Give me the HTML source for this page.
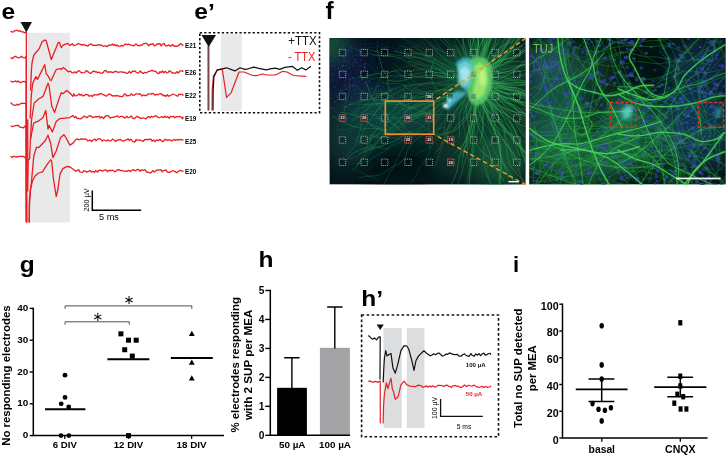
<!DOCTYPE html>
<html lang="en"><head><meta charset="utf-8"><title>Figure panels e-i</title>
<style>html,body{margin:0;padding:0;background:#fff}svg{display:block;will-change:transform}text{font-family:"Liberation Sans", sans-serif}</style></head><body>
<svg width="727" height="455" viewBox="0 0 727 455">
<rect width="727" height="455" fill="#fff"/>
<g>
<defs><clipPath id="cL"><rect x="329.4" y="38" width="196.3" height="146.6"/></clipPath><filter id="b1" x="-10%" y="-10%" width="120%" height="120%"><feGaussianBlur stdDeviation="1.1"/></filter><filter id="b04" x="-5%" y="-5%" width="110%" height="110%"><feGaussianBlur stdDeviation="0.55"/></filter><filter id="b12" x="-30%" y="-30%" width="160%" height="160%"><feGaussianBlur stdDeviation="11"/></filter></defs>
<g clip-path="url(#cL)">
<rect x="329.4" y="38" width="196.3" height="146.6" fill="#06141b"/>
<g filter="url(#b12)">
<ellipse cx="494" cy="105" rx="40" ry="85" fill="#0e402c" opacity="0.75"/>
<ellipse cx="472" cy="80" rx="28" ry="32" fill="#176a4a" opacity="0.7"/>
<ellipse cx="345" cy="72" rx="24" ry="40" fill="#121a48" opacity="0.65"/>
<ellipse cx="398" cy="114" rx="48" ry="26" fill="#114a46" opacity="0.85"/>
<ellipse cx="348" cy="135" rx="24" ry="32" fill="#0f403e" opacity="0.75"/>
<ellipse cx="400" cy="168" rx="40" ry="16" fill="#040c10" opacity="0.8"/>
<ellipse cx="425" cy="60" rx="22" ry="20" fill="#0c3a30" opacity="0.6"/>
<ellipse cx="455" cy="150" rx="22" ry="30" fill="#0e4536" opacity="0.6"/>
<ellipse cx="503" cy="162" rx="26" ry="26" fill="#1a6a44" opacity="0.6"/>
<ellipse cx="329" cy="42" rx="9" ry="14" fill="#2a8a4a" opacity="0.9"/>
</g>
<g fill="#3a46b4">
<circle cx="370.7" cy="113.55" r="0.65" opacity="0.54"/>
<circle cx="361.02" cy="124.81" r="0.72" opacity="0.56"/>
<circle cx="334.4" cy="77.37" r="0.4" opacity="0.49"/>
<circle cx="344.18" cy="72.77" r="0.72" opacity="0.42"/>
<circle cx="352.77" cy="85.89" r="0.8" opacity="0.67"/>
<circle cx="375.48" cy="51.6" r="0.41" opacity="0.46"/>
<circle cx="340.09" cy="78.21" r="0.78" opacity="0.48"/>
<circle cx="376.93" cy="119.16" r="0.45" opacity="0.76"/>
<circle cx="322.9" cy="87.93" r="0.54" opacity="0.54"/>
<circle cx="354.55" cy="84.85" r="0.75" opacity="0.42"/>
<circle cx="355.1" cy="59.87" r="0.79" opacity="0.75"/>
<circle cx="353.23" cy="32.22" r="0.63" opacity="0.66"/>
<circle cx="371.61" cy="99.37" r="0.73" opacity="0.4"/>
<circle cx="396.44" cy="51.8" r="0.56" opacity="0.48"/>
<circle cx="329.4" cy="86.03" r="0.8" opacity="0.49"/>
<circle cx="362.47" cy="80" r="0.69" opacity="0.8"/>
<circle cx="324.1" cy="78.79" r="0.62" opacity="0.67"/>
<circle cx="357.75" cy="114.43" r="0.62" opacity="0.61"/>
<circle cx="358.18" cy="92.95" r="0.54" opacity="0.76"/>
<circle cx="333.54" cy="107.91" r="0.52" opacity="0.35"/>
<circle cx="392.31" cy="97.84" r="0.71" opacity="0.49"/>
<circle cx="337.35" cy="40.97" r="0.76" opacity="0.78"/>
<circle cx="291.81" cy="122.78" r="0.78" opacity="0.6"/>
<circle cx="372.71" cy="56.98" r="0.55" opacity="0.42"/>
<circle cx="362.17" cy="66.72" r="0.43" opacity="0.7"/>
<circle cx="356.13" cy="47.33" r="0.73" opacity="0.33"/>
<circle cx="351.01" cy="100.31" r="0.57" opacity="0.39"/>
<circle cx="371.76" cy="88.37" r="0.76" opacity="0.79"/>
<circle cx="351.29" cy="47.18" r="0.5" opacity="0.78"/>
<circle cx="313.74" cy="71.01" r="0.41" opacity="0.41"/>
<circle cx="374.51" cy="37.12" r="0.75" opacity="0.6"/>
<circle cx="323.69" cy="93.95" r="0.74" opacity="0.45"/>
<circle cx="333.16" cy="73.36" r="0.71" opacity="0.31"/>
<circle cx="328.45" cy="16.46" r="0.41" opacity="0.6"/>
<circle cx="323" cy="36.55" r="0.63" opacity="0.43"/>
<circle cx="301.75" cy="116.1" r="0.76" opacity="0.37"/>
<circle cx="360.82" cy="84.73" r="0.41" opacity="0.52"/>
<circle cx="382.56" cy="119.99" r="0.66" opacity="0.36"/>
<circle cx="331.37" cy="72.25" r="0.6" opacity="0.41"/>
<circle cx="359.7" cy="92.88" r="0.55" opacity="0.65"/>
<circle cx="344.98" cy="75.43" r="0.68" opacity="0.74"/>
<circle cx="358.44" cy="30.8" r="0.4" opacity="0.53"/>
<circle cx="389.58" cy="95.82" r="0.47" opacity="0.66"/>
<circle cx="351.32" cy="119.7" r="0.53" opacity="0.32"/>
<circle cx="336.18" cy="92.94" r="0.76" opacity="0.45"/>
<circle cx="321.7" cy="77.33" r="0.78" opacity="0.35"/>
<circle cx="328.99" cy="58.9" r="0.69" opacity="0.78"/>
<circle cx="338.27" cy="116.91" r="0.61" opacity="0.58"/>
<circle cx="392.58" cy="97.32" r="0.79" opacity="0.48"/>
<circle cx="320.53" cy="155.63" r="0.44" opacity="0.34"/>
<circle cx="391.45" cy="100.03" r="0.7" opacity="0.52"/>
<circle cx="348.53" cy="74.27" r="0.66" opacity="0.52"/>
<circle cx="328.3" cy="75.07" r="0.56" opacity="0.41"/>
<circle cx="376.41" cy="86.7" r="0.5" opacity="0.65"/>
<circle cx="367.8" cy="38.5" r="0.58" opacity="0.42"/>
<circle cx="331.16" cy="98.56" r="0.65" opacity="0.78"/>
<circle cx="375.58" cy="93.78" r="0.6" opacity="0.66"/>
<circle cx="384.24" cy="48.18" r="0.65" opacity="0.68"/>
<circle cx="328.6" cy="31.5" r="0.68" opacity="0.64"/>
<circle cx="353.58" cy="138.17" r="0.55" opacity="0.61"/>
<circle cx="380" cy="16.01" r="0.8" opacity="0.3"/>
<circle cx="344.05" cy="99.56" r="0.56" opacity="0.37"/>
<circle cx="342.77" cy="74.39" r="0.52" opacity="0.77"/>
<circle cx="350.72" cy="47.96" r="0.44" opacity="0.78"/>
<circle cx="347.35" cy="60.43" r="0.53" opacity="0.62"/>
<circle cx="344.23" cy="58.91" r="0.78" opacity="0.46"/>
<circle cx="350.77" cy="130.15" r="0.46" opacity="0.64"/>
<circle cx="362.04" cy="112.66" r="0.51" opacity="0.49"/>
<circle cx="377.08" cy="66.98" r="0.57" opacity="0.61"/>
<circle cx="349.16" cy="94.4" r="0.55" opacity="0.44"/>
<circle cx="375.04" cy="141.64" r="0.41" opacity="0.71"/>
<circle cx="386.37" cy="61.19" r="0.41" opacity="0.55"/>
<circle cx="383.85" cy="87.02" r="0.68" opacity="0.42"/>
<circle cx="382.06" cy="79.62" r="0.44" opacity="0.45"/>
<circle cx="303.21" cy="94.28" r="0.55" opacity="0.37"/>
<circle cx="363.56" cy="29.52" r="0.61" opacity="0.32"/>
<circle cx="361.32" cy="103.34" r="0.62" opacity="0.41"/>
<circle cx="366.94" cy="28.79" r="0.77" opacity="0.74"/>
<circle cx="383.51" cy="81.94" r="0.43" opacity="0.75"/>
<circle cx="351.22" cy="32.44" r="0.48" opacity="0.33"/>
<circle cx="365.06" cy="44.17" r="0.65" opacity="0.54"/>
<circle cx="358.75" cy="54.68" r="0.51" opacity="0.48"/>
<circle cx="341.99" cy="114.21" r="0.76" opacity="0.34"/>
<circle cx="378.18" cy="91.33" r="0.67" opacity="0.39"/>
<circle cx="350.96" cy="87.32" r="0.41" opacity="0.55"/>
<circle cx="337.28" cy="42.37" r="0.46" opacity="0.35"/>
<circle cx="379.08" cy="63.87" r="0.56" opacity="0.65"/>
<circle cx="347.93" cy="45.39" r="0.43" opacity="0.71"/>
<circle cx="353.56" cy="85.56" r="0.54" opacity="0.57"/>
<circle cx="341.72" cy="65.95" r="0.68" opacity="0.55"/>
<circle cx="376.59" cy="122.83" r="0.72" opacity="0.75"/>
<circle cx="344.8" cy="60.92" r="0.71" opacity="0.75"/>
<circle cx="300.66" cy="65.75" r="0.79" opacity="0.5"/>
<circle cx="404.67" cy="55.32" r="0.72" opacity="0.31"/>
<circle cx="332.22" cy="107.86" r="0.64" opacity="0.68"/>
<circle cx="343.4" cy="65.22" r="0.77" opacity="0.57"/>
<circle cx="364.03" cy="65.56" r="0.8" opacity="0.58"/>
<circle cx="358.3" cy="34.26" r="0.75" opacity="0.48"/>
<circle cx="373.24" cy="91.69" r="0.47" opacity="0.57"/>
<circle cx="361.04" cy="54.5" r="0.45" opacity="0.31"/>
<circle cx="324" cy="94.56" r="0.41" opacity="0.63"/>
<circle cx="354.78" cy="90.46" r="0.77" opacity="0.56"/>
<circle cx="374.79" cy="58.13" r="0.45" opacity="0.42"/>
<circle cx="321.47" cy="95.7" r="0.71" opacity="0.68"/>
<circle cx="341.3" cy="61.26" r="0.57" opacity="0.49"/>
<circle cx="333.19" cy="79.39" r="0.62" opacity="0.53"/>
<circle cx="395.55" cy="89.13" r="0.63" opacity="0.7"/>
<circle cx="348.72" cy="34.41" r="0.8" opacity="0.49"/>
<circle cx="350.37" cy="79.45" r="0.67" opacity="0.59"/>
<circle cx="277.94" cy="34.6" r="0.48" opacity="0.41"/>
<circle cx="347.63" cy="28.85" r="0.59" opacity="0.33"/>
<circle cx="321.17" cy="114.74" r="0.6" opacity="0.53"/>
<circle cx="326.05" cy="102.32" r="0.64" opacity="0.65"/>
<circle cx="378.53" cy="44.26" r="0.55" opacity="0.43"/>
<circle cx="360.48" cy="31.04" r="0.77" opacity="0.4"/>
<circle cx="381.08" cy="31.57" r="0.43" opacity="0.45"/>
<circle cx="342.99" cy="66.7" r="0.73" opacity="0.43"/>
<circle cx="343.71" cy="57.4" r="0.49" opacity="0.4"/>
<circle cx="314.08" cy="78.65" r="0.49" opacity="0.64"/>
<circle cx="334.3" cy="111.63" r="0.55" opacity="0.4"/>
<circle cx="357.24" cy="85.21" r="0.68" opacity="0.51"/>
<circle cx="387.37" cy="116.92" r="0.66" opacity="0.31"/>
<circle cx="346.9" cy="42.17" r="0.58" opacity="0.55"/>
<circle cx="374.57" cy="71.86" r="0.65" opacity="0.62"/>
<circle cx="337.29" cy="96.6" r="0.7" opacity="0.62"/>
<circle cx="324.23" cy="86.67" r="0.49" opacity="0.69"/>
<circle cx="386.19" cy="82.83" r="0.58" opacity="0.41"/>
<circle cx="324.86" cy="59.47" r="0.43" opacity="0.55"/>
<circle cx="373.87" cy="119.65" r="0.53" opacity="0.46"/>
<circle cx="353.63" cy="86.28" r="0.47" opacity="0.38"/>
<circle cx="318.93" cy="41.18" r="0.49" opacity="0.36"/>
<circle cx="340.38" cy="75.12" r="0.56" opacity="0.68"/>
<circle cx="362.8" cy="118.08" r="0.62" opacity="0.34"/>
<circle cx="353.52" cy="114.48" r="0.44" opacity="0.4"/>
<circle cx="312.74" cy="54.89" r="0.61" opacity="0.63"/>
<circle cx="372.34" cy="79.31" r="0.53" opacity="0.76"/>
<circle cx="325.69" cy="114.93" r="0.41" opacity="0.55"/>
<circle cx="384" cy="48.76" r="0.63" opacity="0.39"/>
<circle cx="360.75" cy="73.08" r="0.79" opacity="0.69"/>
<circle cx="346.42" cy="45.39" r="0.47" opacity="0.47"/>
<circle cx="333.95" cy="44.18" r="0.56" opacity="0.7"/>
<circle cx="370.65" cy="85.32" r="0.44" opacity="0.46"/>
<circle cx="362.7" cy="34.45" r="0.46" opacity="0.45"/>
<circle cx="378.93" cy="103.75" r="0.58" opacity="0.42"/>
<circle cx="318.2" cy="116.42" r="0.57" opacity="0.65"/>
<circle cx="333.1" cy="56.01" r="0.62" opacity="0.48"/>
<circle cx="360.94" cy="107.89" r="0.52" opacity="0.47"/>
<circle cx="372.61" cy="133.03" r="0.57" opacity="0.4"/>
<circle cx="368.34" cy="81.71" r="0.75" opacity="0.47"/>
<circle cx="343.35" cy="61.05" r="0.66" opacity="0.53"/>
<circle cx="349.49" cy="45.01" r="0.55" opacity="0.44"/>
<circle cx="314.4" cy="49.54" r="0.68" opacity="0.54"/>
<circle cx="328.05" cy="128.11" r="0.74" opacity="0.37"/>
<circle cx="334.25" cy="36.08" r="0.67" opacity="0.78"/>
<circle cx="365.07" cy="64.02" r="0.8" opacity="0.46"/>
<circle cx="304.16" cy="128.65" r="0.47" opacity="0.5"/>
<circle cx="338.53" cy="62.67" r="0.51" opacity="0.7"/>
<circle cx="321.88" cy="49.06" r="0.72" opacity="0.74"/>
<circle cx="387.07" cy="46.83" r="0.79" opacity="0.55"/>
<circle cx="343.37" cy="47.06" r="0.79" opacity="0.63"/>
<circle cx="319.87" cy="94.85" r="0.52" opacity="0.36"/>
<circle cx="342.16" cy="87.6" r="0.4" opacity="0.35"/>
<circle cx="312.92" cy="90.97" r="0.42" opacity="0.62"/>
<circle cx="373.95" cy="98.77" r="0.52" opacity="0.52"/>
<circle cx="346.13" cy="50.91" r="0.56" opacity="0.66"/>
<circle cx="368.6" cy="94.64" r="0.68" opacity="0.72"/>
<circle cx="370.35" cy="75.31" r="0.65" opacity="0.46"/>
<circle cx="338.16" cy="28.13" r="0.45" opacity="0.47"/>
<circle cx="372.6" cy="68.18" r="0.65" opacity="0.71"/>
<circle cx="344.47" cy="124.46" r="0.4" opacity="0.47"/>
<circle cx="363.03" cy="99.56" r="0.49" opacity="0.31"/>
<circle cx="356.85" cy="62.25" r="0.63" opacity="0.58"/>
<circle cx="379.21" cy="35.58" r="0.65" opacity="0.38"/>
<circle cx="352.74" cy="65.8" r="0.77" opacity="0.45"/>
<circle cx="351.71" cy="96.86" r="0.56" opacity="0.7"/>
<circle cx="376.33" cy="42.66" r="0.69" opacity="0.42"/>
<circle cx="343.16" cy="98.73" r="0.57" opacity="0.74"/>
<circle cx="362.04" cy="77.71" r="0.79" opacity="0.76"/>
<circle cx="316.23" cy="88.08" r="0.71" opacity="0.39"/>
<circle cx="301.31" cy="27.19" r="0.75" opacity="0.76"/>
<circle cx="384.75" cy="99.71" r="0.59" opacity="0.75"/>
<circle cx="367.1" cy="107.52" r="0.45" opacity="0.7"/>
<circle cx="350.96" cy="71.31" r="0.52" opacity="0.37"/>
<circle cx="329.69" cy="49.37" r="0.43" opacity="0.78"/>
<circle cx="377.26" cy="71.7" r="0.63" opacity="0.48"/>
<circle cx="332.99" cy="61.16" r="0.58" opacity="0.67"/>
<circle cx="359.85" cy="98.94" r="0.71" opacity="0.41"/>
<circle cx="400" cy="102.91" r="0.46" opacity="0.51"/>
<circle cx="344.74" cy="97.38" r="0.54" opacity="0.57"/>
<circle cx="374.09" cy="100.21" r="0.42" opacity="0.34"/>
<circle cx="357.27" cy="97.12" r="0.54" opacity="0.45"/>
<circle cx="370.25" cy="44.19" r="0.59" opacity="0.69"/>
<circle cx="343.81" cy="56.38" r="0.65" opacity="0.67"/>
<circle cx="312.82" cy="68.34" r="0.65" opacity="0.76"/>
<circle cx="348.83" cy="118.13" r="0.79" opacity="0.56"/>
<circle cx="360.86" cy="71.25" r="0.69" opacity="0.43"/>
<circle cx="352.05" cy="49.66" r="0.61" opacity="0.42"/>
<circle cx="349.87" cy="132.03" r="0.66" opacity="0.61"/>
<circle cx="366.93" cy="92.95" r="0.79" opacity="0.4"/>
<circle cx="315.98" cy="68.18" r="0.6" opacity="0.58"/>
<circle cx="393.12" cy="69.23" r="0.49" opacity="0.52"/>
<circle cx="320.12" cy="97.81" r="0.67" opacity="0.43"/>
<circle cx="342.97" cy="51.17" r="0.41" opacity="0.45"/>
<circle cx="340.63" cy="90.49" r="0.67" opacity="0.8"/>
<circle cx="382.74" cy="62.13" r="0.74" opacity="0.55"/>
<circle cx="308.52" cy="48.4" r="0.42" opacity="0.48"/>
<circle cx="336.59" cy="95.54" r="0.57" opacity="0.33"/>
<circle cx="326.06" cy="16.93" r="0.49" opacity="0.39"/>
<circle cx="330.28" cy="119.52" r="0.49" opacity="0.69"/>
<circle cx="367.06" cy="110.11" r="0.69" opacity="0.64"/>
<circle cx="403.86" cy="112.23" r="0.74" opacity="0.54"/>
<circle cx="372.64" cy="49.71" r="0.47" opacity="0.5"/>
<circle cx="363.52" cy="50.79" r="0.42" opacity="0.38"/>
<circle cx="364.44" cy="111.02" r="0.66" opacity="0.52"/>
<circle cx="301.34" cy="117.39" r="0.54" opacity="0.64"/>
<circle cx="360.12" cy="109.13" r="0.47" opacity="0.36"/>
<circle cx="345.85" cy="89.41" r="0.55" opacity="0.63"/>
<circle cx="311.25" cy="63.39" r="0.59" opacity="0.34"/>
<circle cx="348.55" cy="50.9" r="0.7" opacity="0.79"/>
<circle cx="333.99" cy="74.89" r="0.54" opacity="0.55"/>
<circle cx="347.33" cy="89.33" r="0.56" opacity="0.63"/>
<circle cx="368.38" cy="36.15" r="0.75" opacity="0.7"/>
<circle cx="322.7" cy="98.51" r="0.42" opacity="0.7"/>
<circle cx="347.08" cy="57.53" r="0.59" opacity="0.44"/>
<circle cx="359.08" cy="50.66" r="0.71" opacity="0.76"/>
<circle cx="356.06" cy="51.99" r="0.54" opacity="0.77"/>
<circle cx="364.85" cy="68.11" r="0.54" opacity="0.69"/>
<circle cx="352.79" cy="55.99" r="0.58" opacity="0.78"/>
<circle cx="368.21" cy="89.6" r="0.67" opacity="0.75"/>
<circle cx="377.53" cy="68.04" r="0.72" opacity="0.79"/>
<circle cx="343.74" cy="95.03" r="0.5" opacity="0.69"/>
<circle cx="371.31" cy="104.11" r="0.77" opacity="0.4"/>
<circle cx="331.65" cy="54" r="0.79" opacity="0.56"/>
<circle cx="300.18" cy="81.35" r="0.7" opacity="0.37"/>
<circle cx="360.03" cy="52.29" r="0.79" opacity="0.78"/>
<circle cx="327.13" cy="79.19" r="0.49" opacity="0.44"/>
<circle cx="355.97" cy="93.77" r="0.69" opacity="0.33"/>
<circle cx="325.65" cy="56.81" r="0.69" opacity="0.58"/>
<circle cx="369.5" cy="68.32" r="0.44" opacity="0.59"/>
<circle cx="343.34" cy="157.8" r="0.77" opacity="0.64"/>
<circle cx="361.02" cy="60.51" r="0.59" opacity="0.49"/>
<circle cx="338.93" cy="99.59" r="0.59" opacity="0.63"/>
<circle cx="381.51" cy="83.3" r="0.45" opacity="0.78"/>
<circle cx="321.66" cy="66.49" r="0.53" opacity="0.65"/>
<circle cx="338.91" cy="20.59" r="0.63" opacity="0.43"/>
<circle cx="346.67" cy="71.73" r="0.7" opacity="0.45"/>
<circle cx="349.56" cy="63.9" r="0.64" opacity="0.38"/>
<circle cx="370.29" cy="82.81" r="0.74" opacity="0.49"/>
<circle cx="310.01" cy="71.18" r="0.79" opacity="0.43"/>
<circle cx="337.58" cy="33.77" r="0.72" opacity="0.47"/>
<circle cx="310.53" cy="85.58" r="0.5" opacity="0.54"/>
<circle cx="320.69" cy="38.79" r="0.5" opacity="0.63"/>
<circle cx="354.87" cy="93.44" r="0.59" opacity="0.62"/>
<circle cx="314.83" cy="27.36" r="0.47" opacity="0.57"/>
<circle cx="333.57" cy="80.62" r="0.77" opacity="0.37"/>
<circle cx="351.54" cy="85.74" r="0.66" opacity="0.63"/>
<circle cx="360.93" cy="138.13" r="0.65" opacity="0.4"/>
<circle cx="395.9" cy="59.05" r="0.53" opacity="0.73"/>
<circle cx="367.16" cy="96.23" r="0.57" opacity="0.78"/>
<circle cx="344.86" cy="103.42" r="0.48" opacity="0.71"/>
<circle cx="370.89" cy="125.88" r="0.54" opacity="0.57"/>
<circle cx="365.5" cy="63.11" r="0.61" opacity="0.62"/>
<circle cx="330.32" cy="65.05" r="0.66" opacity="0.46"/>
<circle cx="353.81" cy="80.99" r="0.64" opacity="0.59"/>
<circle cx="356.3" cy="62.99" r="0.67" opacity="0.53"/>
<circle cx="307.27" cy="70.02" r="0.61" opacity="0.52"/>
<circle cx="343.72" cy="65.9" r="0.75" opacity="0.56"/>
<circle cx="378.54" cy="86.14" r="0.78" opacity="0.79"/>
<circle cx="335.13" cy="87.47" r="0.77" opacity="0.44"/>
<circle cx="369.97" cy="80.29" r="0.59" opacity="0.64"/>
<circle cx="371.77" cy="87.94" r="0.69" opacity="0.47"/>
<circle cx="369.04" cy="115.99" r="0.57" opacity="0.65"/>
<circle cx="308.3" cy="82.88" r="0.6" opacity="0.79"/>
<circle cx="366.82" cy="38.17" r="0.6" opacity="0.6"/>
<circle cx="345.17" cy="85.53" r="0.75" opacity="0.7"/>
<circle cx="357.05" cy="24.84" r="0.62" opacity="0.8"/>
<circle cx="285.53" cy="90.7" r="0.43" opacity="0.49"/>
<circle cx="312.02" cy="56.45" r="0.61" opacity="0.7"/>
<circle cx="326.68" cy="106.93" r="0.72" opacity="0.6"/>
<circle cx="386.81" cy="83.15" r="0.4" opacity="0.45"/>
<circle cx="382.62" cy="108.25" r="0.47" opacity="0.66"/>
<circle cx="366.69" cy="86.07" r="0.68" opacity="0.76"/>
<circle cx="381.84" cy="94.2" r="0.56" opacity="0.61"/>
<circle cx="355.91" cy="80.32" r="0.43" opacity="0.75"/>
<circle cx="319.01" cy="80.21" r="0.45" opacity="0.64"/>
<circle cx="364.96" cy="67.56" r="0.71" opacity="0.72"/>
<circle cx="382.96" cy="76.29" r="0.66" opacity="0.47"/>
<circle cx="355.99" cy="55.16" r="0.65" opacity="0.61"/>
<circle cx="394.13" cy="74.81" r="0.44" opacity="0.39"/>
<circle cx="336.96" cy="99.2" r="0.69" opacity="0.43"/>
<circle cx="327.46" cy="67.28" r="0.52" opacity="0.62"/>
<circle cx="290.71" cy="108.33" r="0.45" opacity="0.75"/>
<circle cx="334.68" cy="55.28" r="0.43" opacity="0.62"/>
<circle cx="359.32" cy="54.34" r="0.69" opacity="0.57"/>
<circle cx="392.1" cy="106.73" r="0.52" opacity="0.54"/>
<circle cx="355.53" cy="22.97" r="0.74" opacity="0.48"/>
<circle cx="359.92" cy="65.26" r="0.62" opacity="0.52"/>
<circle cx="377.59" cy="45.77" r="0.66" opacity="0.71"/>
<circle cx="337.03" cy="101.92" r="0.44" opacity="0.48"/>
<circle cx="364.15" cy="119.59" r="0.45" opacity="0.76"/>
<circle cx="330.91" cy="60.72" r="0.45" opacity="0.52"/>
<circle cx="339.67" cy="72.12" r="0.79" opacity="0.48"/>
<circle cx="333.98" cy="86.84" r="0.55" opacity="0.44"/>
<circle cx="357.63" cy="69.74" r="0.55" opacity="0.6"/>
<circle cx="330.92" cy="81.07" r="0.59" opacity="0.33"/>
<circle cx="342.96" cy="105.01" r="0.71" opacity="0.52"/>
<circle cx="321.87" cy="97.97" r="0.51" opacity="0.58"/>
<circle cx="363.31" cy="113.18" r="0.62" opacity="0.63"/>
<circle cx="382.17" cy="43.95" r="0.8" opacity="0.42"/>
<circle cx="376.95" cy="69.64" r="0.55" opacity="0.53"/>
<circle cx="404.48" cy="46.14" r="0.72" opacity="0.45"/>
<circle cx="363.89" cy="90.37" r="0.67" opacity="0.65"/>
<circle cx="353.87" cy="78.92" r="0.8" opacity="0.47"/>
<circle cx="377.94" cy="85.83" r="0.44" opacity="0.71"/>
<circle cx="319.53" cy="71.17" r="0.77" opacity="0.36"/>
<circle cx="361.17" cy="124.34" r="0.64" opacity="0.52"/>
<circle cx="331.36" cy="107.49" r="0.78" opacity="0.77"/>
<circle cx="409.74" cy="40.9" r="0.45" opacity="0.31"/>
<circle cx="360.63" cy="60.12" r="0.61" opacity="0.53"/>
<circle cx="377.6" cy="73.2" r="0.45" opacity="0.4"/>
<circle cx="388.31" cy="49.75" r="0.46" opacity="0.78"/>
<circle cx="325.2" cy="109.39" r="0.63" opacity="0.73"/>
<circle cx="346.13" cy="78.44" r="0.62" opacity="0.73"/>
<circle cx="313.96" cy="104.87" r="0.58" opacity="0.48"/>
<circle cx="341.06" cy="93.06" r="0.6" opacity="0.78"/>
<circle cx="317.48" cy="53.1" r="0.47" opacity="0.48"/>
<circle cx="331.32" cy="65.17" r="0.4" opacity="0.73"/>
<circle cx="376.24" cy="106.71" r="0.79" opacity="0.44"/>
<circle cx="349.34" cy="102.04" r="0.62" opacity="0.79"/>
<circle cx="363.06" cy="93.97" r="0.76" opacity="0.44"/>
<circle cx="332.89" cy="40.55" r="0.4" opacity="0.31"/>
<circle cx="355.06" cy="17.64" r="0.68" opacity="0.53"/>
<circle cx="375.65" cy="97.59" r="0.44" opacity="0.46"/>
<circle cx="380.17" cy="85.12" r="0.59" opacity="0.44"/>
<circle cx="353.59" cy="87.83" r="0.41" opacity="0.36"/>
<circle cx="358.2" cy="77.23" r="0.69" opacity="0.53"/>
<circle cx="334.56" cy="65.96" r="0.79" opacity="0.7"/>
<circle cx="330.94" cy="94.18" r="0.77" opacity="0.38"/>
<circle cx="375.44" cy="51.31" r="0.63" opacity="0.57"/>
<circle cx="343.19" cy="71.63" r="0.5" opacity="0.48"/>
<circle cx="353.82" cy="89.24" r="0.69" opacity="0.51"/>
<circle cx="350.67" cy="51.11" r="0.78" opacity="0.42"/>
<circle cx="326.91" cy="75.8" r="0.72" opacity="0.37"/>
<circle cx="326.7" cy="69.56" r="0.65" opacity="0.42"/>
<circle cx="284.88" cy="57.21" r="0.44" opacity="0.79"/>
<circle cx="377.6" cy="71.89" r="0.43" opacity="0.55"/>
<circle cx="353.07" cy="77.72" r="0.7" opacity="0.69"/>
<circle cx="376.39" cy="102.37" r="0.46" opacity="0.35"/>
<circle cx="331.99" cy="74.97" r="0.66" opacity="0.56"/>
<circle cx="358.95" cy="138.17" r="0.4" opacity="0.7"/>
<circle cx="341.73" cy="134.67" r="0.64" opacity="0.53"/>
<circle cx="362.02" cy="130" r="0.74" opacity="0.78"/>
<circle cx="305.84" cy="45.22" r="0.76" opacity="0.63"/>
<circle cx="334.72" cy="109.17" r="0.54" opacity="0.71"/>
<circle cx="306.45" cy="60.3" r="0.76" opacity="0.68"/>
<circle cx="358.3" cy="101.34" r="0.43" opacity="0.47"/>
<circle cx="363.13" cy="97.05" r="0.72" opacity="0.36"/>
<circle cx="399.1" cy="47.88" r="0.71" opacity="0.42"/>
<circle cx="345.31" cy="106.9" r="0.65" opacity="0.76"/>
<circle cx="362.1" cy="79.46" r="0.73" opacity="0.31"/>
<circle cx="364.1" cy="67.26" r="0.79" opacity="0.54"/>
<circle cx="316.76" cy="46.86" r="0.73" opacity="0.51"/>
<circle cx="311" cy="89.76" r="0.5" opacity="0.45"/>
<circle cx="386.18" cy="37.54" r="0.73" opacity="0.47"/>
<circle cx="345.8" cy="88.58" r="0.73" opacity="0.32"/>
<circle cx="354.16" cy="83.45" r="0.58" opacity="0.8"/>
<circle cx="368.53" cy="86.82" r="0.51" opacity="0.65"/>
<circle cx="342.8" cy="91.09" r="0.68" opacity="0.75"/>
<circle cx="356.41" cy="86.39" r="0.56" opacity="0.77"/>
<circle cx="364.18" cy="83.37" r="0.66" opacity="0.68"/>
<circle cx="345.04" cy="80.44" r="0.62" opacity="0.35"/>
<circle cx="359.34" cy="82.13" r="0.77" opacity="0.35"/>
<circle cx="308.02" cy="85.79" r="0.48" opacity="0.49"/>
<circle cx="360.39" cy="44.49" r="0.48" opacity="0.57"/>
<circle cx="396.33" cy="76.36" r="0.79" opacity="0.31"/>
<circle cx="378.49" cy="89.43" r="0.41" opacity="0.78"/>
<circle cx="344.07" cy="110.92" r="0.75" opacity="0.51"/>
<circle cx="353.35" cy="62.43" r="0.58" opacity="0.66"/>
<circle cx="336.94" cy="81.44" r="0.74" opacity="0.48"/>
<circle cx="369.8" cy="65.76" r="0.73" opacity="0.36"/>
<circle cx="325.15" cy="18.81" r="0.65" opacity="0.51"/>
<circle cx="414.04" cy="69.5" r="0.73" opacity="0.41"/>
<circle cx="380.01" cy="97.78" r="0.45" opacity="0.33"/>
<circle cx="297.76" cy="55.9" r="0.51" opacity="0.71"/>
<circle cx="407.48" cy="62.29" r="0.43" opacity="0.37"/>
<circle cx="411.76" cy="58.59" r="0.47" opacity="0.39"/>
<circle cx="349.45" cy="66.15" r="0.44" opacity="0.38"/>
<circle cx="331.62" cy="65.72" r="0.74" opacity="0.38"/>
<circle cx="385.69" cy="49.36" r="0.55" opacity="0.6"/>
<circle cx="346.56" cy="65.66" r="0.77" opacity="0.52"/>
<circle cx="305.27" cy="73.07" r="0.41" opacity="0.43"/>
<circle cx="390.46" cy="86.5" r="0.49" opacity="0.66"/>
<circle cx="336.01" cy="-9.37" r="0.47" opacity="0.51"/>
<circle cx="358.18" cy="49.57" r="0.47" opacity="0.64"/>
<circle cx="359.2" cy="49.73" r="0.55" opacity="0.37"/>
<circle cx="313.83" cy="106.81" r="0.54" opacity="0.78"/>
<circle cx="334.91" cy="101.93" r="0.71" opacity="0.76"/>
<circle cx="366.09" cy="54.58" r="0.58" opacity="0.36"/>
<circle cx="308.91" cy="66.1" r="0.48" opacity="0.46"/>
<circle cx="376.18" cy="89.92" r="0.59" opacity="0.79"/>
<circle cx="326.18" cy="25.07" r="0.48" opacity="0.52"/>
<circle cx="349.21" cy="67.88" r="0.63" opacity="0.61"/>
<circle cx="367.95" cy="81.07" r="0.71" opacity="0.38"/>
<circle cx="335.72" cy="56.49" r="0.56" opacity="0.74"/>
<circle cx="312.7" cy="111.61" r="0.73" opacity="0.58"/>
<circle cx="369.37" cy="92.5" r="0.78" opacity="0.43"/>
<circle cx="338.45" cy="68.28" r="0.69" opacity="0.64"/>
<circle cx="376.81" cy="54.89" r="0.44" opacity="0.7"/>
<circle cx="300.97" cy="48.2" r="0.61" opacity="0.46"/>
<circle cx="323.13" cy="90.12" r="0.68" opacity="0.62"/>
<circle cx="371.22" cy="52.47" r="0.48" opacity="0.73"/>
<circle cx="348.61" cy="62.62" r="0.58" opacity="0.73"/>
<circle cx="341.16" cy="71.6" r="0.75" opacity="0.67"/>
<circle cx="364.03" cy="117.3" r="0.75" opacity="0.59"/>
<circle cx="380.26" cy="67.28" r="0.4" opacity="0.63"/>
<circle cx="377.81" cy="25.33" r="0.7" opacity="0.77"/>
<circle cx="360.92" cy="49.1" r="0.42" opacity="0.38"/>
<circle cx="404.1" cy="96.73" r="0.72" opacity="0.75"/>
<circle cx="356.44" cy="48.74" r="0.63" opacity="0.31"/>
<circle cx="364.98" cy="101.07" r="0.42" opacity="0.46"/>
</g>
<g fill="none" stroke="#35b055" stroke-linecap="round" filter="url(#b04)">
<path d="M479.64 93.71C480.0 94.7 481.2 97.5 481.8 99.5C482.4 101.4 483.0 103.4 483.3 105.4C483.6 107.4 483.8 109.5 483.8 111.5C483.8 113.6 483.4 115.6 483.3 117.7C483.1 119.7 482.7 121.8 482.8 123.8C482.9 125.8 483.3 127.9 483.8 129.8C484.3 131.8 485.0 133.8 485.8 135.6C486.6 137.5 487.6 139.3 488.6 141.1C489.6 142.9 490.8 144.6 491.8 146.4C492.8 148.1 493.8 150.0 494.7 151.8C495.7 153.6 496.6 155.4 497.7 157.2C498.7 158.9 499.9 160.6 501.2 162.2C502.5 163.7 504.2 165.0 505.6 166.5C506.9 168.0 508.3 169.6 509.4 171.3C510.4 173.1 511.0 175.1 511.7 177.0C512.4 178.9 513.2 181.9 513.5 182.9" stroke-width="0.47" opacity="0.65"/>
<path d="M479.32 62.8C479.8 61.8 481.3 58.8 482.0 56.8C482.7 54.7 482.8 52.4 483.5 50.4C484.2 48.3 485.3 46.4 486.2 44.4C487.1 42.4 488.3 40.5 489.1 38.5C489.9 36.4 490.3 34.2 491.0 32.1C491.7 30.1 492.4 28.0 493.3 26.0C494.3 24.0 495.6 22.2 496.7 20.3C497.7 18.4 498.9 16.5 499.8 14.5C500.8 12.6 501.4 10.4 502.4 8.5C503.4 6.5 504.4 4.5 505.7 2.8C507.0 1.0 508.6 -0.6 510.3 -1.9C512.0 -3.2 514.2 -4.1 516.0 -5.3C517.8 -6.5 519.5 -7.9 521.3 -9.2C523.0 -10.5 524.8 -11.8 526.5 -13.2C528.2 -14.6 530.0 -15.9 531.5 -17.5C533.0 -19.1 534.2 -21.0 535.5 -22.7C536.9 -24.4 539.0 -26.9 539.7 -27.8" stroke-width="0.54" opacity="0.54"/>
<path d="M482.35 64.01C482.6 62.8 483.2 59.1 483.7 56.7C484.1 54.2 484.3 51.7 484.8 49.3C485.4 46.9 486.3 44.5 487.1 42.2C488.0 39.8 488.7 37.4 489.9 35.2C491.0 33.0 492.8 31.2 493.9 28.9C495.0 26.7 495.5 24.2 496.5 21.9C497.5 19.6 498.9 17.5 500.0 15.3C501.1 13.1 502.2 10.9 503.4 8.6C504.5 6.4 505.8 4.3 506.8 2.0C507.8 -0.3 508.5 -2.7 509.1 -5.1C509.7 -7.5 510.3 -11.2 510.5 -12.4" stroke-width="0.87" opacity="0.55"/>
<path d="M487.89 91.92C488.6 92.4 490.8 94.2 492.3 95.0C493.9 95.9 495.6 96.6 497.3 97.2C499.1 97.8 500.9 98.0 502.7 98.5C504.4 98.9 506.1 99.5 507.9 100.0C509.6 100.5 511.4 101.0 513.1 101.5C514.9 102.1 516.6 102.5 518.3 103.2C520.0 103.9 521.6 104.7 523.2 105.5C524.9 106.3 526.6 107.0 528.1 108.0C529.6 109.0 531.1 110.1 532.3 111.4C533.6 112.7 534.6 114.3 535.7 115.7C536.8 117.1 537.9 118.6 539.0 120.0C540.2 121.4 542.1 123.4 542.7 124.1" stroke-width="0.65" opacity="0.42"/>
<path d="M482.68 99.84C483.1 100.8 484.7 103.4 485.3 105.4C485.9 107.3 486.2 109.3 486.4 111.4C486.7 113.4 486.6 115.4 486.9 117.4C487.2 119.5 487.4 121.5 488.0 123.4C488.5 125.4 489.6 127.2 490.2 129.1C490.7 131.1 490.8 133.2 491.1 135.2C491.5 137.2 491.8 139.2 492.2 141.2C492.6 143.2 493.4 146.1 493.6 147.1" stroke-width="0.46" opacity="0.53"/>
<path d="M483.85 95.86C484.4 96.7 486.2 99.1 487.2 100.8C488.2 102.5 489.1 104.3 489.9 106.2C490.6 108.0 490.9 110.0 491.4 111.9C492.0 113.8 492.8 115.7 493.3 117.6C493.8 119.5 494.2 121.5 494.4 123.5C494.6 125.5 494.7 127.5 494.6 129.5C494.4 131.4 494.0 133.4 493.6 135.4C493.2 137.3 492.9 139.3 492.2 141.2C491.5 143.0 489.8 145.5 489.3 146.4" stroke-width="0.77" opacity="0.44"/>
<path d="M467.58 103.54C467.4 104.5 466.4 107.3 466.2 109.3C466.0 111.2 466.1 113.2 466.4 115.1C466.7 117.1 467.7 118.9 468.0 120.8C468.4 122.7 468.2 124.7 468.4 126.7C468.7 128.6 469.0 130.6 469.6 132.4C470.1 134.3 471.1 136.1 472.0 137.8C472.9 139.6 473.8 141.3 475.0 142.9C476.1 144.5 477.5 145.9 478.7 147.4C479.9 148.9 481.0 150.7 482.3 152.0C483.7 153.4 485.5 154.4 487.0 155.7C488.5 156.9 490.1 158.1 491.6 159.4C493.0 160.7 494.4 162.1 495.8 163.4C497.2 164.8 498.6 166.1 500.0 167.6C501.3 169.0 502.5 170.6 503.9 171.9C505.4 173.3 506.9 174.5 508.5 175.7C510.0 176.9 511.7 177.9 513.2 179.2C514.7 180.4 516.0 182.0 517.4 183.3C518.9 184.5 520.7 185.5 522.1 186.8C523.5 188.1 524.6 189.8 526.1 191.2C527.5 192.5 530.0 194.2 530.7 194.8" stroke-width="0.64" opacity="0.75"/>
<path d="M474.13 63.79C474.0 62.6 473.9 59.0 473.4 56.7C473.0 54.4 471.8 52.3 471.3 50.0C470.8 47.7 470.5 45.3 470.5 42.9C470.5 40.6 471.0 38.2 471.2 35.9C471.5 33.5 471.3 31.1 471.7 28.8C472.1 26.5 473.0 24.2 473.9 22.0C474.7 19.9 475.7 17.6 476.9 15.6C478.1 13.6 479.8 11.9 481.2 10.0C482.5 8.0 483.6 5.9 485.0 4.0C486.4 2.1 488.1 0.4 489.6 -1.4C491.2 -3.1 492.6 -5.1 494.2 -6.8C495.9 -8.5 497.6 -10.1 499.6 -11.4C501.5 -12.8 503.9 -13.4 505.8 -14.8C507.8 -16.1 509.5 -17.8 511.2 -19.4C513.0 -21.0 514.7 -22.5 516.4 -24.2C518.0 -25.9 519.4 -27.9 521.1 -29.6C522.7 -31.3 524.4 -33.0 526.3 -34.4C528.2 -35.7 530.3 -36.9 532.5 -37.7C534.7 -38.6 538.3 -39.1 539.4 -39.4" stroke-width="0.8" opacity="0.51"/>
<path d="M487.94 99.24C488.4 99.9 489.8 102.1 490.8 103.5C491.9 104.8 493.0 106.1 494.3 107.2C495.5 108.3 497.0 109.2 498.4 110.1C499.8 111.0 501.3 111.9 502.7 112.8C504.1 113.8 505.4 115.0 506.8 115.9C508.3 116.8 509.9 117.3 511.4 118.0C512.9 118.8 514.5 119.5 515.8 120.5C517.2 121.5 518.4 122.8 519.5 124.1C520.6 125.3 521.7 126.7 522.6 128.1C523.5 129.5 524.0 131.2 524.9 132.6C525.9 134.1 527.0 135.4 528.1 136.7C529.2 137.9 530.3 139.2 531.5 140.4C532.8 141.5 534.1 142.6 535.5 143.6C536.8 144.6 538.4 145.4 539.6 146.5C540.9 147.6 542.1 148.9 543.1 150.3C544.1 151.6 545.1 154.0 545.5 154.8" stroke-width="0.53" opacity="0.58"/>
<path d="M461.17 69.6C460.4 69.1 458.1 67.9 456.7 66.8C455.3 65.7 454.3 64.2 452.8 63.1C451.4 62.1 449.8 61.4 448.2 60.6C446.6 59.8 444.9 59.2 443.5 58.2C442.0 57.2 440.9 55.8 439.5 54.7C438.2 53.5 436.1 51.9 435.4 51.3" stroke-width="0.41" opacity="0.41"/>
<path d="M459.33 63.63C458.5 62.9 456.2 60.4 454.5 59.1C452.7 57.8 450.6 57.0 448.7 55.8C446.9 54.7 444.9 53.6 443.3 52.1C441.6 50.7 440.2 49.0 438.8 47.3C437.4 45.6 436.0 43.8 434.9 41.9C433.9 40.0 433.0 37.9 432.4 35.8C431.9 33.6 431.8 30.3 431.7 29.2" stroke-width="0.46" opacity="0.27"/>
<path d="M459.47 82.61C458.4 83.1 455.2 84.7 452.9 85.3C450.7 85.8 448.3 86.1 445.9 86.1C443.6 86.1 441.3 85.6 438.9 85.4C436.6 85.1 434.3 84.9 431.9 84.7C429.6 84.4 427.3 83.8 424.9 83.8C422.6 83.8 420.3 84.5 418.0 84.8C415.6 85.0 413.3 85.0 410.9 85.3C408.6 85.6 405.2 86.4 404.0 86.6" stroke-width="0.75" opacity="0.29"/>
<path d="M465.29 91.35C464.5 92.2 462.0 94.7 460.6 96.5C459.2 98.4 458.2 100.5 457.0 102.5C455.7 104.4 454.5 106.4 453.3 108.4C452.0 110.3 450.7 112.3 449.5 114.2C448.3 116.2 447.4 118.4 445.9 120.2C444.5 122.1 442.5 123.4 440.9 125.1C439.4 126.9 438.4 129.1 436.9 130.8C435.4 132.5 433.5 134.0 431.7 135.5C430.0 137.0 428.0 138.3 426.4 140.0C424.8 141.6 422.8 144.6 422.1 145.5" stroke-width="0.68" opacity="0.28"/>
<path d="M476.96 58.02C477.0 57.2 477.4 54.6 477.4 52.9C477.3 51.1 476.9 49.4 476.7 47.7C476.4 46.0 476.3 44.3 475.8 42.6C475.3 41.0 474.6 39.4 473.7 37.9C472.9 36.4 471.7 35.1 470.7 33.7C469.7 32.2 468.9 30.7 467.8 29.4C466.7 28.1 465.3 27.0 464.2 25.7C463.0 24.4 462.0 23.0 460.8 21.8C459.5 20.6 458.1 19.6 456.8 18.5C455.5 17.3 454.3 16.0 453.2 14.8C452.0 13.5 451.0 12.0 449.8 10.9C448.5 9.7 446.9 8.9 445.6 7.8C444.2 6.8 442.8 5.7 441.7 4.4C440.5 3.1 439.5 1.7 438.7 0.2C437.9 -1.4 437.7 -3.2 436.9 -4.7C436.1 -6.2 434.9 -7.5 434.0 -9.0C433.1 -10.5 432.0 -12.8 431.6 -13.5" stroke-width="0.56" opacity="0.51"/>
<path d="M482.02 69.72C482.8 69.0 485.0 66.5 486.7 65.1C488.4 63.7 490.4 62.8 492.2 61.5C493.9 60.2 495.5 58.7 497.1 57.2C498.6 55.7 500.2 54.1 501.6 52.4C503.0 50.8 504.3 49.0 505.5 47.1C506.6 45.3 507.5 43.3 508.7 41.4C509.8 39.6 511.1 37.8 512.3 36.0C513.5 34.1 514.7 32.3 515.9 30.5C517.0 28.6 518.0 26.6 519.3 24.8C520.5 23.1 521.9 21.4 523.4 19.8C525.0 18.2 526.7 16.9 528.3 15.4C529.9 13.9 531.5 12.4 532.9 10.7C534.2 8.9 535.2 7.0 536.2 5.0C537.2 3.1 537.9 1.0 538.8 -1.0C539.8 -2.9 541.1 -4.7 542.1 -6.6C543.2 -8.5 544.8 -11.4 545.3 -12.4" stroke-width="0.49" opacity="0.66"/>
<path d="M475.83 103.19C476.2 104.3 477.3 107.6 478.0 109.8C478.8 112.0 479.3 114.2 480.3 116.3C481.2 118.4 482.4 120.4 483.6 122.4C484.9 124.3 486.2 126.2 487.7 128.0C489.2 129.7 490.8 131.4 492.6 132.9C494.4 134.3 496.6 135.2 498.5 136.6C500.3 137.9 502.1 139.5 503.6 141.2C505.2 142.9 506.6 144.8 507.9 146.7C509.1 148.6 510.2 150.7 511.4 152.7C512.5 154.7 514.0 156.5 515.0 158.5C516.0 160.6 516.6 162.9 517.3 165.1C518.0 167.3 518.7 169.5 519.4 171.7C520.1 173.9 520.4 176.3 521.3 178.4C522.2 180.5 523.6 182.4 524.9 184.3C526.2 186.2 528.2 189.0 528.9 190.0" stroke-width="0.51" opacity="0.63"/>
<path d="M491.79 76.38C492.8 76.4 495.6 76.6 497.6 76.7C499.5 76.8 501.5 76.7 503.4 77.0C505.3 77.3 507.1 78.1 508.9 78.6C510.8 79.2 512.6 79.9 514.5 80.3C516.4 80.8 518.3 81.0 520.2 81.2C522.1 81.4 524.1 81.7 526.0 81.6C527.9 81.6 529.8 81.1 531.7 80.9C533.7 80.6 535.6 80.4 537.5 80.3C539.4 80.2 542.3 80.2 543.3 80.2" stroke-width="0.82" opacity="0.31"/>
<path d="M489.01 88.92C489.9 89.4 492.4 90.9 494.2 91.8C496.0 92.7 497.8 93.5 499.6 94.3C501.4 95.2 503.1 96.2 505.0 97.0C506.8 97.8 508.7 98.4 510.6 99.0C512.4 99.7 514.3 100.4 516.2 100.9C518.1 101.4 520.1 101.7 522.0 102.1C524.0 102.5 526.0 102.6 527.9 103.1C529.8 103.6 532.6 104.8 533.5 105.1" stroke-width="0.78" opacity="0.76"/>
<path d="M487.41 74.44C488.5 74.2 492.0 73.4 494.3 73.3C496.6 73.1 498.9 73.6 501.2 73.6C503.5 73.6 505.8 73.5 508.1 73.3C510.4 73.1 512.7 72.8 515.0 72.4C517.3 72.0 519.5 71.3 521.8 70.8C524.0 70.3 526.4 70.1 528.6 69.3C530.7 68.6 532.9 67.6 534.9 66.4C536.9 65.3 538.6 63.6 540.5 62.4C542.5 61.2 544.5 60.0 546.7 59.2C548.9 58.4 551.2 58.1 553.4 57.5C555.7 57.0 557.9 56.3 560.2 56.0C562.5 55.7 564.9 55.6 567.2 55.7C569.5 55.9 571.8 56.3 574.0 57.0C576.2 57.7 578.1 59.1 580.3 59.9C582.5 60.6 584.8 61.0 587.1 61.5C589.3 62.0 591.6 62.7 593.9 63.0C596.1 63.3 598.5 63.1 600.8 63.3C603.1 63.5 605.4 63.8 607.7 64.2C610.0 64.5 613.4 65.2 614.5 65.4" stroke-width="0.77" opacity="0.41"/>
<path d="M488.91 77.28C490.0 77.2 493.2 76.8 495.3 76.6C497.5 76.4 499.6 76.0 501.8 75.9C503.9 75.9 506.1 76.0 508.3 76.2C510.4 76.4 512.5 77.0 514.7 77.1C516.8 77.1 519.0 76.5 521.1 76.5C523.3 76.5 525.4 77.1 527.6 77.0C529.7 77.0 531.9 76.2 534.0 76.2C536.1 76.2 538.3 76.7 540.4 77.0C542.5 77.4 544.7 77.9 546.8 78.4C548.9 78.9 550.9 79.7 553.0 80.0C555.1 80.4 557.3 80.1 559.5 80.3C561.6 80.6 563.7 81.4 565.8 81.7C567.9 82.0 570.1 82.0 572.3 82.1C574.4 82.1 576.6 82.0 578.7 81.9C580.9 81.8 583.1 81.4 585.2 81.6C587.3 81.7 590.5 82.7 591.6 82.9" stroke-width="0.68" opacity="0.33"/>
<path d="M490.17 70.71C491.2 70.5 494.3 69.9 496.2 69.2C498.1 68.4 499.8 67.1 501.7 66.2C503.6 65.4 505.7 65.1 507.6 64.2C509.4 63.3 511.1 62.0 512.8 60.8C514.5 59.5 516.1 58.2 517.6 56.8C519.2 55.5 520.5 53.8 522.1 52.5C523.7 51.2 525.5 50.0 527.3 49.0C529.1 48.0 531.1 47.4 533.0 46.6C535.0 45.9 536.9 45.1 538.9 44.4C540.8 43.7 543.8 42.8 544.8 42.4" stroke-width="0.73" opacity="0.31"/>
<path d="M488.39 85.99C489.3 86.4 491.8 87.6 493.7 88.2C495.5 88.7 497.5 88.7 499.3 89.2C501.1 89.8 502.7 90.7 504.4 91.6C506.1 92.5 507.8 93.4 509.3 94.5C510.9 95.6 512.4 96.8 513.8 98.1C515.1 99.4 516.2 101.0 517.5 102.4C518.8 103.8 520.4 104.8 521.7 106.3C523.0 107.7 523.7 109.5 525.0 110.9C526.3 112.3 527.8 113.5 529.4 114.5C531.0 115.6 533.6 116.8 534.4 117.2" stroke-width="0.51" opacity="0.42"/>
<path d="M476.01 96.12C476.2 97.3 476.9 100.9 477.0 103.2C477.0 105.6 476.7 108.0 476.4 110.4C476.1 112.7 475.9 115.2 475.2 117.4C474.5 119.7 473.0 121.7 472.3 124.0C471.6 126.3 471.3 128.7 470.9 131.0C470.5 133.4 470.4 135.8 469.7 138.1C469.0 140.4 467.6 142.4 466.7 144.6C465.8 146.8 465.1 149.1 464.5 151.4C463.8 153.7 463.2 156.0 462.8 158.4C462.4 160.7 462.0 164.3 461.9 165.5" stroke-width="0.59" opacity="0.52"/>
<path d="M458.51 80.98C457.6 80.8 454.8 80.4 453.0 79.7C451.3 79.1 449.5 78.3 448.0 77.3C446.4 76.3 445.2 74.8 443.7 73.7C442.2 72.5 440.7 71.3 439.0 70.5C437.4 69.6 435.5 69.4 433.7 68.6C432.0 67.9 429.5 66.6 428.7 66.1" stroke-width="0.73" opacity="0.35"/>
<path d="M490.55 68.58C491.4 67.9 493.9 65.8 495.6 64.7C497.4 63.5 499.5 62.8 501.3 61.6C503.1 60.5 504.8 59.1 506.3 57.6C507.8 56.1 509.2 54.4 510.3 52.6C511.4 50.8 512.1 48.7 513.1 46.8C514.0 44.8 514.7 42.8 515.8 40.9C516.9 39.1 518.2 37.4 519.7 35.8C521.1 34.2 522.9 33.0 524.5 31.6C526.1 30.1 527.5 28.5 529.0 27.0C530.5 25.5 531.8 23.7 533.4 22.3C535.0 20.9 536.8 19.7 538.7 18.7C540.6 17.7 542.7 17.0 544.7 16.4C546.8 15.7 548.9 15.2 551.0 14.8C553.1 14.4 555.3 14.6 557.3 14.0C559.4 13.5 561.3 12.5 563.3 11.6C565.3 10.8 567.1 9.6 569.2 9.0C571.2 8.4 574.4 8.0 575.5 7.8" stroke-width="0.49" opacity="0.38"/>
<path d="M484.46 64.16C484.9 63.2 486.3 60.3 487.3 58.5C488.2 56.6 489.1 54.7 490.3 52.9C491.4 51.1 492.6 49.3 494.1 47.8C495.5 46.3 497.2 45.0 498.9 43.7C500.5 42.3 502.1 41.0 503.8 39.6C505.4 38.3 507.0 36.9 508.7 35.7C510.4 34.4 512.0 33.1 513.8 32.0C515.6 30.9 517.6 30.1 519.4 29.0C521.3 28.0 523.0 26.7 524.8 25.7C526.7 24.6 528.7 23.8 530.5 22.8C532.3 21.7 534.1 20.5 535.6 19.1C537.2 17.7 538.7 16.1 539.9 14.4C541.1 12.7 542.4 9.8 542.9 8.8" stroke-width="0.49" opacity="0.5"/>
<path d="M487.38 97.07C488.0 98.0 489.8 100.9 491.0 102.7C492.3 104.6 493.9 106.2 495.0 108.1C496.1 110.1 496.7 112.3 497.5 114.4C498.3 116.4 499.0 118.6 499.9 120.6C500.8 122.6 501.8 124.7 503.0 126.6C504.3 128.4 505.9 130.0 507.5 131.6C509.0 133.2 511.0 134.4 512.5 136.1C513.9 137.7 515.0 139.7 516.3 141.6C517.5 143.5 518.7 145.4 519.7 147.4C520.7 149.4 521.2 151.6 522.2 153.6C523.3 155.6 524.8 157.3 525.9 159.2C527.0 161.2 528.0 163.2 528.7 165.3C529.4 167.4 529.8 169.7 530.1 171.9C530.5 174.1 530.7 177.5 530.8 178.6" stroke-width="0.83" opacity="0.58"/>
<path d="M491.23 75.11C492.0 74.7 494.2 73.4 495.8 72.6C497.3 71.9 498.8 71.0 500.4 70.4C502.0 69.8 503.7 69.5 505.4 69.0C507.1 68.6 508.7 68.1 510.4 67.7C512.1 67.3 513.8 67.0 515.5 66.7C517.2 66.4 518.8 66.0 520.6 65.8C522.3 65.7 524.0 65.6 525.7 65.6C527.4 65.6 529.2 66.0 530.9 65.9C532.6 65.7 534.2 64.9 535.9 64.8C537.6 64.6 539.4 64.9 541.1 65.0C542.8 65.0 544.5 65.3 546.2 65.2C547.9 65.0 549.6 64.4 551.3 64.1C553.0 63.9 554.7 63.7 556.4 63.7C558.2 63.6 559.9 63.9 561.6 63.9C563.3 64.0 565.0 63.8 566.8 63.9C568.5 63.9 570.2 64.2 571.9 64.0C573.6 63.9 575.3 63.2 577.0 63.0C578.7 62.7 580.4 62.6 582.1 62.5C583.8 62.5 586.4 62.6 587.3 62.6" stroke-width="0.8" opacity="0.54"/>
<path d="M488.14 72.43C488.8 72.0 491.0 70.6 492.3 69.6C493.6 68.6 494.9 67.5 496.0 66.2C497.1 65.0 497.8 63.4 498.8 62.1C499.9 60.8 501.0 59.5 502.1 58.3C503.2 57.0 504.2 55.7 505.5 54.6C506.8 53.5 508.2 52.6 509.7 51.9C511.2 51.2 512.9 51.0 514.5 50.3C516.0 49.7 517.4 48.7 518.9 47.9C520.3 47.2 522.7 46.2 523.4 45.8" stroke-width="0.72" opacity="0.45"/>
<path d="M453.98 77.37C453.0 76.9 450.2 75.5 448.3 74.5C446.4 73.5 444.5 72.5 442.7 71.4C440.9 70.2 439.2 68.9 437.5 67.7C435.8 66.4 433.9 65.3 432.4 63.8C430.9 62.3 429.9 60.3 428.5 58.8C427.0 57.2 425.3 56.0 423.7 54.5C422.1 53.1 420.7 51.5 419.1 50.1C417.5 48.7 414.9 46.8 414.1 46.1" stroke-width="0.63" opacity="0.29"/>
<path d="M477.03 64.47C476.9 63.5 476.4 60.7 476.4 58.8C476.4 57.0 476.7 55.1 477.0 53.2C477.3 51.3 478.0 49.5 478.2 47.7C478.4 45.8 478.5 43.9 478.4 42.0C478.3 40.1 477.8 38.3 477.6 36.4C477.4 34.5 477.2 32.6 477.2 30.7C477.3 28.8 477.4 26.9 477.9 25.1C478.4 23.3 479.1 21.5 480.0 19.8C481.0 18.2 482.2 16.7 483.4 15.3C484.6 13.8 486.6 11.8 487.3 11.1" stroke-width="0.44" opacity="0.69"/>
<path d="M486 82.98C486.9 83.5 489.5 85.3 491.3 86.3C493.2 87.4 495.0 88.3 496.9 89.3C498.7 90.3 500.6 91.2 502.5 92.1C504.3 93.1 506.3 94.0 508.0 95.2C509.7 96.3 511.2 98.0 513.0 99.1C514.7 100.2 516.8 100.7 518.7 101.7C520.5 102.7 522.3 103.8 523.9 105.2C525.5 106.6 526.8 108.3 528.1 109.9C529.5 111.5 530.7 113.2 532.1 114.8C533.4 116.4 535.1 117.7 536.3 119.4C537.5 121.1 538.2 123.2 539.3 125.0C540.3 126.8 541.7 128.5 542.5 130.4C543.3 132.3 543.9 134.4 544.3 136.4C544.7 138.5 544.7 140.6 545.0 142.7C545.3 144.8 545.8 146.8 546.1 148.9C546.5 150.9 547.1 153.0 547.2 155.1C547.4 157.2 547.3 159.3 547.1 161.4C546.8 163.4 545.9 166.5 545.6 167.5" stroke-width="0.9" opacity="0.64"/>
<path d="M480.22 67.77C480.9 67.0 482.9 64.7 484.1 63.1C485.3 61.5 486.2 59.7 487.3 58.0C488.4 56.3 489.8 54.8 490.8 53.1C491.9 51.4 492.7 49.5 493.8 47.8C494.9 46.2 496.4 44.7 497.5 43.1C498.6 41.4 499.4 39.5 500.7 37.9C501.9 36.3 503.5 35.0 505.0 33.7C506.5 32.4 509.0 30.6 509.8 30.0" stroke-width="0.66" opacity="0.58"/>
<path d="M490.33 83.76C491.3 83.6 494.1 83.1 496.0 83.0C497.9 82.8 499.8 83.0 501.7 83.1C503.7 83.1 505.6 83.4 507.5 83.4C509.4 83.3 511.3 82.9 513.2 82.7C515.1 82.6 517.0 82.4 518.9 82.4C520.8 82.3 522.7 82.6 524.6 82.5C526.5 82.4 528.4 81.7 530.3 81.7C532.2 81.6 534.1 82.1 536.0 82.3C537.9 82.6 539.8 82.8 541.7 83.2C543.6 83.5 545.4 84.2 547.3 84.5C549.1 84.8 551.1 84.7 553.0 84.9C554.9 85.1 556.8 85.3 558.7 85.6C560.6 85.9 562.5 86.2 564.3 86.6C566.2 87.1 568.1 87.5 569.8 88.2C571.6 88.9 574.1 90.4 574.9 90.9" stroke-width="0.75" opacity="0.71"/>
<path d="M487.61 89.34C488.7 89.7 492.1 90.8 494.4 91.4C496.6 92.0 498.9 92.5 501.2 92.8C503.6 93.1 506.0 92.8 508.3 93.2C510.6 93.5 512.9 94.2 515.1 94.9C517.3 95.7 519.3 97.1 521.5 97.9C523.7 98.7 526.1 98.9 528.3 99.5C530.6 100.1 532.9 100.7 535.0 101.7C537.2 102.6 538.9 104.3 541.1 105.3C543.2 106.2 545.6 106.6 547.9 107.1C550.1 107.7 552.4 108.5 554.7 108.7C557.1 108.9 559.4 108.6 561.8 108.4C564.1 108.2 566.5 108.0 568.8 107.4C571.0 106.9 573.2 105.9 575.4 105.1C577.6 104.3 580.9 103.0 582.0 102.6" stroke-width="0.5" opacity="0.67"/>
<path d="M472.77 59.65C472.6 58.7 472.0 56.0 471.9 54.1C471.8 52.2 472.2 50.4 472.3 48.5C472.4 46.6 472.2 44.7 472.5 42.9C472.9 41.1 473.8 39.4 474.3 37.5C474.7 35.7 475.0 33.9 475.2 32.0C475.3 30.1 475.0 28.2 475.1 26.4C475.3 24.5 475.7 22.7 476.2 20.9C476.7 19.1 477.2 17.2 478.0 15.6C478.9 13.9 480.3 12.5 481.2 10.9C482.2 9.3 482.9 7.6 483.7 5.9C484.6 4.2 485.6 2.6 486.3 0.9C486.9 -0.9 487.4 -2.7 487.8 -4.5C488.1 -6.4 488.2 -8.3 488.5 -10.1C488.8 -12.0 489.2 -14.7 489.4 -15.7" stroke-width="0.53" opacity="0.61"/>
<path d="M480.52 94.16C481.0 95.1 482.3 98.0 483.4 99.7C484.5 101.5 485.7 103.3 487.1 104.8C488.6 106.3 490.6 107.2 492.1 108.7C493.6 110.1 494.8 111.8 496.1 113.4C497.5 115.0 498.9 116.6 500.0 118.3C501.2 120.1 502.3 121.9 503.1 123.8C503.9 125.7 504.4 127.8 504.7 129.9C505.0 131.9 505.0 134.1 505.0 136.1C505.1 138.2 504.8 140.3 505.1 142.4C505.3 144.5 506.0 146.5 506.4 148.5C506.8 150.6 507.1 152.7 507.5 154.7C507.9 156.8 508.0 158.9 508.6 160.9C509.2 162.9 510.0 164.9 511.1 166.7C512.1 168.5 513.5 170.0 514.9 171.6C516.2 173.2 517.7 174.8 519.1 176.3C520.6 177.8 522.3 179.0 523.7 180.6C525.0 182.2 526.3 183.9 527.2 185.8C528.2 187.6 529.0 190.7 529.3 191.7" stroke-width="0.86" opacity="0.46"/>
<path d="M483.54 67.13C484.1 66.3 485.9 64.0 486.8 62.2C487.7 60.5 488.1 58.5 488.8 56.6C489.4 54.8 490.0 52.9 490.8 51.1C491.6 49.3 492.9 47.7 493.7 45.9C494.5 44.2 495.3 42.3 495.8 40.4C496.3 38.5 496.3 36.5 496.4 34.5C496.6 32.6 496.5 30.6 496.4 28.6C496.4 26.7 496.1 24.7 495.9 22.7C495.8 20.8 495.4 18.8 495.5 16.8C495.5 14.9 495.9 12.9 496.1 11.0C496.3 9.0 496.7 7.1 496.7 5.1C496.8 3.1 496.5 1.2 496.5 -0.8C496.6 -2.8 496.9 -4.7 496.9 -6.7C496.9 -8.7 496.9 -10.7 496.5 -12.6C496.1 -14.5 495.5 -16.4 494.6 -18.2C493.8 -20.0 492.6 -21.6 491.4 -23.2C490.2 -24.7 488.3 -26.9 487.6 -27.7" stroke-width="0.76" opacity="0.77"/>
<path d="M489.95 89.77C490.7 90.5 492.8 92.8 494.2 94.3C495.6 95.8 497.0 97.4 498.4 98.9C499.8 100.4 501.3 101.9 502.6 103.5C503.8 105.1 504.9 106.9 506.1 108.6C507.2 110.4 508.3 112.1 509.6 113.7C511.0 115.3 512.6 116.7 513.9 118.3C515.2 119.9 516.5 121.5 517.6 123.3C518.7 125.0 519.3 127.0 520.4 128.8C521.4 130.6 522.9 132.1 524.0 133.9C525.0 135.7 525.4 137.8 526.5 139.6C527.5 141.4 528.9 143.0 530.3 144.5C531.7 146.0 533.3 147.4 534.8 148.7C536.4 150.1 538.2 151.2 539.7 152.6C541.1 154.1 542.2 155.9 543.5 157.5C544.8 159.1 546.8 161.5 547.4 162.3" stroke-width="0.57" opacity="0.42"/>
<path d="M456.39 85.02C455.3 85.6 452.0 87.0 450.0 88.4C448.0 89.8 446.5 91.8 444.6 93.3C442.8 94.8 440.7 96.0 438.7 97.4C436.7 98.8 434.7 100.1 432.7 101.5C430.8 102.8 428.7 104.2 426.9 105.7C425.0 107.3 422.5 109.8 421.6 110.6" stroke-width="0.72" opacity="0.31"/>
<path d="M483.81 97.36C484.4 98.1 486.2 100.5 487.4 102.0C488.6 103.6 489.9 105.1 491.1 106.6C492.4 108.1 493.8 109.5 494.9 111.1C496.1 112.7 496.8 114.5 498.0 116.1C499.2 117.6 500.7 118.9 502.1 120.3C503.5 121.7 504.9 123.1 506.3 124.5C507.7 125.8 509.3 127.0 510.6 128.4C511.9 129.9 512.9 131.6 513.8 133.4C514.7 135.1 515.2 137.1 516.1 138.8C516.9 140.6 517.9 142.3 518.9 144.0C519.9 145.7 521.3 147.1 522.2 148.9C523.1 150.6 523.2 152.7 524.1 154.4C525.0 156.2 526.4 157.6 527.4 159.3C528.4 161.0 529.0 162.9 530.2 164.5C531.3 166.1 532.8 167.4 534.2 168.8C535.6 170.2 537.2 171.3 538.6 172.6C540.1 174.0 541.5 175.3 542.8 176.8C544.1 178.3 545.9 180.6 546.5 181.3" stroke-width="0.72" opacity="0.41"/>
<path d="M461.96 90.41C461.0 90.9 458.2 92.4 456.2 93.1C454.2 93.7 452.0 93.9 450.0 94.4C448.0 95.0 445.9 95.6 444.0 96.3C442.0 97.1 440.2 98.2 438.2 99.1C436.3 100.0 434.4 100.8 432.4 101.6C430.4 102.3 428.4 103.1 426.4 103.7C424.4 104.4 422.4 105.2 420.4 105.6C418.3 106.0 416.1 105.8 414.1 106.3C412.0 106.7 410.1 107.7 408.1 108.2C406.0 108.8 402.8 109.2 401.8 109.3" stroke-width="0.72" opacity="0.39"/>
<path d="M485.74 71.31C486.7 70.7 489.4 68.8 491.4 67.9C493.4 67.0 495.5 66.5 497.7 65.9C499.8 65.3 502.0 65.0 504.0 64.2C506.0 63.4 507.9 62.1 509.8 61.0C511.7 59.9 513.5 58.6 515.4 57.6C517.3 56.5 519.5 55.9 521.3 54.7C523.1 53.5 524.8 52.0 526.3 50.4C527.8 48.8 528.8 46.8 530.3 45.2C531.7 43.6 533.4 42.1 535.1 40.7C536.8 39.4 538.9 38.3 540.4 36.8C542.0 35.3 543.1 33.3 544.5 31.7C546.0 30.1 547.7 28.7 549.4 27.2C551.0 25.8 552.8 24.5 554.5 23.1C556.1 21.6 557.6 20.0 559.3 18.6C560.9 17.1 562.9 16.0 564.4 14.5C566.0 12.9 567.4 11.2 568.6 9.4C569.8 7.5 570.5 5.4 571.6 3.5C572.8 1.7 574.0 -0.2 575.3 -1.9C576.6 -3.7 578.8 -6.2 579.4 -7.0" stroke-width="0.71" opacity="0.52"/>
<path d="M478.37 94.8C479.0 95.8 481.1 98.9 482.2 101.0C483.4 103.2 484.3 105.5 485.4 107.7C486.4 109.9 487.7 112.0 488.6 114.3C489.5 116.5 489.8 119.0 490.7 121.3C491.5 123.6 492.6 125.8 493.5 128.1C494.5 130.3 495.7 132.5 496.4 134.8C497.1 137.2 497.2 139.7 497.6 142.1C498.1 144.5 498.6 146.9 499.1 149.3C499.7 151.6 500.1 154.1 500.8 156.4C501.6 158.7 502.7 160.9 503.6 163.2C504.5 165.5 505.4 167.7 506.2 170.0C507.0 172.4 508.0 175.9 508.3 177.1" stroke-width="0.86" opacity="0.62"/>
<path d="M460.57 89.08C459.6 89.7 456.8 91.7 454.8 92.9C452.8 94.0 450.8 95.2 448.6 95.9C446.4 96.7 444.0 96.7 441.8 97.3C439.6 97.9 437.4 98.7 435.3 99.6C433.2 100.5 431.2 101.9 429.1 102.6C426.9 103.3 424.5 103.3 422.3 103.9C420.1 104.5 417.8 105.2 415.7 106.1C413.7 107.1 411.8 108.5 409.7 109.5C407.7 110.6 404.5 111.9 403.4 112.4" stroke-width="0.56" opacity="0.43"/>
<path d="M473.67 96.72C473.9 97.8 474.5 101.0 474.8 103.1C475.1 105.2 475.1 107.4 475.3 109.5C475.4 111.7 475.2 113.9 475.6 116.0C475.9 118.1 476.7 120.2 477.3 122.3C477.8 124.3 478.2 126.5 479.0 128.5C479.7 130.5 480.8 132.4 481.8 134.3C482.8 136.2 483.9 138.1 484.8 140.1C485.6 142.0 486.2 144.1 486.9 146.2C487.7 148.2 488.7 150.1 489.4 152.2C490.0 154.2 490.1 156.4 490.8 158.5C491.4 160.5 492.3 162.5 493.3 164.4C494.3 166.3 495.5 168.1 496.6 170.0C497.7 171.8 498.8 173.7 500.0 175.5C501.2 177.3 503.0 180.0 503.7 180.8" stroke-width="0.79" opacity="0.67"/>
<path d="M493.54 83.06C494.7 83.1 498.3 83.1 500.7 83.1C503.1 83.0 505.5 82.6 507.9 82.6C510.3 82.7 512.7 83.1 515.0 83.5C517.4 83.8 519.8 84.2 522.1 84.6C524.5 85.1 526.9 85.5 529.1 86.3C531.4 87.1 533.6 88.1 535.6 89.4C537.6 90.7 539.4 92.3 541.2 93.9C543.0 95.5 544.5 97.5 546.4 98.9C548.3 100.3 550.5 101.3 552.6 102.5C554.7 103.6 557.1 104.3 559.1 105.6C561.1 106.8 563.7 109.4 564.6 110.2" stroke-width="0.64" opacity="0.32"/>
<path d="M464.8 62.37C464.2 61.5 462.3 58.9 461.3 57.0C460.3 55.2 459.9 53.0 458.8 51.1C457.8 49.3 456.4 47.6 454.9 46.1C453.4 44.6 451.5 43.6 449.9 42.2C448.3 40.8 446.9 39.1 445.4 37.6C443.8 36.2 441.9 35.0 440.6 33.4C439.2 31.8 438.4 29.7 437.0 28.1C435.6 26.5 433.0 24.6 432.2 23.9" stroke-width="0.48" opacity="0.52"/>
<path d="M453.7 79.22C452.6 78.9 449.4 78.0 447.2 77.6C445.0 77.1 442.8 77.0 440.6 76.6C438.4 76.3 436.2 75.5 434.0 75.4C431.8 75.2 429.6 75.4 427.3 75.6C425.1 75.9 423.0 76.5 420.7 76.8C418.5 77.0 416.2 76.7 414.1 77.1C411.9 77.5 409.8 78.5 407.7 79.1C405.5 79.7 403.4 80.5 401.2 80.9C399.1 81.2 396.8 81.4 394.6 81.2C392.4 81.1 389.1 80.1 388.0 79.9" stroke-width="0.79" opacity="0.5"/>
<path d="M473.13 94.87C473.0 95.7 472.7 98.3 472.4 100.0C472.0 101.7 471.6 103.4 471.1 105.1C470.7 106.8 470.3 108.5 469.7 110.1C469.0 111.7 468.3 113.3 467.3 114.7C466.3 116.2 465.0 117.4 463.9 118.6C462.7 119.9 461.4 121.1 460.2 122.3C459.0 123.6 457.8 124.8 456.6 126.1C455.5 127.4 453.9 129.5 453.4 130.2" stroke-width="0.74" opacity="0.73"/>
<path d="M484.91 96.15C485.6 97.0 487.6 99.8 489.2 101.4C490.8 103.0 492.8 104.2 494.5 105.8C496.1 107.4 497.7 109.0 499.1 110.8C500.6 112.5 501.8 114.5 503.3 116.1C504.9 117.8 506.9 119.0 508.3 120.8C509.8 122.5 510.8 124.6 512.0 126.5C513.2 128.4 514.8 130.2 515.7 132.2C516.7 134.3 517.2 136.5 517.9 138.7C518.6 140.8 519.5 143.0 520.1 145.2C520.7 147.3 520.8 149.7 521.5 151.8C522.1 154.0 523.4 156.0 524.1 158.1C524.8 160.3 525.1 162.5 525.7 164.8C526.3 167.0 526.7 169.2 527.5 171.3C528.2 173.5 529.3 175.5 530.2 177.6C531.2 179.6 532.7 182.7 533.3 183.7" stroke-width="0.73" opacity="0.74"/>
<path d="M475.56 57.78C475.8 56.7 476.3 53.2 477.0 51.0C477.7 48.8 478.4 46.6 479.5 44.6C480.6 42.6 482.3 40.9 483.6 39.0C484.9 37.1 485.9 35.1 487.3 33.2C488.7 31.4 490.2 29.6 491.8 28.0C493.3 26.3 495.0 24.7 496.7 23.1C498.3 21.5 500.0 19.9 501.7 18.3C503.4 16.8 505.0 15.2 506.8 13.7C508.6 12.3 510.5 10.9 512.4 9.7C514.4 8.5 516.4 7.4 518.5 6.4C520.5 5.3 522.7 4.5 524.7 3.3C526.6 2.1 528.5 0.7 530.2 -0.8C532.0 -2.3 534.3 -4.8 535.1 -5.6" stroke-width="0.47" opacity="0.36"/>
<path d="M486.13 69.64C487.0 68.9 489.7 66.8 491.6 65.4C493.4 64.0 495.2 62.6 497.1 61.4C499.0 60.2 501.3 59.5 503.2 58.3C505.2 57.1 507.0 55.7 508.8 54.2C510.6 52.8 512.4 51.4 514.0 49.8C515.6 48.2 516.9 46.2 518.3 44.4C519.7 42.6 521.1 40.8 522.4 38.9C523.7 37.0 524.7 34.9 526.0 33.0C527.2 31.1 528.8 29.4 530.1 27.5C531.3 25.6 532.4 23.6 533.7 21.7C535.0 19.8 536.4 18.0 537.8 16.2C539.3 14.4 540.7 12.6 542.2 10.9C543.7 9.2 545.3 7.5 546.8 5.8C548.3 4.1 549.8 2.3 551.2 0.5C552.6 -1.3 554.2 -3.0 555.4 -4.9C556.6 -6.9 557.3 -9.1 558.3 -11.1C559.4 -13.1 561.2 -16.1 561.8 -17.0" stroke-width="0.56" opacity="0.44"/>
<path d="M486.92 70.3C487.7 70.0 490.3 69.2 491.8 68.4C493.4 67.5 494.6 66.2 496.1 65.4C497.7 64.5 499.3 63.7 500.9 63.1C502.5 62.5 504.3 62.0 506.0 61.8C507.8 61.7 509.5 62.1 511.3 62.0C513.0 61.9 514.8 61.4 516.5 61.3C518.3 61.3 520.0 61.6 521.8 61.7C523.5 61.8 525.3 61.9 527.0 61.9C528.8 61.9 530.6 61.7 532.3 61.8C534.1 61.8 535.8 62.3 537.5 62.4C539.3 62.5 541.1 62.2 542.8 62.3C544.6 62.4 546.3 63.1 548.0 63.2C549.7 63.3 551.5 62.9 553.3 62.9C555.0 62.9 556.8 63.2 558.5 63.2C560.3 63.2 562.0 63.0 563.8 62.8C565.5 62.6 567.3 62.4 569.0 61.9C570.6 61.3 572.9 60.0 573.7 59.6" stroke-width="0.56" opacity="0.62"/>
<path d="M474.42 67.59C474.5 66.6 475.0 63.5 475.1 61.4C475.3 59.4 474.9 57.3 475.1 55.2C475.3 53.2 475.9 51.2 476.4 49.1C476.8 47.1 477.6 45.2 477.8 43.1C478.0 41.1 477.4 39.0 477.6 36.9C477.8 34.9 478.1 32.8 478.7 30.8C479.4 28.9 480.7 27.1 481.4 25.2C482.1 23.3 482.4 21.2 483.1 19.2C483.7 17.3 484.9 15.5 485.4 13.5C485.9 11.5 485.7 9.3 486.2 7.3C486.7 5.3 487.8 3.5 488.3 1.5C488.8 -0.5 488.8 -2.6 489.2 -4.7C489.6 -6.7 489.9 -8.7 490.5 -10.7C491.1 -12.7 491.8 -14.6 492.6 -16.6C493.3 -18.5 494.0 -20.5 495.0 -22.3C496.0 -24.1 497.5 -25.6 498.5 -27.4C499.5 -29.2 500.0 -31.3 501.0 -33.0C502.1 -34.8 503.6 -36.3 505.0 -37.9C506.3 -39.4 508.0 -40.7 509.3 -42.3C510.5 -44.0 512.0 -46.7 512.5 -47.6" stroke-width="0.42" opacity="0.41"/>
<path d="M485.64 92.81C486.2 93.5 488.0 95.4 489.1 96.9C490.1 98.3 490.7 100.0 491.8 101.4C492.9 102.8 494.3 103.9 495.6 105.1C496.9 106.4 498.0 107.7 499.4 108.8C500.8 109.9 502.5 110.6 503.9 111.6C505.4 112.7 506.7 113.8 508.0 115.0C509.3 116.2 510.5 117.5 511.7 118.8C512.9 120.1 514.3 121.3 515.3 122.7C516.3 124.2 516.9 125.9 517.8 127.4C518.7 128.9 519.7 130.4 520.7 131.8C521.8 133.2 522.9 134.6 524.0 136.0C525.2 137.3 527.0 139.3 527.6 139.9" stroke-width="0.58" opacity="0.75"/>
<path d="M482.7 70.69C483.4 69.9 485.7 67.7 487.1 66.2C488.6 64.7 490.2 63.3 491.6 61.7C493.0 60.2 494.3 58.5 495.6 56.8C496.8 55.1 497.8 53.2 499.1 51.5C500.3 49.8 501.7 48.2 502.9 46.5C504.2 44.8 505.5 43.1 506.5 41.3C507.5 39.5 508.4 37.5 509.2 35.5C510.0 33.6 510.9 31.6 511.3 29.6C511.8 27.6 511.8 25.4 512.0 23.3C512.1 21.2 511.9 19.1 512.2 17.0C512.5 14.9 513.2 12.9 513.8 10.9C514.3 8.8 515.3 5.8 515.6 4.8" stroke-width="0.53" opacity="0.54"/>
<path d="M485.04 90.94C485.8 91.6 488.1 93.3 489.5 94.7C490.8 96.2 491.7 98.0 493.0 99.4C494.4 100.8 496.1 101.8 497.6 103.0C499.1 104.3 500.4 105.8 502.0 106.9C503.6 108.0 505.4 108.9 507.2 109.7C508.9 110.5 510.8 111.2 512.7 111.6C514.6 112.1 516.6 112.0 518.5 112.3C520.4 112.6 522.3 113.2 524.2 113.5C526.2 113.7 528.1 114.0 530.1 114.0C532.0 113.9 533.9 113.5 535.9 113.3C537.8 113.1 539.8 112.9 541.7 112.8C543.6 112.6 545.6 112.5 547.5 112.4C549.5 112.4 551.5 112.7 553.4 112.4C555.3 112.2 557.1 111.2 559.1 110.9C561.0 110.7 563.0 111.1 564.9 110.8C566.8 110.5 568.7 109.7 570.6 109.2C572.4 108.8 574.4 108.6 576.3 108.1C578.2 107.5 579.9 106.7 581.8 106.0C583.6 105.4 586.4 104.5 587.3 104.2" stroke-width="0.86" opacity="0.6"/>
<path d="M484.32 69.81C485.2 69.1 487.9 67.0 489.8 65.8C491.6 64.6 493.7 63.7 495.7 62.5C497.6 61.3 499.5 60.1 501.2 58.6C502.9 57.2 504.5 55.5 505.9 53.7C507.3 51.9 508.4 49.9 509.5 48.0C510.6 46.0 511.6 44.0 512.6 42.0C513.6 40.0 514.4 37.8 515.5 35.9C516.6 33.9 518.1 32.1 519.0 30.1C520.0 28.0 520.6 25.9 521.2 23.7C521.8 21.5 521.9 19.2 522.4 17.0C522.9 14.8 523.6 12.6 524.4 10.6C525.3 8.5 526.7 6.7 527.7 4.6C528.6 2.6 529.7 -0.7 530.1 -1.7" stroke-width="0.68" opacity="0.58"/>
<path d="M473.44 99.65C473.3 100.5 472.8 103.0 472.4 104.7C472.0 106.4 471.8 108.1 471.2 109.7C470.6 111.3 469.7 112.8 468.9 114.3C468.1 115.8 467.4 117.4 466.5 118.8C465.6 120.3 464.5 121.6 463.3 122.9C462.2 124.2 461.0 125.4 459.7 126.5C458.4 127.7 457.1 128.8 455.7 129.7C454.2 130.6 452.7 131.4 451.1 132.0C449.5 132.6 447.7 132.8 446.1 133.2C444.4 133.6 442.7 134.0 441.1 134.5C439.4 134.9 437.0 135.6 436.1 135.8" stroke-width="0.84" opacity="0.52"/>
<path d="M458.45 71.08C457.5 70.8 454.7 70.2 453.0 69.4C451.3 68.7 449.7 67.6 448.0 66.7C446.4 65.8 444.8 64.7 443.1 63.8C441.5 62.9 439.9 61.9 438.2 61.0C436.5 60.2 434.6 59.6 432.9 58.9C431.2 58.1 429.6 57.1 427.8 56.3C426.1 55.5 424.4 54.7 422.6 54.2C420.8 53.7 418.8 53.5 416.9 53.5C415.0 53.4 413.1 53.8 411.3 53.8C409.4 53.7 406.6 53.3 405.6 53.2" stroke-width="0.74" opacity="0.45"/>
<path d="M462.87 86.56C461.9 87.1 459.0 88.6 457.1 89.7C455.1 90.7 453.2 91.8 451.3 92.9C449.4 94.0 447.4 94.9 445.7 96.2C443.9 97.5 442.4 99.2 440.9 100.8C439.5 102.4 438.1 104.2 437.0 106.1C435.9 107.9 435.2 110.1 434.2 112.0C433.3 114.0 432.2 115.9 431.3 118.0C430.5 120.0 429.7 122.1 429.2 124.2C428.8 126.3 428.6 128.6 428.7 130.7C428.7 132.9 429.3 135.1 429.4 137.3C429.4 139.5 428.9 141.7 429.1 143.9C429.2 146.0 430.0 149.3 430.2 150.4" stroke-width="0.84" opacity="0.25"/>
<path d="M462.26 92.21C461.8 93.0 460.7 95.3 459.8 96.7C458.8 98.2 457.6 99.4 456.8 100.9C455.9 102.4 455.1 103.9 454.6 105.5C454.0 107.2 453.6 108.9 453.4 110.5C453.2 112.2 453.5 114.0 453.3 115.7C453.1 117.4 452.6 119.1 452.1 120.7C451.5 122.3 450.6 123.8 449.9 125.3C449.2 126.9 448.5 128.5 447.7 130.0C446.9 131.5 445.5 133.7 445.0 134.4" stroke-width="0.54" opacity="0.25"/>
<path d="M492.24 87.73C493.1 87.8 495.6 88.0 497.2 88.1C498.9 88.1 500.6 87.9 502.2 88.1C503.9 88.2 505.6 88.5 507.2 89.0C508.7 89.5 510.2 90.4 511.7 91.2C513.2 91.9 514.6 92.9 516.1 93.5C517.7 94.1 519.3 94.3 521.0 94.7C522.6 95.1 524.2 95.4 525.9 95.6C527.5 95.8 529.2 95.8 530.9 95.9C532.6 96.0 534.2 96.3 535.9 96.2C537.6 96.2 539.2 95.5 540.8 95.5C542.5 95.5 544.2 95.7 545.8 96.0C547.5 96.3 549.0 96.9 550.6 97.5C552.2 98.1 553.7 98.8 555.2 99.5C556.8 100.1 558.3 100.8 559.9 101.3C561.4 101.8 563.1 102.1 564.7 102.4C566.4 102.8 568.0 103.1 569.6 103.5C571.2 104.0 572.8 104.6 574.4 105.1C576.0 105.5 578.5 106.0 579.3 106.2" stroke-width="0.67" opacity="0.67"/>
<path d="M463.84 59.75C463.2 58.8 461.0 55.9 459.8 53.8C458.7 51.7 457.9 49.4 457.1 47.2C456.2 44.9 455.4 42.7 454.8 40.4C454.2 38.0 454.2 35.6 453.7 33.3C453.2 30.9 452.8 28.5 452.1 26.3C451.3 24.0 449.8 20.7 449.3 19.6" stroke-width="0.73" opacity="0.27"/>
<path d="M494.1 90.52C495.3 90.7 498.8 91.1 501.1 91.6C503.5 92.0 505.7 92.9 508.1 93.3C510.4 93.6 512.8 93.7 515.2 93.5C517.5 93.3 519.8 92.6 522.1 92.0C524.4 91.4 526.7 90.7 528.9 89.9C531.2 89.2 533.5 88.5 535.6 87.5C537.8 86.4 539.6 84.8 541.7 83.8C543.9 82.8 546.2 82.0 548.5 81.6C550.8 81.2 554.4 81.3 555.6 81.2" stroke-width="0.55" opacity="0.58"/>
<path d="M476.27 94.53C476.2 95.8 476.2 99.5 476.1 101.9C476.0 104.4 476.0 106.9 475.7 109.3C475.4 111.8 475.0 114.2 474.4 116.6C473.8 119.0 472.6 121.2 472.0 123.6C471.4 126.0 471.3 128.5 470.7 130.9C470.0 133.2 469.2 135.6 468.0 137.8C466.9 140.0 465.0 141.7 463.9 143.9C462.7 146.1 461.9 148.5 461.2 150.8C460.4 153.1 459.7 155.5 459.1 157.9C458.6 160.3 458.5 162.8 458.0 165.2C457.6 167.6 457.2 170.1 456.5 172.5C455.9 174.8 455.0 177.2 453.9 179.4C452.9 181.6 451.3 183.6 450.0 185.7C448.7 187.8 447.7 190.1 446.2 192.0C444.6 193.9 442.7 195.5 440.8 197.1C439.0 198.7 437.1 200.3 435.1 201.7C433.1 203.2 430.9 204.3 428.8 205.7C426.7 207.0 423.7 209.1 422.6 209.8" stroke-width="0.71" opacity="0.59"/>
<path d="M479.36 63.1C479.7 62.2 480.4 59.3 481.3 57.6C482.1 55.9 483.7 54.5 484.6 52.8C485.4 51.1 485.8 49.1 486.6 47.3C487.4 45.6 488.4 43.9 489.4 42.3C490.4 40.6 491.6 39.0 492.5 37.3C493.4 35.6 494.1 33.8 494.8 32.0C495.4 30.1 495.7 28.2 496.4 26.4C497.1 24.6 498.1 22.9 499.2 21.3C500.2 19.6 501.3 18.0 502.6 16.6C503.9 15.1 505.5 14.0 506.9 12.7C508.3 11.3 509.7 10.0 511.1 8.6C512.4 7.1 514.3 4.9 514.9 4.2" stroke-width="0.63" opacity="0.5"/>
<path d="M475.17 64.38C475.0 63.3 474.3 60.2 474.2 58.1C474.0 56.0 474.0 53.9 474.2 51.8C474.4 49.7 474.8 47.6 475.4 45.6C476.0 43.6 477.0 41.7 477.8 39.7C478.6 37.8 479.3 35.8 480.1 33.9C481.0 31.9 481.8 30.0 482.7 28.1C483.6 26.2 484.7 24.3 485.5 22.4C486.3 20.5 486.6 18.3 487.6 16.4C488.5 14.5 490.0 13.0 491.0 11.1C492.0 9.3 492.4 7.1 493.5 5.3C494.5 3.5 496.1 2.0 497.2 0.2C498.3 -1.6 499.0 -3.6 500.1 -5.4C501.3 -7.2 503.3 -9.7 503.9 -10.5" stroke-width="0.64" opacity="0.32"/>
<path d="M478.22 62.12C478.6 61.3 479.8 59.0 480.4 57.3C480.9 55.6 480.9 53.8 481.4 52.1C481.9 50.5 483.0 49.0 483.4 47.3C483.9 45.6 483.8 43.7 484.2 42.1C484.7 40.4 485.5 38.8 486.3 37.2C487.1 35.6 488.0 34.1 489.0 32.7C490.1 31.3 491.2 29.9 492.4 28.7C493.7 27.5 495.2 26.5 496.7 25.5C498.1 24.5 499.7 23.7 501.1 22.7C502.6 21.7 504.0 20.7 505.4 19.6C506.8 18.5 508.8 16.9 509.5 16.3" stroke-width="0.6" opacity="0.56"/>
<path d="M467.27 63.97C466.9 62.9 465.8 59.6 465.2 57.4C464.5 55.2 463.9 52.9 463.6 50.7C463.3 48.4 463.5 46.1 463.3 43.8C463.1 41.5 462.9 39.2 462.4 36.9C461.9 34.7 461.2 32.5 460.3 30.4C459.3 28.3 457.2 25.5 456.6 24.5" stroke-width="0.88" opacity="0.33"/>
<path d="M483.21 60.26C483.4 59.3 484.1 56.4 484.4 54.5C484.6 52.6 484.8 50.6 484.8 48.6C484.8 46.7 484.6 44.7 484.3 42.8C484.0 40.8 483.2 39.0 482.8 37.1C482.4 35.2 482.4 33.2 482.1 31.2C481.8 29.3 481.5 27.4 481.0 25.5C480.6 23.6 480.1 21.6 479.4 19.8C478.6 18.0 477.5 16.4 476.7 14.6C475.9 12.8 475.2 10.9 474.8 9.0C474.3 7.1 474.2 5.1 474.0 3.2C473.9 1.2 474.1 -0.7 473.9 -2.7C473.8 -4.6 473.4 -6.6 473.0 -8.5C472.7 -10.4 472.6 -12.4 472.0 -14.3C471.5 -16.2 470.7 -18.0 469.9 -19.8C469.0 -21.5 468.1 -23.3 467.1 -24.9C466.0 -26.6 464.5 -28.0 463.3 -29.5C462.0 -31.0 460.7 -32.4 459.5 -34.0C458.3 -35.5 457.3 -37.2 456.2 -38.8C455.1 -40.4 453.9 -42.0 452.9 -43.7C451.9 -45.4 450.7 -48.1 450.3 -49.0" stroke-width="0.83" opacity="0.69"/>
<path d="M457.89 89.93C457.0 90.7 454.5 92.9 452.8 94.3C451.0 95.7 449.0 96.9 447.3 98.3C445.6 99.7 444.2 101.5 442.5 103.0C440.8 104.5 439.0 105.9 437.1 107.0C435.2 108.1 433.0 108.8 431.0 109.8C429.0 110.8 427.1 112.0 425.0 113.0C423.0 113.9 420.8 114.7 418.7 115.3C416.6 116.0 414.4 116.6 412.1 116.9C409.9 117.1 407.6 116.8 405.4 116.9C403.2 117.0 400.9 117.4 398.7 117.6C396.5 117.8 394.2 118.0 392.0 117.8C389.7 117.7 386.4 117.0 385.3 116.8" stroke-width="0.76" opacity="0.35"/>
<path d="M463.52 65.01C462.9 64.1 461.1 61.4 459.6 59.8C458.2 58.2 456.4 56.8 454.6 55.7C452.8 54.5 450.8 53.5 448.8 52.8C446.7 52.2 444.4 52.3 442.4 51.6C440.4 51.0 438.4 49.9 436.5 48.8C434.6 47.8 431.9 46.0 431.0 45.4" stroke-width="0.52" opacity="0.52"/>
<path d="M495.41 83C496.2 83.4 498.4 84.6 500.0 85.1C501.6 85.6 503.3 85.9 504.9 86.3C506.6 86.6 508.2 87.2 509.9 87.4C511.5 87.6 513.3 87.3 514.9 87.5C516.6 87.7 518.3 88.1 519.9 88.7C521.5 89.2 522.9 90.1 524.5 90.8C526.0 91.5 527.6 92.1 529.1 92.8C530.6 93.5 532.2 94.2 533.7 95.0C535.2 95.8 536.6 96.7 538.1 97.4C539.6 98.2 541.1 99.0 542.7 99.6C544.3 100.2 546.8 100.6 547.6 100.8" stroke-width="0.88" opacity="0.77"/>
<path d="M482.85 100.99C483.2 101.8 484.3 104.3 485.1 105.9C486.0 107.4 486.8 109.0 487.9 110.5C488.9 111.9 490.2 113.3 491.4 114.5C492.7 115.8 494.2 116.8 495.5 118.1C496.7 119.4 497.6 120.9 498.9 122.2C500.1 123.5 501.7 124.4 503.0 125.7C504.2 127.0 505.3 128.4 506.5 129.8C507.6 131.2 508.8 132.5 509.8 134.0C510.9 135.4 511.7 137.1 512.9 138.4C514.0 139.8 515.6 140.8 516.8 142.1C517.9 143.5 518.7 145.1 519.9 146.5C521.0 147.9 522.3 149.1 523.5 150.4C524.8 151.7 526.8 153.5 527.4 154.2" stroke-width="0.89" opacity="0.78"/>
<path d="M490.42 83.49C491.4 83.9 494.3 85.1 496.4 85.7C498.4 86.3 500.5 86.6 502.6 87.2C504.6 87.8 506.6 88.5 508.6 89.2C510.6 89.8 512.7 90.3 514.7 91.1C516.6 91.9 518.5 93.0 520.2 94.2C522.0 95.3 523.7 96.6 525.4 97.9C527.1 99.2 528.6 100.6 530.4 101.8C532.2 102.9 534.1 103.9 536.0 104.8C538.0 105.6 540.0 106.2 542.0 106.9C544.0 107.7 545.9 108.5 547.9 109.3C549.9 110.2 551.9 110.9 553.7 111.9C555.6 112.8 557.5 113.9 559.1 115.3C560.7 116.6 562.8 119.1 563.5 119.8" stroke-width="0.44" opacity="0.74"/>
<path d="M483.14 63.22C483.6 62.2 485.3 59.2 486.1 57.0C486.8 54.9 487.2 52.6 487.6 50.4C488.1 48.1 488.5 45.9 488.9 43.6C489.2 41.4 489.2 39.1 489.6 36.8C489.9 34.6 490.3 32.3 491.0 30.1C491.7 28.0 493.0 26.0 493.7 23.8C494.3 21.7 494.5 19.3 494.9 17.1C495.3 14.9 496.0 11.5 496.2 10.4" stroke-width="0.67" opacity="0.5"/>
<path d="M458.83 86.43C457.9 86.8 455.1 88.0 453.2 88.6C451.3 89.1 449.3 89.3 447.3 89.7C445.3 90.0 443.3 90.1 441.3 90.6C439.4 91.1 437.6 92.0 435.7 92.7C433.8 93.4 431.9 94.1 430.0 94.7C428.1 95.3 426.2 96.1 424.2 96.4C422.3 96.7 420.2 96.5 418.2 96.6C416.2 96.8 414.2 97.3 412.2 97.3C410.2 97.3 408.3 96.8 406.3 96.6C404.3 96.4 401.3 96.1 400.3 96.1" stroke-width="0.66" opacity="0.36"/>
<path d="M478.75 63.7C479.1 62.8 480.3 60.2 480.9 58.4C481.5 56.5 481.9 54.6 482.1 52.8C482.4 50.9 482.2 48.9 482.3 47.0C482.3 45.1 482.6 43.2 482.6 41.3C482.6 39.3 482.4 37.4 482.2 35.5C482.1 33.6 481.8 31.7 481.7 29.8C481.7 27.9 481.9 25.9 481.7 24.0C481.5 22.1 481.2 20.2 480.8 18.3C480.4 16.5 480.0 14.6 479.2 12.8C478.4 11.1 477.0 9.6 476.2 7.9C475.4 6.2 474.9 4.3 474.6 2.4C474.3 0.5 474.4 -2.4 474.4 -3.4" stroke-width="0.56" opacity="0.61"/>
<path d="M481.37 58.6C481.6 57.5 482.5 54.2 483.0 52.0C483.5 49.8 483.9 47.6 484.5 45.4C485.1 43.3 485.7 41.1 486.5 39.0C487.4 36.9 488.5 34.9 489.7 33.0C490.8 31.0 492.1 29.2 493.3 27.3C494.6 25.4 496.0 23.6 497.0 21.6C498.1 19.6 498.8 17.5 499.5 15.3C500.2 13.2 500.5 10.9 501.1 8.8C501.6 6.6 502.2 4.4 502.8 2.2C503.4 0.0 504.1 -2.1 504.6 -4.3C505.1 -6.5 505.0 -8.8 505.7 -11.0C506.3 -13.1 507.4 -15.2 508.4 -17.2C509.5 -19.2 511.4 -22.0 512.0 -22.9" stroke-width="0.86" opacity="0.41"/>
<path d="M494.12 72.61C495.2 72.6 498.3 72.8 500.4 72.7C502.5 72.6 504.7 72.3 506.7 71.9C508.8 71.4 510.9 70.9 512.8 70.1C514.7 69.2 516.3 67.7 518.2 66.9C520.2 66.0 522.3 65.7 524.3 64.9C526.2 64.0 527.9 62.8 529.8 61.8C531.6 60.7 533.6 59.9 535.3 58.7C537.0 57.4 538.2 55.6 539.8 54.3C541.4 52.9 543.1 51.6 545.0 50.6C546.8 49.5 548.7 48.6 550.7 48.0C552.7 47.3 554.9 47.3 556.9 46.7C559.0 46.2 561.0 45.5 562.9 44.7C564.9 43.9 566.6 42.6 568.5 41.7C570.4 40.8 572.4 40.1 574.4 39.3C576.3 38.6 578.4 38.0 580.3 37.1C582.2 36.1 584.7 34.2 585.6 33.7" stroke-width="0.71" opacity="0.49"/>
<path d="M469.3 60.49C468.9 59.6 467.7 56.9 467.1 55.0C466.4 53.1 466.0 51.2 465.4 49.3C464.9 47.4 464.1 45.6 463.7 43.6C463.3 41.7 463.4 39.7 463.0 37.8C462.7 35.8 462.2 33.9 461.6 32.0C460.9 30.1 460.1 28.3 459.2 26.6C458.4 24.8 457.2 23.2 456.3 21.4C455.3 19.7 454.4 17.9 453.6 16.1C452.9 14.3 452.4 12.4 451.7 10.5C451.0 8.7 450.4 6.7 449.5 5.0C448.5 3.3 446.7 1.0 446.1 0.2" stroke-width="0.87" opacity="0.59"/>
<path d="M490.5 74.83C491.5 74.6 494.4 74.3 496.3 73.7C498.2 73.1 500.0 72.2 501.8 71.5C503.6 70.7 505.4 69.9 507.3 69.3C509.2 68.7 511.2 68.3 513.1 68.0C515.1 67.8 517.1 68.1 519.0 67.9C521.0 67.8 523.0 67.6 524.9 67.0C526.8 66.5 528.5 65.4 530.3 64.7C532.2 64.0 535.0 63.3 536.0 63.0" stroke-width="0.55" opacity="0.32"/>
<path d="M470.34 98.97C469.9 99.8 468.7 102.2 467.9 103.8C467.1 105.5 466.2 107.1 465.5 108.7C464.8 110.4 464.1 112.1 463.7 113.9C463.3 115.6 463.3 117.5 463.2 119.3C463.1 121.1 463.0 123.0 463.2 124.8C463.4 126.6 464.1 128.3 464.4 130.1C464.8 131.9 464.8 133.7 465.3 135.5C465.7 137.3 466.5 138.9 466.9 140.7C467.3 142.5 467.6 144.3 467.6 146.1C467.7 147.9 467.1 149.7 467.1 151.5C467.1 153.3 467.4 155.2 467.7 156.9C468.0 158.7 468.7 160.5 469.0 162.3C469.2 164.1 469.5 165.9 469.4 167.7C469.4 169.5 468.9 171.3 468.6 173.1C468.3 174.9 468.0 176.7 467.8 178.5C467.7 180.3 467.7 182.1 467.7 183.9C467.8 185.8 468.0 187.6 468.3 189.4C468.5 191.2 469.2 192.9 469.5 194.7C469.7 196.5 469.7 199.2 469.7 200.1" stroke-width="0.59" opacity="0.44"/>
<path d="M458.98 77.73C458.0 77.5 455.1 76.9 453.2 76.3C451.3 75.7 449.6 74.5 447.7 74.0C445.8 73.4 443.8 73.3 441.8 73.0C439.8 72.7 437.8 72.8 435.9 72.3C434.0 71.9 432.0 71.2 430.3 70.2C428.5 69.3 427.2 67.7 425.4 66.7C423.7 65.7 421.8 65.0 420.0 64.3C418.1 63.6 416.2 63.1 414.3 62.6C412.3 62.1 409.4 61.7 408.4 61.6" stroke-width="0.83" opacity="0.38"/>
<path d="M493.91 77.88C494.8 77.8 497.5 77.2 499.2 77.1C501.0 77.1 502.8 77.4 504.6 77.8C506.3 78.2 508.0 78.9 509.7 79.4C511.4 80.0 513.1 80.4 514.8 80.9C516.6 81.4 518.3 81.8 520.0 82.4C521.7 82.9 523.3 83.8 525.0 84.3C526.7 84.9 528.5 85.0 530.2 85.7C531.9 86.3 533.4 87.4 535.0 88.0C536.7 88.6 538.6 88.7 540.2 89.4C541.9 90.0 543.3 91.3 544.9 92.0C546.5 92.8 548.4 93.0 550.0 93.8C551.6 94.5 553.1 95.5 554.6 96.5C556.1 97.4 557.7 98.4 559.0 99.5C560.4 100.7 561.6 102.0 562.9 103.3C564.2 104.5 566.3 106.2 566.9 106.8" stroke-width="0.46" opacity="0.62"/>
<path d="M492.94 86.07C493.9 86.2 496.7 86.9 498.6 87.0C500.4 87.1 502.4 86.5 504.2 86.6C506.1 86.7 508.0 87.3 509.8 87.7C511.7 88.1 513.6 88.4 515.4 89.0C517.2 89.5 519.0 90.2 520.7 91.1C522.4 91.9 523.8 93.3 525.5 94.2C527.1 95.1 528.8 96.0 530.6 96.6C532.4 97.2 534.4 97.2 536.2 97.7C538.0 98.3 539.8 99.1 541.5 100.0C543.2 100.8 544.8 101.8 546.4 102.8C548.1 103.7 549.7 104.7 551.5 105.4C553.2 106.1 556.0 106.7 557.0 107.0" stroke-width="0.79" opacity="0.31"/>
<path d="M478.76 58.03C479.2 57.2 480.7 54.6 481.6 52.8C482.6 51.1 483.8 49.5 484.6 47.7C485.5 45.9 486.2 44.1 486.6 42.1C487.0 40.2 486.9 38.2 487.1 36.2C487.3 34.3 487.4 32.3 487.8 30.3C488.2 28.4 489.0 26.6 489.4 24.6C489.8 22.7 490.1 20.7 490.2 18.8C490.4 16.8 490.4 14.8 490.5 12.8C490.6 10.9 490.7 8.9 490.6 6.9C490.5 4.9 490.1 3.0 489.8 1.0C489.4 -0.9 488.8 -2.8 488.5 -4.8C488.2 -6.7 488.2 -8.7 487.8 -10.6C487.3 -12.6 486.2 -15.3 485.9 -16.3" stroke-width="0.84" opacity="0.72"/>
<path d="M482.66 71.27C483.4 70.7 485.6 69.0 487.2 68.0C488.7 67.0 490.4 66.2 492.0 65.2C493.6 64.3 495.1 63.1 496.8 62.3C498.4 61.5 500.3 61.1 502.0 60.5C503.8 59.8 505.5 59.1 507.3 58.6C509.1 58.0 511.0 57.8 512.7 57.1C514.4 56.4 515.9 55.2 517.5 54.4C519.2 53.5 521.0 52.9 522.6 52.0C524.1 51.0 525.6 49.9 527.0 48.6C528.4 47.4 529.4 45.8 530.8 44.6C532.2 43.4 534.0 42.6 535.5 41.5C537.0 40.4 538.2 38.9 539.7 37.8C541.2 36.7 542.8 35.8 544.5 35.1C546.2 34.4 548.2 34.2 549.9 33.5C551.6 32.8 553.1 31.7 554.8 30.9C556.5 30.1 558.3 29.6 559.9 28.7C561.5 27.7 563.0 26.5 564.3 25.2C565.6 23.9 566.6 22.3 567.8 20.9C569.1 19.5 570.6 18.4 571.7 16.9C572.8 15.5 574.0 12.9 574.5 12.1" stroke-width="0.74" opacity="0.75"/>
<path d="M475.38 104.63C475.3 105.7 475.0 109.0 474.6 111.2C474.2 113.4 473.6 115.5 473.0 117.7C472.4 119.8 471.8 121.9 471.0 124.0C470.2 126.0 469.0 128.0 468.4 130.1C467.7 132.2 467.2 134.4 466.9 136.5C466.5 138.7 466.7 141.0 466.2 143.1C465.8 145.3 464.8 147.3 464.3 149.5C463.8 151.6 463.2 154.9 463.0 156.0" stroke-width="0.83" opacity="0.6"/>
<path d="M469.73 66.39C469.3 65.5 468.1 62.7 467.3 60.9C466.5 59.0 465.8 57.1 464.8 55.4C463.7 53.7 462.4 52.1 461.0 50.7C459.6 49.3 457.7 48.3 456.3 46.8C454.9 45.4 454.2 43.4 452.8 41.9C451.5 40.4 449.8 39.2 448.2 38.0C446.6 36.9 444.7 36.1 443.0 35.0C441.3 33.9 439.6 32.8 438.0 31.5C436.5 30.2 435.1 28.8 433.7 27.3C432.4 25.8 431.4 23.9 430.0 22.5C428.6 21.1 426.1 19.3 425.4 18.6" stroke-width="0.72" opacity="0.22"/>
<path d="M462.19 97.91C461.8 99.1 460.5 102.6 459.6 104.9C458.6 107.2 457.6 109.5 456.6 111.8C455.6 114.0 454.4 116.2 453.5 118.6C452.6 120.9 452.1 123.3 451.2 125.7C450.4 128.0 449.2 130.2 448.3 132.6C447.5 134.9 447.1 137.4 446.1 139.7C445.1 142.0 443.4 143.9 442.4 146.2C441.3 148.4 440.5 150.8 439.6 153.1C438.7 155.4 437.9 157.8 437.1 160.2C436.3 162.5 435.0 166.0 434.6 167.2" stroke-width="0.6" opacity="0.41"/>
<path d="M462.93 68.94C462.3 68.0 460.4 65.0 459.1 63.2C457.7 61.3 456.0 59.7 454.7 57.8C453.4 55.8 452.6 53.6 451.4 51.6C450.1 49.7 448.7 47.8 447.2 46.0C445.7 44.3 443.7 42.9 442.3 41.1C440.8 39.4 439.7 37.3 438.5 35.3C437.3 33.3 436.4 31.1 435.0 29.3C433.6 27.4 431.6 26.1 430.1 24.3C428.7 22.5 426.9 19.5 426.2 18.5" stroke-width="0.7" opacity="0.42"/>
<path d="M490.26 93.85C491.0 94.8 493.4 97.4 494.7 99.3C496.1 101.2 497.1 103.4 498.4 105.3C499.8 107.2 501.5 108.8 502.9 110.7C504.3 112.5 505.6 114.5 507.0 116.4C508.3 118.3 509.7 120.2 510.9 122.2C512.1 124.2 513.3 126.3 514.3 128.4C515.3 130.5 516.0 132.8 516.9 134.9C517.8 137.1 518.8 139.2 519.7 141.4C520.6 143.6 521.3 145.8 522.3 147.9C523.3 150.0 524.5 152.1 525.7 154.0C527.0 156.0 528.3 158.0 529.8 159.7C531.4 161.4 533.4 162.8 535.2 164.3C537.0 165.7 539.0 167.0 540.8 168.6C542.5 170.1 544.2 171.8 545.7 173.6C547.2 175.3 548.5 177.4 549.7 179.3C551.0 181.3 552.0 183.5 553.2 185.4C554.4 187.4 555.7 189.5 557.2 191.2C558.7 193.0 560.8 194.2 562.4 195.9C564.0 197.6 566.1 200.5 566.8 201.4" stroke-width="0.87" opacity="0.63"/>
<path d="M479.52 68.91C480.3 68.0 482.4 65.1 484.0 63.4C485.7 61.7 487.7 60.4 489.5 58.8C491.2 57.1 492.8 55.4 494.4 53.6C496.0 51.9 497.8 50.3 499.2 48.4C500.7 46.5 501.8 44.4 503.1 42.4C504.3 40.4 505.7 38.4 506.9 36.4C508.0 34.3 508.9 32.1 509.9 29.9C510.9 27.7 511.9 25.6 512.8 23.4C513.8 21.2 514.8 19.1 515.7 16.9C516.6 14.7 517.6 12.5 518.3 10.2C518.9 8.0 518.8 5.5 519.5 3.2C520.2 1.0 521.3 -1.3 522.5 -3.2C523.8 -5.2 525.5 -6.9 527.1 -8.7C528.6 -10.5 530.1 -12.5 531.8 -14.1C533.5 -15.7 535.7 -16.8 537.5 -18.4C539.2 -19.9 540.8 -21.8 542.6 -23.4C544.3 -25.0 547.1 -27.2 548.0 -27.9" stroke-width="0.75" opacity="0.6"/>
<path d="M485.55 72.5C486.3 71.6 488.7 69.0 490.1 67.0C491.5 65.1 492.3 62.8 493.8 61.0C495.3 59.1 497.0 57.4 498.9 56.0C500.8 54.5 503.1 53.7 505.0 52.3C506.9 51.0 508.7 49.3 510.5 47.8C512.3 46.2 514.0 44.6 515.7 42.9C517.3 41.1 518.9 39.3 520.2 37.4C521.5 35.4 522.2 33.1 523.6 31.1C524.9 29.2 526.7 27.6 528.1 25.6C529.5 23.7 530.4 21.5 531.8 19.6C533.2 17.6 534.8 15.9 536.3 14.0C537.8 12.2 539.3 10.3 540.7 8.5C542.2 6.6 544.4 3.8 545.1 2.9" stroke-width="0.82" opacity="0.51"/>
<path d="M480.59 96.26C481.0 97.4 482.2 100.8 483.3 103.0C484.3 105.2 485.9 107.1 486.8 109.3C487.8 111.5 488.0 114.0 488.9 116.2C489.9 118.4 491.1 120.6 492.5 122.5C493.9 124.4 495.7 126.2 497.5 127.7C499.4 129.2 501.5 130.5 503.7 131.5C505.8 132.5 508.3 132.9 510.5 133.9C512.7 134.9 514.7 136.3 516.7 137.6C518.8 138.9 520.7 140.3 522.8 141.6C524.8 142.9 527.9 144.8 528.9 145.4" stroke-width="0.89" opacity="0.34"/>
<path d="M473.56 94.45C473.8 95.4 474.8 98.3 475.2 100.2C475.5 102.2 475.4 104.2 475.5 106.2C475.6 108.2 475.9 110.2 475.8 112.1C475.7 114.1 475.1 116.1 475.0 118.0C474.8 120.0 475.1 122.0 474.9 124.0C474.7 126.0 474.0 127.9 473.8 129.9C473.6 131.9 473.9 133.9 474.0 135.8C474.0 137.8 474.2 139.8 474.1 141.8C474.1 143.8 474.0 145.8 473.7 147.8C473.4 149.7 472.7 151.6 472.4 153.6C472.0 155.6 471.7 157.5 471.5 159.5C471.3 161.5 471.4 163.5 471.2 165.5C471.0 167.4 470.7 169.5 470.1 171.3C469.5 173.2 468.4 174.9 467.6 176.8C466.9 178.6 466.0 181.5 465.7 182.4" stroke-width="0.41" opacity="0.4"/>
<path d="M473.01 100.85C473.1 101.9 473.5 104.9 473.7 106.9C473.9 109.0 474.1 111.0 474.2 113.0C474.3 115.1 474.2 117.1 474.4 119.1C474.5 121.2 475.0 123.2 475.0 125.2C475.0 127.2 474.3 129.3 474.3 131.3C474.3 133.3 474.8 135.3 474.9 137.4C474.9 139.4 474.6 141.5 474.5 143.5C474.4 145.5 474.2 147.6 474.2 149.6C474.1 151.6 474.2 153.7 474.3 155.7C474.3 157.8 474.6 159.8 474.3 161.8C474.1 163.8 473.1 166.8 472.9 167.8" stroke-width="0.79" opacity="0.32"/>
<path d="M454.97 84.56C454.0 84.5 451.2 84.3 449.4 84.3C447.5 84.3 445.6 84.7 443.8 84.6C441.9 84.4 440.1 83.8 438.3 83.6C436.4 83.3 434.6 82.9 432.7 82.9C430.9 82.9 429.0 83.3 427.2 83.6C425.3 83.9 423.4 84.1 421.7 84.7C419.9 85.3 418.2 86.1 416.6 87.1C415.1 88.1 413.7 89.4 412.3 90.7C410.9 91.9 409.6 93.3 408.3 94.6C407.0 95.9 405.7 97.3 404.5 98.7C403.2 100.1 402.2 101.7 400.8 102.9C399.4 104.1 397.0 105.6 396.2 106.1" stroke-width="0.66" opacity="0.47"/>
<path d="M494.89 83.43C495.9 83.5 498.7 83.9 500.6 84.0C502.6 84.0 504.5 83.6 506.4 83.5C508.3 83.4 510.2 83.1 512.1 83.1C514.1 83.2 516.0 83.3 517.9 83.7C519.8 84.0 521.6 84.6 523.4 85.4C525.2 86.1 526.8 87.1 528.5 88.0C530.2 89.0 531.9 89.8 533.5 90.9C535.1 92.0 536.3 93.6 537.9 94.7C539.5 95.8 541.4 96.4 543.0 97.4C544.5 98.5 545.9 99.9 547.4 101.1C548.9 102.3 550.4 103.5 552.0 104.6C553.6 105.7 555.3 106.6 556.9 107.7C558.5 108.7 560.0 109.9 561.5 111.1C563.1 112.2 564.7 113.3 566.1 114.6C567.5 115.9 568.6 117.5 569.9 118.9C571.2 120.4 572.3 122.0 573.8 123.2C575.2 124.5 577.1 125.3 578.6 126.4C580.1 127.6 581.4 129.1 583.0 130.2C584.6 131.2 587.3 132.3 588.1 132.8" stroke-width="0.51" opacity="0.35"/>
<path d="M485.75 65.94C486.6 65.2 489.4 63.2 490.9 61.6C492.4 59.9 493.5 57.9 494.8 56.1C496.2 54.3 497.4 52.4 498.9 50.8C500.4 49.1 502.4 47.8 503.8 46.1C505.2 44.4 506.2 42.3 507.6 40.6C509.0 38.8 510.7 37.3 512.3 35.8C514.0 34.2 515.8 32.9 517.4 31.4C519.1 29.9 520.5 28.0 522.2 26.7C524.0 25.3 526.0 24.2 528.0 23.1C529.9 22.0 531.8 20.8 533.9 20.0C536.0 19.2 538.2 18.6 540.4 18.2C542.6 17.8 544.9 18.0 547.1 17.7C549.3 17.3 552.6 16.5 553.7 16.3" stroke-width="0.48" opacity="0.32"/>
<path d="M483.03 91.09C483.9 91.9 486.5 94.2 488.0 95.9C489.4 97.7 490.6 99.8 491.9 101.7C493.2 103.6 494.4 105.5 495.8 107.3C497.3 109.1 499.1 110.6 500.5 112.5C501.8 114.3 502.8 116.5 503.9 118.5C505.1 120.5 506.3 122.4 507.5 124.4C508.7 126.4 510.0 128.4 510.8 130.5C511.7 132.6 512.0 135.0 512.9 137.1C513.7 139.2 515.2 141.2 515.9 143.3C516.7 145.5 516.6 147.9 517.3 150.1C517.9 152.3 519.5 155.4 519.9 156.5" stroke-width="0.82" opacity="0.5"/>
<path d="M461.24 78.61C460.4 78.5 457.7 78.5 456.0 78.1C454.3 77.8 452.6 77.4 451.0 76.7C449.4 76.1 448.0 74.9 446.4 74.3C444.8 73.6 443.1 73.2 441.4 72.9C439.7 72.6 437.9 72.7 436.2 72.6C434.4 72.5 432.7 72.2 431.0 72.1C429.2 72.0 426.6 72.1 425.8 72.1" stroke-width="0.47" opacity="0.43"/>
<path d="M474.22 64.14C474.7 63.1 476.2 59.9 476.9 57.7C477.7 55.5 478.0 53.2 478.6 51.0C479.2 48.7 479.6 46.4 480.6 44.3C481.5 42.2 483.1 40.3 484.1 38.3C485.2 36.2 485.9 34.0 487.0 31.9C488.1 29.9 489.6 28.1 490.7 26.1C491.7 24.0 492.3 21.7 493.3 19.6C494.2 17.5 495.2 15.3 496.4 13.4C497.7 11.4 499.4 9.8 500.8 8.0C502.2 6.1 504.2 3.2 504.8 2.3" stroke-width="0.89" opacity="0.7"/>
<path d="M491.41 83.36C492.3 83.3 494.8 83.3 496.5 83.3C498.2 83.3 499.9 83.3 501.6 83.5C503.3 83.7 505.0 84.0 506.6 84.5C508.2 85.1 509.7 85.8 511.3 86.5C512.8 87.2 514.4 87.9 515.8 88.8C517.2 89.8 518.3 91.1 519.8 92.0C521.2 92.9 522.8 93.6 524.3 94.2C525.9 94.9 527.6 95.3 529.1 95.9C530.7 96.6 532.1 97.6 533.6 98.4C535.1 99.2 536.6 99.9 538.2 100.5C539.8 101.1 541.5 101.4 543.0 102.1C544.6 102.9 545.8 104.1 547.3 104.9C548.7 105.8 550.2 106.7 551.7 107.4C553.3 108.2 554.8 108.9 556.4 109.4C558.0 109.8 559.8 109.9 561.5 110.2C563.1 110.4 564.8 110.8 566.5 110.9C568.2 111.0 569.9 110.5 571.6 110.7C573.3 110.9 574.9 111.3 576.5 111.9C578.1 112.4 580.4 113.6 581.1 114.0" stroke-width="0.64" opacity="0.54"/>
<path d="M475.99 104.35C475.8 105.2 475.1 107.6 474.7 109.2C474.2 110.8 474.0 112.5 473.4 114.0C472.8 115.6 471.7 116.9 471.1 118.5C470.5 120.0 470.3 121.7 470.0 123.4C469.8 125.0 469.9 126.7 469.6 128.4C469.3 130.0 468.6 131.6 468.3 133.2C467.9 134.8 467.9 136.5 467.5 138.1C467.1 139.7 466.0 142.0 465.8 142.8" stroke-width="0.68" opacity="0.54"/>
<path d="M495.71 84.71C496.5 84.9 499.1 85.5 500.8 85.9C502.4 86.3 504.1 86.6 505.8 87.0C507.5 87.3 509.2 87.7 510.9 88.1C512.6 88.4 514.3 88.6 516.0 89.1C517.6 89.6 519.3 90.1 520.8 90.9C522.4 91.6 523.8 92.7 525.3 93.5C526.9 94.3 528.5 94.8 530.0 95.7C531.5 96.6 532.8 97.8 534.1 98.9C535.3 100.1 536.4 101.5 537.5 102.8C538.6 104.2 539.6 105.6 540.5 107.0C541.5 108.5 542.2 110.1 543.1 111.5C544.0 113.0 544.9 114.5 545.8 116.0C546.7 117.5 547.6 118.9 548.3 120.5C549.0 122.1 549.6 123.7 550.1 125.4C550.5 127.0 551.0 129.6 551.2 130.4" stroke-width="0.62" opacity="0.31"/>
<path d="M480.48 60.88C480.8 59.9 481.7 57.1 482.5 55.2C483.3 53.4 484.3 51.7 485.2 49.9C486.0 48.1 486.7 46.2 487.6 44.4C488.5 42.6 489.4 40.8 490.6 39.2C491.8 37.6 493.2 36.2 494.7 34.9C496.1 33.5 497.8 32.3 499.3 31.0C500.8 29.7 502.4 28.5 503.7 27.0C505.0 25.5 506.0 23.7 507.2 22.1C508.5 20.6 509.9 19.2 511.2 17.7C512.6 16.3 514.1 14.9 515.5 13.5C517.0 12.1 518.6 10.9 519.9 9.4C521.1 7.9 522.2 6.1 523.1 4.3C523.9 2.6 524.5 0.6 524.9 -1.3C525.3 -3.3 525.6 -5.3 525.5 -7.3C525.5 -9.3 524.9 -12.2 524.8 -13.2" stroke-width="0.9" opacity="0.51"/>
<path d="M486.45 69.74C487.4 69.1 490.4 67.2 492.3 65.8C494.2 64.3 496.2 62.9 497.8 61.2C499.5 59.6 500.7 57.5 502.2 55.6C503.6 53.7 504.9 51.7 506.6 50.0C508.2 48.3 510.1 46.9 511.9 45.4C513.8 43.9 515.9 42.8 517.6 41.1C519.3 39.5 520.5 37.4 522.1 35.7C523.7 33.9 526.4 31.5 527.2 30.7" stroke-width="0.55" opacity="0.57"/>
<path d="M460.26 91.77C459.7 92.5 458.0 94.8 456.7 96.2C455.5 97.6 453.8 98.7 452.6 100.1C451.4 101.6 450.5 103.3 449.7 105.0C448.9 106.7 448.3 108.5 447.8 110.4C447.4 112.2 447.5 114.1 447.1 116.0C446.7 117.8 445.7 119.5 445.3 121.4C444.9 123.2 444.8 125.1 444.6 127.0C444.4 128.9 444.4 130.8 444.2 132.7C444.1 134.6 443.9 136.4 443.6 138.3C443.3 140.2 442.6 142.9 442.4 143.9" stroke-width="0.62" opacity="0.38"/>
<path d="M484.08 89.25C485.2 89.7 488.7 91.1 491.0 92.1C493.2 93.1 495.4 94.4 497.7 95.3C500.0 96.3 502.3 97.4 504.7 98.0C507.1 98.5 509.7 98.2 512.1 98.7C514.5 99.3 516.8 100.5 519.2 101.1C521.6 101.8 524.2 101.9 526.5 102.7C528.8 103.5 530.8 105.2 533.1 106.1C535.5 106.9 538.0 107.5 540.4 107.8C542.9 108.2 545.4 108.3 547.9 108.2C550.3 108.2 552.8 107.5 555.3 107.5C557.8 107.5 560.3 107.7 562.7 108.3C565.1 108.8 567.5 109.7 569.8 110.7C572.0 111.7 574.3 112.9 576.3 114.3C578.4 115.7 580.0 117.7 582.1 119.0C584.2 120.3 586.7 120.9 588.9 122.2C591.0 123.4 594.1 125.6 595.1 126.2" stroke-width="0.81" opacity="0.49"/>
<path d="M479.31 62.26C479.4 61.1 479.5 57.4 479.8 55.0C480.1 52.6 481.0 50.3 481.4 47.9C481.7 45.6 481.3 43.1 481.8 40.7C482.2 38.3 483.0 36.0 483.8 33.7C484.5 31.4 485.3 29.1 486.1 26.9C486.9 24.6 487.8 22.3 488.5 20.0C489.2 17.7 489.6 15.3 490.4 13.0C491.1 10.7 492.0 8.4 492.9 6.2C493.9 4.0 495.6 0.8 496.1 -0.3" stroke-width="0.41" opacity="0.31"/>
<path d="M490.22 92.19C490.9 92.7 493.1 94.3 494.5 95.5C495.8 96.7 496.8 98.3 498.2 99.4C499.6 100.5 501.3 101.2 502.9 102.1C504.5 102.9 506.2 103.5 507.7 104.4C509.2 105.4 510.4 106.9 511.9 107.9C513.4 108.8 515.1 109.3 516.7 110.2C518.3 111.1 519.9 112.0 521.3 113.1C522.7 114.2 524.0 115.4 525.2 116.8C526.4 118.1 527.1 119.8 528.3 121.1C529.5 122.5 531.1 123.4 532.4 124.6C533.7 125.9 534.7 127.4 536.1 128.6C537.5 129.7 539.1 130.5 540.6 131.6C542.0 132.6 543.4 133.8 544.8 134.9C546.1 136.1 548.0 138.0 548.7 138.7" stroke-width="0.61" opacity="0.39"/>
<path d="M479.87 64.73C480.2 63.8 481.4 61.2 482.1 59.3C482.7 57.5 483.0 55.5 483.8 53.8C484.6 52.0 485.6 50.3 486.7 48.7C487.8 47.1 489.1 45.6 490.3 44.1C491.6 42.6 493.0 41.3 494.2 39.8C495.5 38.3 496.4 36.6 497.6 35.0C498.8 33.5 500.0 32.0 501.4 30.6C502.8 29.3 504.5 28.3 506.0 27.1C507.6 25.9 509.3 24.8 510.6 23.5C512.0 22.1 513.1 20.4 514.2 18.9C515.4 17.3 516.4 15.7 517.4 14.0C518.4 12.3 519.7 9.7 520.2 8.9" stroke-width="0.41" opacity="0.37"/>
<path d="M466.15 103.45C465.5 104.5 463.7 107.8 462.2 109.7C460.6 111.6 458.4 113.0 456.9 114.9C455.3 116.8 454.1 119.0 452.7 121.1C451.3 123.1 450.1 125.3 448.5 127.2C446.9 129.1 444.8 130.5 443.3 132.4C441.7 134.3 440.6 136.6 438.9 138.5C437.3 140.3 435.4 141.9 433.5 143.5C431.7 145.2 429.9 147.0 427.8 148.3C425.7 149.6 423.2 150.2 421.1 151.4C419.0 152.7 416.0 155.0 415.0 155.7" stroke-width="0.41" opacity="0.53"/>
<path d="M486.12 72.34C487.2 71.9 490.6 70.7 492.6 69.5C494.6 68.4 496.6 67.0 498.3 65.4C500.0 63.7 501.3 61.7 502.8 59.9C504.2 58.0 505.6 56.1 507.1 54.3C508.6 52.5 510.4 50.9 511.9 49.1C513.4 47.3 514.7 45.3 515.9 43.3C517.1 41.3 518.2 39.2 519.2 37.0C520.2 34.9 520.8 32.6 521.6 30.4C522.5 28.2 523.2 25.9 524.4 23.9C525.5 21.8 527.3 20.2 528.5 18.1C529.6 16.1 530.2 13.8 531.0 11.5C531.9 9.3 532.8 7.2 533.5 4.9C534.1 2.7 534.6 0.3 535.2 -2.0C535.7 -4.2 536.5 -6.5 536.7 -8.8C537.0 -11.2 536.7 -14.7 536.7 -15.9" stroke-width="0.78" opacity="0.65"/>
<path d="M486.03 90.56C486.6 91.2 488.1 93.3 489.2 94.6C490.3 95.9 491.6 97.1 492.5 98.6C493.5 100.0 494.3 101.5 495.0 103.1C495.7 104.6 496.2 106.3 496.6 108.0C497.1 109.6 497.3 111.3 497.6 113.0C498.0 114.7 498.5 116.4 498.6 118.1C498.7 119.8 498.4 121.5 498.4 123.2C498.3 124.9 498.4 126.6 498.6 128.3C498.8 130.0 499.1 131.7 499.4 133.4C499.6 135.1 499.9 136.8 500.1 138.5C500.4 140.2 500.6 141.9 500.9 143.6C501.2 145.3 501.8 147.8 502.0 148.6" stroke-width="0.66" opacity="0.31"/>
<path d="M466.87 95.34C466.3 96.4 464.6 99.5 463.7 101.7C462.8 103.9 462.1 106.2 461.4 108.4C460.6 110.7 459.8 113.0 459.5 115.3C459.1 117.6 459.1 120.0 459.1 122.4C459.2 124.8 459.7 127.1 459.7 129.5C459.7 131.9 459.3 135.4 459.2 136.6" stroke-width="0.67" opacity="0.5"/>
<path d="M481.21 103.55C481.8 104.6 483.7 107.8 484.9 110.0C486.0 112.2 487.0 114.4 488.1 116.7C489.2 118.9 490.3 121.1 491.4 123.3C492.6 125.5 493.7 127.8 495.2 129.7C496.7 131.7 498.9 133.0 500.5 134.9C502.0 136.8 502.9 139.2 504.3 141.3C505.7 143.3 507.2 145.3 508.7 147.3C510.1 149.3 511.9 151.1 513.2 153.1C514.6 155.2 515.6 157.5 516.8 159.6C518.0 161.8 519.8 165.0 520.4 166.1" stroke-width="0.83" opacity="0.71"/>
<path d="M486.1 80.39C487.0 80.5 489.8 81.0 491.6 81.3C493.5 81.5 495.3 81.8 497.2 81.9C499.0 82.0 500.9 82.1 502.8 81.9C504.6 81.7 506.4 81.1 508.3 80.8C510.1 80.5 512.0 80.1 513.8 79.9C515.7 79.8 517.6 79.7 519.4 79.9C521.3 80.0 523.1 80.5 524.9 80.9C526.7 81.3 528.6 81.7 530.3 82.4C532.1 83.0 533.7 83.9 535.5 84.6C537.2 85.2 538.9 86.0 540.7 86.4C542.5 86.9 544.4 87.0 546.3 87.3C548.1 87.6 550.0 87.8 551.8 88.0C553.7 88.2 555.5 88.4 557.4 88.5C559.3 88.5 561.1 88.3 563.0 88.3C564.9 88.3 566.7 88.4 568.6 88.5C570.4 88.6 572.3 88.8 574.2 88.7C576.0 88.6 577.9 88.0 579.7 88.0C581.6 88.0 584.4 88.4 585.3 88.5" stroke-width="0.77" opacity="0.62"/>
<path d="M491.11 87.04C492.2 87.6 495.5 89.3 497.8 90.4C500.0 91.4 502.3 92.5 504.6 93.2C507.0 93.8 509.5 94.0 512.0 94.2C514.5 94.5 517.0 94.4 519.4 94.6C521.9 94.8 524.3 95.3 526.8 95.4C529.3 95.5 531.8 95.1 534.2 95.1C536.7 95.1 539.2 95.5 541.7 95.3C544.1 95.2 546.6 94.4 549.0 94.3C551.5 94.2 555.2 94.7 556.5 94.7" stroke-width="0.6" opacity="0.61"/>
<path d="M473.46 66.7C473.4 65.8 473.1 63.1 473.2 61.3C473.4 59.5 473.8 57.6 474.4 55.9C475.0 54.2 476.2 52.8 476.8 51.1C477.4 49.4 477.5 47.5 477.9 45.7C478.4 44.0 478.9 42.2 479.5 40.5C480.2 38.8 481.2 37.3 481.8 35.6C482.4 33.9 483.0 32.1 483.3 30.4C483.7 28.6 483.9 26.8 484.0 25.0C484.1 23.2 483.8 21.3 483.8 19.5C483.9 17.7 484.5 15.9 484.5 14.1C484.6 12.3 484.2 10.5 484.1 8.7C483.9 6.9 483.9 5.1 483.9 3.3C483.9 1.5 484.0 -1.3 484.0 -2.2" stroke-width="0.41" opacity="0.64"/>
<path d="M469.32 63.79C469.3 62.8 469.0 59.8 469.1 57.8C469.2 55.8 469.4 53.7 469.8 51.8C470.3 49.8 471.2 48.0 471.8 46.1C472.4 44.1 473.1 42.2 473.6 40.3C474.1 38.3 474.4 36.4 474.8 34.4C475.1 32.4 475.3 30.4 475.6 28.4C476.0 26.4 476.7 24.5 476.8 22.5C477.0 20.5 476.4 18.5 476.6 16.5C476.7 14.5 477.2 12.5 477.7 10.5C478.2 8.6 479.1 6.7 479.5 4.8C479.9 2.8 480.1 0.8 480.0 -1.2C480.0 -3.2 479.6 -5.2 479.3 -7.2C479.0 -9.2 478.7 -11.2 478.4 -13.2C478.1 -15.2 477.8 -17.2 477.4 -19.1C476.9 -21.1 476.5 -23.1 475.8 -24.9C475.1 -26.8 474.2 -28.7 473.3 -30.4C472.3 -32.2 471.2 -33.9 470.1 -35.6C468.9 -37.2 467.4 -38.6 466.3 -40.3C465.2 -42.0 463.8 -44.7 463.4 -45.5" stroke-width="0.62" opacity="0.41"/>
<path d="M460.93 76.56C459.7 76.5 456.1 76.5 453.8 76.1C451.4 75.6 449.2 74.6 447.0 73.8C444.7 72.9 442.5 72.0 440.4 70.9C438.3 69.8 436.3 68.5 434.2 67.2C432.2 66.0 430.0 64.8 428.2 63.3C426.4 61.7 424.2 58.9 423.4 58.0" stroke-width="0.4" opacity="0.37"/>
<path d="M487.26 68.17C488.1 67.6 490.4 65.7 492.1 64.7C493.8 63.6 495.6 62.7 497.4 61.9C499.3 61.1 501.2 60.4 503.1 59.9C505.0 59.4 507.1 59.4 509.0 58.8C510.9 58.3 512.7 57.4 514.5 56.6C516.3 55.7 518.0 54.7 519.7 53.6C521.4 52.5 522.9 51.1 524.6 50.2C526.4 49.2 529.3 48.4 530.2 48.0" stroke-width="0.83" opacity="0.64"/>
<path d="M488.94 86.86C489.8 87.3 492.2 88.8 494.0 89.5C495.8 90.1 497.7 90.2 499.6 90.8C501.4 91.4 503.0 92.3 504.8 92.9C506.6 93.5 508.5 94.1 510.3 94.4C512.2 94.7 514.1 95.0 516.0 94.9C517.9 94.8 519.8 94.1 521.6 93.9C523.5 93.7 525.4 93.6 527.3 93.6C529.2 93.6 531.1 93.8 533.0 93.8C534.9 93.8 536.8 93.7 538.7 93.7C540.6 93.8 542.5 93.9 544.4 94.3C546.2 94.7 548.0 95.6 549.8 96.0C551.7 96.5 553.7 96.3 555.5 96.9C557.3 97.4 559.0 98.3 560.7 99.1C562.4 100.0 564.1 100.8 565.8 101.7C567.4 102.7 568.8 104.1 570.5 104.9C572.1 105.8 574.0 106.5 575.8 107.0C577.6 107.5 579.5 107.7 581.4 107.9C583.3 108.2 586.1 108.4 587.1 108.5" stroke-width="0.76" opacity="0.44"/>
<path d="M491.85 81.27C492.8 81.0 495.7 80.6 497.6 79.9C499.4 79.2 501.0 78.1 502.8 77.3C504.6 76.5 506.6 76.1 508.3 75.1C510.0 74.2 511.5 72.9 513.1 71.8C514.7 70.6 516.4 69.6 517.8 68.2C519.2 66.9 520.1 65.0 521.4 63.6C522.8 62.2 524.4 61.0 525.9 59.7C527.4 58.5 528.9 57.2 530.5 56.1C532.2 55.1 534.0 54.2 535.6 53.2C537.3 52.2 539.1 51.3 540.6 50.1C542.2 48.9 543.6 47.6 545.0 46.1C546.3 44.7 548.1 42.4 548.7 41.6" stroke-width="0.72" opacity="0.71"/>
<path d="M457 94.87C456.3 95.7 454.2 98.3 452.7 99.9C451.2 101.5 449.4 102.9 447.9 104.5C446.4 106.1 445.1 107.9 443.7 109.6C442.4 111.4 440.8 113.0 439.7 114.9C438.6 116.8 438.1 119.1 437.0 120.9C435.8 122.8 433.6 125.3 432.9 126.2" stroke-width="0.59" opacity="0.47"/>
<path d="M468.3 59.63C467.9 58.7 466.7 55.9 465.8 54.1C464.9 52.3 463.8 50.6 462.8 48.8C461.9 47.1 461.3 45.1 460.2 43.4C459.2 41.7 457.7 40.3 456.5 38.6C455.3 37.0 454.2 35.3 453.2 33.6C452.2 31.8 451.5 29.9 450.4 28.2C449.4 26.5 448.3 24.7 446.9 23.3C445.6 21.8 443.7 20.8 442.3 19.3C440.9 17.9 439.9 16.1 438.7 14.5C437.5 12.8 436.4 11.2 435.1 9.6C433.8 8.1 432.2 6.8 431.0 5.2C429.7 3.6 428.9 1.7 427.6 0.2C426.4 -1.4 424.6 -2.6 423.5 -4.3C422.3 -5.9 421.4 -7.7 420.6 -9.6C419.7 -11.4 419.3 -13.4 418.3 -15.2C417.3 -16.9 416.1 -18.6 414.8 -20.1C413.4 -21.5 411.6 -22.6 410.0 -23.8C408.4 -25.1 406.9 -26.4 405.1 -27.4C403.4 -28.4 400.5 -29.4 399.6 -29.8" stroke-width="0.63" opacity="0.71"/>
<path d="M462.69 85.42C461.8 85.8 459.0 87.1 457.2 87.9C455.4 88.8 453.8 90.0 451.9 90.7C450.0 91.4 448.0 91.4 446.1 92.0C444.2 92.6 442.3 93.3 440.5 94.1C438.6 95.0 436.8 95.8 435.1 96.9C433.5 98.1 432.2 99.6 430.7 101.0C429.2 102.3 427.6 103.5 426.2 104.9C424.8 106.4 423.8 108.2 422.4 109.5C420.9 110.9 419.2 112.0 417.4 112.9C415.7 113.9 413.7 114.5 411.8 115.0C409.9 115.5 407.8 115.4 405.9 116.0C404.0 116.6 401.3 118.1 400.4 118.5" stroke-width="0.54" opacity="0.22"/>
<path d="M490.13 89.53C491.0 90.0 493.5 91.2 495.1 92.2C496.8 93.2 498.2 94.4 499.9 95.4C501.5 96.3 503.2 97.3 505.0 97.8C506.8 98.4 508.7 98.5 510.6 98.9C512.4 99.3 514.3 99.7 516.1 100.3C517.9 100.8 519.7 101.4 521.5 102.2C523.2 103.0 524.9 103.9 526.5 104.9C528.1 105.9 529.5 107.2 531.0 108.4C532.5 109.5 534.3 110.3 535.7 111.6C537.1 112.8 538.1 114.5 539.5 115.8C540.9 117.0 542.6 118.0 544.1 119.2C545.6 120.4 547.7 122.3 548.4 122.9" stroke-width="0.48" opacity="0.75"/>
<path d="M486.37 99.78C487.1 100.6 489.6 103.1 491.0 105.0C492.4 106.8 493.6 108.8 494.7 110.9C495.8 112.9 496.7 115.0 497.6 117.2C498.4 119.4 498.8 121.7 499.8 123.8C500.7 125.9 502.4 127.7 503.3 129.8C504.2 131.9 504.4 134.3 505.2 136.5C506.0 138.7 507.1 140.7 508.0 142.9C508.8 145.0 509.5 147.3 510.1 149.5C510.8 151.7 511.3 154.0 511.9 156.2C512.5 158.5 513.4 161.8 513.7 162.9" stroke-width="0.75" opacity="0.41"/>
<path d="M488.14 81.82C489.1 82.2 492.2 83.2 494.2 83.9C496.2 84.6 498.2 85.3 500.2 86.0C502.2 86.6 504.2 87.3 506.2 87.9C508.3 88.6 510.2 89.4 512.3 89.9C514.3 90.4 516.4 90.9 518.5 91.2C520.6 91.4 522.8 91.2 524.9 91.5C527.0 91.8 529.1 92.3 531.1 92.9C533.1 93.5 535.0 94.7 537.0 95.2C539.1 95.8 541.2 95.8 543.3 96.1C545.4 96.4 547.5 96.9 549.6 96.9C551.7 96.9 553.9 96.5 556.0 96.2C558.0 95.8 560.1 95.3 562.1 94.6C564.1 93.9 566.0 92.8 567.9 92.0C569.9 91.3 572.1 90.9 574.0 90.1C576.0 89.3 577.9 88.3 579.7 87.3C581.6 86.3 583.4 85.2 585.2 84.1C587.0 83.0 588.7 81.6 590.6 80.7C592.5 79.8 595.7 79.1 596.7 78.8" stroke-width="0.42" opacity="0.34"/>
<path d="M490.94 70.67C491.9 70.0 494.7 68.1 496.4 66.7C498.2 65.2 499.7 63.6 501.4 62.1C503.1 60.6 504.8 59.0 506.6 57.6C508.4 56.3 510.6 55.4 512.3 54.0C514.1 52.6 515.3 50.6 517.0 49.1C518.7 47.6 520.6 46.3 522.4 45.0C524.3 43.7 526.0 42.1 528.0 41.1C530.0 40.0 532.3 39.5 534.4 38.7C536.5 38.0 538.8 37.4 540.8 36.4C542.7 35.3 544.5 33.8 546.3 32.5C548.1 31.1 549.7 29.4 551.6 28.1C553.4 26.8 555.4 25.8 557.4 24.6C559.3 23.4 561.1 22.1 563.0 20.9C564.9 19.6 567.8 17.8 568.8 17.2" stroke-width="0.68" opacity="0.56"/>
<path d="M485.57 89.6C486.6 90.2 489.5 92.4 491.6 93.5C493.7 94.5 496.0 95.2 498.2 96.1C500.4 97.0 502.7 97.8 504.8 99.0C506.9 100.1 508.9 101.4 510.7 102.9C512.5 104.4 514.1 106.3 515.7 108.1C517.2 109.9 518.4 112.0 520.0 113.7C521.6 115.5 523.4 117.1 525.2 118.6C527.1 120.1 529.1 121.5 531.0 122.8C533.0 124.1 535.0 125.4 537.1 126.6C539.1 127.8 541.1 129.2 543.3 130.1C545.5 130.9 547.9 131.5 550.3 131.8C552.6 132.1 555.0 132.2 557.4 132.0C559.8 131.9 562.1 131.3 564.5 130.9C566.8 130.6 569.2 130.3 571.5 129.8C573.9 129.4 576.2 128.9 578.5 128.3C580.8 127.7 583.0 126.8 585.3 126.2C587.7 125.6 590.0 125.1 592.3 124.6C594.6 124.1 598.1 123.4 599.3 123.2" stroke-width="0.85" opacity="0.49"/>
<path d="M472.55 59.52C472.4 58.7 471.9 56.2 471.6 54.5C471.3 52.8 470.9 51.2 470.5 49.5C470.2 47.8 469.8 46.2 469.4 44.5C468.9 42.9 468.5 41.2 467.8 39.7C467.1 38.1 466.2 36.6 465.3 35.2C464.4 33.8 463.2 32.5 462.1 31.2C461.1 29.9 460.2 28.4 459.0 27.1C457.9 25.9 456.6 24.7 455.2 23.7C453.8 22.7 452.1 22.3 450.7 21.3C449.4 20.3 448.2 19.0 447.0 17.7C445.9 16.5 444.9 15.0 443.8 13.8C442.6 12.6 441.1 11.7 439.9 10.5C438.7 9.2 437.6 7.9 436.7 6.4C435.8 5.0 434.9 3.5 434.3 2.0C433.6 0.4 433.1 -2.1 432.8 -3.0" stroke-width="0.85" opacity="0.56"/>
<path d="M476.76 99.39C476.6 100.4 476.1 103.3 475.9 105.3C475.7 107.3 475.6 109.3 475.5 111.3C475.4 113.2 475.5 115.3 475.3 117.2C475.1 119.2 474.5 121.1 474.1 123.1C473.7 125.0 473.3 127.0 472.9 128.9C472.6 130.9 472.1 132.9 472.1 134.8C472.1 136.8 472.7 138.8 472.7 140.8C472.7 142.8 472.2 144.8 472.1 146.7C472.0 148.7 472.1 150.7 472.2 152.7C472.2 154.7 472.3 156.7 472.3 158.7C472.2 160.7 472.3 162.7 472.0 164.6C471.7 166.6 471.0 168.5 470.6 170.5C470.3 172.4 469.9 174.4 469.8 176.4C469.6 178.3 469.9 180.4 469.6 182.3C469.4 184.3 468.5 186.2 468.2 188.1C467.9 190.1 468.1 192.1 468.0 194.1C467.9 196.1 467.8 199.1 467.8 200.1" stroke-width="0.74" opacity="0.73"/>
<path d="M462.66 90.22C461.8 90.6 459.2 91.6 457.5 92.3C455.8 93.1 454.2 94.1 452.5 94.8C450.8 95.5 448.9 95.9 447.2 96.7C445.5 97.4 443.8 98.2 442.2 99.0C440.5 99.9 438.9 100.8 437.3 101.8C435.7 102.8 434.3 104.0 432.7 104.9C431.1 105.9 429.3 106.6 427.8 107.6C426.2 108.6 424.9 109.9 423.5 111.1C422.0 112.3 419.9 114.2 419.2 114.8" stroke-width="0.89" opacity="0.32"/>
<path d="M487.89 66.18C488.8 65.5 491.5 63.4 493.4 62.3C495.4 61.2 497.7 60.6 499.6 59.6C501.6 58.5 503.5 57.3 505.4 55.9C507.2 54.6 508.7 52.9 510.5 51.6C512.4 50.3 514.4 49.2 516.4 48.2C518.4 47.1 520.6 46.4 522.5 45.2C524.4 44.0 526.0 42.4 527.7 40.9C529.5 39.5 531.4 38.2 532.9 36.6C534.4 34.9 535.6 32.9 536.8 31.0C538.0 29.1 539.4 26.0 540.0 25.0" stroke-width="0.49" opacity="0.41"/>
<path d="M486.8 91.64C487.4 92.3 489.2 94.4 490.6 95.5C492.0 96.7 493.5 97.8 495.1 98.6C496.7 99.5 498.4 100.1 500.1 100.8C501.8 101.6 503.5 102.2 505.2 102.9C506.8 103.6 508.5 104.4 510.1 105.2C511.7 106.1 513.2 107.2 514.9 107.9C516.5 108.5 518.4 109.0 520.2 109.2C522.0 109.4 523.8 109.3 525.6 109.3C527.4 109.3 529.3 109.2 531.1 109.3C532.9 109.3 534.7 109.4 536.5 109.5C538.3 109.6 540.2 109.6 542.0 109.8C543.8 110.0 545.6 110.5 547.3 110.8C549.1 111.1 550.9 111.5 552.8 111.6C554.6 111.6 556.4 111.1 558.2 111.1C560.0 111.2 562.7 111.5 563.6 111.6" stroke-width="0.67" opacity="0.35"/>
<path d="M484.49 93.69C485.2 94.7 487.5 97.5 488.7 99.5C490.0 101.6 491.0 103.8 491.8 106.1C492.5 108.4 493.0 110.8 493.4 113.2C493.8 115.5 493.7 118.0 494.2 120.3C494.7 122.7 495.8 124.9 496.4 127.2C497.1 129.5 497.9 131.9 498.3 134.2C498.7 136.6 498.8 139.0 499.0 141.4C499.2 143.8 499.3 146.2 499.6 148.6C499.9 151.0 500.4 153.4 500.7 155.8C501.0 158.2 501.3 160.6 501.4 163.0C501.4 165.4 501.0 167.8 500.9 170.2C500.7 172.6 500.5 175.0 500.5 177.4C500.5 179.8 500.8 182.2 500.7 184.6C500.6 187.0 500.0 189.4 499.7 191.8C499.5 194.2 499.1 196.6 499.3 199.0C499.5 201.4 500.3 203.8 500.9 206.1C501.4 208.4 502.0 210.8 502.8 213.1C503.5 215.4 504.9 218.7 505.3 219.8" stroke-width="0.53" opacity="0.73"/>
<path d="M477.18 66.57C477.8 65.5 479.5 62.3 480.8 60.3C482.1 58.3 484.0 56.7 485.1 54.6C486.3 52.5 487.0 50.2 487.9 47.9C488.7 45.7 489.6 43.4 490.3 41.2C491.0 38.9 491.6 36.5 492.1 34.2C492.6 31.8 492.5 29.4 493.1 27.1C493.7 24.7 494.6 22.5 495.6 20.3C496.5 18.1 497.5 15.9 498.7 13.8C499.9 11.8 501.6 10.0 502.8 7.9C503.9 5.8 504.6 3.5 505.6 1.3C506.6 -0.9 507.4 -3.2 508.6 -5.3C509.7 -7.4 511.4 -9.2 512.7 -11.2C514.0 -13.2 515.2 -15.3 516.5 -17.3C517.8 -19.3 519.5 -21.2 520.5 -23.3C521.6 -25.4 522.1 -27.8 523.0 -30.1C523.8 -32.3 524.9 -34.5 525.8 -36.7C526.7 -38.9 527.5 -41.2 528.4 -43.4C529.3 -45.6 530.3 -47.8 531.3 -50.0C532.4 -52.1 533.6 -54.2 534.8 -56.3C536.0 -58.3 538.0 -61.3 538.7 -62.4" stroke-width="0.62" opacity="0.68"/>
<path d="M486.25 83.02C487.1 83.1 489.8 83.6 491.6 83.5C493.4 83.5 495.2 83.2 497.0 82.8C498.7 82.4 500.4 81.7 502.1 81.0C503.8 80.4 505.4 79.4 507.1 78.8C508.8 78.3 510.6 78.0 512.3 77.5C514.1 77.0 515.7 76.3 517.5 75.8C519.2 75.4 521.0 75.2 522.8 74.9C524.6 74.6 526.3 74.1 528.1 74.0C529.9 73.9 531.7 74.3 533.5 74.3C535.3 74.2 538.0 73.8 538.9 73.7" stroke-width="0.57" opacity="0.76"/>
<path d="M487.32 71.28C488.0 70.8 490.1 69.3 491.6 68.6C493.2 67.9 494.9 67.6 496.5 67.0C498.1 66.5 499.7 65.9 501.2 65.2C502.8 64.6 504.3 63.8 505.8 63.0C507.3 62.2 508.9 61.5 510.3 60.6C511.7 59.7 513.0 58.7 514.4 57.6C515.7 56.5 516.9 55.4 518.1 54.2C519.3 53.0 520.4 51.7 521.6 50.5C522.8 49.3 524.0 48.1 525.1 46.9C526.3 45.7 527.5 44.4 528.7 43.3C529.9 42.1 531.8 40.4 532.5 39.8" stroke-width="0.66" opacity="0.71"/>
<path d="M494.59 86.55C495.4 86.6 498.0 86.8 499.7 87.0C501.4 87.2 503.1 87.5 504.8 87.8C506.5 88.0 508.2 88.2 509.8 88.6C511.5 89.1 513.1 89.6 514.7 90.2C516.3 90.8 517.9 91.6 519.3 92.4C520.8 93.3 522.2 94.2 523.5 95.4C524.8 96.5 525.7 98.0 527.0 99.2C528.2 100.3 529.7 101.2 531.0 102.3C532.2 103.5 533.4 104.8 534.5 106.1C535.5 107.5 536.4 109.0 537.2 110.5C538.0 111.9 538.5 113.6 539.4 115.1C540.3 116.5 541.3 117.9 542.6 119.1C543.8 120.3 545.3 121.1 546.7 122.1C548.1 123.2 549.5 124.1 550.7 125.3C551.9 126.5 552.8 128.1 553.8 129.4C554.9 130.7 556.2 131.9 557.1 133.4C558.0 134.8 558.4 136.6 559.3 138.0C560.2 139.4 561.6 140.5 562.6 141.9C563.6 143.3 564.6 144.7 565.3 146.2C566.1 147.8 566.8 150.2 567.1 151.0" stroke-width="0.65" opacity="0.36"/>
<path d="M476.71 66.51C477.0 65.7 478.1 63.1 478.6 61.4C479.1 59.6 479.6 57.8 479.8 56.0C480.0 54.2 480.0 52.4 479.8 50.6C479.5 48.8 478.7 47.1 478.4 45.3C478.1 43.5 478.1 41.6 478.1 39.8C478.1 38.0 478.4 36.2 478.5 34.4C478.5 32.5 478.4 30.7 478.4 28.9C478.5 27.1 478.7 25.3 478.8 23.4C479.0 21.6 478.9 19.8 479.2 18.0C479.5 16.2 480.2 14.5 480.7 12.7C481.1 11.0 481.6 9.2 481.8 7.4C482.0 5.6 481.9 3.7 481.8 1.9C481.7 0.1 481.3 -1.7 481.2 -3.5C481.1 -5.3 481.4 -7.2 481.2 -9.0C481.0 -10.8 480.2 -12.5 479.8 -14.3C479.4 -16.1 479.0 -17.8 478.7 -19.6C478.4 -21.4 478.3 -23.3 477.9 -25.1C477.5 -26.8 476.9 -28.6 476.5 -30.3C476.1 -32.1 475.7 -33.9 475.4 -35.7C475.1 -37.5 474.8 -40.2 474.7 -41.1" stroke-width="0.4" opacity="0.43"/>
<path d="M483.27 94.69C483.9 95.6 485.5 98.4 486.8 100.1C488.1 101.8 489.5 103.5 491.1 104.9C492.7 106.3 494.7 107.3 496.5 108.5C498.3 109.7 500.0 111.0 501.9 112.1C503.7 113.1 505.8 113.8 507.6 115.0C509.4 116.2 510.7 118.0 512.4 119.3C514.1 120.6 515.9 121.9 517.7 123.0C519.6 124.1 521.5 125.1 523.5 125.8C525.6 126.5 527.8 126.6 529.9 127.1C532.0 127.6 534.0 128.2 536.2 128.6C538.3 128.9 541.5 129.0 542.6 129.1" stroke-width="0.63" opacity="0.75"/>
<path d="M482.85 64.32C483.2 63.3 484.3 60.1 484.8 58.0C485.3 55.8 485.3 53.6 485.8 51.4C486.2 49.3 486.6 47.1 487.4 45.0C488.2 43.0 489.3 41.0 490.5 39.2C491.7 37.4 493.4 35.8 494.6 34.0C495.8 32.2 496.8 30.1 498.0 28.3C499.2 26.4 500.6 24.7 501.7 22.8C502.7 20.8 503.4 18.7 504.1 16.6C504.8 14.5 505.6 12.4 506.0 10.3C506.3 8.1 506.0 5.8 506.3 3.7C506.6 1.5 507.7 -0.6 508.0 -2.7C508.4 -4.9 508.4 -7.1 508.5 -9.3C508.6 -11.5 508.2 -13.8 508.4 -16.0C508.7 -18.1 509.6 -20.2 510.0 -22.4C510.4 -24.6 510.9 -26.7 511.0 -28.9C511.2 -31.1 510.9 -34.4 510.9 -35.5" stroke-width="0.64" opacity="0.53"/>
<path d="M484.8 98.78C485.1 99.6 486.0 102.2 486.6 103.9C487.2 105.6 487.7 107.3 488.5 108.9C489.2 110.5 490.4 112.0 491.1 113.6C491.8 115.3 492.0 117.1 492.6 118.8C493.1 120.5 493.9 122.2 494.4 123.9C494.9 125.6 495.3 127.4 495.5 129.2C495.7 131.0 495.5 132.8 495.6 134.6C495.8 136.4 496.3 139.0 496.4 139.9" stroke-width="0.55" opacity="0.36"/>
<path d="M474.64 59.65C474.8 58.6 475.6 55.5 475.7 53.4C475.8 51.3 475.6 49.1 475.3 47.1C474.9 45.0 473.9 43.1 473.4 41.0C472.9 39.0 472.4 36.9 472.0 34.8C471.7 32.8 471.9 30.6 471.5 28.5C471.1 26.5 470.1 24.5 469.5 22.5C468.8 20.5 468.4 18.4 467.5 16.5C466.7 14.5 465.7 12.7 464.5 10.9C463.3 9.2 461.8 7.7 460.5 6.0C459.2 4.4 457.8 2.7 456.6 1.0C455.3 -0.7 454.0 -2.3 453.0 -4.2C451.9 -6.0 451.4 -8.1 450.4 -10.0C449.4 -11.8 447.9 -13.4 446.8 -15.2C445.7 -17.0 444.3 -19.8 443.8 -20.8" stroke-width="0.53" opacity="0.71"/>
<path d="M491.55 95.49C492.5 95.8 495.5 96.7 497.4 97.5C499.3 98.3 501.1 99.3 502.9 100.2C504.8 101.2 506.4 102.4 508.3 103.2C510.2 104.1 512.3 104.3 514.2 105.2C516.0 106.1 517.8 107.3 519.4 108.5C521.0 109.8 522.5 111.3 523.8 112.9C525.1 114.5 525.9 116.4 527.0 118.1C528.1 119.9 529.2 121.6 530.3 123.3C531.4 125.1 532.5 126.8 533.7 128.5C534.9 130.2 536.1 131.9 537.5 133.4C538.9 134.9 540.5 136.2 542.2 137.4C543.8 138.7 545.5 139.9 547.3 140.8C549.1 141.7 551.2 142.2 553.2 142.8C555.1 143.3 557.2 143.5 559.2 144.2C561.1 144.8 563.1 145.7 564.8 146.7C566.6 147.7 569.0 149.7 569.8 150.3" stroke-width="0.85" opacity="0.69"/>
<path d="M484.79 97.16C485.6 97.9 488.1 100.2 489.9 101.4C491.7 102.6 493.7 103.6 495.7 104.5C497.7 105.3 499.9 105.9 501.9 106.6C504.0 107.4 506.0 108.3 508.0 109.2C510.0 110.0 512.1 110.8 514.1 111.7C516.1 112.6 518.0 113.7 520.1 114.4C522.2 115.1 524.4 115.6 526.5 115.9C528.7 116.2 531.0 115.9 533.1 116.1C535.3 116.4 537.4 117.2 539.6 117.5C541.7 117.9 543.9 118.4 546.1 118.4C548.3 118.3 550.5 117.8 552.6 117.4C554.8 117.1 557.0 116.8 559.2 116.3C561.3 115.9 564.5 115.0 565.6 114.8" stroke-width="0.53" opacity="0.63"/>
<path d="M474.33 59.24C474.3 58.1 474.1 54.5 474.0 52.2C473.9 49.8 473.6 47.4 473.9 45.1C474.2 42.8 475.2 40.5 475.7 38.2C476.2 35.9 476.6 33.6 477.0 31.3C477.5 29.0 478.0 26.6 478.4 24.3C478.9 22.0 479.1 19.6 479.8 17.4C480.5 15.1 481.5 13.0 482.6 10.9C483.8 8.8 485.3 7.0 486.6 5.0C487.9 3.0 488.9 0.9 490.2 -1.1C491.4 -3.1 492.9 -5.0 494.1 -7.0C495.3 -9.1 496.3 -11.2 497.3 -13.3C498.4 -15.4 499.4 -17.6 500.3 -19.8C501.2 -21.9 501.8 -24.2 502.8 -26.4C503.8 -28.5 505.0 -30.6 506.3 -32.5C507.6 -34.5 509.4 -36.1 510.7 -38.1C512.0 -40.0 512.8 -42.3 514.0 -44.4C515.1 -46.4 516.2 -48.5 517.7 -50.4C519.1 -52.3 521.8 -54.7 522.6 -55.5" stroke-width="0.49" opacity="0.37"/>
<path d="M478.24 101.31C478.3 102.4 478.0 105.9 478.4 108.1C478.7 110.3 479.6 112.5 480.3 114.7C480.9 116.8 481.9 118.9 482.3 121.2C482.7 123.4 482.8 125.7 482.7 128.0C482.6 130.2 481.7 132.4 481.5 134.7C481.4 136.9 481.7 139.2 482.0 141.5C482.4 143.7 483.3 145.9 483.6 148.1C483.9 150.3 483.8 152.6 483.8 154.9C483.8 157.2 483.4 159.5 483.7 161.7C483.9 164.0 484.7 166.2 485.2 168.4C485.7 170.6 486.0 172.9 486.8 175.0C487.5 177.1 488.9 179.0 489.8 181.1C490.7 183.2 492.0 186.3 492.4 187.4" stroke-width="0.51" opacity="0.75"/>
<path d="M488.17 64.57C488.9 63.8 491.1 61.6 492.3 60.0C493.5 58.3 494.1 56.2 495.2 54.5C496.2 52.7 497.3 50.9 498.7 49.4C500.0 47.9 501.7 46.6 503.3 45.3C504.9 44.0 506.6 42.9 508.3 41.6C509.9 40.3 511.2 38.7 512.9 37.6C514.6 36.4 516.6 35.7 518.4 34.7C520.3 33.8 522.0 32.7 523.9 31.9C525.8 31.2 527.9 30.7 529.8 30.1C531.8 29.4 533.8 28.9 535.6 28.0C537.5 27.1 539.0 25.6 540.8 24.6C542.7 23.7 544.7 23.2 546.6 22.4C548.5 21.5 550.2 20.3 552.1 19.5C553.9 18.6 556.0 18.1 557.9 17.4C559.8 16.6 561.7 15.8 563.5 14.8C565.3 13.7 566.7 12.2 568.5 11.2C570.3 10.2 572.3 9.5 574.2 8.7C576.1 7.9 579.0 7.0 580.0 6.6" stroke-width="0.83" opacity="0.77"/>
<path d="M492.6 75.52C493.6 75.1 496.7 73.5 498.8 72.9C501.0 72.3 503.3 72.3 505.5 71.9C507.7 71.4 510.0 71.0 512.0 70.1C514.1 69.2 515.9 67.7 517.9 66.7C519.9 65.7 522.1 64.9 524.2 64.3C526.4 63.6 528.7 63.5 530.8 62.8C533.0 62.2 535.1 61.3 537.1 60.2C539.1 59.2 540.9 57.8 542.7 56.5C544.6 55.2 546.4 53.9 548.3 52.6C550.1 51.4 552.1 50.2 553.9 48.9C555.8 47.7 557.7 46.5 559.5 45.0C561.2 43.6 562.8 42.0 564.2 40.2C565.5 38.4 566.7 36.4 567.6 34.4C568.5 32.3 569.2 29.0 569.5 27.9" stroke-width="0.7" opacity="0.73"/>
<path d="M490.15 82.33C491.1 82.7 493.9 84.1 495.9 84.8C497.8 85.5 499.9 85.8 501.9 86.6C503.8 87.4 505.6 88.4 507.4 89.5C509.1 90.6 510.6 92.2 512.4 93.3C514.1 94.4 516.0 95.4 518.0 96.0C519.9 96.7 522.0 97.0 524.1 97.3C526.1 97.6 528.2 97.7 530.3 97.8C532.4 97.8 534.5 97.4 536.5 97.5C538.6 97.5 540.7 97.7 542.8 98.1C544.8 98.5 546.8 99.1 548.7 99.9C550.7 100.7 552.6 101.6 554.3 102.8C556.0 103.9 557.4 105.6 559.0 106.8C560.7 108.1 562.6 109.1 564.1 110.4C565.7 111.8 567.1 113.4 568.4 115.0C569.8 116.5 571.2 118.1 572.3 119.9C573.4 121.6 574.6 124.5 575.1 125.4" stroke-width="0.57" opacity="0.52"/>
<path d="M459.38 72.11C458.6 71.6 456.4 70.1 455.0 69.0C453.5 67.9 452.3 66.6 450.8 65.5C449.3 64.5 447.7 63.7 446.2 62.8C444.6 61.9 443.0 61.1 441.4 60.3C439.8 59.5 438.1 58.7 436.5 57.9C434.9 57.1 433.4 56.0 431.8 55.4C430.1 54.7 427.4 54.2 426.6 53.9" stroke-width="0.57" opacity="0.22"/>
<path d="M488.65 83.46C489.7 83.4 492.8 83.0 494.9 83.0C497.0 83.1 499.1 83.4 501.2 83.7C503.2 84.0 505.2 84.7 507.3 85.0C509.4 85.2 511.5 85.1 513.6 85.2C515.7 85.2 517.8 85.5 519.8 85.3C521.9 85.1 524.0 84.6 526.0 84.1C528.1 83.7 530.1 83.1 532.1 82.8C534.2 82.5 536.3 82.3 538.4 82.3C540.5 82.2 542.6 82.2 544.7 82.4C546.8 82.6 548.9 82.9 550.9 83.4C552.9 83.9 554.8 84.7 556.8 85.5C558.8 86.2 560.6 87.2 562.6 87.8C564.6 88.4 566.8 88.3 568.8 89.0C570.8 89.6 572.6 90.7 574.5 91.5C576.5 92.3 578.4 93.2 580.4 93.7C582.4 94.3 584.5 94.5 586.6 94.7C588.7 94.8 590.8 94.8 592.9 94.5C595.0 94.2 597.0 93.4 599.0 92.9C601.0 92.3 604.0 91.4 605.0 91.1" stroke-width="0.82" opacity="0.76"/>
<path d="M467.24 63.02C466.7 62.3 464.9 60.3 463.8 58.8C462.7 57.4 461.8 55.8 460.6 54.4C459.5 53.1 458.2 51.7 456.9 50.5C455.6 49.2 454.2 48.0 452.8 46.9C451.4 45.8 449.8 45.0 448.4 43.8C447.1 42.6 445.8 41.3 444.7 39.9C443.6 38.4 442.8 36.7 441.8 35.2C440.8 33.7 439.7 32.3 438.7 30.8C437.6 29.4 436.6 27.8 435.5 26.5C434.3 25.1 432.3 23.2 431.7 22.6" stroke-width="0.75" opacity="0.42"/>
<path d="M494.31 86.31C495.2 86.6 498.1 87.6 499.9 88.2C501.8 88.8 503.7 89.5 505.7 89.8C507.6 90.1 509.6 89.7 511.6 89.9C513.6 90.1 515.5 90.7 517.4 91.1C519.3 91.6 521.3 92.1 523.1 92.8C524.9 93.6 526.5 94.9 528.3 95.7C530.2 96.4 532.1 97.0 534.1 97.3C536.0 97.6 538.0 97.5 540.0 97.6C542.0 97.6 544.0 97.5 545.9 97.8C547.9 98.0 550.8 98.8 551.8 99.0" stroke-width="0.7" opacity="0.68"/>
<path d="M460.33 77.81C459.5 77.5 456.9 76.7 455.1 76.3C453.4 75.8 451.5 75.7 449.8 75.2C448.1 74.6 446.4 73.8 444.8 72.9C443.2 72.1 441.7 71.1 440.2 70.1C438.7 69.1 437.2 68.0 435.9 66.8C434.6 65.5 433.6 63.9 432.3 62.6C431.1 61.3 429.7 60.1 428.3 58.9C427.0 57.8 425.4 56.8 424.1 55.6C422.7 54.4 420.7 52.5 420.1 51.9" stroke-width="0.47" opacity="0.28"/>
<path d="M487.99 87.57C488.8 88.1 491.0 89.9 492.7 90.9C494.3 91.9 496.1 92.6 497.6 93.8C499.1 94.9 500.4 96.3 501.8 97.6C503.2 99.0 504.3 100.5 505.8 101.7C507.3 102.9 509.2 103.5 510.7 104.7C512.2 105.8 513.3 107.5 514.9 108.6C516.4 109.7 518.1 110.6 519.8 111.4C521.6 112.2 523.5 112.6 525.2 113.4C526.9 114.3 528.4 115.5 530.0 116.5C531.7 117.5 534.2 118.9 535.0 119.4" stroke-width="0.87" opacity="0.7"/>
<path d="M480.52 102.77C480.6 103.7 481.1 106.4 481.1 108.2C481.1 110.0 480.7 111.8 480.3 113.5C479.9 115.3 479.4 117.0 478.7 118.7C478.0 120.3 476.9 121.8 476.1 123.4C475.3 125.1 474.4 126.7 473.8 128.4C473.2 130.1 473.2 131.9 472.7 133.7C472.2 135.4 471.5 137.1 470.7 138.7C469.9 140.4 469.1 142.0 468.1 143.5C467.1 145.0 465.7 146.2 464.7 147.7C463.7 149.2 463.0 150.9 462.0 152.4C461.0 153.9 459.1 155.9 458.5 156.5" stroke-width="0.55" opacity="0.6"/>
<path d="M484.35 95.46C485.0 96.3 487.0 98.7 488.1 100.4C489.3 102.1 490.5 103.9 491.3 105.8C492.1 107.7 492.2 109.8 492.9 111.8C493.6 113.8 494.2 115.8 495.2 117.6C496.3 119.4 497.8 120.8 499.0 122.5C500.2 124.2 501.2 126.1 502.4 127.7C503.7 129.3 505.2 130.8 506.6 132.4C507.9 133.9 509.3 135.4 510.7 137.1C512.0 138.7 513.0 140.5 514.4 142.0C515.8 143.5 517.7 144.6 519.1 146.1C520.5 147.6 521.5 149.5 523.0 151.0C524.4 152.5 526.3 153.6 527.7 155.1C529.1 156.6 530.1 158.4 531.3 160.1C532.6 161.8 534.4 164.3 535.0 165.2" stroke-width="0.75" opacity="0.77"/>
<path d="M465.05 100.58C464.3 101.2 461.9 103.0 460.5 104.5C459.1 105.9 457.9 107.5 456.8 109.1C455.6 110.7 454.5 112.4 453.5 114.1C452.4 115.8 451.3 117.5 450.5 119.3C449.8 121.1 449.5 123.2 449.0 125.1C448.4 127.0 447.6 128.8 447.0 130.7C446.4 132.6 446.3 134.7 445.5 136.5C444.8 138.3 443.5 139.9 442.6 141.7C441.7 143.5 441.2 145.5 440.2 147.2C439.2 148.9 437.1 151.1 436.5 151.9" stroke-width="0.71" opacity="0.53"/>
<path d="M485.18 72.26C486.2 71.5 489.3 69.4 491.2 67.8C493.1 66.2 495.1 64.6 496.7 62.7C498.3 60.8 499.6 58.6 500.7 56.4C501.7 54.1 501.9 51.5 502.9 49.2C504.0 47.0 505.8 45.1 507.0 42.9C508.1 40.7 509.2 38.4 509.9 36.1C510.6 33.7 510.7 31.1 511.2 28.7C511.8 26.3 512.3 23.8 513.0 21.4C513.7 19.0 514.5 16.7 515.5 14.4C516.5 12.1 517.9 10.0 519.0 7.8C520.1 5.5 521.4 3.3 522.2 1.0C522.9 -1.4 523.5 -3.9 523.6 -6.4C523.8 -8.8 523.3 -11.3 523.2 -13.8C523.0 -16.3 523.2 -18.8 522.9 -21.3C522.5 -23.8 521.4 -27.4 521.1 -28.6" stroke-width="0.69" opacity="0.77"/>
<path d="M488.62 94.51C489.4 95.2 492.1 97.0 493.5 98.4C495.0 99.9 496.0 101.8 497.4 103.4C498.8 104.9 500.3 106.5 501.9 107.8C503.5 109.1 505.3 110.3 507.1 111.4C508.8 112.5 510.6 113.6 512.5 114.7C514.3 115.7 516.2 116.5 517.9 117.8C519.6 119.0 521.0 120.6 522.6 122.0C524.2 123.3 526.1 124.3 527.7 125.6C529.3 127.0 530.9 128.4 532.3 129.9C533.7 131.5 534.7 133.4 536.1 135.0C537.5 136.5 539.3 137.7 540.7 139.2C542.1 140.8 543.2 142.6 544.5 144.2C545.8 145.9 547.1 147.5 548.6 149.1C550.0 150.6 551.5 152.1 553.1 153.4C554.7 154.7 556.7 155.6 558.4 156.9C560.0 158.1 561.4 159.8 563.2 160.9C565.0 162.0 567.1 162.5 568.9 163.5C570.7 164.5 572.5 165.7 574.2 167.0C575.8 168.3 577.1 170.0 578.8 171.3C580.5 172.5 583.3 173.8 584.3 174.4" stroke-width="0.5" opacity="0.67"/>
<path d="M491.85 67.59C492.6 67.0 495.0 65.2 496.5 63.9C498.0 62.6 499.5 61.4 501.0 60.1C502.5 58.7 503.9 57.4 505.3 56.0C506.6 54.5 508.0 53.1 509.2 51.5C510.4 49.9 511.2 48.1 512.5 46.6C513.8 45.1 515.4 44.0 516.8 42.6C518.2 41.2 519.7 39.8 520.9 38.2C522.1 36.6 522.7 34.7 523.9 33.1C525.1 31.6 526.5 30.1 528.0 28.8C529.5 27.5 532.0 26.0 532.8 25.4" stroke-width="0.67" opacity="0.77"/>
<path d="M490.43 93.44C491.3 94.1 493.8 96.1 495.5 97.4C497.2 98.7 499.0 99.9 500.6 101.3C502.3 102.7 503.7 104.4 505.3 105.7C506.9 107.1 508.7 108.4 510.5 109.6C512.2 110.8 514.2 111.7 515.9 113.0C517.6 114.4 518.8 116.2 520.5 117.6C522.1 118.9 524.0 120.0 525.8 121.2C527.6 122.3 529.4 123.6 531.2 124.7C533.1 125.8 534.9 126.9 536.8 127.8C538.8 128.7 541.0 129.1 542.9 130.0C544.8 130.9 546.5 132.3 548.4 133.3C550.4 134.2 552.5 134.7 554.4 135.6C556.4 136.6 558.2 137.8 560.1 138.7C562.0 139.7 564.0 140.6 566.0 141.3C568.0 142.1 570.1 142.6 572.1 143.2C574.2 143.7 576.3 144.4 578.4 144.7C580.5 144.9 582.7 144.8 584.8 144.8C587.0 144.9 589.1 144.9 591.3 144.7C593.4 144.5 596.6 143.9 597.7 143.8" stroke-width="0.55" opacity="0.74"/>
<path d="M460.82 64.71C460.2 63.7 458.1 60.6 456.9 58.6C455.6 56.5 454.6 54.2 453.2 52.2C451.8 50.2 450.3 48.3 448.5 46.6C446.8 44.9 444.7 43.5 442.7 42.2C440.7 40.8 438.5 39.7 436.4 38.4C434.3 37.1 432.4 35.6 430.2 34.5C428.1 33.4 425.6 32.9 423.4 32.0C421.1 31.1 418.9 29.9 416.6 29.2C414.3 28.5 410.6 28.1 409.4 27.8" stroke-width="0.71" opacity="0.28"/>
<path d="M483.44 99.82C483.6 100.8 484.4 103.8 484.5 105.9C484.6 107.9 484.3 110.0 484.0 112.0C483.6 114.0 483.1 116.0 482.3 117.9C481.6 119.8 480.3 121.4 479.5 123.3C478.7 125.2 478.1 127.1 477.5 129.1C476.9 131.1 476.8 133.2 476.0 135.0C475.3 136.9 474.1 138.7 473.0 140.4C471.9 142.1 470.4 143.6 469.4 145.3C468.4 147.1 467.8 149.1 467.2 151.0C466.6 153.0 466.5 155.1 466.0 157.1C465.5 159.0 464.8 160.9 464.3 162.9C463.7 164.9 463.4 166.9 462.9 168.9C462.4 170.9 461.9 172.9 461.3 174.8C460.6 176.7 459.8 178.6 459.1 180.5C458.4 182.5 457.9 184.5 457.0 186.3C456.1 188.1 454.6 189.6 453.7 191.4C452.7 193.2 452.1 195.2 451.4 197.1C450.6 199.0 449.6 200.8 449.0 202.8C448.4 204.7 447.8 207.7 447.6 208.7" stroke-width="0.69" opacity="0.44"/>
<path d="M474.98 102.73C474.8 103.6 473.9 106.3 473.7 108.1C473.4 110.0 473.8 111.8 473.8 113.7C473.7 115.5 473.5 117.4 473.2 119.2C472.8 121.0 472.3 122.8 471.8 124.6C471.3 126.4 470.9 128.2 470.1 129.9C469.4 131.6 468.0 133.0 467.2 134.6C466.4 136.3 466.1 138.2 465.3 139.8C464.5 141.5 463.5 143.1 462.5 144.6C461.4 146.2 460.2 147.6 459.0 149.0C457.8 150.3 455.8 152.3 455.2 153.0" stroke-width="0.61" opacity="0.58"/>
<path d="M488.18 83.13C489.2 83.6 492.1 85.0 494.2 85.7C496.2 86.5 498.4 86.9 500.5 87.5C502.6 88.1 504.7 88.9 506.8 89.4C508.9 89.8 511.1 89.9 513.3 90.4C515.4 90.8 517.5 91.3 519.6 92.0C521.7 92.7 523.6 93.8 525.7 94.5C527.7 95.1 529.9 95.5 532.0 96.0C534.1 96.6 536.1 97.7 538.3 98.0C540.4 98.4 542.7 98.5 544.8 98.3C547.0 98.1 549.1 97.5 551.2 97.0C553.4 96.6 555.5 95.9 557.6 95.5C559.8 95.2 562.0 95.2 564.1 94.9C566.3 94.6 569.5 93.9 570.6 93.7" stroke-width="0.5" opacity="0.7"/>
<path d="M481.12 68.59C482.0 68.0 484.7 66.0 486.6 64.8C488.4 63.5 490.5 62.5 492.2 61.2C493.9 59.8 495.4 58.1 497.1 56.6C498.7 55.1 500.6 53.9 502.1 52.2C503.6 50.6 504.5 48.4 505.8 46.7C507.2 44.9 508.6 43.2 510.3 41.7C512.0 40.3 514.0 39.2 515.8 38.0C517.7 36.8 520.4 34.9 521.3 34.3" stroke-width="0.6" opacity="0.78"/>
<path d="M464.81 91.79C463.9 92.4 461.3 94.3 459.4 95.2C457.5 96.1 455.4 96.8 453.4 97.3C451.3 97.8 449.1 98.0 447.0 98.0C444.9 98.0 442.8 97.5 440.6 97.4C438.5 97.3 436.3 97.6 434.2 97.3C432.1 97.1 430.1 96.3 428.1 95.7C426.0 95.1 424.0 94.6 421.9 93.9C419.9 93.3 417.8 92.7 415.8 92.0C413.8 91.3 411.8 90.5 409.9 89.7C407.9 88.8 405.1 87.4 404.1 86.9" stroke-width="0.66" opacity="0.44"/>
<path d="M473.13 57.94C472.8 56.9 471.6 53.7 471.2 51.5C470.8 49.3 470.9 47.0 470.7 44.8C470.5 42.5 470.3 40.3 469.9 38.1C469.5 35.9 468.9 33.7 468.2 31.6C467.6 29.4 466.9 27.3 466.1 25.2C465.2 23.1 464.2 21.1 463.2 19.1C462.2 17.1 461.1 15.2 460.1 13.2C459.2 11.1 458.6 8.9 457.7 6.9C456.8 4.8 455.2 1.8 454.8 0.8" stroke-width="0.87" opacity="0.3"/>
<path d="M489.75 83.38C490.7 83.6 493.4 84.5 495.3 84.9C497.2 85.3 499.1 85.4 501.0 85.8C502.9 86.2 504.7 86.9 506.6 87.2C508.4 87.6 510.4 87.6 512.3 88.0C514.1 88.5 515.9 89.3 517.8 89.8C519.6 90.2 521.6 90.2 523.5 90.5C525.4 90.8 527.2 91.3 529.1 91.5C531.1 91.7 533.0 91.6 534.9 91.8C536.8 92.0 538.7 92.6 540.6 92.7C542.5 92.8 544.4 92.6 546.3 92.4C548.3 92.3 550.2 92.4 552.1 92.0C554.0 91.7 555.7 90.7 557.6 90.3C559.4 89.9 561.4 89.8 563.3 89.4C565.1 89.1 567.0 88.5 568.9 88.2C570.8 88.0 572.8 88.3 574.6 88.0C576.5 87.7 579.3 86.8 580.2 86.5" stroke-width="0.53" opacity="0.36"/>
<path d="M483.49 69.83C484.1 69.1 486.1 66.9 487.4 65.4C488.7 63.9 489.8 62.3 491.1 60.8C492.4 59.3 493.7 57.9 495.1 56.5C496.5 55.1 498.2 54.0 499.5 52.6C500.8 51.1 501.8 49.4 503.2 48.0C504.6 46.6 506.0 45.2 507.7 44.1C509.3 43.0 511.2 42.4 512.9 41.5C514.7 40.6 516.5 39.7 518.1 38.7C519.8 37.6 521.1 36.1 522.8 35.1C524.5 34.1 526.4 33.6 528.2 32.7C530.0 31.9 531.7 31.0 533.5 30.2C535.3 29.4 537.3 28.9 539.1 28.1C540.9 27.3 543.5 26.0 544.4 25.5" stroke-width="0.78" opacity="0.55"/>
<path d="M461.61 89.55C461.0 90.2 459.3 92.3 457.9 93.4C456.5 94.4 454.9 95.2 453.3 96.1C451.8 97.0 450.2 97.8 448.7 98.8C447.2 99.7 445.8 100.8 444.3 101.7C442.7 102.6 441.1 103.4 439.4 103.9C437.7 104.4 435.9 104.6 434.2 104.8C432.4 105.0 429.8 104.9 428.9 104.9" stroke-width="0.6" opacity="0.38"/>
<path d="M456.33 75.05C455.3 74.5 452.4 73.1 450.4 72.0C448.5 71.0 446.6 69.8 444.7 68.7C442.7 67.7 440.8 66.6 438.8 65.6C436.9 64.5 435.1 63.1 433.1 62.3C431.0 61.5 428.7 61.3 426.7 60.6C424.6 59.9 422.7 58.7 420.6 58.0C418.5 57.4 416.2 57.3 414.0 56.8C411.9 56.2 409.8 55.4 407.7 54.7C405.6 54.1 403.5 53.3 401.4 52.7C399.3 52.1 396.0 51.5 395.0 51.3" stroke-width="0.86" opacity="0.47"/>
<path d="M458.8 89.37C457.8 89.6 454.9 90.3 453.0 90.5C451.0 90.7 449.0 90.9 447.0 90.7C445.1 90.5 443.1 89.8 441.2 89.5C439.2 89.2 437.2 89.2 435.3 88.8C433.4 88.4 431.6 87.4 429.6 87.0C427.7 86.5 425.6 86.7 423.7 86.2C421.8 85.8 419.9 85.0 418.1 84.2C416.4 83.3 414.7 82.1 413.1 81.1C411.4 80.1 409.7 78.9 408.0 77.9C406.3 76.9 404.6 76.0 402.8 75.1C401.0 74.2 399.3 73.1 397.5 72.5C395.6 71.8 392.6 71.4 391.7 71.2" stroke-width="0.73" opacity="0.25"/>
<path d="M457.88 87.02C457.0 87.4 454.5 88.8 452.6 89.4C450.8 90.0 448.8 89.9 447.0 90.4C445.1 90.9 443.4 91.8 441.6 92.5C439.8 93.1 437.9 93.5 436.1 94.3C434.3 95.0 432.5 95.8 430.9 96.8C429.3 97.8 427.9 99.2 426.4 100.4C424.9 101.5 423.4 102.8 421.7 103.6C420.0 104.5 417.1 105.3 416.2 105.6" stroke-width="0.88" opacity="0.22"/>
<path d="M456.38 70.14C455.4 69.4 452.5 67.0 450.6 65.4C448.6 63.9 446.8 62.1 444.7 60.8C442.6 59.6 440.2 58.6 437.8 57.9C435.4 57.2 432.9 56.9 430.5 56.5C428.0 56.1 425.5 56.2 423.0 55.7C420.6 55.1 418.3 53.8 415.9 53.4C413.5 52.9 410.9 53.2 408.4 52.9C406.0 52.6 402.3 51.8 401.1 51.6" stroke-width="0.44" opacity="0.21"/>
<path d="M474.48 94.88C474.3 95.8 473.8 98.7 473.7 100.6C473.6 102.5 473.7 104.5 473.9 106.4C474.0 108.3 474.2 110.3 474.7 112.2C475.2 114.0 476.1 115.8 476.8 117.6C477.6 119.3 478.4 121.1 479.1 122.9C479.9 124.7 480.9 126.4 481.4 128.2C482.0 130.0 482.0 132.0 482.4 133.9C482.8 135.8 483.1 137.7 483.6 139.6C484.0 141.5 484.6 143.3 484.9 145.2C485.2 147.1 485.2 149.1 485.4 151.0C485.6 152.9 485.8 154.9 486.1 156.8C486.4 158.7 487.2 160.5 487.4 162.4C487.6 164.3 487.1 166.3 487.2 168.2C487.2 170.1 487.6 172.1 487.9 174.0C488.1 175.9 488.4 177.8 488.9 179.7C489.3 181.5 490.3 183.3 490.6 185.2C490.9 187.1 490.8 190.0 490.9 191.0" stroke-width="0.52" opacity="0.32"/>
<path d="M480.35 96.61C480.5 97.6 480.8 100.6 481.1 102.6C481.5 104.6 482.1 106.5 482.5 108.5C482.8 110.5 483.0 112.5 483.0 114.5C483.1 116.5 482.5 118.5 482.6 120.5C482.7 122.5 483.4 124.5 483.4 126.5C483.5 128.5 483.3 130.6 482.9 132.5C482.4 134.5 481.3 136.3 480.8 138.2C480.3 140.2 480.0 143.2 479.8 144.2" stroke-width="0.75" opacity="0.44"/>
<path d="M462.68 64.3C462.3 63.5 461.2 61.0 460.3 59.5C459.4 57.9 458.4 56.4 457.3 54.9C456.3 53.4 455.1 52.0 454.0 50.6C452.9 49.2 451.6 47.9 450.5 46.5C449.4 45.0 448.6 43.4 447.4 42.0C446.3 40.6 445.0 39.3 443.6 38.2C442.3 37.0 440.8 35.9 439.2 35.1C437.6 34.2 435.7 34.0 434.1 33.2C432.5 32.4 431.1 31.1 429.5 30.3C428.0 29.4 425.4 28.4 424.6 28.0" stroke-width="0.88" opacity="0.27"/>
<path d="M457.06 87.17C456.1 87.6 453.4 89.0 451.5 89.8C449.7 90.6 447.8 91.5 445.9 92.2C444.0 92.9 442.1 93.7 440.1 94.0C438.1 94.4 436.0 94.3 434.0 94.4C431.9 94.5 429.9 94.8 427.8 94.6C425.8 94.4 423.9 93.5 421.9 93.2C419.9 92.9 417.8 92.8 415.8 92.9C413.7 93.1 411.8 93.8 409.8 94.2C407.8 94.5 405.7 94.9 403.7 95.1C401.7 95.2 399.6 95.3 397.6 95.1C395.6 95.0 392.6 94.3 391.6 94.1" stroke-width="0.41" opacity="0.3"/>
<path d="M458.51 91.13C457.6 91.6 454.7 92.9 452.8 93.9C451.0 94.9 449.0 95.7 447.3 97.0C445.7 98.3 444.4 100.0 442.8 101.4C441.2 102.8 439.5 104.0 437.9 105.4C436.3 106.8 434.9 108.4 433.3 109.8C431.8 111.2 429.3 113.1 428.5 113.8" stroke-width="0.48" opacity="0.29"/>
<path d="M460.33 90.92C459.3 91.2 456.3 92.1 454.3 92.9C452.3 93.6 450.4 94.5 448.5 95.5C446.7 96.5 445.1 98.0 443.2 98.9C441.3 99.8 439.1 100.0 437.2 100.9C435.2 101.7 433.6 103.2 431.7 104.0C429.7 104.9 426.7 105.9 425.7 106.2" stroke-width="0.61" opacity="0.39"/>
<path d="M488.39 75.6C489.1 75.1 491.2 73.6 492.6 72.7C494.0 71.8 495.4 70.7 496.9 70.0C498.4 69.3 500.2 69.0 501.8 68.4C503.4 67.9 504.9 67.1 506.5 66.6C508.2 66.2 509.8 65.7 511.5 65.5C513.2 65.3 514.9 65.5 516.6 65.4C518.3 65.3 520.0 65.1 521.7 64.8C523.4 64.5 525.0 63.9 526.7 63.7C528.4 63.4 530.1 63.5 531.8 63.3C533.4 63.0 535.1 62.7 536.8 62.2C538.4 61.7 539.9 60.8 541.4 60.2C543.0 59.6 544.7 59.1 546.2 58.4C547.8 57.8 549.3 56.9 550.8 56.2C552.4 55.6 554.1 55.1 555.6 54.3C557.0 53.5 558.4 52.4 559.7 51.3C561.0 50.3 562.8 48.4 563.4 47.8" stroke-width="0.69" opacity="0.34"/>
<path d="M477.87 94.29C478.3 95.2 479.8 97.7 480.5 99.5C481.3 101.3 481.8 103.2 482.5 105.0C483.2 106.8 484.0 108.6 484.8 110.4C485.6 112.1 486.6 113.8 487.3 115.6C488.0 117.5 488.3 119.4 489.0 121.2C489.8 123.0 490.8 124.7 491.7 126.4C492.6 128.1 493.6 129.8 494.5 131.5C495.4 133.3 496.2 135.0 497.0 136.8C497.8 138.6 498.7 140.4 499.3 142.2C499.9 144.0 500.5 145.9 500.7 147.9C501.0 149.8 500.6 151.8 500.6 153.7C500.7 155.6 500.9 157.6 500.9 159.5C501.0 161.5 501.2 163.4 501.1 165.4C501.1 167.3 501.2 169.3 500.9 171.2C500.6 173.1 499.7 174.9 499.4 176.9C499.1 178.8 499.0 180.8 499.1 182.7C499.2 184.6 499.9 187.5 500.0 188.4" stroke-width="0.85" opacity="0.71"/>
<path d="M492.13 92.76C493.1 93.0 495.9 93.9 497.8 94.5C499.7 95.1 501.6 95.7 503.4 96.3C505.3 96.9 507.3 97.3 509.1 98.0C511.0 98.7 512.7 99.7 514.5 100.6C516.2 101.4 518.0 102.4 519.8 103.3C521.6 104.1 523.4 104.7 525.3 105.5C527.1 106.2 528.9 106.9 530.7 107.7C532.6 108.5 534.3 109.6 536.2 110.2C538.0 110.8 540.0 111.0 542.0 111.3C543.9 111.6 545.9 112.0 547.9 112.1C549.8 112.1 551.9 112.1 553.8 111.8C555.7 111.4 557.6 110.6 559.4 109.9C561.3 109.2 562.9 108.0 564.8 107.4C566.7 106.9 568.7 106.6 570.6 106.4C572.6 106.2 574.6 106.4 576.6 106.1C578.5 105.8 581.3 104.8 582.3 104.6" stroke-width="0.87" opacity="0.49"/>
<path d="M477.03 65.62C477.0 64.7 476.7 62.0 476.7 60.3C476.7 58.5 477.2 56.7 477.2 54.9C477.2 53.2 476.7 51.4 476.7 49.6C476.8 47.8 477.2 46.1 477.4 44.3C477.5 42.5 477.7 40.7 477.5 38.9C477.3 37.2 476.6 35.5 476.3 33.7C475.9 32.0 475.6 30.2 475.3 28.4C474.9 26.7 474.5 25.0 474.2 23.2C473.8 21.5 473.3 18.8 473.2 17.9" stroke-width="0.53" opacity="0.41"/>
<path d="M477.42 60.45C477.5 59.5 478.1 56.8 478.1 55.0C478.2 53.1 477.6 51.3 477.7 49.5C477.7 47.7 478.5 45.9 478.5 44.0C478.6 42.2 478.4 40.4 478.2 38.5C478.0 36.7 477.6 34.9 477.5 33.1C477.4 31.2 477.4 29.4 477.7 27.6C478.1 25.8 478.6 24.0 479.3 22.3C480.0 20.6 481.1 19.0 481.9 17.4C482.7 15.7 483.4 14.0 484.2 12.4C485.1 10.8 485.9 9.1 487.0 7.6C488.1 6.2 489.5 4.9 490.9 3.7C492.3 2.5 493.9 1.6 495.3 0.4C496.7 -0.8 498.0 -2.1 499.3 -3.4C500.6 -4.7 501.6 -6.3 502.9 -7.6C504.2 -8.9 505.6 -10.1 507.0 -11.2C508.4 -12.4 509.8 -13.6 511.3 -14.7C512.8 -15.8 514.6 -16.5 516.0 -17.6C517.4 -18.8 518.5 -20.4 519.8 -21.6C521.1 -22.9 522.6 -24.0 524.0 -25.2C525.4 -26.4 527.5 -28.2 528.2 -28.8" stroke-width="0.86" opacity="0.71"/>
</g>
<g fill="none" stroke="#1f9a4a" stroke-linecap="round" filter="url(#b04)">
<path d="M400.46 133.7C399.1 133.9 394.7 133.9 392.1 134.9C389.5 135.8 387.3 137.9 384.9 139.4C382.4 140.8 380.1 142.5 377.5 143.5C374.9 144.6 371.8 144.3 369.3 145.5C366.7 146.7 363.6 149.7 362.4 150.5" stroke-width="0.54" opacity="0.58"/>
<path d="M406.43 87.41C405.5 87.9 402.8 89.5 400.9 90.4C399.0 91.3 397.0 91.9 395.2 93.0C393.3 94.0 391.7 95.3 389.9 96.4C388.1 97.5 386.3 98.5 384.5 99.5C382.7 100.6 381.0 102.0 379.2 103.0C377.4 104.0 375.3 104.6 373.5 105.5C371.6 106.4 369.7 107.4 367.9 108.5C366.1 109.5 363.6 111.5 362.8 112.1" stroke-width="0.57" opacity="0.61"/>
<path d="M435.78 120.45C435.1 119.7 433.0 117.5 431.9 115.8C430.8 114.1 430.5 111.9 429.3 110.3C428.2 108.7 426.6 107.4 425.1 106.0C423.6 104.6 422.2 103.1 420.4 102.1C418.7 101.2 416.6 100.7 414.6 100.4C412.6 100.1 410.5 100.2 408.5 100.4C406.6 100.6 403.6 101.4 402.6 101.6" stroke-width="0.58" opacity="0.67"/>
<path d="M441.07 118.6C440.0 118.4 437.0 117.7 434.9 117.2C432.9 116.6 431.0 115.8 428.9 115.2C426.9 114.6 424.8 114.2 422.9 113.3C421.0 112.5 418.5 110.6 417.6 110.0" stroke-width="0.59" opacity="0.37"/>
<path d="M440.61 100.66C439.2 101.4 434.8 103.6 431.9 105.0C429.0 106.5 426.1 108.0 423.3 109.5C420.4 111.0 417.7 113.0 414.7 114.1C411.7 115.2 406.8 115.7 405.2 116.0" stroke-width="0.46" opacity="0.55"/>
<path d="M416.01 108.83C414.6 108.6 410.3 108.2 407.7 107.4C405.0 106.6 402.5 105.1 400.0 104.0C397.4 102.8 395.0 101.0 392.3 100.3C389.6 99.7 386.7 99.8 383.9 99.9C381.0 100.0 376.9 100.8 375.5 101.0" stroke-width="0.64" opacity="0.43"/>
<path d="M404.7 134.23C403.7 133.6 400.8 131.7 398.7 130.6C396.6 129.5 394.4 128.5 392.3 127.7C390.1 126.8 387.6 126.4 385.6 125.2C383.6 124.1 382.1 122.2 380.3 120.7C378.5 119.2 376.4 117.9 374.9 116.2C373.3 114.4 371.7 111.2 371.1 110.2" stroke-width="0.54" opacity="0.39"/>
<path d="M446.85 89.23C446.5 90.6 445.5 94.6 444.7 97.2C443.8 99.9 443.3 102.7 442.0 105.1C440.7 107.5 438.6 109.5 437.1 111.8C435.6 114.1 433.6 117.7 432.9 118.9" stroke-width="0.48" opacity="0.45"/>
<path d="M424.28 126.71C422.7 127.2 418.0 128.6 414.9 129.7C411.8 130.8 408.9 132.5 405.7 133.2C402.5 134.0 399.2 133.7 395.9 134.1C392.7 134.6 389.4 135.2 386.2 136.0C383.1 136.8 380.0 137.9 376.8 138.9C373.7 139.9 369.0 141.3 367.5 141.8" stroke-width="0.6" opacity="0.44"/>
<path d="M435.75 123.11C434.5 123.1 430.6 123.3 428.2 122.9C425.7 122.5 423.2 121.8 420.9 120.7C418.7 119.6 416.6 118.0 414.8 116.2C413.1 114.5 411.4 112.4 410.3 110.2C409.2 107.9 409.0 105.3 408.4 102.8C407.7 100.4 407.2 97.9 406.3 95.5C405.5 93.2 403.8 89.7 403.3 88.6" stroke-width="0.52" opacity="0.45"/>
<path d="M439.41 134.3C438.2 133.8 434.4 132.5 432.0 131.4C429.6 130.4 427.2 129.3 424.9 127.9C422.7 126.6 420.9 124.5 418.5 123.3C416.2 122.0 412.3 121.1 411.1 120.6" stroke-width="0.58" opacity="0.52"/>
<path d="M387.53 96.64C386.8 97.4 384.5 99.5 383.4 101.1C382.2 102.8 381.9 105.1 380.7 106.7C379.5 108.3 377.4 109.3 376.2 110.9C374.9 112.5 373.7 115.3 373.2 116.2" stroke-width="0.61" opacity="0.5"/>
<path d="M388.8 106.71C387.7 106.5 384.3 106.4 382.3 105.6C380.4 104.8 378.6 103.3 376.9 102.0C375.1 100.7 373.6 99.1 371.8 97.8C370.0 96.6 368.0 95.7 366.2 94.5C364.3 93.3 362.6 91.9 360.9 90.6C359.2 89.2 356.7 87.1 355.8 86.4" stroke-width="0.77" opacity="0.36"/>
<path d="M444.29 127.25C442.9 127.7 438.6 128.6 435.9 129.7C433.2 130.7 430.8 132.5 428.1 133.7C425.5 134.9 422.4 135.4 419.9 136.8C417.4 138.3 415.2 140.4 413.2 142.4C411.2 144.5 409.2 146.8 407.8 149.3C406.4 151.9 406.3 155.1 404.8 157.6C403.4 160.0 400.0 163.0 399.0 164.1" stroke-width="0.48" opacity="0.59"/>
<path d="M425.11 107.43C424.0 107.4 420.7 107.0 418.6 107.0C416.4 107.1 414.2 108.1 412.1 107.9C410.0 107.8 407.8 107.0 405.8 106.2C403.8 105.3 402.0 103.9 400.2 102.8C398.3 101.6 396.3 100.7 394.5 99.4C392.7 98.2 391.2 96.4 389.3 95.5C387.4 94.6 385.1 94.2 382.9 93.9C380.8 93.6 377.5 93.8 376.4 93.8" stroke-width="0.65" opacity="0.52"/>
<path d="M426.77 130.07C425.2 130.5 420.3 131.3 417.2 132.4C414.1 133.5 411.1 135.0 408.3 136.6C405.4 138.3 403.0 140.6 400.2 142.2C397.3 143.8 394.0 144.6 391.1 146.2C388.3 147.9 386.0 150.3 383.2 152.1C380.4 153.8 377.3 155.1 374.5 156.7C371.7 158.4 369.2 160.8 366.2 162.0C363.1 163.1 358.1 163.4 356.5 163.7" stroke-width="0.75" opacity="0.42"/>
<path d="M447 114.76C445.9 114.8 442.6 114.8 440.5 114.8C438.3 114.8 436.1 114.9 433.9 114.6C431.8 114.3 429.7 113.2 427.6 113.1C425.5 112.9 423.2 113.2 421.1 113.6C419.0 114.0 416.9 114.7 414.8 115.3C412.7 116.0 410.5 116.5 408.6 117.5C406.8 118.6 404.5 121.0 403.6 121.7" stroke-width="0.8" opacity="0.55"/>
<path d="M424.57 99.24C423.2 100.0 419.1 102.3 416.5 103.8C413.8 105.4 410.9 106.8 408.6 108.8C406.3 110.9 404.8 113.8 402.8 116.1C400.8 118.5 398.7 120.8 396.5 123.0C394.2 125.2 392.0 127.3 389.5 129.2C387.0 131.0 384.3 132.6 381.4 133.9C378.6 135.2 375.4 135.5 372.6 136.8C369.7 138.0 365.8 140.6 364.5 141.4" stroke-width="0.68" opacity="0.59"/>
<path d="M385.87 131.43C384.8 130.7 381.6 128.0 379.2 126.8C376.8 125.7 373.8 125.8 371.4 124.5C369.1 123.3 366.9 121.4 365.2 119.3C363.5 117.3 362.0 113.4 361.3 112.2" stroke-width="0.84" opacity="0.34"/>
<path d="M392.87 88.1C391.9 88.7 389.2 90.8 387.3 91.9C385.3 92.9 383.1 93.6 381.2 94.6C379.2 95.7 377.5 97.3 375.5 98.1C373.4 99.0 371.1 99.1 368.9 99.6C366.7 100.1 364.5 100.7 362.3 101.1C360.2 101.6 357.9 101.7 355.7 102.2C353.6 102.8 351.4 103.6 349.4 104.6C347.4 105.6 344.7 107.6 343.8 108.2" stroke-width="0.77" opacity="0.48"/>
<path d="M409.33 132.59C408.1 133.1 404.4 134.6 402.2 136.0C400.0 137.3 398.3 139.6 396.0 140.8C393.7 142.0 391.0 142.3 388.5 143.2C386.0 144.1 383.6 145.2 381.1 146.0C378.6 146.8 376.0 147.4 373.5 148.1C370.9 148.8 368.3 149.2 365.9 150.2C363.5 151.2 360.2 153.4 359.0 154.1" stroke-width="0.75" opacity="0.6"/>
<path d="M428.87 93.18C427.4 92.8 422.7 92.1 419.9 90.8C417.2 89.5 414.9 87.1 412.5 85.3C410.0 83.5 407.3 81.9 405.0 79.8C402.7 77.8 400.8 75.3 398.6 73.1C396.4 70.9 393.1 67.7 391.9 66.7" stroke-width="0.75" opacity="0.33"/>
<path d="M406.23 132.65C405.2 132.2 401.8 131.1 399.8 129.9C397.9 128.7 396.5 126.7 394.6 125.3C392.8 124.0 390.7 122.9 388.6 121.9C386.5 120.9 384.4 119.8 382.2 119.2C380.0 118.6 376.4 118.5 375.3 118.3" stroke-width="0.82" opacity="0.42"/>
<path d="M391.08 92.29C390.6 91.3 388.8 88.4 388.2 86.4C387.7 84.3 388.4 81.9 387.9 79.8C387.4 77.7 386.3 75.7 385.3 73.8C384.3 71.8 382.8 70.1 382.0 68.0C381.2 66.0 381.0 63.8 380.5 61.7C379.9 59.5 379.1 57.5 378.5 55.4C378.0 53.3 377.3 50.0 377.0 49.0" stroke-width="0.79" opacity="0.64"/>
<path d="M406.27 104.37C405.5 105.3 403.1 108.1 401.4 109.9C399.7 111.6 397.7 113.1 395.9 114.7C394.2 116.4 392.6 118.3 390.8 119.9C389.0 121.6 386.8 122.9 385.1 124.6C383.4 126.4 382.1 128.5 380.6 130.4C379.2 132.4 377.1 135.4 376.4 136.4" stroke-width="0.59" opacity="0.55"/>
<path d="M437.89 91.1C436.6 91.1 432.6 90.6 430.0 90.9C427.3 91.2 424.8 92.0 422.3 92.9C419.8 93.8 417.4 95.1 415.1 96.3C412.8 97.5 410.5 99.0 408.2 100.3C405.9 101.6 402.5 103.5 401.3 104.2" stroke-width="0.78" opacity="0.39"/>
<path d="M402.16 101.03C401.1 101.8 397.9 104.0 396.1 105.8C394.3 107.6 393.3 110.2 391.5 112.0C389.6 113.8 386.8 114.6 385.1 116.4C383.4 118.2 382.5 120.8 381.1 123.0C379.6 125.1 377.9 127.1 376.5 129.2C375.0 131.3 373.6 133.5 372.4 135.8C371.3 138.1 370.0 141.8 369.6 143.0" stroke-width="0.8" opacity="0.44"/>
<path d="M389.09 132.85C387.7 132.4 383.5 131.1 380.8 130.0C378.0 128.9 375.3 127.8 372.7 126.3C370.2 124.8 368.1 122.7 365.7 121.1C363.2 119.5 360.7 117.9 358.0 116.7C355.3 115.5 352.5 114.7 349.7 113.9C346.8 113.2 342.4 112.5 341.0 112.2" stroke-width="0.78" opacity="0.66"/>
<path d="M398.9 125.73C397.6 126.6 393.7 129.5 391.0 131.2C388.3 132.9 385.1 134.1 382.7 136.1C380.2 138.1 378.1 140.7 376.2 143.2C374.3 145.8 373.0 148.8 371.2 151.5C369.5 154.2 367.8 157.1 365.4 159.2C363.1 161.3 358.5 163.3 357.1 164.1" stroke-width="0.58" opacity="0.42"/>
<path d="M399.61 127.98C398.2 127.1 393.6 125.0 391.2 122.8C388.8 120.6 387.3 117.5 385.3 114.9C383.3 112.2 381.3 109.7 379.2 107.1C377.1 104.5 374.7 102.2 373.0 99.4C371.4 96.6 370.4 93.3 369.2 90.3C368.0 87.2 366.2 82.6 365.6 81.1" stroke-width="0.76" opacity="0.6"/>
<path d="M397.09 104.67C395.7 104.6 391.6 104.7 388.8 104.5C386.0 104.3 383.3 103.8 380.5 103.6C377.8 103.5 375.0 103.5 372.2 103.6C369.5 103.8 365.4 104.3 364.0 104.5" stroke-width="0.46" opacity="0.44"/>
<path d="M430.63 113.84C429.3 113.4 425.3 112.1 422.6 111.3C419.9 110.5 417.1 110.0 414.5 109.0C411.9 108.0 409.4 106.5 406.8 105.5C404.2 104.4 401.6 103.3 398.9 102.7C396.1 102.2 393.2 102.4 390.5 102.2C387.7 101.9 384.8 101.8 382.1 101.2C379.3 100.6 375.4 99.0 374.1 98.6" stroke-width="0.61" opacity="0.58"/>
<path d="M430.88 112.85C429.8 113.1 426.6 113.8 424.4 114.1C422.3 114.4 420.0 114.1 417.9 114.6C415.8 115.2 414.0 116.6 411.9 117.5C409.9 118.3 407.8 118.9 405.7 119.6C403.6 120.3 401.5 120.7 399.4 121.5C397.4 122.3 394.5 123.8 393.5 124.3" stroke-width="0.7" opacity="0.53"/>
<path d="M440.55 92.57C439.7 91.7 436.6 89.3 435.2 87.3C433.7 85.3 432.7 82.9 431.9 80.5C431.2 78.1 430.7 75.5 430.7 73.0C430.8 70.5 431.5 68.0 432.2 65.6C432.9 63.2 434.4 59.7 434.8 58.6" stroke-width="0.72" opacity="0.63"/>
<path d="M392.58 100.1C391.5 100.4 388.1 100.9 386.2 101.9C384.3 102.9 382.6 104.5 381.1 106.1C379.5 107.6 378.2 109.4 376.8 111.2C375.5 112.9 374.2 114.7 372.9 116.5C371.6 118.2 370.2 119.9 369.0 121.8C367.8 123.6 366.9 125.7 365.7 127.5C364.6 129.4 363.0 131.1 362.1 133.1C361.3 135.1 360.9 138.5 360.7 139.6" stroke-width="0.64" opacity="0.57"/>
<path d="M415.37 134.09C414.0 133.4 409.4 131.9 407.0 130.1C404.6 128.3 403.1 125.3 401.0 123.1C398.9 120.9 396.8 118.5 394.3 116.7C391.8 115.0 387.3 113.3 386.0 112.7" stroke-width="0.72" opacity="0.56"/>
<path d="M414.71 131.06C413.7 131.5 410.9 133.1 408.9 133.9C406.9 134.7 404.8 135.7 402.7 136.0C400.6 136.3 398.4 136.2 396.2 135.9C394.1 135.6 391.0 134.6 389.9 134.4" stroke-width="0.72" opacity="0.4"/>
<path d="M393.74 132.89C392.8 131.8 390.0 128.6 388.1 126.5C386.2 124.3 384.5 121.9 382.4 120.1C380.2 118.2 377.8 116.4 375.3 115.3C372.7 114.2 368.3 113.8 366.9 113.4" stroke-width="0.54" opacity="0.69"/>
<path d="M450.1 77.79C449.0 77.5 445.6 76.6 443.3 76.2C441.0 75.7 438.6 75.6 436.3 75.0C434.0 74.5 431.8 73.7 429.6 72.9C427.4 72.1 425.2 71.2 423.1 70.1C421.1 69.0 419.1 67.7 417.3 66.2C415.4 64.8 413.8 63.0 412.1 61.5C410.3 59.9 407.6 57.6 406.7 56.9" stroke-width="0.55" opacity="0.35"/>
<path d="M451.2 72.48C449.9 72.1 446.1 71.0 443.5 70.3C441.0 69.6 438.4 69.1 435.8 68.4C433.3 67.7 430.8 66.6 428.2 66.0C425.7 65.4 423.0 64.9 420.4 64.8C417.7 64.6 415.0 64.7 412.4 65.1C409.8 65.4 407.2 66.2 404.7 67.0C402.1 67.7 399.7 68.7 397.2 69.6C394.7 70.5 392.2 71.5 389.7 72.3C387.1 73.0 384.5 73.7 381.9 74.1C379.3 74.5 376.6 74.4 374.0 74.9C371.4 75.4 368.9 76.5 366.3 77.0C363.7 77.6 361.1 78.0 358.5 78.1C355.8 78.3 351.8 78.0 350.5 78.0" stroke-width="0.46" opacity="0.46"/>
<path d="M452.17 70.04C450.9 69.3 447.0 66.8 444.3 65.4C441.7 64.0 439.0 62.6 436.2 61.5C433.3 60.4 430.4 59.6 427.4 59.0C424.5 58.3 421.5 57.9 418.4 57.7C415.4 57.5 412.4 57.7 409.4 57.6C406.3 57.6 403.3 57.7 400.3 57.5C397.3 57.2 394.3 56.5 391.3 56.2C388.3 55.9 385.2 56.1 382.2 55.8C379.2 55.5 376.2 55.0 373.2 54.5C370.2 54.1 367.2 53.7 364.3 52.9C361.4 52.1 357.2 50.2 355.8 49.6" stroke-width="0.53" opacity="0.43"/>
<path d="M453.56 92.52C452.3 93.1 448.4 94.6 446.0 95.9C443.6 97.3 441.5 99.1 439.2 100.5C436.8 102.0 434.2 103.0 432.0 104.6C429.8 106.2 427.9 108.3 425.8 110.0C423.6 111.7 421.4 113.3 419.2 115.0C417.0 116.7 415.0 118.6 412.7 120.1C410.4 121.6 407.7 122.5 405.4 124.0C403.1 125.5 401.2 127.5 398.8 129.0C396.5 130.4 393.9 131.5 391.4 132.6C388.9 133.8 386.3 134.7 383.9 136.0C381.5 137.4 379.3 139.1 377.2 140.8C375.0 142.5 373.0 144.4 371.2 146.5C369.3 148.5 367.0 152.0 366.2 153.1" stroke-width="0.57" opacity="0.59"/>
<path d="M450.04 78.57C448.7 78.3 444.6 77.6 442.0 76.7C439.4 75.8 437.1 74.2 434.5 73.1C432.0 72.1 429.3 71.3 426.7 70.5C424.1 69.7 421.3 69.4 418.7 68.5C416.1 67.5 413.7 66.2 411.3 64.8C408.9 63.4 406.7 61.6 404.3 60.4C401.9 59.1 399.3 58.0 396.6 57.3C394.0 56.5 391.2 56.0 388.5 55.8C385.8 55.6 383.0 56.0 380.2 55.8C377.5 55.7 373.4 55.0 372.0 54.8" stroke-width="0.82" opacity="0.38"/>
<path d="M452.91 68.58C451.8 67.9 448.7 65.9 446.5 64.7C444.2 63.6 441.8 62.9 439.6 61.8C437.3 60.7 435.3 59.2 433.1 58.0C430.9 56.8 428.4 56.1 426.3 54.9C424.1 53.6 422.3 51.7 420.2 50.4C418.1 49.0 415.8 48.1 413.7 46.8C411.5 45.5 408.5 43.2 407.5 42.5" stroke-width="0.48" opacity="0.47"/>
<path d="M457.6 97.26C456.7 98.5 453.7 101.9 452.2 104.4C450.6 107.0 449.7 109.9 448.4 112.6C447.0 115.2 445.5 117.8 444.0 120.4C442.6 123.0 441.0 125.6 439.6 128.2C438.3 130.9 437.2 133.7 436.1 136.5C434.9 139.2 433.7 142.0 432.5 144.7C431.4 147.5 430.3 150.3 429.0 153.0C427.7 155.7 426.2 158.3 424.6 160.8C423.0 163.3 420.9 165.5 419.4 168.1C417.9 170.7 417.2 173.7 415.6 176.3C414.1 178.9 411.2 182.3 410.3 183.5" stroke-width="0.65" opacity="0.38"/>
<path d="M454.19 66.53C452.9 65.6 449.2 62.5 446.5 60.8C443.7 59.2 440.6 58.1 437.8 56.6C435.0 55.2 432.2 53.5 429.4 51.9C426.6 50.3 423.9 48.7 421.1 47.2C418.2 45.7 415.4 44.1 412.5 42.8C409.6 41.5 406.4 40.8 403.5 39.4C400.6 38.1 398.1 36.0 395.2 34.6C392.3 33.2 387.8 31.6 386.3 31.0" stroke-width="0.54" opacity="0.42"/>
<path d="M451.84 89.22C450.5 89.6 446.6 90.9 444.0 91.6C441.4 92.3 438.6 92.5 436.0 93.4C433.4 94.2 430.9 95.5 428.5 96.8C426.1 98.1 423.8 99.5 421.6 101.2C419.4 102.8 417.6 104.8 415.4 106.5C413.2 108.2 410.8 109.4 408.6 111.1C406.4 112.8 404.5 114.7 402.4 116.5C400.4 118.3 397.5 121.2 396.5 122.1" stroke-width="0.51" opacity="0.33"/>
<path d="M450 80.09C448.8 80.4 445.1 81.3 442.7 81.8C440.2 82.2 437.7 82.8 435.2 83.0C432.7 83.1 430.2 82.6 427.7 82.7C425.2 82.8 422.7 83.1 420.2 83.4C417.7 83.8 415.3 84.5 412.8 84.9C410.3 85.2 407.7 85.0 405.3 85.4C402.8 85.8 400.3 86.4 398.0 87.3C395.6 88.2 393.5 89.6 391.2 90.7C389.0 91.8 385.5 93.3 384.4 93.8" stroke-width="0.67" opacity="0.5"/>
<path d="M450.25 76.55C448.8 76.4 444.5 75.8 441.5 75.6C438.6 75.4 435.7 75.4 432.8 75.5C429.9 75.6 427.0 75.9 424.0 76.1C421.1 76.3 418.2 76.3 415.3 76.6C412.4 76.9 409.6 77.7 406.7 78.0C403.8 78.3 400.8 78.0 397.9 78.4C395.0 78.8 392.3 80.1 389.4 80.5C386.5 81.0 382.1 81.0 380.7 81.1" stroke-width="0.46" opacity="0.32"/>
<path d="M452.4 69.55C451.1 68.9 447.1 66.8 444.3 65.8C441.5 64.8 438.5 64.4 435.7 63.5C432.9 62.5 430.2 61.0 427.4 60.1C424.6 59.2 421.5 59.1 418.7 58.2C415.9 57.3 413.3 55.7 410.5 54.6C407.8 53.4 405.0 52.3 402.3 51.2C399.5 50.1 396.7 48.9 393.9 48.1C391.0 47.4 388.0 47.1 385.0 46.9C382.1 46.8 379.1 47.0 376.1 47.1C373.1 47.2 370.2 47.5 367.2 47.7C364.2 47.9 361.3 48.4 358.3 48.5C355.3 48.5 350.9 48.2 349.4 48.1" stroke-width="0.48" opacity="0.31"/>
<path d="M456.14 95.86C455.2 96.8 452.4 99.7 450.4 101.4C448.3 103.0 445.9 104.3 443.7 105.7C441.4 107.2 439.3 108.9 437.0 110.2C434.7 111.4 432.1 112.2 429.6 113.3C427.2 114.4 424.8 115.6 422.3 116.6C419.9 117.6 417.4 118.5 414.9 119.4C412.4 120.3 409.9 121.3 407.4 122.2C404.9 123.2 402.4 124.2 399.9 125.1C397.5 126.1 395.0 127.1 392.5 128.0C390.0 128.9 387.5 129.9 385.0 130.7C382.4 131.6 379.9 132.4 377.3 133.1C374.8 133.8 370.8 134.6 369.5 134.9" stroke-width="0.53" opacity="0.3"/>
<path d="M455.19 65.22C454.0 64.3 450.3 61.8 448.0 59.8C445.8 57.9 443.8 55.6 441.8 53.4C439.7 51.3 437.8 49.0 435.8 46.8C433.7 44.6 431.4 42.7 429.5 40.4C427.7 38.1 426.3 35.4 424.5 33.0C422.7 30.6 421.0 28.1 418.9 26.0C416.8 23.9 414.5 22.0 412.0 20.3C409.6 18.6 406.9 17.2 404.3 15.7C401.7 14.3 397.7 12.3 396.4 11.6" stroke-width="0.58" opacity="0.39"/>
<path d="M455.21 65.19C454.5 64.2 452.5 61.1 450.9 59.3C449.3 57.4 447.4 55.9 445.7 54.2C444.0 52.4 442.3 50.6 440.9 48.7C439.5 46.7 438.5 44.4 437.1 42.4C435.8 40.4 434.0 38.6 432.7 36.6C431.4 34.5 430.5 32.2 429.2 30.1C427.9 28.1 426.3 26.2 424.8 24.3C423.2 22.4 421.7 20.5 420.1 18.7C418.4 16.9 416.7 15.2 414.9 13.6C413.0 12.0 411.0 10.7 409.0 9.3C407.0 7.9 404.7 6.8 402.9 5.2C401.0 3.7 398.6 0.9 397.7 0.0" stroke-width="0.54" opacity="0.48"/>
<path d="M451.8 89.12C450.8 89.8 447.7 91.9 445.8 93.4C443.8 94.9 442.1 96.7 440.1 98.1C438.1 99.5 435.8 100.5 433.8 101.9C431.7 103.2 429.7 104.7 427.7 106.1C425.7 107.5 423.8 109.2 421.7 110.4C419.6 111.6 417.3 112.6 415.0 113.5C412.8 114.4 409.2 115.6 408.1 116.0" stroke-width="0.61" opacity="0.51"/>
<path d="M455.52 95.17C454.3 96.1 450.9 99.0 448.3 100.6C445.8 102.1 442.9 103.0 440.4 104.6C437.9 106.3 435.8 108.6 433.4 110.2C430.9 111.9 428.3 113.4 425.6 114.7C422.8 115.9 419.9 116.5 417.1 117.5C414.2 118.5 411.4 119.5 408.7 120.6C405.9 121.8 401.8 123.7 400.5 124.3" stroke-width="0.78" opacity="0.46"/>
<path d="M450.92 73.39C449.4 72.9 445.0 71.4 442.0 70.6C438.9 69.9 435.9 69.1 432.8 68.8C429.7 68.5 426.5 68.6 423.4 68.9C420.3 69.2 417.3 70.4 414.2 70.7C411.1 71.0 408.0 70.8 404.9 70.8C401.7 70.9 398.6 70.6 395.5 70.9C392.4 71.3 389.4 72.5 386.3 73.0C383.2 73.4 380.1 73.1 377.0 73.5C373.9 73.9 370.9 75.0 367.8 75.5C364.7 76.0 360.1 76.5 358.5 76.7" stroke-width="0.6" opacity="0.57"/>
<path d="M453.72 67.22C452.6 66.1 449.5 62.6 447.1 60.5C444.8 58.3 442.0 56.7 439.8 54.5C437.5 52.4 435.7 49.7 433.5 47.5C431.3 45.2 429.0 43.0 426.7 40.9C424.4 38.8 421.9 36.8 419.6 34.7C417.3 32.5 415.4 29.9 413.0 27.9C410.6 25.8 407.9 24.2 405.4 22.3C402.9 20.3 400.5 18.3 398.2 16.2C395.9 14.1 393.8 11.7 391.5 9.5C389.3 7.3 385.8 4.1 384.6 3.1" stroke-width="0.78" opacity="0.59"/>
<path d="M450.81 86.2C449.4 86.7 445.3 88.2 442.6 89.2C439.8 90.2 437.1 91.2 434.4 92.3C431.7 93.5 429.2 95.1 426.5 96.2C423.8 97.2 420.8 97.5 418.1 98.7C415.4 99.8 413.1 101.6 410.4 102.9C407.8 104.1 405.1 105.2 402.3 106.1C399.5 107.0 395.2 107.9 393.8 108.2" stroke-width="0.73" opacity="0.33"/>
<path d="M450.3 76.17C448.8 76.1 444.4 76.1 441.5 76.0C438.6 75.8 435.7 75.5 432.8 75.3C429.8 75.1 426.9 74.8 424.0 74.8C421.1 74.7 418.1 74.8 415.2 74.9C412.3 75.1 409.4 75.8 406.5 75.8C403.6 75.8 400.6 75.0 397.7 74.9C394.8 74.9 391.9 75.3 389.0 75.7C386.1 76.0 383.2 76.6 380.3 77.0C377.4 77.5 374.5 78.2 371.6 78.5C368.7 78.7 364.3 78.5 362.8 78.6" stroke-width="0.6" opacity="0.43"/>
<path d="M451.36 72.03C450.2 71.3 446.8 68.8 444.4 67.4C442.0 66.0 439.4 64.9 437.0 63.5C434.5 62.2 432.2 60.6 429.8 59.2C427.3 57.9 424.8 56.7 422.3 55.5C419.8 54.3 417.2 53.2 414.7 51.9C412.3 50.7 409.9 49.0 407.4 48.0C404.8 46.9 400.7 46.0 399.4 45.6" stroke-width="0.76" opacity="0.34"/>
<path d="M450.3 76.2C449.0 75.8 445.3 74.3 442.8 73.7C440.2 73.1 437.5 72.9 434.9 72.7C432.3 72.6 429.6 72.6 427.0 72.6C424.3 72.7 421.7 72.7 419.0 73.0C416.4 73.3 413.8 73.9 411.2 74.4C408.6 74.8 406.0 75.3 403.4 75.8C400.8 76.2 398.2 76.8 395.6 77.0C392.9 77.1 390.3 76.7 387.6 76.8C385.0 77.0 381.1 77.7 379.8 77.9" stroke-width="0.66" opacity="0.47"/>
<path d="M451.05 87.03C449.9 87.4 446.7 88.9 444.4 89.5C442.1 90.1 439.7 90.3 437.3 90.6C435.0 91.0 432.7 91.4 430.3 91.5C427.9 91.7 425.5 91.7 423.2 91.4C420.8 91.1 418.5 90.5 416.2 89.8C414.0 89.1 411.9 87.9 409.7 87.0C407.5 86.1 405.3 85.1 403.0 84.5C400.8 83.9 398.4 83.5 396.0 83.4C393.7 83.2 391.3 83.9 388.9 83.8C386.6 83.7 383.0 82.9 381.9 82.7" stroke-width="0.63" opacity="0.42"/>
<path d="M455.2 94.8C454.1 96.0 451.1 99.5 448.9 101.8C446.7 104.0 444.4 106.2 442.1 108.3C439.8 110.4 437.5 112.5 435.1 114.6C432.8 116.6 430.2 118.5 428.0 120.7C425.7 122.8 423.5 125.1 421.4 127.4C419.3 129.8 417.5 132.3 415.4 134.6C413.3 137.0 410.9 139.1 408.8 141.4C406.7 143.7 404.5 146.0 402.7 148.5C400.9 151.1 399.5 153.9 398.2 156.8C396.8 159.6 395.9 162.6 394.5 165.4C393.1 168.2 391.1 170.7 389.6 173.4C388.1 176.2 386.6 179.0 385.3 181.8C384.0 184.7 382.4 189.1 381.8 190.6" stroke-width="0.75" opacity="0.38"/>
<path d="M451.96 70.51C450.6 69.7 446.4 67.5 443.8 65.7C441.2 63.9 438.6 61.9 436.3 59.8C434.0 57.6 431.7 55.3 429.9 52.8C428.0 50.2 426.7 47.3 425.0 44.6C423.3 41.9 421.2 39.5 419.5 36.8C417.8 34.2 416.1 31.4 414.8 28.5C413.6 25.6 413.0 22.5 412.1 19.4C411.2 16.4 410.5 13.3 409.4 10.3C408.4 7.3 407.0 4.4 405.9 1.5C404.8 -1.5 403.2 -6.0 402.6 -7.5" stroke-width="0.52" opacity="0.31"/>
<path d="M450.14 77.38C448.9 77.4 445.1 77.6 442.6 77.7C440.1 77.7 437.6 77.7 435.0 77.7C432.5 77.7 430.0 77.8 427.5 77.8C425.0 77.8 422.4 77.9 419.9 77.5C417.5 77.2 414.9 76.7 412.6 75.8C410.2 75.0 407.9 73.9 405.7 72.7C403.5 71.5 401.3 70.2 399.3 68.7C397.3 67.1 394.8 64.3 393.9 63.4" stroke-width="0.76" opacity="0.46"/>
<path d="M451.76 70.98C450.5 70.7 446.8 69.8 444.4 69.2C441.9 68.6 439.4 67.9 437.0 67.4C434.5 66.9 431.9 66.7 429.5 66.0C427.1 65.3 424.8 64.1 422.4 63.2C420.0 62.4 417.5 61.7 415.2 60.8C412.8 59.9 410.6 58.6 408.2 57.7C405.9 56.9 403.4 56.1 400.9 55.7C398.4 55.2 395.9 55.1 393.3 54.8C390.8 54.6 388.3 54.4 385.8 54.0C383.3 53.5 380.9 52.8 378.4 52.1C376.0 51.5 373.6 50.5 371.1 50.0C368.6 49.6 364.8 49.6 363.5 49.5" stroke-width="0.52" opacity="0.57"/>
<path d="M450.64 85.52C449.5 86.1 446.0 88.1 443.5 89.1C441.0 90.0 438.4 90.4 435.9 91.4C433.4 92.3 431.1 93.8 428.6 94.7C426.1 95.6 423.6 96.3 421.0 96.9C418.4 97.6 415.8 98.2 413.2 98.7C410.6 99.2 408.0 99.7 405.4 100.0C402.7 100.4 400.1 100.4 397.4 100.8C394.8 101.1 392.2 101.8 389.6 102.2C387.0 102.6 384.3 102.8 381.7 103.1C379.0 103.3 376.3 103.2 373.7 103.7C371.1 104.1 368.6 105.1 366.1 105.9C363.6 106.8 361.0 107.7 358.7 108.9C356.3 110.1 353.1 112.4 352.0 113.1" stroke-width="0.74" opacity="0.34"/>
<path d="M450.11 82.34C449.0 82.6 445.5 83.2 443.2 83.9C441.0 84.5 438.9 85.8 436.7 86.4C434.4 87.0 432.0 87.0 429.7 87.5C427.4 88.0 425.1 88.5 422.9 89.3C420.7 90.1 418.7 91.4 416.6 92.4C414.4 93.3 412.2 94.2 410.0 94.8C407.7 95.4 405.3 95.5 403.1 96.2C400.9 96.9 398.7 98.0 396.6 98.9C394.5 99.9 392.5 101.1 390.3 102.1C388.2 103.2 386.0 104.0 384.0 105.1C381.9 106.2 380.1 107.8 378.0 108.8C375.9 109.9 373.7 110.7 371.5 111.5C369.3 112.3 365.9 113.4 364.8 113.7" stroke-width="0.56" opacity="0.32"/>
<path d="M349.14 104.73C350.6 104.6 355.0 103.9 358.0 103.9C360.9 103.9 363.8 104.7 366.8 104.8C369.7 105.0 372.7 105.0 375.6 104.7C378.6 104.4 381.4 103.1 384.3 103.0C387.2 102.8 390.2 103.8 393.1 104.0C396.1 104.2 400.5 104.2 402.0 104.3" stroke-width="0.76" opacity="0.41"/>
<path d="M360.01 100.36C361.2 99.8 364.9 97.9 367.4 97.0C370.0 96.0 372.6 95.1 375.3 94.8C378.0 94.5 380.8 94.7 383.4 95.3C386.1 95.9 389.8 97.8 391.1 98.3" stroke-width="0.46" opacity="0.4"/>
<path d="M361.53 109.48C362.4 108.6 365.2 106.3 366.7 104.4C368.3 102.6 369.6 100.5 370.8 98.4C372.1 96.3 373.3 94.2 374.3 92.0C375.3 89.8 375.7 87.4 376.7 85.2C377.7 83.0 378.9 80.8 380.2 78.8C381.6 76.8 384.0 74.0 384.7 73.1" stroke-width="0.71" opacity="0.45"/>
<path d="M353.53 143.45C354.5 142.9 357.6 141.7 359.4 140.4C361.1 139.1 362.4 137.2 363.9 135.6C365.4 134.0 367.2 132.7 368.6 131.0C369.9 129.2 370.7 127.1 371.8 125.2C373.0 123.4 374.9 120.7 375.5 119.8" stroke-width="0.49" opacity="0.32"/>
<path d="M357.22 169.62C358.0 170.2 360.3 172.2 362.0 173.2C363.8 174.2 365.8 174.7 367.6 175.5C369.5 176.3 371.2 177.3 373.1 178.0C375.0 178.7 377.9 179.3 378.9 179.5" stroke-width="0.51" opacity="0.46"/>
<path d="M352.05 170.14C352.9 169.3 355.7 167.2 357.2 165.4C358.7 163.6 359.8 161.5 361.1 159.6C362.4 157.6 364.0 155.8 364.9 153.7C365.8 151.6 365.7 149.0 366.6 146.9C367.4 144.7 369.2 142.9 370.0 140.8C370.7 138.6 371.1 135.0 371.3 133.9" stroke-width="0.57" opacity="0.49"/>
<path d="M344.57 110.12C344.8 108.8 345.5 104.7 346.2 102.1C347.0 99.4 348.5 97.0 349.0 94.3C349.6 91.7 349.3 88.9 349.5 86.1C349.6 83.4 349.7 79.3 349.8 77.9" stroke-width="0.73" opacity="0.38"/>
<path d="M355.96 137.07C357.3 136.8 361.5 135.6 364.3 135.3C367.1 135.0 370.0 135.0 372.8 135.4C375.6 135.8 378.2 137.3 381.0 137.6C383.8 138.0 386.7 137.3 389.5 137.5C392.3 137.7 395.1 138.4 397.9 138.8C400.7 139.2 405.0 139.7 406.4 139.9" stroke-width="0.53" opacity="0.5"/>
<path d="M341.37 105.79C342.7 106.3 346.9 107.3 349.3 108.7C351.7 110.0 353.7 112.2 356.0 113.8C358.3 115.4 362.0 117.5 363.2 118.3" stroke-width="0.53" opacity="0.3"/>
<path d="M349.49 126.25C350.5 126.4 353.6 127.0 355.7 126.9C357.7 126.8 359.7 126.0 361.7 125.5C363.7 124.9 366.6 123.9 367.6 123.5" stroke-width="0.5" opacity="0.3"/>
<path d="M357.73 142.66C358.9 142.2 362.4 141.2 364.6 140.1C366.7 139.0 368.7 137.6 370.6 136.1C372.5 134.5 373.9 132.5 375.8 130.9C377.6 129.4 379.7 128.1 381.6 126.6C383.6 125.2 385.3 123.4 387.4 122.2C389.5 121.0 392.9 119.7 394.0 119.3" stroke-width="0.47" opacity="0.54"/>
<path d="M355.38 139.25C356.4 139.7 359.7 141.0 361.8 142.0C363.9 142.9 365.9 144.2 368.1 144.9C370.2 145.7 372.6 146.0 374.8 146.5C377.1 147.0 379.3 147.7 381.6 148.1C383.9 148.4 387.4 148.6 388.5 148.7" stroke-width="0.52" opacity="0.6"/>
<path d="M345.97 155.72C347.0 154.7 350.7 151.8 352.4 149.4C354.2 146.9 355.3 144.0 356.5 141.2C357.6 138.5 358.6 135.6 359.5 132.7C360.3 129.8 361.2 125.4 361.6 123.9" stroke-width="0.68" opacity="0.46"/>
<path d="M352.38 120.27C353.5 119.7 356.8 118.3 358.8 117.0C360.9 115.7 362.9 114.3 364.6 112.6C366.2 110.9 367.4 108.7 368.9 106.8C370.4 104.9 372.3 103.3 373.6 101.3C375.0 99.3 375.7 96.9 377.0 94.9C378.4 92.9 380.9 90.3 381.7 89.4" stroke-width="0.46" opacity="0.63"/>
<path d="M359.12 177.62C360.6 177.4 364.9 176.5 367.8 176.2C370.8 175.9 373.8 176.3 376.7 175.6C379.5 175.0 382.2 173.5 384.8 172.1C387.3 170.7 389.6 168.7 392.1 167.2C394.6 165.7 397.6 164.9 399.9 163.1C402.2 161.3 404.9 157.7 405.9 156.6" stroke-width="0.77" opacity="0.43"/>
<path d="M356.42 145.3C357.8 144.4 361.6 141.4 364.4 140.2C367.3 138.9 370.5 138.1 373.6 137.6C376.7 137.1 381.5 137.2 383.1 137.1" stroke-width="0.62" opacity="0.44"/>
<path d="M354.83 171.31C355.5 170.0 357.1 165.8 358.8 163.4C360.5 161.0 362.8 159.0 364.9 156.9C366.9 154.7 369.0 152.7 371.0 150.4C372.9 148.2 374.6 145.8 376.4 143.4C378.2 141.1 380.2 138.8 381.8 136.4C383.5 133.9 385.6 130.0 386.3 128.7" stroke-width="0.5" opacity="0.52"/>
<path d="M348.25 159.73C349.7 159.2 354.1 157.5 356.9 156.2C359.8 154.9 362.3 153.0 365.2 151.8C368.1 150.6 371.2 150.1 374.2 149.1C377.2 148.1 381.5 146.4 383.0 145.8" stroke-width="0.46" opacity="0.61"/>
<path d="M332.33 115.62C333.7 116.5 337.6 119.5 340.4 121.0C343.3 122.6 346.4 123.6 349.5 124.7C352.5 125.8 355.6 127.0 358.8 127.7C361.9 128.3 365.2 128.4 368.5 128.6C371.7 128.7 375.0 128.3 378.2 128.6C381.5 128.9 386.2 130.0 387.8 130.3" stroke-width="0.73" opacity="0.52"/>
<path d="M337.1 129.6C338.2 129.6 341.6 130.0 343.8 129.9C346.0 129.7 348.3 129.3 350.4 128.7C352.5 128.0 354.4 126.7 356.4 125.7C358.4 124.7 360.3 123.4 362.3 122.5C364.3 121.5 367.4 120.3 368.5 119.9" stroke-width="0.51" opacity="0.38"/>
<path d="M346.99 159.06C348.2 158.0 351.7 154.3 354.5 152.5C357.3 150.8 360.5 149.5 363.7 148.5C366.8 147.6 371.9 147.2 373.5 146.9" stroke-width="0.76" opacity="0.64"/>
<path d="M351.62 121.34C352.2 120.2 354.2 116.8 355.3 114.5C356.3 112.1 357.1 109.6 358.0 107.2C359.0 104.8 360.4 101.2 360.9 100.0" stroke-width="0.8" opacity="0.31"/>
</g>
<g filter="url(#b1)">
<path d="M455.5 63L463.4 57.4L472 58.5L477 67L476.5 79L471 88L463 92L455.5 91.5L449.4 98.6L443.7 106.5L448 110L457 101.5L466 94" fill="#3fa9b8"/>
<path d="M457.5 66L465 61L472 65L474 75L470 84L463 88L458 83Z" fill="#74cfd8" opacity="0.92"/>
<path d="M460 70L466 66L470 72L468 81L462 81Z" fill="#a9eaee" opacity="0.85"/>
<path d="M470 61L476 56.6L485.7 58.2L491.4 65.7L493 77.2L491.4 90.4L485.7 101L477.4 106L470 102L466.7 92L470 79L471.5 69Z" fill="#5ccb6c" opacity="0.9"/>
<path d="M474 66L480 62L487 68L488 82L484 95L477 100L473 91L476 78Z" fill="#97e76f" opacity="0.95"/>
<ellipse cx="482.5" cy="78" rx="3.4" ry="8" fill="#c8f585" opacity="0.8"/>
<ellipse cx="445.4" cy="105.8" rx="2.5" ry="2.3" fill="#dcf9fb"/>
<ellipse cx="449" cy="100" rx="2.2" ry="3.2" fill="#86e2ec" opacity="0.9"/>
</g>
</g>
<g fill="#000" fill-opacity="0.15" stroke="#dadede" stroke-opacity="0.95" stroke-width="0.75" stroke-dasharray="1.1 1.0">
<rect x="339.3" y="49.4" width="6.4" height="6.4"/>
<rect x="361" y="49.4" width="6.4" height="6.4"/>
<rect x="381.4" y="49.4" width="6.4" height="6.4"/>
<rect x="404.8" y="49.4" width="6.4" height="6.4"/>
<rect x="426.1" y="49.4" width="6.4" height="6.4"/>
<rect x="447.5" y="49.4" width="6.4" height="6.4"/>
<rect x="470.4" y="49.4" width="6.4" height="6.4"/>
<rect x="492" y="49.4" width="6.4" height="6.4"/>
<rect x="513.6" y="49.4" width="6.4" height="6.4"/>
<rect x="339.3" y="71.1" width="6.4" height="6.4"/>
<rect x="361" y="71.1" width="6.4" height="6.4"/>
<rect x="381.4" y="71.1" width="6.4" height="6.4"/>
<rect x="404.8" y="71.1" width="6.4" height="6.4"/>
<rect x="426.1" y="71.1" width="6.4" height="6.4"/>
<rect x="447.5" y="71.1" width="6.4" height="6.4"/>
<rect x="470.4" y="71.1" width="6.4" height="6.4"/>
<rect x="492" y="71.1" width="6.4" height="6.4"/>
<rect x="513.6" y="71.1" width="6.4" height="6.4"/>
<rect x="339.3" y="93.3" width="6.4" height="6.4"/>
<rect x="361" y="93.3" width="6.4" height="6.4"/>
<rect x="381.4" y="93.3" width="6.4" height="6.4"/>
<rect x="404.8" y="93.3" width="6.4" height="6.4"/>
<rect x="426.1" y="93.3" width="6.4" height="6.4"/>
<rect x="447.5" y="93.3" width="6.4" height="6.4"/>
<rect x="470.4" y="93.3" width="6.4" height="6.4"/>
<rect x="492" y="93.3" width="6.4" height="6.4"/>
<rect x="513.6" y="93.3" width="6.4" height="6.4"/>
<rect x="339.3" y="114.8" width="6.4" height="6.4"/>
<rect x="361" y="114.8" width="6.4" height="6.4"/>
<rect x="381.4" y="114.8" width="6.4" height="6.4"/>
<rect x="404.8" y="114.8" width="6.4" height="6.4"/>
<rect x="426.1" y="114.8" width="6.4" height="6.4"/>
<rect x="447.5" y="114.8" width="6.4" height="6.4"/>
<rect x="470.4" y="114.8" width="6.4" height="6.4"/>
<rect x="492" y="114.8" width="6.4" height="6.4"/>
<rect x="513.6" y="114.8" width="6.4" height="6.4"/>
<rect x="339.3" y="136.8" width="6.4" height="6.4"/>
<rect x="361" y="136.8" width="6.4" height="6.4"/>
<rect x="381.4" y="136.8" width="6.4" height="6.4"/>
<rect x="404.8" y="136.8" width="6.4" height="6.4"/>
<rect x="426.1" y="136.8" width="6.4" height="6.4"/>
<rect x="447.5" y="136.8" width="6.4" height="6.4"/>
<rect x="470.4" y="136.8" width="6.4" height="6.4"/>
<rect x="492" y="136.8" width="6.4" height="6.4"/>
<rect x="513.6" y="136.8" width="6.4" height="6.4"/>
<rect x="339.3" y="159.1" width="6.4" height="6.4"/>
<rect x="361" y="159.1" width="6.4" height="6.4"/>
<rect x="381.4" y="159.1" width="6.4" height="6.4"/>
<rect x="404.8" y="159.1" width="6.4" height="6.4"/>
<rect x="426.1" y="159.1" width="6.4" height="6.4"/>
<rect x="447.5" y="159.1" width="6.4" height="6.4"/>
<rect x="470.4" y="159.1" width="6.4" height="6.4"/>
<rect x="492" y="159.1" width="6.4" height="6.4"/>
<rect x="513.6" y="159.1" width="6.4" height="6.4"/>
</g>
<rect x="339.4" y="114.9" width="6.2" height="6.2" fill="#4a2020" fill-opacity="0.4" stroke="#e8241f" stroke-width="0.95" stroke-dasharray="1.2 0.9"/>
<text x="342.5" y="119.45" font-size="3.9" font-weight="bold" fill="#ededed" text-anchor="middle" >33</text>
<rect x="361.1" y="114.9" width="6.2" height="6.2" fill="#4a2020" fill-opacity="0.4" stroke="#e8241f" stroke-width="0.95" stroke-dasharray="1.2 0.9"/>
<text x="364.2" y="119.45" font-size="3.9" font-weight="bold" fill="#ededed" text-anchor="middle" >39</text>
<rect x="404.9" y="114.9" width="6.2" height="6.2" fill="#4a2020" fill-opacity="0.4" stroke="#e8241f" stroke-width="0.95" stroke-dasharray="1.2 0.9"/>
<text x="408" y="119.45" font-size="3.9" font-weight="bold" fill="#ededed" text-anchor="middle" >26</text>
<rect x="426.2" y="114.9" width="6.2" height="6.2" fill="#4a2020" fill-opacity="0.4" stroke="#e8241f" stroke-width="0.95" stroke-dasharray="1.2 0.9"/>
<text x="429.3" y="119.45" font-size="3.9" font-weight="bold" fill="#ededed" text-anchor="middle" >21</text>
<rect x="404.9" y="136.9" width="6.2" height="6.2" fill="#4a2020" fill-opacity="0.4" stroke="#e8241f" stroke-width="0.95" stroke-dasharray="1.2 0.9"/>
<text x="408" y="141.45" font-size="3.9" font-weight="bold" fill="#ededed" text-anchor="middle" >25</text>
<rect x="426.2" y="136.9" width="6.2" height="6.2" fill="#4a2020" fill-opacity="0.4" stroke="#e8241f" stroke-width="0.95" stroke-dasharray="1.2 0.9"/>
<text x="429.3" y="141.45" font-size="3.9" font-weight="bold" fill="#ededed" text-anchor="middle" >22</text>
<rect x="447.6" y="136.9" width="6.2" height="6.2" fill="#4a2020" fill-opacity="0.4" stroke="#e8241f" stroke-width="0.95" stroke-dasharray="1.2 0.9"/>
<text x="450.7" y="141.45" font-size="3.9" font-weight="bold" fill="#ededed" text-anchor="middle" >19</text>
<rect x="447.6" y="159.2" width="6.2" height="6.2" fill="#4a2020" fill-opacity="0.4" stroke="#e8241f" stroke-width="0.95" stroke-dasharray="1.2 0.9"/>
<text x="450.7" y="163.75" font-size="3.9" font-weight="bold" fill="#ededed" text-anchor="middle" >20</text>
<text x="429.3" y="98" font-size="4.1" font-weight="bold" fill="#f0f0f0" text-anchor="middle" >58</text>
<rect x="385.3" y="101.1" width="48.4" height="33.1" fill="none" stroke="#f0942a" stroke-width="1.6"/>
<path d="M525.9 38.2L434.4 100.6M525.9 184.8L434.4 134.6" fill="none" stroke="#f59a23" stroke-width="1.4" stroke-dasharray="4.4 3"/>
<rect x="508.4" y="180.9" width="10.5" height="1.5" fill="#f4f4f4"/>
</g>
<g>
<defs><clipPath id="cR"><rect x="529.1" y="38" width="196.7" height="146.6"/></clipPath><filter id="b2" x="-5%" y="-5%" width="110%" height="110%"><feGaussianBlur stdDeviation="2.2"/></filter><filter id="b06" x="-5%" y="-5%" width="110%" height="110%"><feGaussianBlur stdDeviation="0.55"/></filter><filter id="b9" x="-20%" y="-20%" width="140%" height="140%"><feGaussianBlur stdDeviation="9"/></filter></defs>
<g clip-path="url(#cR)">
<rect x="529.1" y="38" width="196.7" height="146.6" fill="#05170f"/>
<g filter="url(#b9)">
<ellipse cx="556" cy="100" rx="30" ry="60" fill="#1a5a4a" opacity="0.85"/>
<ellipse cx="585" cy="152" rx="60" ry="30" fill="#17663e" opacity="0.8"/>
<ellipse cx="640" cy="140" rx="50" ry="26" fill="#145a3c" opacity="0.65"/>
<ellipse cx="690" cy="120" rx="40" ry="30" fill="#163e60" opacity="0.7"/>
<ellipse cx="700" cy="70" rx="30" ry="30" fill="#172b66" opacity="0.6"/>
<ellipse cx="622" cy="112" rx="20" ry="14" fill="#23805e" opacity="0.8"/>
<ellipse cx="590" cy="72" rx="26" ry="20" fill="#134438" opacity="0.6"/>
<ellipse cx="655" cy="62" rx="18" ry="22" fill="#020a08" opacity="0.9"/>
<ellipse cx="585" cy="128" rx="16" ry="9" fill="#020a08" opacity="0.7"/>
<ellipse cx="712" cy="172" rx="16" ry="12" fill="#020a08" opacity="0.6"/>
<ellipse cx="700" cy="150" rx="28" ry="22" fill="#14385e" opacity="0.55"/>
<ellipse cx="545" cy="65" rx="20" ry="30" fill="#1c4a5a" opacity="0.7"/>
</g>
<g fill="#323fb6" filter="url(#b06)">
<ellipse cx="651.62" cy="146.75" rx="2.07" ry="2.04" opacity="0.75"/>
<ellipse cx="710.52" cy="42.25" rx="1.71" ry="1.68" opacity="0.71"/>
<ellipse cx="706.31" cy="54.6" rx="1.72" ry="1.33" opacity="0.67"/>
<ellipse cx="641.99" cy="39.92" rx="1.44" ry="1.13" opacity="0.82"/>
<ellipse cx="679.72" cy="61.4" rx="2.08" ry="1.54" opacity="0.7"/>
<ellipse cx="554.02" cy="38.26" rx="2.16" ry="1.65" opacity="0.54"/>
<ellipse cx="718.22" cy="117.05" rx="1.95" ry="1.48" opacity="0.83"/>
<ellipse cx="664.95" cy="179.7" rx="2.18" ry="1.72" opacity="0.59"/>
<ellipse cx="561.74" cy="59.36" rx="1.27" ry="1.01" opacity="0.69"/>
<ellipse cx="529.77" cy="137.39" rx="1.57" ry="1.25" opacity="0.78"/>
<ellipse cx="623.66" cy="84.3" rx="1.73" ry="1.58" opacity="0.47"/>
<ellipse cx="720.9" cy="41.35" rx="2.02" ry="1.93" opacity="0.46"/>
<ellipse cx="684.05" cy="91.68" rx="1.84" ry="1.29" opacity="0.47"/>
<ellipse cx="564.69" cy="178.03" rx="1.42" ry="1.31" opacity="0.82"/>
<ellipse cx="714.4" cy="88.49" rx="1.59" ry="1.36" opacity="0.76"/>
<ellipse cx="550.35" cy="147.72" rx="2.08" ry="1.99" opacity="0.46"/>
<ellipse cx="715.14" cy="51.37" rx="1.57" ry="1.39" opacity="0.82"/>
<ellipse cx="595.97" cy="173.49" rx="1.8" ry="1.43" opacity="0.58"/>
<ellipse cx="564.01" cy="49.46" rx="1.36" ry="1.24" opacity="0.85"/>
<ellipse cx="560.87" cy="45.12" rx="2.29" ry="1.97" opacity="0.61"/>
<ellipse cx="575.78" cy="125.07" rx="1.7" ry="1.41" opacity="0.47"/>
<ellipse cx="709.29" cy="42.8" rx="1.74" ry="1.66" opacity="0.5"/>
<ellipse cx="673.02" cy="177.24" rx="1.89" ry="1.77" opacity="0.49"/>
<ellipse cx="614.58" cy="59.88" rx="1.52" ry="1.27" opacity="0.85"/>
<ellipse cx="696.74" cy="181.08" rx="1.7" ry="1.44" opacity="0.74"/>
<ellipse cx="623.33" cy="80.66" rx="1.64" ry="1.22" opacity="0.6"/>
<ellipse cx="627.32" cy="87.62" rx="1.3" ry="1.01" opacity="0.76"/>
<ellipse cx="699.71" cy="90.97" rx="2.06" ry="1.93" opacity="0.73"/>
<ellipse cx="659.71" cy="149.36" rx="1.6" ry="1.46" opacity="0.56"/>
<ellipse cx="624.63" cy="150.84" rx="1.96" ry="1.54" opacity="0.83"/>
<ellipse cx="656.89" cy="123.12" rx="1.21" ry="1.05" opacity="0.55"/>
<ellipse cx="661.21" cy="105.87" rx="2.1" ry="1.88" opacity="0.77"/>
<ellipse cx="597.53" cy="132.42" rx="2.01" ry="1.91" opacity="0.59"/>
<ellipse cx="694.89" cy="165.53" rx="1.96" ry="1.94" opacity="0.83"/>
<ellipse cx="631.02" cy="115.6" rx="1.38" ry="1.32" opacity="0.82"/>
<ellipse cx="622.97" cy="139.36" rx="1.99" ry="1.83" opacity="0.52"/>
<ellipse cx="682.6" cy="123.15" rx="1.93" ry="1.6" opacity="0.7"/>
<ellipse cx="681.48" cy="131.36" rx="1.99" ry="1.41" opacity="0.51"/>
<ellipse cx="615.86" cy="133.31" rx="1.44" ry="1.31" opacity="0.7"/>
<ellipse cx="537.33" cy="107.13" rx="1.45" ry="1.04" opacity="0.5"/>
<ellipse cx="591.52" cy="64.61" rx="1.41" ry="1" opacity="0.64"/>
<ellipse cx="603.9" cy="127.69" rx="1.85" ry="1.43" opacity="0.81"/>
<ellipse cx="529.23" cy="97.43" rx="1.51" ry="1.24" opacity="0.5"/>
<ellipse cx="692.63" cy="92.81" rx="1.24" ry="1.1" opacity="0.49"/>
<ellipse cx="636.34" cy="87.75" rx="1.84" ry="1.82" opacity="0.78"/>
<ellipse cx="611.54" cy="157.18" rx="1.91" ry="1.55" opacity="0.51"/>
<ellipse cx="646.32" cy="120.66" rx="2.25" ry="2.23" opacity="0.69"/>
<ellipse cx="598.16" cy="168.98" rx="1.2" ry="0.88" opacity="0.68"/>
<ellipse cx="704.42" cy="93.1" rx="1.67" ry="1.29" opacity="0.57"/>
<ellipse cx="720.38" cy="93.68" rx="2.26" ry="2.2" opacity="0.69"/>
<ellipse cx="580.21" cy="181.81" rx="1.75" ry="1.44" opacity="0.58"/>
<ellipse cx="722.71" cy="110.09" rx="1.52" ry="1.28" opacity="0.5"/>
<ellipse cx="651.39" cy="103.01" rx="1.52" ry="1.42" opacity="0.78"/>
<ellipse cx="531.7" cy="116.07" rx="1.5" ry="1.47" opacity="0.76"/>
<ellipse cx="577.42" cy="77.24" rx="1.37" ry="1.37" opacity="0.57"/>
<ellipse cx="648.7" cy="107.58" rx="1.91" ry="1.68" opacity="0.75"/>
<ellipse cx="552.35" cy="149.47" rx="1.53" ry="1.32" opacity="0.58"/>
<ellipse cx="600.12" cy="147.22" rx="1.85" ry="1.32" opacity="0.55"/>
<ellipse cx="618.72" cy="172.37" rx="2.18" ry="1.88" opacity="0.46"/>
<ellipse cx="682.21" cy="100.71" rx="1.83" ry="1.67" opacity="0.7"/>
<ellipse cx="623.89" cy="171.66" rx="1.62" ry="1.33" opacity="0.79"/>
<ellipse cx="567.75" cy="81.46" rx="2.11" ry="1.52" opacity="0.78"/>
<ellipse cx="665.73" cy="101.45" rx="1.51" ry="1.42" opacity="0.81"/>
<ellipse cx="557.17" cy="108.14" rx="1.8" ry="1.53" opacity="0.58"/>
<ellipse cx="559.3" cy="123.89" rx="2.09" ry="1.51" opacity="0.54"/>
<ellipse cx="690.31" cy="154.07" rx="1.93" ry="1.37" opacity="0.74"/>
<ellipse cx="721.61" cy="184.36" rx="1.25" ry="1.19" opacity="0.54"/>
<ellipse cx="656.12" cy="177.6" rx="1.98" ry="1.47" opacity="0.57"/>
<ellipse cx="709.67" cy="59.95" rx="1.87" ry="1.54" opacity="0.51"/>
<ellipse cx="603.69" cy="48.56" rx="1.26" ry="1.1" opacity="0.75"/>
<ellipse cx="701.89" cy="57.69" rx="1.67" ry="1.33" opacity="0.69"/>
<ellipse cx="625.4" cy="175.59" rx="1.61" ry="1.16" opacity="0.73"/>
<ellipse cx="558.82" cy="130.56" rx="1.76" ry="1.71" opacity="0.67"/>
<ellipse cx="579.1" cy="148.03" rx="1.77" ry="1.31" opacity="0.54"/>
<ellipse cx="602.12" cy="146.01" rx="1.4" ry="1.28" opacity="0.71"/>
<ellipse cx="545.87" cy="135.92" rx="1.3" ry="0.96" opacity="0.69"/>
<ellipse cx="576.03" cy="166.56" rx="1.73" ry="1.38" opacity="0.77"/>
<ellipse cx="534.89" cy="144.29" rx="1.26" ry="0.94" opacity="0.83"/>
<ellipse cx="720.43" cy="135.5" rx="2.1" ry="1.56" opacity="0.7"/>
<ellipse cx="598.79" cy="72.45" rx="1.57" ry="1.39" opacity="0.59"/>
<ellipse cx="604.98" cy="58" rx="1.91" ry="1.8" opacity="0.62"/>
<ellipse cx="696.61" cy="113.86" rx="1.85" ry="1.61" opacity="0.75"/>
<ellipse cx="568.91" cy="43.78" rx="2.18" ry="1.84" opacity="0.75"/>
<ellipse cx="529.19" cy="106.93" rx="2.18" ry="1.93" opacity="0.62"/>
<ellipse cx="620.68" cy="52.62" rx="1.37" ry="1.02" opacity="0.6"/>
<ellipse cx="604.96" cy="167.06" rx="1.37" ry="1.06" opacity="0.56"/>
<ellipse cx="560.87" cy="80.08" rx="1.46" ry="1.23" opacity="0.46"/>
<ellipse cx="710.95" cy="92.09" rx="2.23" ry="2.02" opacity="0.72"/>
<ellipse cx="621.89" cy="176.6" rx="1.33" ry="1.2" opacity="0.57"/>
<ellipse cx="661.77" cy="144.92" rx="1.38" ry="1.05" opacity="0.46"/>
<ellipse cx="574.43" cy="49.46" rx="1.64" ry="1.63" opacity="0.6"/>
<ellipse cx="590.44" cy="106.61" rx="1.51" ry="1.39" opacity="0.74"/>
<ellipse cx="561.23" cy="73.26" rx="1.94" ry="1.9" opacity="0.71"/>
<ellipse cx="613.81" cy="181" rx="1.21" ry="0.87" opacity="0.76"/>
<ellipse cx="609.78" cy="44.59" rx="1.8" ry="1.8" opacity="0.66"/>
<ellipse cx="597.95" cy="51.75" rx="1.28" ry="1.24" opacity="0.65"/>
<ellipse cx="713.16" cy="45.88" rx="1.47" ry="1.05" opacity="0.61"/>
<ellipse cx="540.93" cy="75.45" rx="1.65" ry="1.31" opacity="0.47"/>
<ellipse cx="536.5" cy="180.44" rx="1.4" ry="1.19" opacity="0.61"/>
<ellipse cx="633.61" cy="50.37" rx="1.55" ry="1.13" opacity="0.67"/>
<ellipse cx="710.32" cy="125.71" rx="2.14" ry="1.64" opacity="0.46"/>
<ellipse cx="635.25" cy="109.33" rx="1.83" ry="1.49" opacity="0.7"/>
<ellipse cx="671.83" cy="171.85" rx="1.54" ry="1.28" opacity="0.78"/>
<ellipse cx="573.16" cy="54.96" rx="1.54" ry="1.12" opacity="0.76"/>
<ellipse cx="690.28" cy="83.87" rx="1.34" ry="0.97" opacity="0.55"/>
<ellipse cx="545.69" cy="100.84" rx="1.83" ry="1.42" opacity="0.47"/>
<ellipse cx="585.36" cy="92.79" rx="1.31" ry="1.08" opacity="0.58"/>
<ellipse cx="677.08" cy="119.52" rx="2.19" ry="1.96" opacity="0.75"/>
<ellipse cx="642.15" cy="102.82" rx="2.1" ry="1.88" opacity="0.83"/>
<ellipse cx="672.3" cy="140.79" rx="1.49" ry="1.41" opacity="0.6"/>
<ellipse cx="554.72" cy="47.67" rx="1.39" ry="1.08" opacity="0.72"/>
<ellipse cx="585.26" cy="47.31" rx="2.04" ry="1.77" opacity="0.46"/>
<ellipse cx="539.06" cy="57.08" rx="1.59" ry="1.53" opacity="0.83"/>
<ellipse cx="600.39" cy="86.43" rx="1.21" ry="1.06" opacity="0.78"/>
<ellipse cx="562.77" cy="142" rx="1.69" ry="1.66" opacity="0.77"/>
<ellipse cx="552.35" cy="84.48" rx="2.21" ry="1.85" opacity="0.62"/>
<ellipse cx="615.93" cy="150.52" rx="2.23" ry="1.92" opacity="0.84"/>
<ellipse cx="646.34" cy="53.18" rx="1.66" ry="1.19" opacity="0.84"/>
<ellipse cx="535.57" cy="122.59" rx="1.73" ry="1.67" opacity="0.61"/>
<ellipse cx="571.51" cy="78.61" rx="1.42" ry="1.23" opacity="0.59"/>
<ellipse cx="676.84" cy="73.41" rx="1.59" ry="1.23" opacity="0.84"/>
<ellipse cx="694.37" cy="162.59" rx="1.88" ry="1.54" opacity="0.51"/>
<ellipse cx="692.69" cy="109.85" rx="1.24" ry="0.93" opacity="0.49"/>
<ellipse cx="670.27" cy="169.97" rx="1.42" ry="1.33" opacity="0.58"/>
<ellipse cx="663.43" cy="164.53" rx="1.89" ry="1.77" opacity="0.6"/>
<ellipse cx="531.08" cy="113.02" rx="1.85" ry="1.39" opacity="0.61"/>
<ellipse cx="591.5" cy="41.97" rx="1.54" ry="1.26" opacity="0.64"/>
<ellipse cx="667.45" cy="96.51" rx="2.28" ry="2.15" opacity="0.82"/>
<ellipse cx="665.38" cy="136.25" rx="1.79" ry="1.68" opacity="0.6"/>
<ellipse cx="645.85" cy="137.61" rx="1.77" ry="1.39" opacity="0.48"/>
<ellipse cx="546.27" cy="90.17" rx="1.84" ry="1.71" opacity="0.74"/>
<ellipse cx="589.45" cy="174.22" rx="1.5" ry="1.37" opacity="0.48"/>
<ellipse cx="677.29" cy="136.21" rx="2.25" ry="2.18" opacity="0.73"/>
<ellipse cx="693.98" cy="146.28" rx="1.87" ry="1.43" opacity="0.66"/>
<ellipse cx="705.37" cy="73.05" rx="2.27" ry="1.96" opacity="0.61"/>
<ellipse cx="529.68" cy="95.2" rx="1.4" ry="1.25" opacity="0.81"/>
<ellipse cx="708.13" cy="127.94" rx="1.63" ry="1.19" opacity="0.73"/>
<ellipse cx="637.96" cy="142.86" rx="1.61" ry="1.56" opacity="0.54"/>
<ellipse cx="589.21" cy="77.24" rx="1.88" ry="1.83" opacity="0.52"/>
<ellipse cx="653.57" cy="150.37" rx="1.45" ry="1.04" opacity="0.68"/>
<ellipse cx="692.41" cy="166.8" rx="2" ry="1.65" opacity="0.62"/>
<ellipse cx="633.11" cy="170.63" rx="1.53" ry="1.2" opacity="0.69"/>
<ellipse cx="719.22" cy="65.45" rx="1.23" ry="0.91" opacity="0.68"/>
<ellipse cx="646.04" cy="132.76" rx="1.96" ry="1.8" opacity="0.47"/>
<ellipse cx="624.44" cy="160.36" rx="2.25" ry="1.79" opacity="0.79"/>
<ellipse cx="656.01" cy="173.86" rx="1.45" ry="1.32" opacity="0.79"/>
<ellipse cx="622.87" cy="52.78" rx="1.41" ry="1.06" opacity="0.49"/>
<ellipse cx="558.99" cy="128.27" rx="1.32" ry="1.22" opacity="0.74"/>
<ellipse cx="689.68" cy="155.82" rx="1.98" ry="1.94" opacity="0.83"/>
<ellipse cx="652.06" cy="179.48" rx="1.31" ry="0.96" opacity="0.48"/>
<ellipse cx="569.7" cy="92.89" rx="1.7" ry="1.54" opacity="0.75"/>
<ellipse cx="545.58" cy="97.12" rx="1.8" ry="1.46" opacity="0.5"/>
<ellipse cx="646.55" cy="92.89" rx="1.95" ry="1.66" opacity="0.84"/>
<ellipse cx="714.99" cy="48.58" rx="2.04" ry="1.87" opacity="0.57"/>
<ellipse cx="552.08" cy="108.22" rx="1.59" ry="1.46" opacity="0.82"/>
<ellipse cx="604.26" cy="80.6" rx="1.75" ry="1.59" opacity="0.77"/>
<ellipse cx="642.34" cy="81.39" rx="1.57" ry="1.5" opacity="0.66"/>
<ellipse cx="539.01" cy="99.68" rx="1.46" ry="1.32" opacity="0.48"/>
<ellipse cx="582.41" cy="52.08" rx="1.73" ry="1.72" opacity="0.67"/>
<ellipse cx="605.08" cy="174.91" rx="1.3" ry="1.05" opacity="0.77"/>
<ellipse cx="530.11" cy="150.28" rx="1.6" ry="1.13" opacity="0.55"/>
<ellipse cx="619.23" cy="94.12" rx="1.77" ry="1.27" opacity="0.54"/>
<ellipse cx="720.75" cy="102.89" rx="1.72" ry="1.25" opacity="0.56"/>
<ellipse cx="716.9" cy="138.72" rx="1.76" ry="1.26" opacity="0.61"/>
<ellipse cx="682.22" cy="101.73" rx="1.85" ry="1.8" opacity="0.71"/>
<ellipse cx="680.47" cy="98.58" rx="2.16" ry="2.05" opacity="0.82"/>
<ellipse cx="603.56" cy="184.46" rx="2.03" ry="1.97" opacity="0.51"/>
<ellipse cx="682.71" cy="99.88" rx="2.27" ry="2.27" opacity="0.54"/>
<ellipse cx="611.99" cy="77.71" rx="1.72" ry="1.35" opacity="0.72"/>
<ellipse cx="553.36" cy="62.81" rx="1.7" ry="1.23" opacity="0.6"/>
<ellipse cx="532.74" cy="159.43" rx="2.26" ry="1.99" opacity="0.5"/>
<ellipse cx="575.63" cy="172.9" rx="2.23" ry="1.58" opacity="0.52"/>
<ellipse cx="613.49" cy="77.1" rx="2.03" ry="1.65" opacity="0.76"/>
<ellipse cx="558.99" cy="113.99" rx="2.27" ry="2.07" opacity="0.49"/>
<ellipse cx="550.93" cy="132.34" rx="1.61" ry="1.31" opacity="0.64"/>
<ellipse cx="643.52" cy="179.59" rx="1.47" ry="1.28" opacity="0.56"/>
<ellipse cx="636.37" cy="145.23" rx="1.35" ry="1.14" opacity="0.73"/>
<ellipse cx="530.7" cy="151.05" rx="1.66" ry="1.41" opacity="0.69"/>
<ellipse cx="685.06" cy="46.22" rx="1.75" ry="1.25" opacity="0.6"/>
<ellipse cx="597.11" cy="41.14" rx="1.53" ry="1.28" opacity="0.71"/>
<ellipse cx="711.01" cy="92.31" rx="1.78" ry="1.63" opacity="0.82"/>
<ellipse cx="561.88" cy="174.62" rx="1.29" ry="1.07" opacity="0.74"/>
<ellipse cx="633.1" cy="94.99" rx="2.22" ry="1.75" opacity="0.67"/>
<ellipse cx="692.3" cy="58.23" rx="1.59" ry="1.35" opacity="0.68"/>
<ellipse cx="569.89" cy="104.55" rx="1.27" ry="0.92" opacity="0.59"/>
<ellipse cx="557.38" cy="179.84" rx="1.49" ry="1.17" opacity="0.76"/>
<ellipse cx="674.89" cy="76.42" rx="2.11" ry="1.87" opacity="0.61"/>
<ellipse cx="701.51" cy="102.3" rx="2.19" ry="1.65" opacity="0.5"/>
<ellipse cx="539.32" cy="146.44" rx="1.82" ry="1.28" opacity="0.47"/>
<ellipse cx="691.19" cy="110.48" rx="2.16" ry="1.54" opacity="0.69"/>
<ellipse cx="552.2" cy="143.72" rx="1.87" ry="1.65" opacity="0.54"/>
<ellipse cx="715.77" cy="54.28" rx="1.27" ry="1.15" opacity="0.49"/>
<ellipse cx="542.25" cy="105.48" rx="1.91" ry="1.85" opacity="0.74"/>
<ellipse cx="542.74" cy="132.28" rx="2.13" ry="1.57" opacity="0.75"/>
<ellipse cx="579.98" cy="81.78" rx="1.2" ry="1.11" opacity="0.66"/>
<ellipse cx="706.52" cy="106.25" rx="1.37" ry="1.05" opacity="0.56"/>
<ellipse cx="715.33" cy="68.09" rx="1.3" ry="1.05" opacity="0.48"/>
<ellipse cx="612.74" cy="129.13" rx="1.92" ry="1.44" opacity="0.51"/>
<ellipse cx="625.72" cy="138.74" rx="1.69" ry="1.48" opacity="0.81"/>
<ellipse cx="557.63" cy="77.26" rx="1.74" ry="1.5" opacity="0.81"/>
<ellipse cx="638.33" cy="135.11" rx="1.66" ry="1.55" opacity="0.78"/>
<ellipse cx="586.85" cy="53.81" rx="1.49" ry="1.2" opacity="0.81"/>
<ellipse cx="717.19" cy="55.07" rx="2.05" ry="1.64" opacity="0.49"/>
<ellipse cx="653.42" cy="161.78" rx="1.84" ry="1.32" opacity="0.84"/>
<ellipse cx="604.66" cy="131.28" rx="2" ry="1.55" opacity="0.61"/>
<ellipse cx="593.88" cy="52.06" rx="1.27" ry="1.16" opacity="0.61"/>
<ellipse cx="700.17" cy="47.19" rx="1.53" ry="1.15" opacity="0.83"/>
<ellipse cx="684.6" cy="169.4" rx="1.76" ry="1.28" opacity="0.62"/>
<ellipse cx="573.59" cy="41.94" rx="1.82" ry="1.43" opacity="0.49"/>
<ellipse cx="629.73" cy="174.8" rx="2.24" ry="1.88" opacity="0.49"/>
<ellipse cx="680.3" cy="54.83" rx="1.79" ry="1.3" opacity="0.84"/>
<ellipse cx="635.85" cy="102.13" rx="1.5" ry="1.3" opacity="0.84"/>
<ellipse cx="709.72" cy="93.97" rx="1.9" ry="1.85" opacity="0.58"/>
<ellipse cx="688.6" cy="115.55" rx="1.35" ry="0.97" opacity="0.83"/>
<ellipse cx="620.76" cy="102.97" rx="2.21" ry="1.93" opacity="0.65"/>
<ellipse cx="584.99" cy="147.09" rx="1.48" ry="1.25" opacity="0.75"/>
<ellipse cx="665.8" cy="144.87" rx="1.31" ry="1.31" opacity="0.5"/>
<ellipse cx="562.09" cy="51.16" rx="1.69" ry="1.5" opacity="0.79"/>
<ellipse cx="561.2" cy="140.43" rx="1.32" ry="1.15" opacity="0.55"/>
<ellipse cx="599.18" cy="45.7" rx="1.99" ry="1.47" opacity="0.76"/>
<ellipse cx="625.23" cy="166.08" rx="2.21" ry="1.74" opacity="0.58"/>
<ellipse cx="701.59" cy="57.47" rx="1.66" ry="1.37" opacity="0.84"/>
<ellipse cx="554.33" cy="134.03" rx="2.03" ry="1.87" opacity="0.45"/>
<ellipse cx="714.72" cy="83.8" rx="2.14" ry="1.92" opacity="0.62"/>
<ellipse cx="693.87" cy="137.07" rx="1.57" ry="1.45" opacity="0.65"/>
<ellipse cx="669.06" cy="128.07" rx="2.08" ry="1.55" opacity="0.65"/>
<ellipse cx="529.34" cy="153.93" rx="2.05" ry="1.95" opacity="0.47"/>
<ellipse cx="634.38" cy="108.16" rx="1.33" ry="1.01" opacity="0.84"/>
<ellipse cx="696.81" cy="72.92" rx="2.11" ry="1.89" opacity="0.6"/>
<ellipse cx="531.08" cy="134.26" rx="1.84" ry="1.7" opacity="0.65"/>
<ellipse cx="614.64" cy="82.92" rx="2.01" ry="1.63" opacity="0.69"/>
<ellipse cx="678.12" cy="103.17" rx="1.95" ry="1.4" opacity="0.55"/>
<ellipse cx="694.45" cy="59.62" rx="1.26" ry="0.89" opacity="0.76"/>
<ellipse cx="550.01" cy="105.16" rx="1.68" ry="1.58" opacity="0.64"/>
<ellipse cx="631.73" cy="41.64" rx="2.07" ry="1.93" opacity="0.7"/>
<ellipse cx="693.31" cy="128.02" rx="1.99" ry="1.9" opacity="0.7"/>
<ellipse cx="533.09" cy="167.67" rx="2.29" ry="1.74" opacity="0.48"/>
<ellipse cx="595.97" cy="52.68" rx="1.61" ry="1.17" opacity="0.54"/>
<ellipse cx="529.75" cy="100.84" rx="1.53" ry="1.41" opacity="0.61"/>
<ellipse cx="561.76" cy="177.77" rx="2.18" ry="1.98" opacity="0.54"/>
<ellipse cx="608.3" cy="104.12" rx="1.65" ry="1.17" opacity="0.63"/>
<ellipse cx="680.1" cy="139.66" rx="2.15" ry="1.94" opacity="0.76"/>
<ellipse cx="700.37" cy="172.45" rx="2.07" ry="1.71" opacity="0.71"/>
<ellipse cx="658.58" cy="167.41" rx="1.98" ry="1.65" opacity="0.53"/>
<ellipse cx="593.51" cy="74.7" rx="1.95" ry="1.82" opacity="0.53"/>
<ellipse cx="634.03" cy="161.18" rx="1.6" ry="1.17" opacity="0.69"/>
<ellipse cx="530.45" cy="59.83" rx="1.67" ry="1.22" opacity="0.45"/>
<ellipse cx="637.28" cy="178.41" rx="2.12" ry="1.69" opacity="0.82"/>
<ellipse cx="544.8" cy="60.05" rx="1.21" ry="0.87" opacity="0.69"/>
<ellipse cx="678" cy="108.03" rx="2.08" ry="1.74" opacity="0.82"/>
<ellipse cx="648.7" cy="116.72" rx="1.39" ry="1.15" opacity="0.63"/>
<ellipse cx="690.94" cy="71.66" rx="1.52" ry="1.44" opacity="0.48"/>
<ellipse cx="634.72" cy="70.2" rx="1.93" ry="1.7" opacity="0.49"/>
<ellipse cx="672.74" cy="97.71" rx="1.55" ry="1.49" opacity="0.76"/>
<ellipse cx="631.16" cy="50.1" rx="1.9" ry="1.86" opacity="0.7"/>
<ellipse cx="537.1" cy="113.23" rx="1.72" ry="1.43" opacity="0.51"/>
<ellipse cx="583.83" cy="103.9" rx="1.28" ry="1.15" opacity="0.55"/>
<ellipse cx="586.2" cy="51.32" rx="1.53" ry="1.5" opacity="0.57"/>
<ellipse cx="547.97" cy="88.69" rx="2.24" ry="1.63" opacity="0.59"/>
<ellipse cx="570.21" cy="137.95" rx="1.71" ry="1.25" opacity="0.79"/>
<ellipse cx="593.64" cy="138.58" rx="1.7" ry="1.63" opacity="0.47"/>
<ellipse cx="573.96" cy="79.87" rx="1.49" ry="1.41" opacity="0.65"/>
<ellipse cx="597.31" cy="112.31" rx="2.13" ry="1.86" opacity="0.63"/>
<ellipse cx="658.3" cy="128.17" rx="1.65" ry="1.36" opacity="0.5"/>
<ellipse cx="615.47" cy="166.85" rx="1.54" ry="1.24" opacity="0.69"/>
<ellipse cx="673.46" cy="44.07" rx="1.32" ry="1.22" opacity="0.81"/>
<ellipse cx="542.38" cy="49.94" rx="1.89" ry="1.48" opacity="0.71"/>
<ellipse cx="535.83" cy="104.93" rx="1.38" ry="1.1" opacity="0.73"/>
<ellipse cx="629.43" cy="163.11" rx="2.13" ry="1.88" opacity="0.79"/>
<ellipse cx="563.99" cy="107.56" rx="1.55" ry="1.38" opacity="0.49"/>
<ellipse cx="703.23" cy="92.31" rx="2.06" ry="2.03" opacity="0.83"/>
<ellipse cx="605.85" cy="163.62" rx="2.3" ry="1.7" opacity="0.75"/>
<ellipse cx="672.14" cy="105.1" rx="1.51" ry="1.13" opacity="0.61"/>
<ellipse cx="712.4" cy="96.93" rx="1.48" ry="1.31" opacity="0.62"/>
<ellipse cx="649.79" cy="104.63" rx="1.52" ry="1.08" opacity="0.78"/>
<ellipse cx="643.37" cy="111.82" rx="2.19" ry="2.05" opacity="0.57"/>
<ellipse cx="712.85" cy="44.66" rx="1.75" ry="1.37" opacity="0.66"/>
<ellipse cx="538.07" cy="70.87" rx="2.29" ry="2.14" opacity="0.54"/>
<ellipse cx="618.8" cy="42.76" rx="1.33" ry="1.01" opacity="0.84"/>
<ellipse cx="590.43" cy="74.31" rx="1.27" ry="0.93" opacity="0.85"/>
<ellipse cx="674.7" cy="172.92" rx="2.12" ry="1.98" opacity="0.55"/>
<ellipse cx="562.36" cy="77.58" rx="1.27" ry="0.96" opacity="0.74"/>
<ellipse cx="625.69" cy="39.54" rx="1.54" ry="1.47" opacity="0.79"/>
<ellipse cx="672.59" cy="145.23" rx="2.2" ry="1.91" opacity="0.6"/>
<ellipse cx="641.85" cy="79.4" rx="1.24" ry="0.96" opacity="0.63"/>
<ellipse cx="552.74" cy="49.82" rx="1.47" ry="1.19" opacity="0.83"/>
<ellipse cx="624.89" cy="160.7" rx="2.02" ry="1.77" opacity="0.58"/>
<ellipse cx="606.34" cy="84.5" rx="1.9" ry="1.82" opacity="0.77"/>
<ellipse cx="587.18" cy="59.92" rx="1.21" ry="1.06" opacity="0.54"/>
<ellipse cx="530.19" cy="82.28" rx="1.45" ry="1.11" opacity="0.72"/>
<ellipse cx="644.04" cy="79.3" rx="2" ry="1.53" opacity="0.82"/>
<ellipse cx="552.48" cy="124.79" rx="1.98" ry="1.82" opacity="0.64"/>
<ellipse cx="700.53" cy="130.23" rx="1.96" ry="1.42" opacity="0.52"/>
<ellipse cx="620.71" cy="117.93" rx="1.3" ry="1.2" opacity="0.59"/>
<ellipse cx="622.56" cy="114.52" rx="2.12" ry="1.68" opacity="0.67"/>
<ellipse cx="648.19" cy="134.08" rx="1.54" ry="1.21" opacity="0.64"/>
<ellipse cx="647.32" cy="132.51" rx="1.35" ry="1.12" opacity="0.67"/>
<ellipse cx="567.41" cy="52.98" rx="2.22" ry="1.57" opacity="0.65"/>
<ellipse cx="587.06" cy="42.56" rx="1.5" ry="1.12" opacity="0.61"/>
<ellipse cx="708.06" cy="49.64" rx="1.59" ry="1.44" opacity="0.7"/>
<ellipse cx="533.2" cy="71.54" rx="1.51" ry="1.46" opacity="0.63"/>
<ellipse cx="579.76" cy="108.4" rx="1.73" ry="1.29" opacity="0.72"/>
<ellipse cx="670.9" cy="107.97" rx="1.79" ry="1.67" opacity="0.83"/>
<ellipse cx="659.37" cy="86.51" rx="1.95" ry="1.58" opacity="0.7"/>
<ellipse cx="649.91" cy="136.22" rx="2.22" ry="2.02" opacity="0.73"/>
<ellipse cx="651.14" cy="46.94" rx="1.45" ry="1.23" opacity="0.66"/>
<ellipse cx="671.16" cy="150.19" rx="1.71" ry="1.68" opacity="0.63"/>
<ellipse cx="640.52" cy="183.36" rx="1.56" ry="1.42" opacity="0.83"/>
<ellipse cx="545.71" cy="151.94" rx="1.92" ry="1.65" opacity="0.77"/>
<ellipse cx="698.25" cy="59.5" rx="1.74" ry="1.54" opacity="0.73"/>
<ellipse cx="717.63" cy="155.71" rx="2.11" ry="1.52" opacity="0.62"/>
<ellipse cx="708.77" cy="176.7" rx="1.57" ry="1.46" opacity="0.66"/>
<ellipse cx="660.39" cy="131.45" rx="2.15" ry="1.97" opacity="0.84"/>
<ellipse cx="626.18" cy="110.35" rx="1.92" ry="1.67" opacity="0.47"/>
<ellipse cx="717.79" cy="84.73" rx="1.75" ry="1.25" opacity="0.53"/>
<ellipse cx="711.78" cy="78.66" rx="1.53" ry="1.44" opacity="0.55"/>
<ellipse cx="660.39" cy="121.32" rx="2.19" ry="1.84" opacity="0.58"/>
<ellipse cx="580.06" cy="91.34" rx="1.2" ry="0.88" opacity="0.51"/>
<ellipse cx="590.98" cy="150.65" rx="2.24" ry="1.8" opacity="0.55"/>
<ellipse cx="552.21" cy="114.79" rx="1.5" ry="1.11" opacity="0.76"/>
<ellipse cx="549.8" cy="102.4" rx="2.04" ry="1.76" opacity="0.8"/>
<ellipse cx="591.5" cy="176.73" rx="1.25" ry="1.21" opacity="0.62"/>
<ellipse cx="529.71" cy="76.04" rx="2.29" ry="2.09" opacity="0.74"/>
<ellipse cx="688.64" cy="38.94" rx="1.54" ry="1.29" opacity="0.81"/>
<ellipse cx="707.71" cy="59.91" rx="2.29" ry="1.98" opacity="0.57"/>
<ellipse cx="545.36" cy="100.56" rx="1.77" ry="1.48" opacity="0.57"/>
<ellipse cx="715.53" cy="107.68" rx="1.54" ry="1.44" opacity="0.55"/>
<ellipse cx="725.21" cy="129.08" rx="1.78" ry="1.6" opacity="0.72"/>
<ellipse cx="631.64" cy="91.76" rx="1.36" ry="0.97" opacity="0.5"/>
<ellipse cx="608.82" cy="39.5" rx="1.94" ry="1.56" opacity="0.54"/>
<ellipse cx="590.79" cy="110.25" rx="1.43" ry="1.37" opacity="0.64"/>
<ellipse cx="542.6" cy="50.49" rx="2.18" ry="1.9" opacity="0.57"/>
<ellipse cx="669.36" cy="44.74" rx="2.18" ry="2.14" opacity="0.72"/>
<ellipse cx="539.03" cy="100.42" rx="2.12" ry="1.86" opacity="0.53"/>
<ellipse cx="575.21" cy="47.33" rx="1.77" ry="1.34" opacity="0.63"/>
<ellipse cx="683.31" cy="57.65" rx="2.24" ry="2.15" opacity="0.64"/>
<ellipse cx="703.38" cy="81.58" rx="2.28" ry="1.82" opacity="0.82"/>
<ellipse cx="693.76" cy="175" rx="2" ry="1.44" opacity="0.56"/>
<ellipse cx="658.07" cy="171.2" rx="1.95" ry="1.39" opacity="0.59"/>
<ellipse cx="596.98" cy="63.1" rx="1.45" ry="1.24" opacity="0.6"/>
<ellipse cx="581.63" cy="98.41" rx="2.24" ry="1.97" opacity="0.75"/>
<ellipse cx="712.55" cy="42.54" rx="2.17" ry="1.58" opacity="0.53"/>
<ellipse cx="674.54" cy="148.38" rx="1.88" ry="1.58" opacity="0.74"/>
<ellipse cx="551.27" cy="43.38" rx="2.25" ry="2.21" opacity="0.59"/>
<ellipse cx="610.24" cy="78.87" rx="2.06" ry="1.75" opacity="0.52"/>
<ellipse cx="703.01" cy="174.14" rx="1.25" ry="1.05" opacity="0.54"/>
<ellipse cx="654.81" cy="90.59" rx="1.53" ry="1.21" opacity="0.69"/>
<ellipse cx="628.07" cy="109.51" rx="1.95" ry="1.64" opacity="0.83"/>
<ellipse cx="615.38" cy="154.06" rx="2.22" ry="1.97" opacity="0.69"/>
<ellipse cx="684.44" cy="142.36" rx="1.41" ry="1.17" opacity="0.51"/>
<ellipse cx="533.24" cy="138.76" rx="1.56" ry="1.21" opacity="0.46"/>
<ellipse cx="533.54" cy="136.47" rx="1.59" ry="1.32" opacity="0.72"/>
<ellipse cx="707.61" cy="140.76" rx="1.44" ry="1.44" opacity="0.52"/>
<ellipse cx="643.33" cy="132.41" rx="1.52" ry="1.47" opacity="0.69"/>
<ellipse cx="668.75" cy="58.31" rx="1.52" ry="1.34" opacity="0.74"/>
<ellipse cx="592.48" cy="76.88" rx="1.56" ry="1.55" opacity="0.71"/>
<ellipse cx="621.8" cy="120.38" rx="1.92" ry="1.5" opacity="0.48"/>
<ellipse cx="550.57" cy="123.34" rx="1.86" ry="1.85" opacity="0.7"/>
<ellipse cx="696.89" cy="182.67" rx="1.75" ry="1.44" opacity="0.64"/>
<ellipse cx="602.21" cy="149.43" rx="1.83" ry="1.35" opacity="0.83"/>
<ellipse cx="632.65" cy="147.76" rx="1.8" ry="1.58" opacity="0.68"/>
<ellipse cx="551.66" cy="57.18" rx="2" ry="1.61" opacity="0.5"/>
<ellipse cx="689.5" cy="147.65" rx="2.04" ry="1.67" opacity="0.5"/>
<ellipse cx="678.5" cy="69.61" rx="1.93" ry="1.76" opacity="0.56"/>
<ellipse cx="529.53" cy="124.54" rx="2.07" ry="1.81" opacity="0.84"/>
<ellipse cx="574.04" cy="145.18" rx="1.68" ry="1.47" opacity="0.57"/>
<ellipse cx="574.42" cy="118.4" rx="1.87" ry="1.82" opacity="0.69"/>
<ellipse cx="627.39" cy="133.42" rx="1.89" ry="1.55" opacity="0.56"/>
<ellipse cx="663.31" cy="94.71" rx="1.24" ry="0.93" opacity="0.59"/>
<ellipse cx="664.15" cy="134.19" rx="1.74" ry="1.64" opacity="0.58"/>
<ellipse cx="598.15" cy="148.12" rx="1.95" ry="1.61" opacity="0.81"/>
<ellipse cx="534.28" cy="116.63" rx="2.14" ry="2.07" opacity="0.53"/>
<ellipse cx="687.89" cy="116.15" rx="2.23" ry="1.78" opacity="0.72"/>
<ellipse cx="655.36" cy="183.21" rx="1.57" ry="1.29" opacity="0.5"/>
<ellipse cx="663.59" cy="48.32" rx="1.36" ry="1.03" opacity="0.83"/>
<ellipse cx="627.14" cy="148.65" rx="1.58" ry="1.22" opacity="0.6"/>
<ellipse cx="722.41" cy="66.14" rx="2.2" ry="2.12" opacity="0.72"/>
<ellipse cx="581.37" cy="145.09" rx="2.2" ry="1.93" opacity="0.54"/>
<ellipse cx="649.05" cy="178.22" rx="1.85" ry="1.38" opacity="0.53"/>
<ellipse cx="602.68" cy="75.74" rx="1.74" ry="1.26" opacity="0.67"/>
<ellipse cx="661.99" cy="84.47" rx="1.84" ry="1.58" opacity="0.77"/>
<ellipse cx="642.45" cy="131.55" rx="1.82" ry="1.72" opacity="0.49"/>
<ellipse cx="551.52" cy="164.92" rx="2.12" ry="1.49" opacity="0.81"/>
<ellipse cx="648.88" cy="163.5" rx="1.97" ry="1.6" opacity="0.5"/>
<ellipse cx="679.52" cy="142.09" rx="1.72" ry="1.34" opacity="0.6"/>
<ellipse cx="713.21" cy="105.91" rx="1.43" ry="1.43" opacity="0.84"/>
<ellipse cx="563.87" cy="66.86" rx="2" ry="1.63" opacity="0.64"/>
<ellipse cx="663.63" cy="78.05" rx="1.85" ry="1.41" opacity="0.54"/>
<ellipse cx="636.4" cy="100.71" rx="2.18" ry="1.62" opacity="0.82"/>
<ellipse cx="580.61" cy="88.27" rx="1.32" ry="1.05" opacity="0.84"/>
<ellipse cx="600.32" cy="160.55" rx="2.27" ry="2.07" opacity="0.52"/>
<ellipse cx="594.99" cy="62.31" rx="1.95" ry="1.67" opacity="0.57"/>
<ellipse cx="579.19" cy="58.86" rx="1.33" ry="1.1" opacity="0.48"/>
<ellipse cx="631.89" cy="75.43" rx="2.05" ry="1.6" opacity="0.79"/>
<ellipse cx="711.84" cy="107.17" rx="2.17" ry="1.82" opacity="0.67"/>
<ellipse cx="579.99" cy="149.04" rx="1.6" ry="1.55" opacity="0.73"/>
<ellipse cx="613.47" cy="42.56" rx="1.5" ry="1.23" opacity="0.6"/>
<ellipse cx="643.71" cy="38.77" rx="1.71" ry="1.66" opacity="0.83"/>
<ellipse cx="664.56" cy="138.64" rx="1.86" ry="1.86" opacity="0.77"/>
<ellipse cx="619.63" cy="110.65" rx="2.23" ry="1.93" opacity="0.69"/>
<ellipse cx="714.68" cy="184.56" rx="2.25" ry="1.6" opacity="0.48"/>
<ellipse cx="595.81" cy="159.21" rx="1.81" ry="1.41" opacity="0.49"/>
<ellipse cx="578.29" cy="56.66" rx="1.36" ry="1.25" opacity="0.53"/>
<ellipse cx="561.93" cy="128.88" rx="1.34" ry="1.28" opacity="0.71"/>
<ellipse cx="701.76" cy="144.42" rx="2" ry="1.56" opacity="0.62"/>
<ellipse cx="603.82" cy="95.47" rx="2.2" ry="1.83" opacity="0.77"/>
<ellipse cx="642.76" cy="153.72" rx="1.46" ry="1.13" opacity="0.6"/>
<ellipse cx="619.39" cy="99.58" rx="2.22" ry="1.96" opacity="0.56"/>
<ellipse cx="596.78" cy="112.43" rx="1.38" ry="1.13" opacity="0.48"/>
<ellipse cx="658.22" cy="165.14" rx="2.19" ry="1.92" opacity="0.6"/>
<ellipse cx="639.24" cy="119.44" rx="1.39" ry="1.2" opacity="0.65"/>
<ellipse cx="567.91" cy="102.92" rx="2.12" ry="1.89" opacity="0.58"/>
<ellipse cx="587.71" cy="107.07" rx="1.65" ry="1.46" opacity="0.8"/>
<ellipse cx="602.43" cy="116.88" rx="1.82" ry="1.64" opacity="0.55"/>
<ellipse cx="577.67" cy="173.23" rx="1.36" ry="1.23" opacity="0.55"/>
<ellipse cx="625.71" cy="104.17" rx="1.46" ry="1.1" opacity="0.83"/>
<ellipse cx="536.69" cy="58.91" rx="2.01" ry="1.63" opacity="0.53"/>
<ellipse cx="681.8" cy="181.9" rx="1.43" ry="1.3" opacity="0.61"/>
<ellipse cx="725.35" cy="125.48" rx="2.18" ry="1.96" opacity="0.5"/>
<ellipse cx="616" cy="141.41" rx="1.37" ry="0.99" opacity="0.85"/>
<ellipse cx="710.79" cy="133.41" rx="1.27" ry="1.16" opacity="0.85"/>
<ellipse cx="683" cy="142.87" rx="1.68" ry="1.5" opacity="0.82"/>
<ellipse cx="627.35" cy="48.93" rx="1.36" ry="1.34" opacity="0.73"/>
<ellipse cx="713.07" cy="59.69" rx="1.32" ry="1.19" opacity="0.62"/>
<ellipse cx="620.16" cy="72.11" rx="2.04" ry="1.91" opacity="0.74"/>
<ellipse cx="613.65" cy="109.96" rx="1.64" ry="1.37" opacity="0.58"/>
<ellipse cx="621.34" cy="179.07" rx="2.08" ry="1.54" opacity="0.72"/>
<ellipse cx="690.34" cy="88.55" rx="2.18" ry="2.14" opacity="0.48"/>
<ellipse cx="652.07" cy="93.81" rx="1.71" ry="1.48" opacity="0.79"/>
<ellipse cx="653.18" cy="168.23" rx="1.47" ry="1.38" opacity="0.61"/>
<ellipse cx="564.99" cy="155.74" rx="1.84" ry="1.41" opacity="0.81"/>
<ellipse cx="625.8" cy="136.8" rx="2.28" ry="1.82" opacity="0.67"/>
<ellipse cx="636.58" cy="79.83" rx="1.79" ry="1.77" opacity="0.73"/>
<ellipse cx="601.63" cy="136.4" rx="1.61" ry="1.51" opacity="0.61"/>
<ellipse cx="691.21" cy="81.57" rx="1.39" ry="1.11" opacity="0.5"/>
<ellipse cx="701.2" cy="183.96" rx="1.66" ry="1.28" opacity="0.8"/>
<ellipse cx="696.54" cy="73.81" rx="1.54" ry="1.3" opacity="0.5"/>
<ellipse cx="570.57" cy="96.26" rx="1.33" ry="0.99" opacity="0.69"/>
<ellipse cx="588.25" cy="172.2" rx="2.26" ry="2.03" opacity="0.56"/>
<ellipse cx="678.53" cy="87.66" rx="2.16" ry="1.78" opacity="0.73"/>
<ellipse cx="676.79" cy="141" rx="2.03" ry="1.63" opacity="0.51"/>
<ellipse cx="601.58" cy="178.53" rx="1.24" ry="0.97" opacity="0.57"/>
<ellipse cx="615.71" cy="165.64" rx="1.39" ry="1.02" opacity="0.46"/>
<ellipse cx="595.93" cy="144.51" rx="1.7" ry="1.52" opacity="0.66"/>
<ellipse cx="600" cy="97.74" rx="1.24" ry="1.23" opacity="0.74"/>
<ellipse cx="548.29" cy="67.75" rx="2.06" ry="1.76" opacity="0.75"/>
<ellipse cx="676.96" cy="59.33" rx="2.1" ry="1.6" opacity="0.51"/>
<ellipse cx="676.09" cy="157.51" rx="1.53" ry="1.25" opacity="0.74"/>
<ellipse cx="586.97" cy="103.21" rx="2.29" ry="1.69" opacity="0.83"/>
<ellipse cx="703.62" cy="184.13" rx="1.47" ry="1.12" opacity="0.63"/>
<ellipse cx="562.74" cy="173.55" rx="1.83" ry="1.74" opacity="0.65"/>
<ellipse cx="627.18" cy="178.13" rx="1.34" ry="1.03" opacity="0.79"/>
<ellipse cx="644.98" cy="152.64" rx="2.29" ry="2.14" opacity="0.69"/>
<ellipse cx="676.9" cy="116.02" rx="1.44" ry="1.15" opacity="0.82"/>
<ellipse cx="632.66" cy="42.71" rx="1.91" ry="1.9" opacity="0.7"/>
<ellipse cx="625.91" cy="104.84" rx="1.89" ry="1.67" opacity="0.65"/>
<ellipse cx="706.81" cy="168.01" rx="2" ry="1.83" opacity="0.53"/>
<ellipse cx="625.59" cy="77.09" rx="1.43" ry="1.4" opacity="0.54"/>
<ellipse cx="689.41" cy="160.26" rx="1.65" ry="1.16" opacity="0.52"/>
<ellipse cx="656.05" cy="141.99" rx="1.59" ry="1.4" opacity="0.52"/>
<ellipse cx="658.49" cy="152.6" rx="2.06" ry="1.79" opacity="0.68"/>
<ellipse cx="529.51" cy="77.06" rx="1.65" ry="1.19" opacity="0.48"/>
<ellipse cx="717.41" cy="138.2" rx="1.82" ry="1.65" opacity="0.8"/>
<ellipse cx="653.99" cy="100.6" rx="1.63" ry="1.62" opacity="0.83"/>
<ellipse cx="558.97" cy="157.97" rx="1.91" ry="1.53" opacity="0.73"/>
<ellipse cx="583.11" cy="147.3" rx="1.81" ry="1.59" opacity="0.47"/>
<ellipse cx="706.77" cy="178.15" rx="1.52" ry="1.4" opacity="0.5"/>
<ellipse cx="636.6" cy="88.63" rx="1.72" ry="1.35" opacity="0.48"/>
<ellipse cx="614.69" cy="72.82" rx="1.39" ry="1.11" opacity="0.5"/>
<ellipse cx="533.45" cy="180.76" rx="1.26" ry="1.22" opacity="0.62"/>
<ellipse cx="552.82" cy="100.89" rx="1.76" ry="1.26" opacity="0.67"/>
<ellipse cx="530.55" cy="81.78" rx="1.98" ry="1.89" opacity="0.52"/>
<ellipse cx="609.1" cy="176.89" rx="1.55" ry="1.14" opacity="0.55"/>
<ellipse cx="699.36" cy="88.54" rx="1.93" ry="1.9" opacity="0.7"/>
<ellipse cx="567.95" cy="108.49" rx="1.56" ry="1.31" opacity="0.7"/>
<ellipse cx="721.09" cy="138.96" rx="1.76" ry="1.66" opacity="0.65"/>
<ellipse cx="567.11" cy="136.26" rx="1.5" ry="1.14" opacity="0.61"/>
<ellipse cx="624.47" cy="42.73" rx="1.6" ry="1.58" opacity="0.65"/>
<ellipse cx="601.48" cy="104.98" rx="1.97" ry="1.67" opacity="0.61"/>
<ellipse cx="643.3" cy="78.38" rx="1.95" ry="1.61" opacity="0.73"/>
<ellipse cx="597.58" cy="131.6" rx="1.42" ry="1.2" opacity="0.65"/>
<ellipse cx="532.09" cy="56.52" rx="1.71" ry="1.59" opacity="0.77"/>
<ellipse cx="695.1" cy="156.17" rx="2.26" ry="1.72" opacity="0.51"/>
<ellipse cx="556.37" cy="154.19" rx="1.41" ry="1.12" opacity="0.51"/>
<ellipse cx="707.87" cy="68.7" rx="1.46" ry="1.28" opacity="0.73"/>
<ellipse cx="536.66" cy="123.01" rx="1.78" ry="1.54" opacity="0.66"/>
<ellipse cx="686" cy="158.58" rx="2.15" ry="1.72" opacity="0.47"/>
<ellipse cx="621.68" cy="41.89" rx="1.9" ry="1.6" opacity="0.75"/>
<ellipse cx="693" cy="145.39" rx="1.96" ry="1.57" opacity="0.74"/>
<ellipse cx="654.87" cy="70.11" rx="1.72" ry="1.48" opacity="0.53"/>
<ellipse cx="692.59" cy="107.45" rx="2.02" ry="1.92" opacity="0.66"/>
<ellipse cx="644.21" cy="105.93" rx="1.46" ry="1.37" opacity="0.82"/>
<ellipse cx="535.94" cy="42.85" rx="1.72" ry="1.24" opacity="0.63"/>
<ellipse cx="596.34" cy="73.32" rx="2.05" ry="1.8" opacity="0.82"/>
<ellipse cx="567.34" cy="93.78" rx="1.88" ry="1.75" opacity="0.62"/>
<ellipse cx="565.69" cy="94.53" rx="1.82" ry="1.81" opacity="0.71"/>
<ellipse cx="695.21" cy="160.23" rx="1.67" ry="1.42" opacity="0.78"/>
<ellipse cx="671.36" cy="96.59" rx="1.41" ry="1.29" opacity="0.57"/>
<ellipse cx="581.19" cy="74.78" rx="1.96" ry="1.75" opacity="0.82"/>
<ellipse cx="645.06" cy="108.88" rx="2.17" ry="1.61" opacity="0.69"/>
<ellipse cx="723.31" cy="86.83" rx="1.37" ry="1" opacity="0.46"/>
<ellipse cx="673.15" cy="98.47" rx="2.1" ry="2" opacity="0.46"/>
<ellipse cx="589.4" cy="76.68" rx="1.49" ry="1.06" opacity="0.55"/>
<ellipse cx="595.95" cy="104.34" rx="1.78" ry="1.78" opacity="0.49"/>
<ellipse cx="555.49" cy="170.42" rx="1.52" ry="1.31" opacity="0.57"/>
<ellipse cx="547.6" cy="92.47" rx="1.97" ry="1.72" opacity="0.56"/>
<ellipse cx="607.18" cy="47.03" rx="1.64" ry="1.56" opacity="0.6"/>
<ellipse cx="620.81" cy="62.6" rx="1.98" ry="1.64" opacity="0.6"/>
<ellipse cx="681.21" cy="81.5" rx="1.29" ry="1.15" opacity="0.75"/>
<ellipse cx="539.52" cy="88.6" rx="2.17" ry="1.85" opacity="0.61"/>
<ellipse cx="554.7" cy="80.26" rx="1.85" ry="1.8" opacity="0.71"/>
<ellipse cx="719.61" cy="97.74" rx="1.28" ry="1.02" opacity="0.6"/>
<ellipse cx="540.31" cy="49.94" rx="2.2" ry="2.13" opacity="0.5"/>
<ellipse cx="545.25" cy="181.75" rx="1.38" ry="1.09" opacity="0.54"/>
<ellipse cx="570.1" cy="42.57" rx="1.71" ry="1.59" opacity="0.48"/>
<ellipse cx="625.77" cy="57.39" rx="2.07" ry="2.01" opacity="0.8"/>
<ellipse cx="634.06" cy="58.77" rx="1.99" ry="1.43" opacity="0.76"/>
<ellipse cx="588.04" cy="168.8" rx="1.51" ry="1.4" opacity="0.65"/>
<ellipse cx="576.16" cy="110.01" rx="1.67" ry="1.25" opacity="0.67"/>
<ellipse cx="633.79" cy="140.61" rx="1.57" ry="1.39" opacity="0.53"/>
<ellipse cx="631.81" cy="73.16" rx="2.06" ry="1.56" opacity="0.57"/>
<ellipse cx="542.84" cy="81.87" rx="1.8" ry="1.38" opacity="0.5"/>
<ellipse cx="704.82" cy="83.51" rx="1.44" ry="1.18" opacity="0.79"/>
<ellipse cx="675.95" cy="170.32" rx="1.8" ry="1.44" opacity="0.65"/>
<ellipse cx="540.6" cy="138.04" rx="2.12" ry="2.07" opacity="0.78"/>
<ellipse cx="656.38" cy="155.89" rx="1.52" ry="1.32" opacity="0.52"/>
<ellipse cx="713.27" cy="113.1" rx="1.39" ry="1.39" opacity="0.7"/>
<ellipse cx="570.88" cy="161.97" rx="1.89" ry="1.67" opacity="0.8"/>
<ellipse cx="591.24" cy="78.71" rx="1.83" ry="1.39" opacity="0.73"/>
<ellipse cx="622.93" cy="67.37" rx="1.34" ry="1" opacity="0.68"/>
<ellipse cx="708.96" cy="154.83" rx="2.13" ry="1.86" opacity="0.77"/>
<ellipse cx="594.08" cy="91.94" rx="2.19" ry="1.71" opacity="0.7"/>
<ellipse cx="640.73" cy="45.64" rx="1.82" ry="1.71" opacity="0.81"/>
<ellipse cx="611.44" cy="169.74" rx="1.24" ry="1.21" opacity="0.72"/>
<ellipse cx="688.53" cy="103.66" rx="1.85" ry="1.75" opacity="0.54"/>
<ellipse cx="565.17" cy="148.41" rx="2.16" ry="1.66" opacity="0.67"/>
<ellipse cx="628.95" cy="83.57" rx="2.13" ry="1.67" opacity="0.76"/>
<ellipse cx="610.18" cy="59.48" rx="1.36" ry="1" opacity="0.46"/>
<ellipse cx="598.08" cy="41.91" rx="1.37" ry="1.35" opacity="0.55"/>
<ellipse cx="530.49" cy="55.88" rx="2.25" ry="1.88" opacity="0.55"/>
<ellipse cx="538.34" cy="132.05" rx="1.55" ry="1.17" opacity="0.62"/>
<ellipse cx="668.99" cy="88.09" rx="1.82" ry="1.37" opacity="0.67"/>
<ellipse cx="537.39" cy="173.27" rx="2.22" ry="1.94" opacity="0.64"/>
<ellipse cx="607.23" cy="147.79" rx="1.84" ry="1.68" opacity="0.63"/>
<ellipse cx="607.78" cy="143.99" rx="1.4" ry="1.12" opacity="0.55"/>
<ellipse cx="569.6" cy="164.57" rx="1.54" ry="1.42" opacity="0.47"/>
<ellipse cx="710.96" cy="106.71" rx="2.02" ry="1.48" opacity="0.69"/>
<ellipse cx="688.78" cy="80.37" rx="1.3" ry="1.06" opacity="0.76"/>
<ellipse cx="678.97" cy="47.41" rx="1.56" ry="1.52" opacity="0.57"/>
<ellipse cx="546.05" cy="165.29" rx="2.1" ry="1.75" opacity="0.73"/>
<ellipse cx="676.84" cy="160.66" rx="1.41" ry="1.29" opacity="0.82"/>
<ellipse cx="684.25" cy="114.53" rx="1.63" ry="1.62" opacity="0.85"/>
<ellipse cx="687.38" cy="112.25" rx="2.18" ry="2.1" opacity="0.65"/>
<ellipse cx="555.06" cy="127.75" rx="1.35" ry="1.08" opacity="0.68"/>
<ellipse cx="627.81" cy="132.42" rx="2.1" ry="2.07" opacity="0.57"/>
<ellipse cx="716.78" cy="85.28" rx="1.58" ry="1.47" opacity="0.84"/>
<ellipse cx="628.84" cy="154.66" rx="2.11" ry="1.68" opacity="0.7"/>
<ellipse cx="713.67" cy="40.98" rx="1.34" ry="1.29" opacity="0.68"/>
<ellipse cx="611.66" cy="154.28" rx="1.69" ry="1.25" opacity="0.59"/>
<ellipse cx="678.71" cy="132.08" rx="1.74" ry="1.23" opacity="0.85"/>
<ellipse cx="544.63" cy="78.78" rx="2.07" ry="2.03" opacity="0.73"/>
<ellipse cx="604.25" cy="147.43" rx="1.93" ry="1.69" opacity="0.76"/>
<ellipse cx="637.83" cy="116.89" rx="1.48" ry="1.39" opacity="0.49"/>
<ellipse cx="547.81" cy="130.28" rx="1.25" ry="1.2" opacity="0.53"/>
<ellipse cx="620.97" cy="76.11" rx="1.73" ry="1.53" opacity="0.53"/>
<ellipse cx="636.08" cy="180.62" rx="1.36" ry="1.04" opacity="0.53"/>
<ellipse cx="550.09" cy="39.8" rx="2.25" ry="2.23" opacity="0.47"/>
<ellipse cx="693" cy="122.88" rx="1.43" ry="1.38" opacity="0.5"/>
<ellipse cx="655.02" cy="136.58" rx="1.97" ry="1.52" opacity="0.51"/>
<ellipse cx="653.22" cy="81.07" rx="1.87" ry="1.72" opacity="0.46"/>
<ellipse cx="671.81" cy="181.51" rx="1.64" ry="1.43" opacity="0.58"/>
<ellipse cx="702.2" cy="70.6" rx="1.31" ry="1.11" opacity="0.63"/>
<ellipse cx="641.24" cy="67.9" rx="1.79" ry="1.46" opacity="0.75"/>
<ellipse cx="536.67" cy="173.03" rx="2.12" ry="1.65" opacity="0.63"/>
<ellipse cx="536.78" cy="154.21" rx="2.27" ry="2" opacity="0.84"/>
<ellipse cx="621.99" cy="165.26" rx="2.13" ry="2.08" opacity="0.63"/>
<ellipse cx="629.13" cy="43.11" rx="2.25" ry="1.63" opacity="0.68"/>
<ellipse cx="588.1" cy="39.34" rx="1.64" ry="1.34" opacity="0.74"/>
<ellipse cx="666.7" cy="176.97" rx="2.16" ry="1.68" opacity="0.69"/>
<ellipse cx="665.37" cy="153.64" rx="1.35" ry="1.08" opacity="0.7"/>
<ellipse cx="591.06" cy="172.24" rx="1.66" ry="1.51" opacity="0.48"/>
<ellipse cx="705.72" cy="180.6" rx="1.58" ry="1.5" opacity="0.84"/>
<ellipse cx="550.15" cy="48.87" rx="1.93" ry="1.92" opacity="0.46"/>
<ellipse cx="693.9" cy="134.78" rx="1.72" ry="1.28" opacity="0.65"/>
<ellipse cx="627.15" cy="67.53" rx="2.19" ry="2.02" opacity="0.52"/>
<ellipse cx="651.35" cy="125.68" rx="2.23" ry="2.22" opacity="0.81"/>
<ellipse cx="539.81" cy="99.74" rx="1.37" ry="1.27" opacity="0.48"/>
<ellipse cx="692.06" cy="128.27" rx="1.91" ry="1.87" opacity="0.8"/>
<ellipse cx="673.1" cy="130.05" rx="1.8" ry="1.54" opacity="0.46"/>
<ellipse cx="567.66" cy="138.97" rx="1.66" ry="1.38" opacity="0.79"/>
<ellipse cx="605.07" cy="144.73" rx="2.08" ry="1.98" opacity="0.54"/>
<ellipse cx="648.6" cy="106.46" rx="1.85" ry="1.34" opacity="0.53"/>
<ellipse cx="577.4" cy="152.97" rx="2.06" ry="1.68" opacity="0.69"/>
<ellipse cx="615.75" cy="116.77" rx="1.49" ry="1.2" opacity="0.83"/>
<ellipse cx="703.15" cy="55.78" rx="1.33" ry="1.28" opacity="0.63"/>
<ellipse cx="655" cy="126.42" rx="1.86" ry="1.81" opacity="0.51"/>
<ellipse cx="698.39" cy="76.11" rx="1.28" ry="1.01" opacity="0.66"/>
<ellipse cx="686.94" cy="123.06" rx="2.27" ry="1.72" opacity="0.6"/>
<ellipse cx="641.97" cy="124.61" rx="1.97" ry="1.67" opacity="0.49"/>
<ellipse cx="682.91" cy="154.46" rx="1.28" ry="1.21" opacity="0.45"/>
<ellipse cx="663.7" cy="129.26" rx="1.53" ry="1.11" opacity="0.55"/>
<ellipse cx="652.04" cy="116.25" rx="2.09" ry="1.57" opacity="0.7"/>
<ellipse cx="588.8" cy="44.26" rx="1.41" ry="1.03" opacity="0.51"/>
<ellipse cx="536.53" cy="181.06" rx="1.6" ry="1.48" opacity="0.62"/>
<ellipse cx="629.62" cy="74.9" rx="2.24" ry="1.71" opacity="0.83"/>
<ellipse cx="682.47" cy="164.63" rx="1.31" ry="1.3" opacity="0.71"/>
<ellipse cx="643.06" cy="121.17" rx="1.69" ry="1.67" opacity="0.84"/>
<ellipse cx="716.42" cy="58.73" rx="1.78" ry="1.62" opacity="0.52"/>
<ellipse cx="704.32" cy="148.28" rx="1.33" ry="1.05" opacity="0.72"/>
<ellipse cx="702.5" cy="184.33" rx="1.5" ry="1.43" opacity="0.68"/>
<ellipse cx="600.33" cy="73.22" rx="1.32" ry="0.93" opacity="0.62"/>
<ellipse cx="552.89" cy="67.88" rx="1.55" ry="1.15" opacity="0.53"/>
<ellipse cx="579.51" cy="181" rx="1.67" ry="1.48" opacity="0.67"/>
<ellipse cx="717.88" cy="159.09" rx="2.22" ry="2.13" opacity="0.75"/>
<ellipse cx="701.43" cy="86.69" rx="1.87" ry="1.49" opacity="0.82"/>
<ellipse cx="581.78" cy="184.56" rx="1.46" ry="1.17" opacity="0.75"/>
<ellipse cx="701.38" cy="68.38" rx="1.76" ry="1.68" opacity="0.64"/>
<ellipse cx="622.9" cy="62.04" rx="2.23" ry="1.96" opacity="0.72"/>
<ellipse cx="606.49" cy="142.33" rx="1.62" ry="1.22" opacity="0.59"/>
<ellipse cx="678.94" cy="164.64" rx="1.77" ry="1.59" opacity="0.82"/>
<ellipse cx="656.97" cy="181.08" rx="1.48" ry="1.42" opacity="0.75"/>
<ellipse cx="641.32" cy="124.87" rx="1.38" ry="0.98" opacity="0.46"/>
<ellipse cx="704.35" cy="96.37" rx="1.86" ry="1.55" opacity="0.8"/>
<ellipse cx="674.09" cy="92.85" rx="1.9" ry="1.45" opacity="0.83"/>
<ellipse cx="560.58" cy="171.65" rx="1.79" ry="1.33" opacity="0.84"/>
<ellipse cx="568.22" cy="137.45" rx="1.49" ry="1.1" opacity="0.77"/>
<ellipse cx="704.22" cy="168.77" rx="1.94" ry="1.73" opacity="0.51"/>
<ellipse cx="725.42" cy="86.05" rx="1.9" ry="1.35" opacity="0.58"/>
<ellipse cx="631.93" cy="107.45" rx="1.65" ry="1.35" opacity="0.46"/>
<ellipse cx="656.18" cy="90" rx="1.32" ry="1.07" opacity="0.72"/>
<ellipse cx="675.39" cy="98.93" rx="1.33" ry="1.18" opacity="0.69"/>
<ellipse cx="624.21" cy="180.18" rx="1.6" ry="1.37" opacity="0.46"/>
<ellipse cx="555.25" cy="66.48" rx="1.41" ry="1.06" opacity="0.49"/>
<ellipse cx="709.95" cy="124.1" rx="1.74" ry="1.51" opacity="0.56"/>
<ellipse cx="699.52" cy="145.87" rx="1.67" ry="1.18" opacity="0.45"/>
<ellipse cx="536.05" cy="144.41" rx="1.23" ry="1.03" opacity="0.66"/>
<ellipse cx="602" cy="81.59" rx="2.23" ry="2.2" opacity="0.75"/>
<ellipse cx="634.77" cy="177.55" rx="1.97" ry="1.52" opacity="0.51"/>
<ellipse cx="557.77" cy="53.22" rx="1.63" ry="1.44" opacity="0.53"/>
<ellipse cx="545.12" cy="87.4" rx="1.7" ry="1.64" opacity="0.81"/>
</g>
<g fill="none" stroke="#2c9c4a" stroke-width="0.55" opacity="0.42" filter="url(#b06)">
<path d="M524.48 192.18C525.4 190.6 528.0 185.9 530.1 182.9C532.1 179.9 535.0 177.4 536.7 174.3C538.4 171.2 539.5 167.6 540.5 164.1C541.5 160.7 542.1 157.1 542.9 153.5C543.7 150.0 544.2 146.4 545.3 142.9C546.4 139.5 548.3 135.7 549.6 133.0C551.0 130.3 551.9 128.6 553.1 126.5C554.4 124.3 555.5 122.1 556.9 120.1C558.3 118.0 559.9 116.1 561.4 114.2C563.0 112.2 564.8 110.5 566.3 108.5C567.7 106.5 568.9 104.4 570.0 102.1C571.1 99.9 572.3 96.4 572.8 95.3"/>
<path d="M520.07 177.63C521.3 176.9 525.1 174.7 527.4 173.0C529.6 171.2 531.8 169.2 533.7 167.0C535.6 164.9 537.2 162.4 538.8 160.0C540.4 157.6 542.2 155.2 543.5 152.6C544.7 150.0 544.9 146.9 546.2 144.3C547.5 141.7 549.7 139.6 551.3 137.1C552.9 134.6 554.2 132.0 555.8 129.5C557.3 127.1 559.0 124.7 560.4 122.1C561.8 119.6 563.5 115.5 564.2 114.2"/>
<path d="M554.22 207.4C554.2 205.8 553.7 200.9 554.1 197.8C554.5 194.6 556.0 191.6 556.5 188.4C557.0 185.3 556.5 182.0 557.0 178.8C557.4 175.6 558.4 172.5 559.3 169.4C560.3 166.4 561.6 163.4 562.7 160.4C563.7 157.4 564.5 154.5 565.6 151.7C566.8 148.8 568.3 146.1 569.5 143.3C570.7 140.5 571.5 137.4 572.9 134.7C574.3 132.0 576.0 129.4 577.9 127.0C579.8 124.6 582.5 122.9 584.5 120.6C586.4 118.2 587.7 115.3 589.7 112.9C591.6 110.5 594.1 108.7 596.0 106.2C597.9 103.8 600.0 99.7 600.9 98.4"/>
<path d="M577.93 75.66C578.7 74.5 581.1 71.0 582.3 68.5C583.5 66.0 583.9 63.1 585.2 60.6C586.5 58.2 588.8 56.2 590.0 53.8C591.3 51.3 592.0 48.8 592.8 45.8C593.6 42.9 594.2 39.3 594.9 36.1C595.5 32.8 595.9 29.5 596.8 26.3C597.7 23.1 599.7 20.2 600.5 17.0C601.2 13.9 601.4 10.4 601.5 7.1C601.6 3.8 601.3 0.5 601.0 -2.8C600.6 -6.1 599.8 -9.4 599.5 -12.7C599.3 -16.0 599.4 -21.0 599.3 -22.6"/>
<path d="M559.42 134.54C560.6 134.1 564.2 132.9 566.5 132.0C568.8 131.1 571.2 130.2 573.4 129.0C575.6 127.8 577.6 126.3 579.7 124.8C581.7 123.4 583.6 122.0 585.8 120.4C587.9 118.9 590.6 117.5 592.6 115.6C594.7 113.8 596.3 111.4 597.9 109.2C599.6 106.9 600.9 104.4 602.6 102.2C604.2 100.0 606.3 98.0 608.0 95.9C609.8 93.7 611.8 91.7 613.2 89.3C614.6 86.9 615.8 82.8 616.3 81.5"/>
<path d="M553.7 59.15C555.3 59.8 560.1 62.0 563.3 63.3C566.6 64.6 570.1 65.4 573.1 67.0C576.2 68.6 579.1 70.6 581.7 72.9C584.3 75.2 586.6 78.0 588.8 80.7C591.0 83.3 593.1 86.2 595.2 89.0C597.2 91.7 599.0 94.5 601.2 97.0C603.4 99.6 606.4 101.5 608.5 104.1C610.6 106.7 611.7 110.0 613.7 112.7C615.8 115.4 618.2 117.7 620.6 120.1C623.0 122.4 625.9 124.3 628.2 126.8C630.4 129.2 631.9 132.4 634.1 134.9C636.3 137.5 638.7 139.9 641.2 142.1C643.7 144.3 648.0 147.1 649.4 148.0"/>
<path d="M532.75 159.49C532.5 158.1 531.4 154.1 531.1 151.4C530.8 148.7 530.6 145.9 530.8 143.2C531.1 140.5 531.7 137.8 532.5 135.2C533.3 132.6 534.4 130.0 535.7 127.6C537.0 125.2 538.3 122.7 540.0 120.6C541.8 118.5 543.9 116.7 546.1 115.1C548.4 113.5 551.0 112.5 553.3 110.9C555.6 109.4 558.1 107.9 560.0 105.9C561.9 104.0 563.1 101.3 564.9 99.2C566.7 97.2 569.1 95.6 571.0 93.6C572.9 91.6 575.5 88.3 576.4 87.2"/>
<path d="M571.06 141.98C571.6 140.7 572.9 136.9 574.3 134.6C575.6 132.2 577.8 130.4 579.0 128.0C580.3 125.7 581.0 123.0 582.0 120.5C583.0 118.0 583.5 115.3 585.1 113.1C586.7 110.8 589.5 109.3 591.4 107.3C593.4 105.2 595.3 103.0 596.9 100.6C598.5 98.3 599.9 95.7 601.0 93.1C602.1 90.5 602.6 87.6 603.4 84.9C604.3 82.1 605.5 79.5 606.2 76.7C606.9 74.0 606.8 71.0 607.5 68.3C608.2 65.5 609.9 61.5 610.3 60.2"/>
<path d="M564.22 196.8C565.0 195.4 567.9 191.5 569.2 188.6C570.5 185.8 570.7 182.4 571.9 179.5C573.1 176.5 574.8 173.7 576.5 171.0C578.2 168.4 580.1 165.8 582.1 163.4C584.2 160.9 586.4 158.5 588.6 156.1C590.8 153.7 593.1 151.4 595.4 149.1C597.7 146.9 600.1 144.6 602.5 142.5C605.0 140.4 608.8 137.3 610.0 136.3"/>
<path d="M523.41 39.32C524.5 40.5 527.7 43.9 529.8 46.2C531.9 48.6 533.9 51.0 536.0 53.3C538.0 55.7 540.1 58.0 542.1 60.4C544.1 62.8 546.1 65.3 547.9 67.8C549.8 70.3 551.4 73.0 553.3 75.5C555.3 78.0 557.7 79.8 559.5 82.6C561.2 85.4 562.1 89.2 563.8 92.3C565.5 95.3 567.3 98.5 569.5 101.2C571.7 103.9 574.9 105.7 577.2 108.4C579.5 111.1 581.5 114.1 583.2 117.1C584.9 120.2 586.2 123.5 587.4 126.8C588.6 130.1 589.2 133.7 590.5 136.9C591.7 140.2 594.0 143.1 595.2 146.4C596.3 149.7 597.2 155.0 597.6 156.7"/>
<path d="M505.53 154.26C506.6 153.6 509.8 151.5 512.1 150.4C514.4 149.3 517.0 148.8 519.3 147.6C521.5 146.4 523.4 144.4 525.7 143.3C528.0 142.3 530.5 141.5 533.0 141.1C535.5 140.7 538.1 141.1 540.7 141.0C543.3 140.9 545.6 140.8 548.4 140.7C551.2 140.6 554.5 140.9 557.5 140.4C560.4 139.8 563.1 138.1 566.1 137.4C569.0 136.8 572.2 137.1 575.1 136.6C578.1 136.0 581.1 135.1 583.9 134.0C586.7 132.9 590.7 130.7 592.0 130.0"/>
<path d="M564.73 74.49C565.0 75.8 565.7 79.9 566.3 82.5C567.0 85.1 567.6 87.8 568.8 90.3C569.9 92.7 571.2 94.7 573.1 97.2C574.9 99.8 577.4 103.2 580.0 105.7C582.6 108.3 586.0 110.0 588.7 112.5C591.4 114.9 593.6 117.9 596.3 120.4C599.0 122.9 603.5 126.1 604.9 127.2"/>
<path d="M521.95 119.58C522.9 118.1 525.5 113.7 527.4 110.8C529.4 108.0 531.8 105.5 533.7 102.7C535.7 99.8 537.5 96.6 538.9 93.8C540.3 90.9 541.1 88.2 542.2 85.5C543.2 82.7 544.5 80.0 545.4 77.2C546.3 74.4 546.7 71.4 547.4 68.6C548.0 65.7 549.0 62.8 549.4 59.9C549.9 57.0 550.2 54.0 550.0 51.0C549.8 48.1 548.5 45.3 548.3 42.3C548.1 39.4 548.5 36.4 548.7 33.4C548.9 30.5 549.5 26.1 549.7 24.6"/>
<path d="M513.95 122.19C515.4 122.3 519.8 122.6 522.8 122.8C525.7 123.0 528.7 123.4 531.6 123.1C534.5 122.9 537.6 121.6 540.2 121.2C542.9 120.9 545.0 121.2 547.3 121.0C549.7 120.8 552.0 120.2 554.4 119.9C556.7 119.6 559.1 119.8 561.5 119.3C563.8 118.9 565.9 117.8 568.2 117.3C570.5 116.7 572.9 116.5 575.3 116.2C577.6 115.9 580.0 115.4 582.3 115.4C584.7 115.3 588.2 115.9 589.4 116.0"/>
<path d="M587.3 187.18C587.2 185.9 586.6 182.0 586.7 179.5C586.9 176.9 587.5 174.4 588.0 171.8C588.5 169.3 589.4 166.9 589.9 164.3C590.3 161.8 590.3 159.2 590.5 156.6C590.8 154.1 590.7 151.4 591.2 148.9C591.6 146.4 592.1 144.0 593.2 141.5C594.4 139.0 596.4 136.3 598.3 134.0C600.3 131.7 602.9 130.0 604.9 127.8C607.0 125.6 609.1 123.3 610.6 120.8C612.2 118.2 613.1 115.3 614.1 112.4C615.0 109.6 615.3 106.5 616.2 103.6C617.0 100.7 618.7 96.5 619.2 95.1"/>
<path d="M522.14 136.37C523.5 135.3 527.5 132.0 530.3 130.0C533.1 127.9 535.9 125.9 538.9 124.1C541.9 122.4 545.4 121.4 548.3 119.5C551.1 117.6 553.8 115.2 556.0 112.6C558.2 110.0 559.8 106.3 561.5 103.7C563.1 101.2 564.7 99.6 566.1 97.3C567.4 95.1 568.6 92.7 569.7 90.3C570.8 87.9 572.0 85.5 572.8 83.0C573.6 80.6 574.0 77.9 574.6 75.4C575.2 72.8 575.9 70.2 576.4 67.7C576.9 65.1 577.6 62.5 577.8 59.9C578.0 57.3 577.3 54.6 577.6 52.0C577.9 49.4 579.2 45.6 579.5 44.3"/>
<path d="M585.55 207.48C586.1 206.1 587.9 202.1 588.9 199.3C589.8 196.5 590.2 193.5 591.2 190.7C592.1 187.9 594.2 185.6 594.7 182.6C595.2 179.5 593.8 175.7 594.0 172.4C594.3 169.0 595.8 165.8 596.3 162.4C596.7 159.1 596.3 155.6 596.7 152.2C597.2 148.9 598.5 143.9 598.9 142.3"/>
<path d="M515.94 160.54C517.0 159.8 520.1 157.5 522.4 156.4C524.7 155.3 527.1 154.3 529.6 153.7C532.0 153.1 534.7 153.3 537.2 152.8C539.7 152.2 541.9 151.5 544.5 150.7C547.2 149.8 550.0 148.4 552.9 147.7C555.7 147.0 558.7 146.5 561.6 146.4C564.6 146.3 567.5 146.8 570.4 147.2C573.4 147.6 576.2 148.6 579.2 148.7C582.1 148.8 585.0 148.2 588.0 147.9C590.9 147.6 593.8 146.9 596.8 146.9C599.7 146.9 604.1 147.8 605.5 148.0"/>
<path d="M550.12 119.61C550.4 118.2 550.8 114.0 551.6 111.3C552.5 108.7 554.4 106.4 555.3 103.7C556.1 101.1 555.8 98.1 556.6 95.4C557.4 92.8 558.9 90.3 560.0 87.8C561.2 85.2 562.2 82.6 563.3 80.0C564.5 77.5 565.7 74.8 567.1 72.5C568.4 70.1 570.3 68.2 571.5 65.8C572.7 63.5 573.0 60.7 574.1 58.3C575.2 55.9 576.7 53.6 577.9 51.2C579.0 48.8 580.5 45.1 581.0 43.9"/>
<path d="M489.8 86.75C491.2 86.5 495.3 85.7 497.9 85.0C500.6 84.3 503.2 82.9 505.9 82.4C508.6 82.0 511.5 82.6 514.2 82.2C516.9 81.8 519.7 81.0 522.2 79.9C524.7 78.8 526.9 76.9 529.3 75.5C531.8 74.1 534.2 72.5 536.8 71.4C539.4 70.3 542.2 69.4 545.0 68.9C547.8 68.5 550.8 69.1 553.6 68.8C556.4 68.4 560.5 67.0 561.9 66.7"/>
<path d="M531.42 96.36C532.1 95.3 533.9 91.9 535.4 89.9C536.8 87.8 538.7 86.1 540.2 84.0C541.6 81.9 543.0 79.8 544.0 77.5C545.0 75.1 545.2 72.5 546.0 70.1C546.8 67.7 547.4 65.2 548.6 63.0C549.7 60.8 551.5 58.9 552.9 56.8C554.3 54.6 556.0 52.4 557.2 50.0C558.3 47.6 558.7 44.8 560.0 42.5C561.3 40.2 563.2 38.3 564.9 36.2C566.6 34.2 568.2 32.0 570.1 30.1C572.0 28.3 574.1 26.6 576.3 25.2C578.6 23.7 581.0 22.5 583.4 21.4C585.8 20.3 589.7 19.2 590.9 18.8"/>
<path d="M584.54 171.99C584.7 170.4 584.9 165.6 585.5 162.5C586.1 159.4 587.4 156.4 588.2 153.3C589.1 150.2 589.4 147.0 590.4 144.0C591.3 141.0 592.5 137.7 594.0 135.1C595.6 132.6 598.0 131.2 599.6 128.9C601.1 126.7 602.1 124.0 603.4 121.6C604.7 119.1 606.2 116.8 607.3 114.3C608.4 111.8 609.0 109.0 610.0 106.4C611.0 103.8 612.8 100.1 613.3 98.8"/>
<path d="M585.34 79.55C585.2 81.1 584.6 85.6 584.5 88.6C584.5 91.6 584.6 94.6 584.9 97.6C585.1 100.6 585.9 103.5 586.0 106.5C586.2 109.5 585.7 112.6 586.0 115.6C586.3 118.6 586.9 121.6 587.6 124.5C588.4 127.4 589.6 130.4 590.3 133.1C591.0 135.9 591.5 138.3 591.6 140.9C591.8 143.6 590.8 146.2 590.9 148.9C591.1 151.5 592.0 154.1 592.5 156.7C593.0 159.2 593.9 163.1 594.2 164.4"/>
<path d="M576.5 219.02C575.9 217.9 573.9 214.5 572.6 212.2C571.4 209.9 569.9 207.6 569.1 205.2C568.3 202.7 568.1 200.1 567.7 197.5C567.3 194.9 566.7 192.3 566.5 189.7C566.3 187.1 566.5 184.5 566.7 181.9C566.9 179.2 567.5 176.5 567.7 173.7C567.9 171.0 567.5 168.3 567.7 165.5C567.9 162.8 568.4 160.1 569.0 157.4C569.6 154.8 570.9 150.9 571.3 149.6"/>
<path d="M538.11 180.82C538.7 179.2 540.0 174.1 541.5 171.0C542.9 167.8 545.5 165.2 546.8 162.1C548.2 158.9 548.3 155.2 549.5 152.0C550.8 148.8 552.4 145.7 554.2 142.7C555.9 139.7 558.3 137.0 559.9 134.0C561.4 130.9 562.2 127.5 563.5 124.3C564.8 121.1 566.7 118.1 568.0 115.0C569.2 111.8 570.0 108.3 571.3 105.2C572.6 102.0 574.4 99.0 575.9 95.9C577.4 92.8 579.5 88.1 580.3 86.6"/>
<path d="M512.48 185.08C513.9 184.3 518.3 181.9 521.3 180.3C524.2 178.8 527.5 177.7 530.2 175.7C532.9 173.8 535.1 171.2 537.4 168.8C539.7 166.3 541.5 163.2 544.0 160.9C546.5 158.5 549.9 157.1 552.4 154.8C554.9 152.4 557.2 149.7 559.1 146.9C561.1 144.1 562.6 140.9 564.1 137.9C565.7 134.8 566.8 131.5 568.6 128.6C570.4 125.6 572.9 123.1 574.9 120.4C577.0 117.6 578.7 114.5 581.0 112.0C583.4 109.5 587.5 106.4 588.8 105.2"/>
<path d="M539.64 213.14C539.7 211.4 539.7 206.1 540.0 202.5C540.2 199.0 540.3 195.4 541.2 192.0C542.0 188.6 543.5 185.3 545.1 182.2C546.7 179.0 549.3 176.4 550.8 173.2C552.3 170.0 552.6 166.1 554.1 163.2C555.7 160.2 558.4 158.3 560.2 155.7C562.0 153.0 563.4 150.1 565.1 147.4C566.7 144.6 568.2 141.6 570.2 139.2C572.3 136.8 574.9 134.8 577.4 132.8C579.9 130.8 582.8 129.3 585.2 127.2C587.7 125.1 589.6 122.4 592.1 120.4C594.6 118.5 597.6 117.1 600.3 115.4C603.0 113.6 607.0 111.0 608.4 110.1"/>
<path d="M552.78 126.62C553.4 125.5 555.3 122.0 556.8 119.9C558.2 117.7 560.0 115.8 561.5 113.7C563.0 111.5 564.3 109.3 565.6 107.0C567.0 104.8 568.3 102.6 569.5 100.3C570.8 98.0 571.6 95.9 573.0 93.3C574.5 90.7 576.7 87.5 578.1 84.5C579.6 81.4 580.7 78.2 581.6 74.9C582.6 71.7 583.0 68.3 584.0 65.1C585.0 61.8 586.7 58.8 587.8 55.6C588.9 52.4 589.9 47.4 590.3 45.8"/>
<path d="M543.9 211.57C544.8 210.3 547.8 206.7 549.3 204.0C550.8 201.3 551.9 198.4 553.0 195.5C554.1 192.6 554.7 189.5 556.0 186.7C557.3 183.9 559.3 181.6 560.9 178.8C562.4 176.0 564.2 173.0 565.2 169.9C566.1 166.8 565.9 163.3 566.8 160.2C567.6 157.0 568.8 153.9 570.2 150.9C571.6 148.0 573.2 145.0 575.2 142.4C577.3 139.9 580.1 138.0 582.4 135.6C584.7 133.3 588.0 129.7 589.2 128.5"/>
<path d="M553.98 199.82C554.7 198.4 556.5 194.1 558.4 191.6C560.2 189.1 563.1 187.4 564.9 184.9C566.8 182.5 568.3 179.7 569.5 176.8C570.7 174.0 571.5 170.9 572.3 167.9C573.1 164.9 573.8 161.9 574.2 158.8C574.6 155.7 574.8 152.6 574.8 149.5C574.9 146.5 574.7 143.5 574.7 140.5C574.6 137.5 574.3 134.4 574.7 131.5C575.2 128.6 576.3 125.7 577.4 122.9C578.6 120.2 580.4 117.7 581.6 115.0C582.8 112.3 583.5 109.3 584.6 106.5C585.7 103.7 587.0 101.0 588.1 98.2C589.3 95.5 590.6 92.8 591.7 90.0C592.8 87.2 594.2 82.9 594.8 81.5"/>
<path d="M525.48 125.97C526.5 124.6 529.4 120.4 531.5 117.7C533.5 115.0 536.0 112.6 537.8 109.7C539.7 106.9 540.9 103.7 542.5 100.6C544.1 97.6 545.5 94.5 547.3 91.6C549.1 88.7 551.7 86.1 553.3 83.4C554.9 80.7 555.8 78.1 556.9 75.5C558.1 72.8 558.8 69.9 560.2 67.4C561.5 64.8 563.2 62.3 565.0 60.1C566.8 57.9 569.5 56.3 571.2 54.0C572.9 51.7 574.7 47.6 575.4 46.4"/>
<path d="M549.72 170.18C551.2 170.1 555.7 170.3 558.6 169.8C561.5 169.3 564.2 168.0 567.1 167.1C569.9 166.3 572.8 165.5 575.6 164.7C578.5 164.0 581.4 163.7 584.2 162.4C587.1 161.0 589.8 158.5 592.7 156.8C595.7 155.2 598.8 153.8 601.9 152.5C605.0 151.2 608.2 149.9 611.4 148.9C614.6 147.9 618.0 147.5 621.3 146.6C624.6 145.8 627.9 145.0 631.1 143.9C634.2 142.8 637.4 141.5 640.3 139.8C643.3 138.1 645.7 135.7 648.6 133.9C651.4 132.1 656.0 129.9 657.5 129.1"/>
<path d="M578.38 146.2C578.0 147.3 576.8 150.7 575.9 152.9C574.9 155.1 573.6 157.2 573.0 159.5C572.3 161.8 572.3 164.0 572.1 166.6C571.9 169.1 572.0 172.0 571.9 174.8C571.9 177.5 572.0 180.2 571.7 182.9C571.5 185.6 571.3 188.4 570.7 191.0C570.1 193.7 568.8 196.1 568.1 198.8C567.4 201.4 567.4 204.2 566.5 206.8C565.6 209.3 564.0 211.6 562.8 214.0C561.6 216.4 559.9 220.2 559.3 221.4"/>
<path d="M572.28 132.95C571.9 134.2 570.6 137.8 570.0 140.4C569.5 142.9 568.9 145.4 568.9 148.0C568.8 150.5 569.4 153.1 569.9 155.7C570.4 158.2 571.1 160.6 571.9 163.1C572.7 165.7 574.0 168.2 574.6 170.9C575.1 173.6 574.9 176.4 575.2 179.1C575.6 181.8 576.4 184.5 576.6 187.2C576.8 189.9 576.5 192.7 576.6 195.4C576.7 198.1 577.0 200.9 577.3 203.6C577.6 206.3 578.3 210.4 578.4 211.7"/>
<path d="M547.31 127.88C548.9 127.2 553.8 125.6 556.7 124.0C559.6 122.3 562.4 120.2 564.9 118.0C567.4 115.7 569.6 113.1 571.7 110.4C573.7 107.8 575.5 104.8 577.1 101.9C578.7 98.9 580.2 95.9 581.1 92.5C582.0 89.2 581.9 85.4 582.4 81.8C583.0 78.3 583.3 74.6 584.4 71.2C585.5 67.8 587.7 64.8 589.0 61.4C590.2 58.1 591.5 52.8 592.0 51.1"/>
<path d="M556.83 41.69C556.7 43.3 556.0 48.3 556.0 51.6C556.0 54.9 556.2 58.2 556.8 61.4C557.4 64.7 558.5 67.8 559.6 70.9C560.6 74.1 562.5 77.4 563.1 80.2C563.7 83.0 562.9 85.2 563.3 87.5C563.7 89.9 565.1 92.1 565.6 94.5C566.0 96.9 565.8 99.4 566.0 101.8C566.1 104.3 566.7 106.7 566.5 109.2C566.4 111.6 565.5 113.9 565.1 116.4C564.7 118.8 564.5 121.2 564.2 123.6C563.9 126.1 563.6 128.5 563.4 130.9C563.1 133.4 563.0 137.0 562.9 138.2"/>
<path d="M540.25 132.83C541.5 131.8 545.0 128.2 547.7 126.4C550.5 124.6 553.7 123.5 556.6 121.9C559.5 120.4 562.2 118.4 565.3 117.2C568.3 116.0 572.0 116.4 574.9 114.7C577.7 113.1 579.6 109.3 582.5 107.2C585.3 105.1 588.8 104.0 591.9 102.2C595.0 100.4 597.8 98.1 601.0 96.6C604.2 95.0 609.4 93.6 611.1 93.0"/>
<path d="M552.37 216.94C552.5 215.4 552.9 210.9 553.3 207.8C553.7 204.8 554.3 201.8 554.8 198.8C555.4 195.8 556.5 192.9 556.7 189.9C556.9 186.9 556.2 183.8 556.1 180.8C556.0 177.7 555.9 174.6 556.3 171.6C556.8 168.6 557.9 165.8 558.7 162.8C559.4 159.8 559.9 156.5 561.1 153.7C562.3 150.8 564.2 148.2 565.8 145.5C567.4 142.8 569.2 140.2 570.6 137.4C572.1 134.6 573.5 131.8 574.6 128.9C575.8 125.9 577.0 121.4 577.4 119.9"/>
<path d="M573.19 97.58C573.6 95.9 574.3 90.7 575.5 87.5C576.7 84.3 578.6 81.3 580.5 78.4C582.4 75.5 585.1 73.1 586.9 70.1C588.6 67.2 589.7 63.3 591.0 60.6C592.4 58.0 593.6 56.3 594.8 54.1C596.1 52.0 597.4 49.8 598.7 47.7C600.0 45.6 601.4 43.5 602.9 41.5C604.4 39.5 606.8 36.6 607.6 35.6"/>
<path d="M524.34 77.03C525.7 76.7 529.7 75.7 532.4 75.0C535.1 74.3 537.7 73.3 540.5 72.8C543.2 72.4 545.7 72.9 548.8 72.3C551.8 71.7 555.5 70.8 558.7 69.4C561.8 68.1 564.5 65.8 567.5 64.2C570.5 62.5 573.5 60.8 576.7 59.4C579.8 58.1 583.1 56.8 586.3 55.9C589.6 54.9 594.7 54.0 596.4 53.6"/>
<path d="M563.77 75.87C563.5 74.7 562.5 71.2 562.0 68.9C561.6 66.5 561.4 64.1 561.2 61.8C560.9 59.4 560.7 57.0 560.7 54.6C560.7 52.2 560.7 49.7 561.0 47.4C561.4 45.0 561.7 42.6 562.9 40.4C564.0 38.2 566.4 36.4 567.8 34.2C569.3 31.9 570.2 29.3 571.4 27.0C572.7 24.6 574.0 22.3 575.4 20.0C576.8 17.8 578.3 15.5 579.9 13.4C581.5 11.2 583.1 9.1 584.9 7.2C586.8 5.3 589.2 3.9 591.1 2.0C593.0 0.1 595.4 -3.1 596.2 -4.1"/>
<path d="M526.88 197.09C526.7 195.5 525.7 190.8 525.7 187.7C525.7 184.6 526.1 181.4 526.9 178.3C527.6 175.3 528.9 172.4 530.2 169.5C531.6 166.7 533.3 164.0 534.8 161.2C536.2 158.4 537.5 155.6 538.9 152.7C540.2 149.9 541.1 146.7 542.8 144.1C544.5 141.6 546.8 139.5 549.0 137.4C551.2 135.2 553.5 133.2 556.0 131.4C558.4 129.5 561.1 128.1 563.6 126.2C566.0 124.4 568.2 122.2 570.5 120.2C572.8 118.2 575.2 116.3 577.4 114.1C579.5 111.9 581.1 109.2 583.2 107.0C585.3 104.8 588.8 101.8 589.9 100.7"/>
<path d="M513.01 169.84C514.4 169.4 518.7 168.2 521.3 167.0C523.9 165.7 526.4 163.9 528.7 162.2C531.1 160.5 533.2 158.4 535.5 156.6C537.9 154.8 540.4 153.4 542.8 151.7C545.2 149.9 547.4 148.0 549.7 146.3C552.1 144.5 554.4 142.5 556.8 141.1C559.3 139.7 562.2 139.3 564.6 138.0C567.1 136.7 569.5 135.1 571.7 133.5C574.0 131.8 575.8 129.6 578.1 128.0C580.4 126.4 582.8 124.8 585.4 123.8C587.9 122.7 590.8 122.0 593.5 121.7C596.3 121.4 599.1 121.8 601.9 121.9C604.7 122.0 608.9 122.2 610.3 122.2"/>
<path d="M565.55 122.43C565.8 123.6 567.0 127.2 567.2 129.7C567.4 132.1 567.2 134.7 566.8 137.1C566.4 139.5 565.1 141.8 564.7 144.2C564.3 146.6 563.9 149.1 564.5 151.6C565.1 154.2 566.6 157.1 568.1 159.5C569.6 162.0 572.1 163.9 573.5 166.3C574.9 168.8 575.4 171.8 576.6 174.4C577.9 177.0 579.3 179.5 581.0 181.9C582.6 184.3 584.4 186.6 586.4 188.6C588.5 190.7 592.1 193.1 593.2 194.0"/>
<path d="M583.07 134.15C582.5 135.3 580.4 138.7 579.5 141.1C578.6 143.5 578.2 146.2 577.6 148.7C577.0 151.2 576.3 153.8 575.9 156.3C575.5 158.9 575.3 161.6 575.4 164.1C575.6 166.7 576.4 169.1 576.8 171.8C577.1 174.6 577.3 177.6 577.4 180.5C577.5 183.4 577.4 186.3 577.7 189.1C577.9 192.0 578.8 194.8 578.8 197.7C578.9 200.6 578.3 203.5 578.0 206.3C577.6 209.2 577.2 212.0 576.8 214.9C576.3 217.7 575.6 220.6 575.5 223.5C575.3 226.3 575.8 230.7 575.9 232.1"/>
<path d="M611.01 20.28C610.3 21.5 608.2 25.2 606.7 27.7C605.3 30.1 603.9 32.6 602.4 35.0C600.9 37.4 599.2 39.8 597.9 42.3C596.6 44.8 595.3 47.4 594.6 50.1C593.8 52.9 593.5 55.8 593.4 58.6C593.4 61.4 594.3 64.4 594.3 67.1C594.3 69.8 593.8 72.4 593.4 75.1C593.0 77.7 592.1 80.3 592.0 82.9C591.9 85.6 592.4 88.3 592.8 90.9C593.2 93.6 593.7 96.2 594.6 98.7C595.5 101.2 597.7 104.6 598.3 105.8"/>
<path d="M535.23 166.17C536.4 165.2 539.8 161.8 542.5 160.2C545.1 158.5 548.1 157.2 551.0 156.3C554.0 155.3 557.2 155.1 560.3 154.4C563.3 153.7 566.5 153.2 569.4 152.0C572.3 150.9 574.7 148.7 577.6 147.6C580.5 146.4 583.9 145.4 586.7 145.2C589.5 145.0 591.9 146.2 594.5 146.6C597.0 146.9 599.7 146.7 602.2 147.3C604.8 147.9 607.1 149.3 609.6 150.1C612.0 150.9 614.6 151.6 617.1 152.4C619.5 153.2 621.9 154.3 624.5 154.9C627.0 155.5 629.6 155.6 632.2 156.0C634.8 156.3 637.4 157.0 640.0 157.1C642.6 157.2 646.5 156.7 647.8 156.6"/>
<path d="M578.99 188.4C580.1 188.0 583.6 187.1 585.8 186.2C588.0 185.3 589.9 183.9 592.1 183.0C594.2 182.0 596.2 180.8 598.7 180.3C601.2 179.9 604.3 180.7 607.0 180.4C609.7 180.1 612.4 179.2 615.1 178.6C617.8 178.1 620.5 177.2 623.2 177.0C626.0 176.8 630.1 177.4 631.5 177.5"/>
<path d="M626.34 136.52C627.6 136.8 631.4 137.6 633.9 138.2C636.5 138.8 638.9 139.5 641.5 140.2C644.0 140.8 646.6 141.1 649.1 141.9C651.5 142.7 653.7 144.3 656.2 145.0C658.6 145.8 661.3 145.9 663.9 146.2C666.4 146.5 668.8 146.5 671.6 146.7C674.4 146.9 677.7 146.9 680.7 147.5C683.6 148.1 686.4 149.5 689.3 150.3C692.2 151.0 695.3 151.3 698.2 152.2C701.0 153.2 703.7 154.6 706.5 155.9C709.2 157.2 711.7 158.9 714.5 160.2C717.2 161.4 721.6 162.8 723.0 163.3"/>
<path d="M589.78 155.87C591.3 156.2 595.8 157.5 598.9 157.8C602.0 158.1 605.1 157.6 608.2 157.6C611.3 157.6 614.4 157.7 617.5 157.7C620.6 157.7 623.7 157.2 626.8 157.6C629.9 158.1 633.0 159.5 636.1 160.4C639.3 161.2 642.4 162.3 645.6 162.8C648.7 163.3 652.0 163.3 655.3 163.4C658.5 163.5 661.8 163.3 665.0 163.6C668.2 163.8 671.5 164.3 674.7 164.8C677.9 165.3 681.0 166.3 684.2 166.8C687.4 167.2 692.3 167.4 693.9 167.5"/>
<path d="M536.39 158.87C537.5 159.7 540.8 162.3 543.2 163.8C545.6 165.3 548.2 166.2 550.6 167.8C552.9 169.3 555.0 171.3 557.1 173.1C559.2 174.9 561.2 176.9 563.4 178.6C565.6 180.3 567.5 181.9 570.3 183.3C573.2 184.7 577.0 185.7 580.3 187.2C583.5 188.7 586.5 190.5 589.7 192.2C592.8 193.8 596.0 195.4 599.2 197.0C602.3 198.7 605.7 199.9 608.7 201.9C611.6 203.9 615.5 207.6 616.8 208.8"/>
<path d="M641.6 157.71C643.3 157.7 648.4 158.2 651.7 157.9C655.1 157.6 658.3 156.5 661.7 156.0C665.0 155.5 668.5 155.1 671.7 155.0C675.0 154.9 678.1 155.2 681.3 155.4C684.5 155.6 687.7 155.8 690.9 156.2C694.1 156.5 697.3 156.9 700.4 157.4C703.6 157.9 706.8 158.3 709.9 159.2C713.0 160.0 715.9 161.4 718.9 162.4C721.9 163.5 724.9 164.9 728.0 165.5C731.1 166.1 736.0 166.0 737.6 166.1"/>
<path d="M654.72 212.56C655.7 211.3 658.6 207.4 660.5 204.8C662.4 202.1 664.4 199.6 666.1 196.9C667.8 194.1 668.7 190.9 670.5 188.2C672.2 185.5 674.2 182.9 676.4 180.5C678.5 178.2 680.9 175.5 683.5 174.0C686.2 172.5 689.3 172.1 692.3 171.7C695.3 171.2 698.4 171.8 701.4 171.3C704.4 170.9 707.2 169.4 710.2 169.1C713.2 168.7 716.3 169.0 719.3 169.2C722.3 169.4 725.3 170.3 728.3 170.4C731.4 170.4 734.5 170.1 737.4 169.3C740.3 168.5 744.3 166.3 745.7 165.6"/>
<path d="M555.57 171.85C556.8 172.7 560.4 175.6 563.1 177.0C565.7 178.4 568.6 179.5 571.5 180.3C574.4 181.1 577.8 181.3 580.5 181.8C583.3 182.3 585.6 182.8 588.1 183.3C590.6 183.8 593.1 184.6 595.6 184.9C598.1 185.1 600.7 184.5 603.3 184.7C605.8 185.0 609.5 186.2 610.8 186.5"/>
<path d="M586.22 186.16C586.6 184.9 587.9 181.0 588.5 178.4C589.2 175.8 589.4 173.0 590.3 170.5C591.2 168.0 592.6 165.6 594.1 163.4C595.6 161.2 597.5 159.2 599.3 157.2C601.1 155.2 602.7 153.0 604.8 151.3C606.8 149.5 609.5 148.4 611.4 146.7C613.2 144.9 614.3 142.7 615.8 140.7C617.4 138.8 618.8 136.7 620.6 135.1C622.5 133.5 624.9 132.5 626.7 130.8C628.5 129.2 629.8 127.0 631.4 125.1C633.0 123.3 634.6 121.3 636.3 119.6C638.1 117.8 639.9 116.2 641.9 114.6C643.8 113.1 645.8 111.6 648.0 110.4C650.1 109.2 653.5 107.7 654.6 107.2"/>
<path d="M628.34 156.54C630.1 156.4 635.4 155.9 638.9 155.5C642.4 155.1 646.0 154.9 649.4 154.0C652.8 153.1 656.1 151.7 659.3 150.2C662.5 148.7 665.3 146.4 668.6 145.1C671.8 143.8 675.6 143.0 678.9 142.6C682.2 142.1 685.2 142.8 688.2 142.3C691.3 141.8 694.2 140.5 697.1 139.5C700.1 138.5 702.9 137.0 706.0 136.4C709.0 135.8 713.7 135.9 715.3 135.8"/>
<path d="M552.69 160.17C554.0 159.9 557.9 159.2 560.5 158.5C563.0 157.8 565.5 156.6 568.0 156.0C570.6 155.4 573.3 155.4 575.9 154.8C578.5 154.2 581.2 153.5 583.6 152.3C586.0 151.0 588.1 149.3 590.2 147.6C592.3 145.9 594.5 144.2 596.3 142.3C598.1 140.3 599.5 137.9 601.2 135.8C602.8 133.6 604.7 131.7 606.2 129.4C607.7 127.2 608.8 124.7 610.2 122.4C611.6 120.1 613.9 116.7 614.6 115.6"/>
<path d="M521.77 148.38C523.0 148.5 526.8 149.0 529.3 149.0C531.8 149.0 534.3 148.6 536.8 148.5C539.4 148.4 541.9 148.6 544.4 148.3C546.9 148.1 549.4 147.3 551.9 147.2C554.4 147.2 556.9 147.6 559.4 147.8C561.9 148.1 564.3 148.2 566.9 148.7C569.6 149.2 572.6 150.2 575.4 150.8C578.3 151.3 581.2 151.7 584.1 152.0C587.0 152.3 589.9 152.1 592.8 152.6C595.7 153.0 598.4 154.1 601.3 154.5C604.2 154.9 607.1 154.7 610.1 154.9C613.0 155.1 615.9 155.8 618.8 155.7C621.6 155.7 626.0 154.7 627.4 154.5"/>
<path d="M619.64 119.31C620.6 120.4 623.3 124.1 625.5 126.0C627.8 128.0 630.7 129.1 633.1 130.8C635.6 132.5 637.7 134.6 640.2 136.3C642.7 138.0 645.2 139.6 647.9 140.8C650.7 142.0 653.6 142.3 656.5 143.5C659.3 144.8 662.1 146.6 664.9 148.1C667.7 149.6 670.6 151.0 673.5 152.5C676.3 153.9 679.1 155.4 681.9 156.9C684.8 158.5 687.6 159.9 690.3 161.6C693.1 163.2 695.5 165.3 698.3 167.0C701.0 168.7 703.8 170.3 706.7 171.5C709.7 172.7 714.4 173.9 715.9 174.3"/>
<path d="M642.26 124.62C643.4 125.1 646.5 126.7 648.8 127.4C651.1 128.1 653.4 128.5 655.8 128.8C658.1 129.0 660.4 129.1 662.9 128.8C665.4 128.5 668.3 127.6 671.0 126.9C673.7 126.2 676.5 125.6 679.1 124.7C681.7 123.8 684.2 122.6 686.8 121.5C689.4 120.4 692.1 119.6 694.6 118.4C697.0 117.1 699.5 115.6 701.6 113.8C703.7 112.1 706.5 108.8 707.5 107.9"/>
<path d="M545.92 185C547.3 184.7 551.6 183.6 554.4 183.5C557.3 183.4 560.2 184.3 563.0 184.3C565.9 184.3 568.8 183.9 571.7 183.6C574.5 183.2 577.0 182.8 580.2 182.1C583.3 181.5 587.1 180.1 590.6 179.6C594.1 179.0 597.7 178.6 601.2 178.8C604.7 179.0 608.3 179.7 611.7 180.6C615.1 181.5 618.4 183.0 621.8 184.2C625.1 185.4 628.5 186.4 631.8 187.8C635.1 189.1 638.2 190.9 641.4 192.4C644.7 193.8 648.2 194.8 651.3 196.4C654.4 198.1 658.6 201.5 660.1 202.5"/>
<path d="M594.29 186.1C595.7 186.2 599.7 186.9 602.4 186.9C605.2 187.0 607.9 186.9 610.6 186.4C613.3 186.0 616.1 185.4 618.5 184.3C621.0 183.2 623.4 181.7 625.5 180.0C627.6 178.3 629.7 176.1 631.4 173.9C633.1 171.6 634.5 169.1 635.5 166.5C636.6 163.9 636.6 160.8 637.6 158.2C638.7 155.6 640.8 153.5 642.1 151.0C643.3 148.4 643.8 145.6 645.0 143.0C646.2 140.4 647.9 138.1 649.0 135.5C650.2 132.9 651.4 128.8 651.9 127.5"/>
<path d="M598.74 175.14C600.4 174.5 605.5 172.9 608.7 171.3C611.9 169.8 614.6 167.3 617.9 165.9C621.1 164.5 625.1 164.5 628.1 162.9C631.0 161.2 633.2 158.2 635.7 155.8C638.2 153.3 640.8 151.0 643.0 148.4C645.2 145.7 646.7 142.5 648.8 139.7C650.9 136.9 654.3 133.0 655.4 131.7"/>
<path d="M538.9 131.31C540.2 131.7 544.0 132.8 546.6 133.5C549.1 134.1 551.7 134.6 554.4 135.1C557.0 135.5 559.6 136.1 562.2 136.3C564.9 136.4 567.5 136.2 570.2 136.1C572.8 136.0 575.3 136.6 578.1 135.7C580.9 134.9 584.1 132.7 586.9 131.0C589.7 129.3 592.6 127.5 595.1 125.3C597.6 123.2 599.4 120.3 601.8 118.0C604.3 115.8 607.0 113.8 609.6 111.9C612.3 109.9 615.4 108.4 617.8 106.2C620.3 104.1 622.3 101.3 624.5 98.8C626.6 96.3 629.7 92.4 630.8 91.2"/>
<path d="M656.17 188.67C657.5 187.9 661.6 185.5 664.3 183.9C667.0 182.2 669.6 180.2 672.4 178.9C675.3 177.6 678.6 176.3 681.5 176.2C684.4 176.1 687.3 177.5 690.0 178.5C692.7 179.6 695.2 181.2 697.8 182.7C700.3 184.1 703.0 185.6 705.3 187.3C707.6 189.1 709.8 191.1 711.8 193.2C713.9 195.3 715.7 197.7 717.4 200.1C719.1 202.5 720.3 205.1 722.0 207.6C723.6 210.0 725.5 212.3 727.2 214.7C728.9 217.1 731.2 220.8 732.0 222.1"/>
<path d="M612.21 155C613.1 153.9 616.1 150.7 617.9 148.4C619.6 146.1 620.8 143.3 622.6 141.1C624.5 139.0 626.7 136.9 629.1 135.3C631.5 133.7 634.2 133.2 636.9 131.5C639.6 129.9 642.3 127.1 645.2 125.4C648.1 123.6 651.7 122.8 654.5 120.9C657.4 119.0 659.7 116.4 662.2 114.0C664.6 111.5 666.9 109.0 669.2 106.4C671.6 103.8 673.6 101.1 676.0 98.6C678.4 96.1 682.4 92.8 683.6 91.6"/>
<path d="M665.64 190.24C666.2 189.0 667.9 185.3 669.0 182.8C670.1 180.3 670.9 177.7 672.2 175.3C673.4 172.9 674.8 170.3 676.6 168.5C678.4 166.7 681.0 166.0 682.9 164.4C684.8 162.7 686.2 160.6 688.0 158.7C689.7 156.9 691.5 155.2 693.3 153.4C695.1 151.6 696.9 149.9 698.6 148.0C700.4 146.2 701.9 144.1 703.6 142.4C705.4 140.6 707.3 138.9 709.3 137.4C711.3 135.9 713.6 134.6 715.7 133.3C717.9 132.1 721.2 130.3 722.3 129.7"/>
<path d="M624.38 172.74C625.9 172.6 630.4 171.8 633.4 171.9C636.4 172.1 639.3 173.4 642.3 173.6C645.3 173.8 648.5 173.8 651.3 173.2C654.2 172.5 656.7 170.5 659.6 169.8C662.4 169.1 665.5 168.8 668.5 168.9C671.4 169.0 674.3 170.2 677.3 170.3C680.2 170.4 684.7 169.7 686.2 169.6"/>
<path d="M565.1 158.65C566.6 157.7 570.8 154.6 573.8 152.8C576.8 151.0 579.9 149.3 583.1 147.9C586.3 146.4 589.7 145.5 593.0 144.2C596.2 143.0 599.9 141.5 602.7 140.2C605.5 139.0 607.5 138.0 609.8 136.7C612.1 135.4 614.2 133.5 616.5 132.5C618.9 131.4 621.6 130.7 624.2 130.2C626.8 129.7 630.8 129.8 632.1 129.7"/>
<path d="M512.44 154.36C513.9 154.8 518.3 156.1 521.3 156.9C524.2 157.6 527.2 158.3 530.3 158.8C533.3 159.3 536.4 159.4 539.4 160.0C542.4 160.5 545.3 161.6 548.3 162.2C551.3 162.9 554.4 163.0 557.3 163.8C560.3 164.5 563.1 165.9 565.9 167.0C568.7 168.1 571.6 169.0 574.3 170.2C577.1 171.5 579.8 172.8 582.4 174.3C585.0 175.8 587.3 177.7 589.9 179.3C592.4 180.9 595.1 182.3 597.6 183.9C600.2 185.5 602.9 186.9 605.1 188.9C607.4 190.9 608.8 193.8 611.0 195.7C613.3 197.6 616.1 199.0 618.6 200.5C621.2 202.1 625.2 204.2 626.5 204.9"/>
<path d="M577.39 146.92C579.1 146.5 584.3 144.5 587.9 144.1C591.4 143.7 595.1 144.5 598.7 144.4C602.3 144.4 605.9 143.5 609.5 143.7C613.1 143.9 616.6 144.9 620.1 145.8C623.6 146.7 626.9 148.6 630.4 149.3C633.9 149.9 638.3 150.2 641.2 149.8C644.1 149.4 645.6 148.0 647.8 147.0C649.9 145.9 651.9 144.5 654.2 143.7C656.4 143.0 658.8 142.7 661.2 142.3C663.5 141.8 665.9 141.5 668.2 141.0C670.6 140.4 672.9 139.9 675.1 139.0C677.3 138.0 679.3 136.7 681.3 135.3C683.2 133.9 684.9 132.2 686.8 130.7C688.7 129.3 691.7 127.3 692.7 126.6"/>
<path d="M611.14 168.39C612.3 168.5 615.9 168.5 618.2 168.9C620.5 169.3 622.8 170.1 625.0 170.8C627.3 171.5 629.1 172.5 631.6 173.3C634.2 174.2 637.4 175.0 640.1 176.1C642.9 177.2 645.5 178.5 648.1 179.9C650.8 181.3 653.3 182.9 655.8 184.5C658.3 186.0 661.0 187.4 663.3 189.2C665.6 191.1 668.7 194.4 669.7 195.4"/>
<path d="M648.41 179.34C649.7 178.8 653.5 176.7 656.2 176.0C658.8 175.2 661.7 175.2 664.5 174.9C667.3 174.6 670.1 174.4 673.0 174.4C675.8 174.4 678.5 174.8 681.4 174.9C684.2 175.1 687.3 174.7 690.1 175.3C693.0 175.8 695.6 177.4 698.4 178.1C701.2 178.8 704.1 179.4 707.0 179.5C709.9 179.6 712.8 179.0 715.7 178.6C718.6 178.1 721.4 177.3 724.3 176.7C727.1 176.2 730.0 175.4 732.9 175.1C735.7 174.8 738.7 175.4 741.6 175.0C744.5 174.6 748.7 173.2 750.1 172.9"/>
<path d="M654.04 138.39C655.4 138.0 659.6 136.7 662.5 136.3C665.4 135.8 668.3 135.9 671.2 135.7C674.1 135.4 676.9 134.9 679.9 134.5C682.8 134.1 685.8 133.9 688.7 133.3C691.6 132.7 694.4 131.5 697.3 131.1C700.3 130.6 703.3 130.9 706.3 130.6C709.2 130.2 713.5 129.1 715.0 128.8"/>
<path d="M554.31 189.07C555.4 187.9 558.6 184.5 560.7 182.1C562.8 179.8 564.7 177.2 566.9 174.9C569.1 172.7 571.6 170.6 574.0 168.6C576.4 166.6 578.8 164.4 581.4 162.8C584.1 161.1 587.1 160.0 589.9 158.5C592.7 157.0 595.7 155.4 598.2 153.8C600.6 152.3 602.4 150.7 604.5 149.1C606.6 147.6 608.8 146.1 610.8 144.4C612.7 142.7 614.6 140.8 616.2 138.7C617.8 136.6 619.4 134.4 620.4 132.0C621.5 129.6 621.7 126.9 622.5 124.4C623.2 121.9 624.1 119.4 625.0 116.9C625.9 114.4 627.3 110.8 627.8 109.5"/>
<path d="M610.83 134.93C611.8 136.3 614.5 140.6 616.7 143.1C618.9 145.6 621.5 147.8 624.1 149.9C626.7 152.0 629.4 154.2 632.4 155.7C635.3 157.2 638.6 158.1 641.9 158.9C645.2 159.6 648.6 159.8 651.9 160.1C655.2 160.3 659.0 161.1 662.0 160.4C664.9 159.8 666.9 157.3 669.5 156.2C672.1 155.1 675.0 154.2 677.8 153.6C680.6 153.1 683.5 152.9 686.4 152.7C689.3 152.4 692.2 152.6 695.0 152.0C697.8 151.4 700.4 149.6 703.2 149.0C705.9 148.3 708.9 148.6 711.8 148.1C714.6 147.6 717.4 146.8 720.1 145.7C722.8 144.7 726.6 142.5 727.9 141.9"/>
</g>
<g fill="none" stroke="#1f9a38" stroke-width="2.4" opacity="0.33" filter="url(#b2)">
<path d="M557.76 36.88C558.0 39.7 558.5 47.9 559.5 53.6C560.5 59.3 562.4 66.5 563.9 71.1C565.4 75.8 566.5 77.6 568.3 81.7C570.1 85.8 572.5 91.1 574.5 95.8C576.4 100.4 578.0 104.5 579.7 109.8C581.5 115.1 582.9 120.9 585.0 127.4C587.0 133.8 589.4 141.4 592.0 148.5C594.7 155.5 597.9 163.4 600.8 169.6C603.7 175.7 608.1 182.7 609.6 185.4"/>
<path d="M561.8 36.88C562.3 41.1 563.4 54.6 564.8 62.4C566.2 70.1 568.7 77.6 570.1 83.5C571.4 89.3 572.1 92.2 572.7 97.5C573.3 102.8 573.1 108.9 573.6 115.1C574.0 121.2 574.3 127.1 575.3 134.4C576.4 141.7 578.4 150.5 579.7 159.0C581.0 167.5 582.7 181.0 583.2 185.4"/>
<path d="M604.33 52.7C602.3 54.9 596.1 62.2 592.0 65.9C587.9 69.5 583.7 72.2 579.7 74.7C575.8 77.2 572.7 78.5 568.3 80.8C563.9 83.2 558.5 85.1 553.4 88.7C548.2 92.4 541.8 99.0 537.5 102.8C533.3 106.6 529.5 110.1 527.9 111.6"/>
<path d="M583.24 36.88C584.1 39.4 586.9 47.3 588.5 51.8C590.1 56.4 591.7 59.7 592.9 64.1C594.1 68.5 594.2 73.8 595.5 78.2C596.9 82.6 598.5 86.4 600.8 90.5C603.2 94.6 607.3 99.0 609.6 102.8C611.9 106.6 612.8 109.2 614.9 113.3C616.9 117.4 620.7 125.0 621.9 127.4"/>
<path d="M601.69 36.88C600.8 39.1 598.0 45.8 596.4 50.1C594.8 54.3 593.2 58.8 592.0 62.4C590.9 65.9 591.4 66.8 589.4 71.1C587.3 75.5 582.8 82.3 579.7 88.7C576.6 95.2 573.9 103.4 570.9 109.8C568.0 116.3 565.4 121.5 562.1 127.4C558.9 133.2 555.7 139.7 551.6 145.0C547.5 150.2 541.5 155.5 537.5 159.0C533.6 162.5 529.5 164.9 527.9 166.1"/>
<path d="M609.6 36.88C609.9 39.7 610.2 48.4 611.4 53.6C612.5 58.7 614.3 62.9 616.6 67.6C619.0 72.3 621.6 77.0 625.4 81.7C629.2 86.4 634.8 91.7 639.5 95.8C644.2 99.9 648.9 102.5 653.5 106.3C658.2 110.1 665.3 116.6 667.6 118.6"/>
<path d="M568.3 81.69C570.2 82.9 575.5 87.0 579.7 88.7C584.0 90.5 588.8 91.1 593.8 92.2C598.8 93.4 604.3 95.8 609.6 95.8C614.9 95.8 620.4 93.9 625.4 92.2C630.4 90.6 634.8 87.3 639.5 86.1C644.2 84.9 651.2 85.4 653.5 85.2"/>
<path d="M527.88 102.78C530.7 103.4 538.9 105.1 544.6 106.3C550.3 107.5 555.4 108.8 562.1 109.8C568.9 110.8 577.1 112.2 585.0 112.4C592.9 112.7 601.7 111.9 609.6 111.6C617.5 111.3 628.6 110.8 632.4 110.7"/>
<path d="M527.88 65.88C529.5 64.7 534.5 60.9 537.5 58.8C540.6 56.8 543.0 55.6 546.3 53.6C549.7 51.5 553.9 49.3 557.8 46.5C561.6 43.8 567.3 38.5 569.2 36.9"/>
<path d="M639.85 36.88C639.0 38.5 636.3 43.2 634.6 46.5C632.8 49.9 629.3 53.6 629.3 57.1C629.3 60.6 632.8 64.1 634.6 67.6C636.3 71.1 638.4 75.4 639.8 78.2C641.3 81.0 641.3 81.7 643.4 84.3C645.4 87.0 648.9 91.8 652.1 94.0C655.4 96.2 660.9 96.9 662.7 97.5"/>
<path d="M658.3 36.88C659.3 39.1 662.5 45.8 664.5 50.1C666.4 54.3 669.3 58.3 669.7 62.4C670.2 66.5 667.8 70.3 667.1 74.7C666.4 79.1 666.2 85.1 665.3 88.7C664.5 92.4 664.6 94.7 661.8 96.6C659.0 98.5 653.2 100.0 648.6 100.1C644.1 100.3 636.9 98.0 634.6 97.5"/>
<path d="M700.48 36.88C698.3 39.1 691.0 46.1 687.3 50.1C683.6 54.0 680.6 56.5 678.5 60.6C676.5 64.7 675.3 70.6 675.0 74.7C674.7 78.8 675.6 82.0 676.8 85.2C677.9 88.4 679.4 90.5 682.0 94.0C684.7 97.5 689.6 102.2 692.6 106.3C695.5 110.4 698.1 113.9 699.6 118.6C701.1 123.3 701.1 131.8 701.4 134.4"/>
<path d="M725.08 44.79C722.3 46.5 713.5 51.8 708.4 55.3C703.3 58.8 698.4 62.4 694.3 65.9C690.2 69.4 686.7 72.6 683.8 76.4C680.9 80.2 680.0 85.2 676.8 88.7C673.5 92.2 669.1 95.8 664.5 97.5C659.8 99.3 654.2 99.9 648.6 99.3C643.1 98.7 636.2 95.8 631.1 94.0C625.9 92.2 620.1 89.6 617.9 88.7"/>
<path d="M617.88 86.97C620.1 87.0 626.8 86.4 631.1 87.0C635.3 87.6 639.3 88.7 643.4 90.5C647.5 92.2 651.3 96.9 655.7 97.5C660.1 98.1 665.0 95.8 669.7 94.0C674.4 92.2 678.8 88.7 683.8 87.0C688.8 85.2 694.3 85.2 699.6 83.5C704.9 81.7 711.2 78.2 715.4 76.4C719.7 74.7 723.5 73.5 725.1 72.9"/>
<path d="M617.88 71.15C619.2 72.9 623.0 78.2 625.8 81.7C628.6 85.2 631.4 88.4 634.6 92.2C637.8 96.0 641.6 100.7 645.1 104.5C648.6 108.3 652.1 110.7 655.7 115.1C659.2 119.5 663.0 125.3 666.2 130.9C669.4 136.5 672.9 142.0 675.0 148.5C677.0 154.9 678.1 163.4 678.5 169.6C679.0 175.7 677.8 182.7 677.6 185.4"/>
<path d="M617.88 94C620.7 95.5 628.9 100.7 634.6 102.8C640.3 104.8 645.4 105.7 652.1 106.3C658.9 106.9 667.7 106.9 675.0 106.3C682.3 105.7 689.9 104.2 696.1 102.8C702.2 101.3 707.1 98.7 711.9 97.5C716.7 96.3 722.9 96.0 725.1 95.8"/>
<path d="M527.88 105.12C531.2 106.4 541.8 110.8 548.1 113.0C554.4 115.2 559.8 117.6 565.7 118.3C571.5 119.0 578.0 118.3 583.2 117.4C588.5 116.5 592.9 113.9 597.3 113.0C601.7 112.2 603.7 112.4 609.6 112.2C615.5 111.9 628.6 111.4 632.4 111.3"/>
<path d="M565.66 118.3C566.8 120.4 569.5 128.0 572.7 130.6C575.9 133.2 581.8 135.0 585.0 134.1C588.2 133.2 591.4 128.0 592.0 125.3C592.6 122.7 590.6 120.9 588.5 118.3C586.5 115.7 581.2 111.0 579.7 109.5"/>
<path d="M527.88 150.82C530.7 150.1 538.9 147.6 544.6 146.4C550.3 145.3 556.3 144.2 562.1 143.8C568.0 143.3 573.9 144.5 579.7 143.8C585.6 143.1 591.4 141.0 597.3 139.4C603.2 137.8 607.8 136.0 614.9 134.1C621.9 132.2 631.9 130.0 639.5 128.0C647.1 125.9 657.1 122.8 660.6 121.8"/>
<path d="M527.88 132.36C530.1 133.8 535.9 138.5 541.1 141.1C546.2 143.8 552.2 145.3 558.6 148.2C565.1 151.1 573.3 156.1 579.7 158.7C586.2 161.4 590.9 162.5 597.3 164.0C603.7 165.5 611.4 166.9 618.4 167.5C625.4 168.1 632.4 168.1 639.5 167.5C646.5 166.9 657.1 164.6 660.6 164.0"/>
<path d="M549.85 105.12C550.7 108.2 553.4 117.6 555.1 123.6C556.9 129.6 558.6 135.3 560.4 141.1C562.1 147.0 563.0 151.4 565.7 158.7C568.3 166.0 574.5 180.7 576.2 185.1"/>
<path d="M560.39 149.94C563.6 149.9 573.6 149.4 579.7 149.9C585.9 150.5 591.4 151.4 597.3 153.5C603.2 155.5 609.0 158.4 614.9 162.2C620.7 166.0 627.8 172.5 632.4 176.3C637.1 180.1 641.2 183.6 643.0 185.1"/>
<path d="M639.48 136.76C636.0 138.4 624.5 142.8 618.4 146.4C612.2 150.1 606.7 154.3 602.6 158.7C598.5 163.1 596.1 168.4 593.8 172.8C591.4 177.2 589.4 183.0 588.5 185.1"/>
<path d="M527.88 167.51C530.7 168.4 538.9 170.7 544.6 172.8C550.3 174.8 556.3 177.8 562.1 179.8C568.0 181.9 576.8 184.2 579.7 185.1"/>
<path d="M639.48 146.42C636.5 147.3 627.8 150.5 621.9 151.7C616.0 152.9 610.5 153.7 604.3 153.5C598.2 153.2 591.1 151.1 585.0 149.9C578.8 148.8 573.6 147.9 567.4 146.4C561.3 145.0 554.7 144.4 548.1 141.1C541.5 137.9 531.2 129.4 527.9 127.1"/>
<path d="M527.88 158.72C531.2 158.4 540.9 158.1 548.1 157.0C555.3 155.8 563.3 153.5 570.9 151.7C578.6 149.9 586.5 148.2 593.8 146.4C601.1 144.7 607.3 143.2 614.9 141.1C622.5 139.1 635.4 135.3 639.5 134.1"/>
<path d="M537.54 185.09C540.2 181.6 547.5 169.9 553.4 164.0C559.2 158.1 566.0 153.7 572.7 149.9C579.4 146.1 587.3 144.7 593.8 141.1C600.2 137.6 606.1 132.9 611.4 128.8C616.6 124.7 623.1 118.6 625.4 116.5"/>
<path d="M617.88 149.94C620.7 151.4 628.9 156.4 634.6 158.7C640.3 161.1 645.7 161.1 652.1 164.0C658.6 166.9 667.4 172.8 673.2 176.3C679.1 179.8 685.0 183.6 687.3 185.1"/>
<path d="M638.09 106.88C639.8 111.1 645.4 125.2 648.6 132.4C651.9 139.5 653.9 144.7 657.4 149.9C660.9 155.2 664.7 160.2 669.7 164.0C674.7 167.8 681.4 169.9 687.3 172.8C693.2 175.7 700.2 179.5 704.9 181.6C709.6 183.6 713.7 184.5 715.4 185.1"/>
<path d="M617.88 164C620.7 162.5 628.9 159.0 634.6 155.2C640.3 151.4 646.9 145.5 652.1 141.1C657.4 136.8 661.8 132.9 666.2 128.8C670.6 124.7 675.0 120.2 678.5 116.5C682.0 112.9 685.8 108.5 687.3 106.9"/>
<path d="M724.21 132.36C722.2 135.3 715.7 144.7 711.9 149.9C708.1 155.2 704.9 159.6 701.4 164.0C697.8 168.4 693.7 172.8 690.8 176.3C687.9 179.8 685.0 183.6 683.8 185.1"/>
<path d="M660.94 128.85C662.4 131.8 667.4 140.6 669.7 146.4C672.1 152.3 673.8 157.6 675.0 164.0C676.2 170.4 676.5 181.6 676.8 185.1"/>
<path d="M690.81 149.94C692.6 152.3 697.3 159.6 701.4 164.0C705.5 168.4 711.5 172.9 715.4 176.3C719.4 179.7 723.5 182.9 725.1 184.2"/>
<path d="M617.88 134.12C621.2 134.4 630.9 136.2 638.1 135.9C645.3 135.6 653.3 132.7 660.9 132.4C668.6 132.1 677.3 132.7 683.8 134.1C690.2 135.6 694.3 140.3 699.6 141.1C704.9 142.0 711.2 140.9 715.4 139.4C719.7 137.9 723.5 133.5 725.1 132.4"/>
<path d="M617.88 141.15C621.0 142.0 630.3 143.5 636.3 146.4C642.3 149.4 649.5 154.3 653.9 158.7C658.3 163.1 660.9 168.4 662.7 172.8C664.5 177.2 664.2 183.0 664.5 185.1"/>
<path d="M639.85 185.09C641.9 182.2 647.5 173.1 652.1 167.5C656.8 161.9 662.1 156.7 668.0 151.7C673.8 146.7 681.1 141.4 687.3 137.6C693.4 133.8 698.6 130.6 704.9 128.8C711.2 127.1 721.7 127.4 725.1 127.1"/>
<path d="M725.08 151.69C722.3 152.9 713.5 155.5 708.4 158.7C703.3 161.9 697.8 166.6 694.3 171.0C690.8 175.4 688.5 182.7 687.3 185.1"/>
</g>
<g fill="none" stroke="#2ea848" stroke-width="0.62" opacity="0.58" filter="url(#b06)">
<path d="M651.98 148.45C652.4 146.4 653.1 140.2 654.3 136.3C655.5 132.3 657.5 128.6 659.4 125.0C661.4 121.4 664.2 118.2 666.2 114.6C668.3 111.0 669.7 107.1 671.8 103.5C673.8 99.9 676.4 96.6 678.6 93.1C680.9 89.7 682.9 86.0 685.4 82.8C688.0 79.5 691.3 76.9 694.0 73.7C696.6 70.6 699.3 67.5 701.2 64.0C703.1 60.5 703.2 56.0 705.1 52.5C707.0 49.0 710.0 46.1 712.6 43.0C715.3 40.0 718.4 37.3 721.0 34.3C723.6 31.2 725.9 27.8 728.4 24.6C730.8 21.4 733.5 18.3 735.6 14.9C737.7 11.4 739.5 7.8 740.9 4.0C742.3 0.2 743.4 -3.8 743.8 -7.8C744.1 -11.8 742.9 -17.9 742.8 -19.9"/>
<path d="M711.43 -8.99C711.5 -7.2 711.2 -1.9 711.8 1.6C712.4 5.0 713.6 8.4 715.1 11.6C716.7 14.7 719.3 17.3 721.0 20.4C722.6 23.5 723.4 27.0 725.0 30.1C726.6 33.2 728.5 36.0 730.6 39.1C732.7 42.1 735.5 45.2 737.7 48.4C739.9 51.6 741.9 54.9 744.0 58.2C746.0 61.5 748.0 64.8 750.0 68.2C752.0 71.6 753.8 75.0 755.8 78.4C757.7 81.8 759.8 85.0 761.4 88.6C763.0 92.1 764.1 95.9 765.4 99.6C766.6 103.3 768.3 108.8 768.9 110.7"/>
<path d="M561.71 85.62C563.0 84.6 567.0 81.6 569.7 79.7C572.5 77.9 575.2 76.0 578.2 74.5C581.1 73.0 584.5 72.3 587.3 70.6C590.1 68.8 592.2 66.0 594.8 64.1C597.5 62.1 600.3 60.2 603.2 58.7C606.2 57.3 609.5 56.6 612.6 55.4C615.7 54.2 618.4 52.0 621.9 51.8C625.4 51.5 629.7 53.1 633.6 54.0C637.6 54.8 641.4 56.2 645.3 56.7C649.2 57.2 653.3 56.5 657.3 57.0C661.2 57.5 665.0 59.1 669.0 59.7C672.9 60.3 678.9 60.3 680.9 60.4"/>
<path d="M584.43 153.87C586.0 154.6 590.6 157.2 593.8 158.5C597.0 159.8 600.4 160.6 603.6 161.8C606.9 163.0 610.0 164.7 613.3 165.7C616.6 166.6 620.3 166.4 623.6 167.3C626.9 168.2 630.0 170.2 633.4 170.9C636.7 171.6 640.4 170.7 643.8 171.3C647.2 171.9 650.5 173.1 653.7 174.4C656.9 175.7 659.8 177.3 663.1 179.0C666.3 180.7 669.5 183.2 672.9 184.5C676.4 185.8 680.3 186.4 684.0 187.0C687.7 187.6 691.5 187.9 695.2 188.1C699.0 188.2 702.8 187.7 706.6 187.9C710.3 188.1 715.9 189.1 717.8 189.3"/>
<path d="M520.62 -29.51C521.1 -27.9 523.0 -23.2 523.8 -19.9C524.5 -16.6 524.3 -13.1 525.1 -9.9C525.9 -6.6 527.8 -3.6 528.4 -0.3C529.0 3.0 529.1 6.5 528.9 9.8C528.6 13.2 527.4 16.4 527.0 19.8C526.6 23.1 526.3 26.5 526.3 29.9C526.3 33.2 526.2 36.7 526.9 40.0C527.6 43.2 529.1 46.3 530.4 49.5C531.6 52.6 532.6 55.9 534.1 58.9C535.6 61.9 537.7 64.6 539.2 67.6C540.6 70.7 541.5 73.9 542.6 77.1C543.7 80.3 544.8 83.5 545.6 86.8C546.5 90.0 547.2 93.3 547.7 96.7C548.1 100.0 547.6 103.5 548.3 106.8C549.0 110.0 551.2 113.0 551.9 116.2C552.5 119.5 551.6 123.1 552.3 126.3C553.0 129.6 555.5 134.1 556.1 135.7"/>
<path d="M543.65 64.05C543.8 65.6 544.4 70.3 544.4 73.5C544.3 76.6 544.2 79.9 543.3 82.8C542.4 85.8 541.0 88.6 539.1 91.3C537.2 94.0 534.2 96.3 532.1 99.1C530.1 101.9 528.3 105.0 526.9 108.1C525.4 111.2 524.9 114.9 523.3 117.9C521.6 121.0 519.2 123.6 516.9 126.2C514.5 128.8 512.0 131.3 509.3 133.5C506.6 135.6 502.0 138.2 500.6 139.2"/>
<path d="M509.51 191.69C510.8 191.3 514.9 190.4 517.4 189.4C520.0 188.4 522.3 186.7 524.8 185.7C527.4 184.8 530.2 184.5 532.9 183.7C535.5 183.0 538.0 181.8 540.6 181.0C543.3 180.1 545.6 180.3 548.6 178.8C551.6 177.3 555.7 174.6 558.5 171.8C561.3 169.1 563.0 165.2 565.6 162.1C568.2 159.0 571.7 156.7 574.0 153.4C576.3 150.2 577.3 146.1 579.1 142.5C580.9 138.9 583.2 135.5 584.7 131.8C586.2 128.1 587.1 124.1 588.1 120.2C589.0 116.3 589.9 112.4 590.6 108.4C591.4 104.5 591.6 100.4 592.5 96.5C593.5 92.6 594.7 88.7 596.1 85.0C597.5 81.2 600.0 75.7 600.8 73.9"/>
<path d="M503.88 130.42C505.5 130.8 510.2 132.4 513.5 132.7C516.7 133.0 520.1 132.4 523.3 132.3C526.6 132.1 529.9 131.8 533.2 131.8C536.5 131.8 539.8 132.2 543.1 132.2C546.3 132.2 549.7 131.5 552.9 131.8C556.1 132.2 559.2 134.0 562.4 134.4C565.7 134.7 568.8 133.8 572.3 134.1C575.8 134.4 579.7 135.1 583.3 136.0C586.9 136.9 590.4 138.4 593.9 139.5C597.5 140.5 601.4 140.8 604.7 142.4C608.1 143.9 610.7 146.8 614.0 148.6C617.3 150.3 620.7 152.0 624.3 152.9C627.8 153.9 631.7 154.0 635.4 154.3C639.1 154.6 642.9 155.2 646.5 154.8C650.2 154.3 653.6 152.5 657.2 151.5C660.8 150.5 666.2 149.2 668.0 148.7"/>
<path d="M741.12 30.59C739.4 31.7 733.9 34.8 730.8 37.5C727.6 40.2 724.9 43.5 722.4 46.7C719.8 50.0 718.3 54.2 715.5 57.2C712.8 60.2 708.8 62.1 705.6 64.7C702.4 67.4 699.5 70.3 696.4 73.1C693.3 75.9 689.7 78.7 687.3 81.6C684.8 84.5 683.5 87.6 681.4 90.5C679.3 93.3 676.8 95.8 674.7 98.7C672.7 101.6 670.8 104.7 669.2 107.8C667.6 111.0 666.8 114.5 665.2 117.7C663.6 120.8 661.2 123.6 659.8 126.8C658.4 130.1 657.6 133.6 657.0 137.1C656.4 140.6 656.4 146.0 656.3 147.7"/>
<path d="M555.5 126.69C556.8 126.6 560.9 126.3 563.6 126.4C566.3 126.4 569.0 126.7 571.7 126.7C574.4 126.7 577.1 126.1 579.7 126.4C582.4 126.7 584.8 128.4 587.5 128.8C590.1 129.1 592.5 128.6 595.5 128.5C598.6 128.3 602.4 128.3 605.7 127.8C609.0 127.2 612.1 125.5 615.4 125.1C618.8 124.6 622.3 124.5 625.6 125.0C628.9 125.5 632.0 127.3 635.2 128.2C638.4 129.2 641.7 129.9 645.0 130.8C648.3 131.7 651.5 132.9 654.8 133.6C658.1 134.2 661.5 134.2 664.8 134.8C668.1 135.5 671.4 136.5 674.6 137.5C677.8 138.5 682.5 140.4 684.1 141.0"/>
<path d="M540.49 31.56C540.5 33.6 540.6 39.8 540.7 44.0C540.8 48.1 540.8 52.3 541.2 56.4C541.5 60.5 541.6 64.8 542.8 68.8C543.9 72.7 545.9 76.5 548.0 80.0C550.2 83.5 552.7 87.0 555.7 89.7C558.7 92.4 562.8 93.9 566.2 96.2C569.6 98.5 572.9 100.9 576.1 103.5C579.3 106.0 582.0 109.5 585.4 111.6C588.8 113.7 593.3 114.2 596.8 116.2C600.4 118.2 603.7 120.8 606.8 123.5C609.8 126.2 612.5 129.4 615.2 132.5C617.9 135.6 620.1 139.2 622.9 142.1C625.8 145.1 629.6 147.1 632.3 150.1C635.0 153.2 637.8 158.9 638.8 160.6"/>
<path d="M572.49 51.47C573.6 53.1 576.7 58.3 579.1 61.4C581.6 64.5 585.1 66.9 587.4 70.1C589.7 73.3 590.8 77.4 593.1 80.6C595.5 83.8 599.0 86.2 601.3 89.4C603.6 92.6 605.5 96.3 606.7 100.1C608.0 103.8 607.6 108.1 608.7 111.9C609.8 115.7 612.3 119.1 613.3 122.9C614.3 126.8 613.0 131.3 614.7 134.8C616.3 138.4 620.9 141.0 623.3 144.5C625.8 148.0 627.7 152.0 629.3 156.0C630.9 160.0 631.3 164.5 632.9 168.5C634.6 172.5 636.7 176.3 639.1 179.9C641.5 183.5 644.1 187.1 647.3 189.9C650.5 192.8 654.9 194.2 658.3 196.9C661.6 199.6 663.8 203.6 667.2 206.3C670.6 208.9 676.7 211.5 678.6 212.6"/>
<path d="M754.56 70.15C753.5 71.8 749.9 76.5 748.1 80.0C746.3 83.5 745.6 87.6 743.7 91.0C741.7 94.3 738.9 97.2 736.3 100.2C733.7 103.1 730.9 106.1 728.0 108.6C725.1 111.1 722.0 113.1 718.9 115.1C715.7 117.0 712.2 118.4 708.9 120.2C705.7 122.0 702.1 123.4 699.2 125.7C696.4 128.1 694.6 131.7 691.8 134.1C689.0 136.5 685.6 138.4 682.3 140.1C679.0 141.8 675.2 142.4 672.0 144.2C668.7 146.0 666.1 148.9 663.0 150.9C659.8 152.9 656.3 154.2 653.2 156.3C650.1 158.3 647.3 160.8 644.4 163.2C641.5 165.6 637.3 169.3 635.9 170.5"/>
<path d="M558.08 154.34C559.4 153.7 563.3 151.9 565.8 150.7C568.4 149.4 570.9 148.0 573.4 146.7C576.0 145.4 578.1 144.5 581.1 143.0C584.1 141.4 588.4 139.7 591.4 137.3C594.3 134.9 596.1 131.1 599.0 128.6C602.0 126.1 605.9 124.8 609.0 122.4C612.0 120.0 614.1 116.5 617.2 114.1C620.2 111.8 623.7 109.6 627.3 108.3C630.9 106.9 634.9 106.8 638.7 105.9C642.5 105.1 646.2 103.9 650.0 102.9C653.8 102.0 657.8 101.6 661.3 100.2C664.9 98.7 669.6 95.1 671.3 94.1"/>
<path d="M648.25 95.4C649.8 96.0 654.6 97.9 657.8 99.2C661.0 100.6 664.1 101.9 667.2 103.4C670.3 104.8 673.5 106.2 676.4 108.0C679.3 109.9 681.5 112.8 684.4 114.5C687.4 116.1 690.9 116.8 694.1 118.0C697.3 119.1 700.7 120.1 703.8 121.5C706.9 122.9 710.2 124.8 712.7 126.6C715.3 128.4 717.4 130.1 719.2 132.2C721.1 134.4 722.3 137.1 724.0 139.4C725.7 141.7 727.7 143.9 729.7 145.9C731.7 148.0 734.1 149.7 736.1 151.7C738.1 153.7 740.9 157.0 741.9 158.1"/>
<path d="M568.06 36.57C568.6 38.0 569.9 42.5 571.1 45.4C572.2 48.2 573.5 51.0 575.1 53.7C576.6 56.4 578.4 58.9 580.1 61.5C581.8 64.1 583.1 67.0 585.2 69.3C587.3 71.5 590.1 73.1 592.5 75.1C594.9 77.0 596.9 79.5 599.5 81.1C602.2 82.6 605.3 83.4 608.2 84.3C611.2 85.2 614.8 85.0 617.2 86.6C619.7 88.2 621.5 91.3 622.9 94.0C624.3 96.6 624.6 99.9 625.8 102.8C626.9 105.6 628.2 108.5 629.8 111.1C631.5 113.7 633.8 115.8 635.6 118.3C637.4 120.8 639.5 123.3 640.7 126.1C641.8 128.9 642.3 133.6 642.7 135.2"/>
<path d="M645.77 122.41C647.4 122.7 652.3 123.3 655.4 124.1C658.5 124.9 661.6 126.1 664.6 127.3C667.7 128.5 670.5 130.0 673.6 131.3C676.6 132.6 679.7 133.8 682.6 134.9C685.6 135.9 688.6 136.7 691.5 137.7C694.4 138.8 697.2 140.0 700.0 141.2C702.9 142.4 705.8 143.4 708.6 144.7C711.4 146.0 714.0 147.8 716.8 149.1C719.6 150.3 724.0 151.9 725.4 152.4"/>
<path d="M486.16 146.22C487.9 146.3 493.3 146.3 496.7 146.9C500.2 147.5 503.5 148.7 506.9 149.6C510.3 150.5 513.8 151.3 517.2 152.3C520.5 153.3 523.7 155.1 527.2 155.7C530.6 156.3 534.7 156.2 537.8 155.8C540.9 155.5 543.3 154.5 545.8 153.5C548.4 152.4 550.6 150.3 553.2 149.4C555.8 148.5 558.8 148.7 561.5 148.0C564.2 147.3 566.9 146.4 569.4 145.1C571.8 143.8 575.0 141.0 576.2 140.2"/>
<path d="M656.49 80.56C657.9 79.8 662.1 77.4 664.8 75.8C667.6 74.2 670.1 72.2 672.9 70.7C675.7 69.2 678.9 68.2 681.6 66.6C684.4 65.1 687.0 63.2 689.5 61.2C692.0 59.2 693.7 56.8 696.5 54.7C699.3 52.5 703.2 50.6 706.4 48.5C709.7 46.4 713.0 44.3 716.1 41.9C719.2 39.5 721.7 36.3 724.9 34.2C728.1 32.1 732.3 31.5 735.6 29.4C738.8 27.3 741.3 24.0 744.5 21.8C747.6 19.6 752.9 17.0 754.6 16.0"/>
<path d="M609.32 154.04C611.2 153.5 616.7 151.8 620.5 150.9C624.2 150.1 628.1 149.6 631.9 149.1C635.7 148.6 639.6 147.8 643.4 148.1C647.2 148.5 650.8 150.6 654.6 151.1C658.4 151.5 662.6 151.2 666.2 150.8C669.8 150.4 673.0 149.4 676.4 148.6C679.7 147.8 683.0 146.7 686.4 146.0C689.8 145.4 693.2 144.8 696.7 144.6C700.1 144.3 703.6 144.8 707.1 144.6C710.5 144.4 714.1 144.3 717.4 143.3C720.7 142.4 723.6 140.0 726.9 139.1C730.2 138.1 735.4 138.0 737.2 137.8"/>
<path d="M640.77 142.65C642.9 142.4 649.4 142.3 653.5 141.3C657.6 140.4 661.4 138.1 665.6 137.0C669.7 136.0 674.1 136.2 678.2 135.0C682.3 133.8 686.4 132.2 690.0 130.0C693.7 127.9 697.2 125.2 700.0 122.0C702.8 118.9 704.7 114.4 706.9 111.2C709.0 108.0 711.4 105.9 712.8 102.9C714.2 99.9 714.5 96.3 715.6 93.0C716.6 89.8 717.6 86.5 719.2 83.5C720.9 80.6 723.4 78.1 725.4 75.3C727.3 72.6 730.0 68.2 731.0 66.8"/>
<path d="M621.9 78.62C622.7 80.5 625.0 86.4 626.8 90.2C628.6 94.0 630.2 97.9 632.5 101.4C634.8 104.8 637.5 108.1 640.4 111.1C643.4 114.0 647.2 116.1 650.1 119.1C653.0 122.0 655.1 125.8 657.9 128.9C660.7 132.0 664.1 134.5 667.0 137.5C669.9 140.6 672.8 144.3 675.1 147.1C677.4 149.9 679.2 151.9 680.8 154.5C682.3 157.2 683.2 160.3 684.3 163.2C685.5 166.1 686.7 168.9 687.8 171.8C688.9 174.7 689.8 177.7 691.2 180.5C692.5 183.3 694.5 185.8 695.8 188.6C697.2 191.4 698.6 195.9 699.1 197.4"/>
<path d="M615.13 103.36C616.7 103.6 621.6 103.8 624.8 104.5C627.9 105.3 631.0 106.5 633.9 107.8C636.8 109.2 639.3 111.5 642.3 112.8C645.2 114.0 648.7 114.2 651.6 115.6C654.5 116.9 656.9 119.2 659.7 121.0C662.4 122.8 665.4 124.1 667.9 126.2C670.4 128.2 672.8 130.5 674.7 133.1C676.6 135.7 678.1 138.1 679.5 141.5C681.0 144.9 681.6 149.7 683.5 153.4C685.3 157.1 688.0 160.6 690.7 163.7C693.5 166.8 697.4 168.9 700.0 172.1C702.6 175.3 703.8 179.7 706.4 182.9C709.0 186.1 713.0 188.2 715.7 191.4C718.4 194.5 720.5 198.3 722.4 202.0C724.4 205.6 725.3 209.9 727.5 213.5C729.6 217.0 733.2 219.7 735.3 223.3C737.4 226.9 739.3 233.0 740.0 234.9"/>
<path d="M553.28 128.04C555.3 128.2 561.5 128.7 565.7 128.9C569.8 129.0 574.0 129.3 578.1 128.9C582.2 128.5 586.2 126.7 590.3 126.4C594.4 126.0 598.6 126.4 602.7 126.8C606.8 127.2 611.0 127.9 615.0 128.8C619.0 129.8 622.9 131.8 626.9 132.3C631.0 132.8 635.4 131.4 639.4 131.7C643.3 132.1 646.9 133.2 650.6 134.4C654.2 135.5 657.7 137.2 661.3 138.7C664.9 140.1 668.3 142.3 672.0 143.1C675.6 143.9 679.6 143.5 683.5 143.6C687.3 143.7 691.2 144.1 695.0 143.7C698.8 143.4 702.6 142.3 706.3 141.5C710.1 140.7 713.8 139.6 717.6 138.9C721.4 138.2 727.1 137.6 729.0 137.3"/>
<path d="M755.41 55.35C754.6 57.0 752.3 62.1 750.3 65.1C748.3 68.1 745.6 70.7 743.2 73.5C740.8 76.2 738.1 78.8 736.1 81.8C734.0 84.8 732.8 88.4 731.0 91.6C729.2 94.7 727.0 97.7 725.2 100.9C723.4 104.1 721.9 107.3 720.4 110.7C718.8 114.2 716.7 117.8 715.7 121.5C714.7 125.2 714.4 129.2 714.3 133.1C714.1 136.9 714.3 140.9 714.8 144.7C715.4 148.6 717.4 152.2 717.8 156.0C718.3 159.9 717.6 165.8 717.5 167.7"/>
<path d="M614.88 37.62C616.8 38.2 622.7 39.6 626.3 41.2C630.0 42.8 633.6 44.8 636.7 47.3C639.8 49.7 642.0 53.3 645.1 55.8C648.2 58.3 651.8 60.1 655.3 62.2C658.7 64.2 662.7 65.6 665.7 68.1C668.7 70.6 671.1 74.6 673.5 77.2C675.8 79.9 677.4 82.1 679.8 83.9C682.2 85.6 685.3 86.6 688.0 87.9C690.8 89.1 693.5 90.6 696.4 91.5C699.3 92.4 702.4 92.8 705.4 93.3C708.4 93.8 711.5 93.8 714.5 94.2C717.5 94.7 720.6 95.1 723.5 95.9C726.5 96.7 730.7 98.5 732.1 99.0"/>
<path d="M679.55 50.47C678.2 49.0 674.5 44.2 671.3 41.8C668.2 39.5 664.4 37.7 660.7 36.3C657.1 34.9 653.1 33.7 649.2 33.4C645.3 33.1 641.1 33.6 637.3 34.6C633.5 35.5 630.2 38.1 626.4 39.4C622.7 40.7 618.5 40.9 614.9 42.5C611.3 44.0 608.1 46.6 604.7 48.7C601.3 50.7 597.8 52.6 594.5 54.8C591.3 57.1 588.2 59.6 585.3 62.2C582.4 64.8 579.9 67.9 577.1 70.6C574.3 73.3 571.4 76.1 568.4 78.6C565.4 81.1 562.3 83.5 559.1 85.7C555.9 88.0 550.7 90.9 549.1 91.9"/>
<path d="M586.02 102.77C587.7 104.0 592.5 108.2 596.2 110.2C599.9 112.1 604.1 113.2 608.1 114.3C612.1 115.5 616.5 115.6 620.3 117.2C624.1 118.8 627.5 121.6 630.9 124.0C634.4 126.3 637.5 129.4 641.2 131.3C644.9 133.2 649.2 133.8 653.1 135.2C657.1 136.5 662.0 137.7 665.0 139.5C667.9 141.2 669.2 143.3 670.9 145.5C672.6 147.6 674.2 150.1 675.4 152.6C676.5 155.1 677.2 157.9 677.8 160.7C678.4 163.4 678.2 166.3 678.8 169.1C679.3 171.8 680.4 174.5 681.1 177.2C681.7 179.9 682.2 182.7 682.8 185.4C683.3 188.2 684.2 192.3 684.5 193.7"/>
<path d="M543.16 77.09C545.1 77.4 550.8 78.8 554.7 79.1C558.5 79.4 562.4 78.9 566.3 78.6C570.2 78.3 574.2 78.2 577.9 77.2C581.6 76.1 585.3 74.4 588.5 72.4C591.8 70.3 594.1 66.9 597.3 64.7C600.6 62.5 604.4 60.9 608.0 59.2C611.7 57.5 615.5 56.2 619.2 54.6C622.9 53.1 626.8 52.0 630.3 50.0C633.7 48.0 636.5 44.9 639.8 42.7C643.1 40.4 648.3 37.4 650.0 36.4"/>
<path d="M508.2 73.21C509.9 74.3 515.1 77.3 518.1 79.9C521.2 82.4 523.8 85.5 526.5 88.5C529.1 91.5 531.3 94.9 534.0 97.8C536.7 100.8 540.0 103.1 542.7 106.1C545.4 109.0 548.0 112.1 550.2 115.4C552.5 118.7 554.6 122.1 556.4 125.7C558.2 129.3 559.9 133.0 560.9 136.8C562.0 140.6 562.2 145.0 562.8 148.6C563.4 152.3 564.4 155.4 564.5 158.8C564.6 162.1 563.8 165.6 563.3 168.9C562.8 172.3 562.2 175.7 561.5 179.0C560.7 182.4 559.3 185.6 559.0 189.0C558.6 192.4 559.7 195.9 559.1 199.3C558.6 202.6 557.4 206.0 555.9 209.0C554.4 212.0 552.0 214.6 550.2 217.5C548.4 220.5 546.1 225.1 545.3 226.6"/>
<path d="M752.78 95.89C751.6 96.8 748.1 99.3 745.9 101.2C743.8 103.1 741.8 105.2 739.9 107.4C738.0 109.6 736.6 112.2 734.5 114.2C732.4 116.2 729.9 117.6 727.5 119.3C725.1 120.9 722.6 122.6 720.1 123.9C717.7 125.3 714.8 125.8 712.5 127.3C710.3 128.9 708.2 130.9 706.5 133.1C704.8 135.3 703.9 138.1 702.5 140.5C701.1 142.8 699.4 145.1 698.0 147.5C696.6 149.9 694.9 152.2 693.9 154.8C693.0 157.4 692.8 160.3 692.5 163.0C692.2 165.8 692.3 168.6 692.0 171.4C691.8 174.1 691.0 176.9 691.0 179.7C691.0 182.4 691.8 186.6 692.0 187.9"/>
<path d="M720.15 71.33C718.9 72.3 714.8 75.0 712.5 77.2C710.2 79.4 708.1 81.9 706.2 84.5C704.4 87.1 702.5 89.8 701.3 92.8C700.1 95.7 700.2 99.2 698.9 102.1C697.6 105.0 695.4 107.6 693.4 110.0C691.4 112.4 689.2 114.6 686.8 116.5C684.5 118.5 681.8 120.1 679.1 121.6C676.3 123.0 673.2 123.7 670.6 125.3C668.0 127.0 665.8 129.3 663.7 131.5C661.6 133.8 660.2 136.7 658.0 138.8C655.8 141.0 653.1 142.6 650.6 144.4C648.0 146.1 645.3 147.6 642.7 149.3C640.2 151.1 638.0 153.4 635.3 154.9C632.6 156.3 629.5 157.0 626.6 158.0C623.7 159.1 619.3 160.6 617.8 161.1"/>
<path d="M676.09 120.41C676.5 121.9 677.7 126.3 678.5 129.2C679.3 132.2 679.9 135.2 681.1 138.0C682.2 140.8 683.6 143.7 685.5 146.1C687.3 148.4 689.7 150.5 692.1 152.4C694.5 154.2 697.3 155.5 700.0 157.0C702.6 158.6 705.5 159.2 707.9 161.6C710.3 163.9 712.0 168.2 714.4 171.3C716.7 174.3 719.1 177.6 722.1 180.0C725.1 182.4 728.7 184.2 732.3 185.6C735.9 187.0 740.0 187.1 743.5 188.5C747.1 189.9 750.2 192.8 753.8 194.1C757.4 195.4 761.4 195.4 765.1 196.6C768.8 197.7 772.6 199.0 775.9 201.1C779.1 203.2 781.8 206.1 784.4 209.0C786.9 211.9 789.9 217.0 791.0 218.6"/>
<path d="M553.39 7.34C554.5 8.1 557.9 10.3 560.2 11.7C562.5 13.1 564.9 14.3 567.2 15.7C569.4 17.2 571.5 19.0 573.8 20.3C576.1 21.7 578.9 22.3 581.1 23.6C583.4 25.0 585.4 26.9 587.5 28.6C589.6 30.2 591.6 32.2 593.9 33.5C596.2 34.8 599.0 35.2 601.5 36.3C604.0 37.3 605.9 38.5 608.8 39.6C611.8 40.7 615.7 41.9 619.2 42.9C622.7 43.9 626.2 45.3 629.7 45.8C633.3 46.4 637.0 46.0 640.6 46.1C644.3 46.3 647.9 46.8 651.5 46.7C655.2 46.7 658.8 45.6 662.4 45.8C666.0 46.0 669.6 47.0 673.1 48.0C676.6 49.1 679.7 51.2 683.2 52.2C686.7 53.1 692.2 53.3 694.1 53.5"/>
<path d="M645.81 28.29C647.0 29.5 650.4 33.5 653.3 35.4C656.1 37.3 659.8 37.7 662.6 39.6C665.4 41.5 668.1 43.9 670.1 46.6C672.1 49.3 673.4 52.7 674.7 55.8C676.0 59.0 677.4 62.2 678.1 65.5C678.8 68.8 679.0 72.4 678.7 75.8C678.5 79.2 677.5 82.5 676.8 85.9C676.0 89.2 674.4 92.6 674.3 95.8C674.2 99.1 675.7 102.1 676.3 105.2C677.0 108.3 677.7 111.4 678.4 114.5C679.1 117.6 679.5 120.8 680.5 123.8C681.6 126.8 683.1 129.6 684.6 132.4C686.1 135.2 687.4 138.3 689.5 140.6C691.5 143.0 694.8 144.3 696.9 146.6C699.0 149.0 700.7 151.8 702.0 154.7C703.3 157.6 703.7 160.9 704.8 163.8C706.0 166.8 708.1 169.4 708.9 172.5C709.7 175.5 709.5 180.4 709.7 182.0"/>
<path d="M510.63 206.19C511.7 205.3 515.3 202.8 517.2 200.7C519.1 198.6 520.3 195.9 522.3 193.8C524.2 191.7 526.5 189.9 528.8 188.3C531.1 186.6 533.5 184.9 536.1 183.8C538.7 182.7 541.5 181.9 544.3 181.4C547.1 180.9 550.1 181.4 552.8 180.9C555.6 180.4 558.3 179.1 561.0 178.3C563.7 177.4 566.0 176.6 569.2 175.8C572.4 175.0 576.8 174.8 580.3 173.4C583.8 172.0 586.5 168.9 590.0 167.4C593.4 166.0 597.3 164.9 601.0 164.7C604.7 164.4 608.7 164.9 612.3 165.9C616.0 166.8 619.2 169.4 622.8 170.3C626.4 171.3 632.2 171.2 634.1 171.4"/>
<path d="M574.43 46.94C575.9 47.3 580.4 48.6 583.5 49.4C586.5 50.1 589.5 51.2 592.6 51.5C595.7 51.8 598.9 51.8 601.9 51.3C605.0 50.7 607.8 49.2 610.8 48.3C613.8 47.5 616.9 46.9 620.0 46.4C623.1 46.0 626.0 46.2 629.3 45.6C632.5 44.9 636.1 43.3 639.5 42.5C643.0 41.7 646.5 41.2 650.1 40.8C653.6 40.4 657.3 40.8 660.8 40.2C664.2 39.5 667.6 38.0 671.0 37.1C674.4 36.1 677.9 35.3 681.3 34.3C684.8 33.3 688.2 32.3 691.6 31.2C695.0 30.2 700.1 28.6 701.8 28.1"/>
<path d="M557.99 109.02C558.9 110.2 561.5 114.2 563.7 116.4C565.9 118.5 568.7 120.2 571.2 121.9C573.7 123.7 576.2 125.7 579.0 127.0C581.7 128.4 585.1 128.7 587.8 130.2C590.5 131.6 592.5 134.3 595.2 135.8C597.9 137.2 601.1 137.9 604.0 138.8C607.0 139.7 610.0 140.8 613.1 141.1C616.1 141.4 619.3 140.7 622.4 140.5C625.4 140.3 628.4 140.4 631.3 140.0C634.3 139.5 637.1 138.1 640.0 137.8C643.0 137.5 646.1 137.6 649.0 138.2C651.9 138.9 654.6 140.4 657.3 141.6C660.0 142.9 662.9 144.0 665.3 145.8C667.6 147.6 669.0 150.6 671.3 152.4C673.7 154.3 676.6 155.3 679.2 156.8C681.8 158.3 685.6 160.6 686.9 161.4"/>
<path d="M563.72 8.93C564.8 10.1 568.0 13.7 570.2 16.0C572.3 18.4 574.4 20.8 576.7 23.1C578.9 25.3 581.8 27.0 583.9 29.4C585.9 31.8 587.4 34.6 589.1 37.4C590.7 40.3 592.8 43.2 593.9 46.3C595.1 49.4 595.6 52.9 596.1 56.2C596.6 59.5 596.4 62.9 596.9 66.3C597.4 69.6 598.5 72.8 599.1 76.1C599.6 79.4 599.4 82.9 600.2 86.2C601.0 89.4 603.3 94.0 603.9 95.6"/>
<path d="M574.53 22.09C574.1 23.7 572.7 28.5 572.2 31.8C571.6 35.1 571.8 38.5 571.2 41.7C570.6 45.0 568.7 48.0 568.3 51.3C567.9 54.5 568.2 58.0 568.7 61.2C569.3 64.5 570.4 67.9 571.5 70.8C572.6 73.7 574.3 75.9 575.1 78.6C575.9 81.3 575.7 84.3 576.2 87.1C576.8 89.9 577.6 92.6 578.3 95.4C579.1 98.1 580.5 100.7 580.9 103.5C581.2 106.3 580.8 109.2 580.5 112.1C580.1 114.9 579.1 119.1 578.8 120.5"/>
<path d="M687.39 126.94C688.2 128.6 690.0 133.9 692.1 136.8C694.2 139.8 696.9 142.5 699.8 144.7C702.7 146.8 706.6 147.4 709.5 149.9C712.3 152.3 713.8 156.6 716.7 159.3C719.5 161.9 723.0 164.2 726.5 165.8C730.1 167.5 734.0 168.7 737.9 169.1C741.8 169.5 745.8 168.5 749.7 168.3C753.7 168.1 757.6 167.9 761.6 167.9C765.5 167.9 771.4 168.3 773.4 168.4"/>
<path d="M564.3 173.38C565.6 172.3 569.2 168.6 572.0 166.7C574.8 164.8 578.0 163.4 581.1 162.1C584.3 160.7 587.8 159.6 590.7 158.6C593.7 157.5 596.3 157.2 598.8 156.0C601.4 154.8 603.5 152.8 606.0 151.4C608.4 150.0 611.0 148.8 613.6 147.7C616.2 146.6 619.0 146.0 621.7 145.0C624.3 144.0 627.1 143.2 629.6 141.9C632.1 140.6 634.5 138.9 636.5 136.9C638.4 135.0 639.4 132.0 641.3 129.9C643.2 127.9 645.7 126.4 648.0 124.7C650.3 123.1 653.9 120.8 655.1 120.0"/>
<path d="M516.3 80.48C516.5 82.1 516.5 87.2 517.2 90.4C517.9 93.6 519.0 96.9 520.6 99.7C522.2 102.5 525.0 104.6 527.0 107.3C528.9 109.9 531.0 112.6 532.3 115.7C533.6 118.7 534.2 122.4 534.7 125.8C535.2 129.2 534.9 132.7 535.4 136.2C535.9 139.6 536.9 142.9 537.8 146.3C538.6 149.6 539.5 153.0 540.4 156.3C541.3 159.7 542.1 163.1 543.3 166.3C544.5 169.6 545.7 172.9 547.4 175.9C549.1 178.9 551.2 181.8 553.5 184.3C555.8 186.9 559.2 188.4 561.4 191.1C563.6 193.7 565.7 198.6 566.5 200.1"/>
<path d="M508.86 130.75C509.2 132.2 509.9 136.8 511.1 139.5C512.4 142.3 514.8 144.4 516.3 147.0C517.7 149.7 518.5 152.7 519.9 155.4C521.3 158.0 523.0 160.6 524.9 162.9C526.8 165.3 528.9 167.5 531.2 169.5C533.5 171.4 535.8 173.8 538.6 174.8C541.4 175.8 544.8 175.0 547.9 175.4C551.0 175.7 554.0 176.9 557.0 177.1C560.1 177.2 563.2 176.5 566.3 176.4C569.4 176.2 572.6 176.5 575.6 176.1C578.7 175.6 581.6 174.3 584.6 173.8C587.7 173.3 590.8 173.2 593.9 173.0C597.0 172.8 601.7 172.7 603.2 172.6"/>
<path d="M626.64 225.13C627.7 224.2 630.9 221.3 633.0 219.4C635.0 217.4 636.9 215.3 639.0 213.3C641.1 211.4 643.2 209.5 645.4 207.7C647.6 205.8 650.2 204.4 652.2 202.4C654.2 200.4 655.6 197.9 657.5 195.7C659.4 193.6 661.5 191.7 663.4 189.5C665.3 187.4 667.1 185.2 669.0 183.0C670.8 180.8 672.0 179.1 674.4 176.4C676.8 173.8 680.9 170.6 683.5 167.2C686.1 163.7 688.1 159.8 690.0 155.9C691.9 152.0 693.1 147.8 694.7 143.8C696.3 139.8 698.8 136.0 699.8 131.9C700.7 127.7 700.5 123.2 700.4 118.9C700.4 114.6 699.7 110.2 699.5 105.9C699.3 101.6 698.7 97.2 699.3 92.9C699.8 88.7 702.3 82.5 702.9 80.5"/>
<path d="M647.39 121.54C649.1 120.7 654.1 118.1 657.6 116.5C661.0 115.0 664.4 113.3 668.0 112.1C671.6 110.9 675.4 110.3 679.0 109.4C682.7 108.5 686.3 107.5 690.0 106.4C693.6 105.4 697.3 104.4 700.8 103.1C704.4 101.9 707.8 100.3 711.3 98.8C714.8 97.4 718.3 95.8 721.8 94.4C725.3 92.9 728.8 91.7 732.3 90.2C735.8 88.8 739.5 87.6 742.7 85.7C746.0 83.8 749.0 81.4 751.9 79.0C754.8 76.6 757.2 73.7 760.1 71.2C763.0 68.8 766.5 67.0 769.2 64.4C771.9 61.8 774.1 58.6 776.2 55.5C778.3 52.3 779.8 48.8 781.7 45.6C783.7 42.4 785.9 39.3 788.0 36.1C790.1 33.0 793.2 28.2 794.2 26.7"/>
<path d="M653 122.54C653.6 124.2 655.3 129.0 656.4 132.3C657.4 135.6 658.7 138.9 659.3 142.2C659.8 145.6 659.0 149.2 659.4 152.6C659.8 156.0 660.9 159.3 661.6 162.7C662.4 166.1 664.3 169.5 663.8 172.8C663.4 176.1 660.0 179.0 658.8 182.3C657.6 185.6 656.7 189.3 656.5 192.8C656.3 196.3 658.0 199.9 657.8 203.4C657.6 207.0 655.5 210.4 655.3 213.9C655.1 217.4 656.5 221.0 656.6 224.6C656.7 228.1 656.4 231.7 656.2 235.3C656.0 238.9 655.6 242.5 655.7 246.0C655.7 249.6 656.3 253.2 656.7 256.7C657.1 260.3 658.0 265.6 658.2 267.4"/>
<path d="M504.46 159.27C506.4 158.7 512.0 157.0 515.8 155.9C519.6 154.9 523.4 153.5 527.3 153.1C531.2 152.7 535.3 152.9 539.2 153.6C543.0 154.3 546.6 156.4 550.4 157.3C554.3 158.2 558.8 158.6 562.2 158.9C565.5 159.2 567.6 159.2 570.4 159.1C573.1 159.0 575.9 158.8 578.5 158.3C581.2 157.8 583.8 156.7 586.4 156.1C589.1 155.5 591.9 155.5 594.5 154.7C597.1 153.9 600.7 151.8 601.9 151.2"/>
<path d="M598.43 234.86C599.0 233.3 601.0 228.7 601.9 225.6C602.8 222.4 602.7 219.0 603.7 215.8C604.6 212.7 605.8 209.5 607.5 206.7C609.1 203.8 611.6 201.5 613.6 198.8C615.5 196.1 617.2 193.2 619.2 190.6C621.2 188.0 623.1 186.0 625.8 183.2C628.4 180.5 631.5 176.6 635.0 174.1C638.5 171.7 642.8 170.3 646.8 168.5C650.7 166.8 654.7 164.8 658.9 163.8C663.0 162.8 667.7 163.7 671.8 162.6C675.9 161.6 680.1 159.8 683.7 157.4C687.2 155.0 689.6 151.0 693.1 148.4C696.5 145.9 702.5 143.1 704.4 142.0"/>
<path d="M526.13 101.37C526.4 103.5 527.0 109.8 527.9 113.9C528.9 118.0 530.7 121.9 532.1 125.9C533.6 129.8 534.5 134.1 536.7 137.7C538.8 141.2 541.8 144.5 545.0 147.2C548.2 149.9 551.9 152.2 555.7 153.9C559.5 155.7 563.6 157.0 567.7 157.8C571.8 158.5 576.1 158.6 580.3 158.6C584.4 158.6 588.6 157.7 592.8 157.5C597.0 157.3 601.2 157.4 605.4 157.2C609.6 157.0 613.8 156.8 617.9 156.4C622.1 156.0 626.5 155.9 630.4 154.7C634.3 153.4 637.9 150.9 641.5 148.8C645.1 146.7 650.4 143.2 652.1 142.0"/>
<path d="M546.65 191.2C547.2 189.2 549.0 183.2 549.9 179.2C550.8 175.2 551.0 170.9 552.1 167.0C553.3 163.0 554.6 158.9 556.8 155.4C558.9 152.0 562.1 149.0 565.2 146.3C568.2 143.5 571.6 140.9 575.2 138.9C578.7 136.8 582.6 135.1 586.5 133.9C590.5 132.7 594.8 133.1 598.8 131.8C602.8 130.6 606.8 128.6 610.5 126.5C614.3 124.5 617.6 121.7 621.4 119.6C625.1 117.5 629.5 116.4 633.0 114.1C636.5 111.7 639.6 108.5 642.4 105.2C645.2 102.0 647.2 98.1 649.9 94.7C652.5 91.4 655.8 88.5 658.3 85.0C660.8 81.5 662.3 77.3 664.9 73.9C667.5 70.5 670.7 67.5 673.7 64.5C676.8 61.5 680.2 58.8 683.2 55.8C686.3 52.9 690.7 48.2 692.2 46.6"/>
<path d="M670.95 105.5C671.2 107.4 672.0 113.2 672.3 117.0C672.5 120.8 671.8 124.8 672.3 128.6C672.7 132.4 674.1 136.0 674.9 139.8C675.8 143.6 676.4 147.4 677.5 151.1C678.6 154.8 679.6 158.6 681.4 162.0C683.2 165.3 686.0 168.8 688.2 171.3C690.4 173.8 692.6 174.9 694.5 176.9C696.5 178.9 698.0 181.3 699.8 183.4C701.7 185.6 703.7 187.5 705.4 189.8C707.1 192.0 708.7 194.4 710.0 196.9C711.3 199.3 712.8 203.3 713.3 204.6"/>
<path d="M533.81 99.56C535.0 101.1 538.1 106.2 540.8 108.9C543.6 111.6 546.9 113.9 550.2 115.9C553.5 117.9 557.1 119.8 560.8 120.8C564.5 121.8 568.6 121.5 572.5 121.8C576.3 122.2 580.3 122.3 584.1 123.0C587.9 123.7 592.1 125.4 595.4 126.0C598.7 126.7 601.0 126.5 603.9 126.8C606.7 127.0 609.5 127.2 612.4 127.3C615.2 127.5 618.0 127.8 620.9 127.8C623.7 127.8 626.5 127.7 629.4 127.4C632.2 127.1 635.0 126.5 637.8 126.1C640.6 125.8 643.5 126.0 646.3 125.4C649.0 124.8 651.6 123.6 654.3 122.6C657.0 121.7 659.8 121.0 662.3 119.7C664.8 118.4 667.0 116.5 669.3 114.9C671.7 113.3 675.2 110.9 676.4 110.1"/>
<path d="M599.92 146.62C601.1 147.4 604.7 149.6 607.0 151.2C609.3 152.8 611.5 154.7 613.8 156.3C616.1 157.9 618.3 159.7 620.8 161.1C623.2 162.5 625.1 163.8 628.4 164.7C631.7 165.6 636.6 166.0 640.7 166.6C644.8 167.3 648.9 168.0 653.0 168.6C657.1 169.2 661.2 169.8 665.3 170.3C669.4 170.9 673.6 171.0 677.6 171.7C681.7 172.4 687.8 173.8 689.8 174.3"/>
<path d="M500.28 88.61C501.3 89.6 504.1 92.6 506.2 94.4C508.3 96.2 510.4 97.9 512.7 99.5C514.9 101.1 517.3 102.5 519.6 103.9C521.9 105.4 524.1 107.3 526.5 108.5C529.0 109.7 531.2 110.2 534.3 111.2C537.4 112.1 541.5 113.0 545.1 114.1C548.7 115.1 552.1 117.0 555.7 117.5C559.3 118.1 563.2 117.3 566.9 117.4C570.6 117.5 574.4 117.5 578.0 118.1C581.7 118.7 585.2 120.0 588.8 121.1C592.3 122.2 595.9 123.3 599.4 124.7C602.8 126.1 606.0 128.1 609.4 129.5C612.9 130.9 616.4 132.1 620.0 133.2C623.5 134.3 629.0 135.6 630.8 136.0"/>
<path d="M563.26 187.15C565.4 187.3 571.9 188.2 576.2 188.3C580.5 188.4 584.9 188.4 589.1 187.7C593.4 187.1 597.5 185.3 601.7 184.4C605.9 183.6 610.3 182.8 614.6 182.9C618.9 183.0 624.0 184.1 627.4 185.1C630.8 186.1 632.7 187.1 634.9 188.7C637.1 190.3 638.6 193.0 640.7 194.7C642.9 196.4 645.6 197.5 648.0 198.9C650.4 200.3 652.8 201.7 655.2 203.1C657.6 204.4 660.2 205.6 662.5 207.2C664.7 208.9 666.5 211.2 668.7 212.8C671.0 214.4 673.5 215.6 676.0 216.9C678.5 218.2 681.2 219.0 683.6 220.4C686.0 221.8 689.2 224.5 690.4 225.3"/>
<path d="M462.87 50.24C464.8 50.9 470.8 52.7 474.7 54.2C478.5 55.7 482.6 57.0 486.0 59.3C489.5 61.5 492.3 64.8 495.2 67.7C498.2 70.6 501.1 73.6 503.7 76.8C506.3 80.1 508.5 83.6 510.7 87.1C512.9 90.7 515.3 94.2 516.8 98.0C518.4 101.8 518.4 106.3 520.0 110.0C521.7 113.8 524.8 117.4 526.7 120.5C528.6 123.6 530.4 125.8 531.6 128.7C532.7 131.6 533.2 134.8 533.7 138.0C534.3 141.1 534.1 144.4 535.0 147.4C535.8 150.4 537.7 153.2 538.6 156.2C539.5 159.2 540.2 162.4 540.3 165.6C540.5 168.7 540.2 172.0 539.5 175.0C538.8 178.1 536.6 182.4 536.0 183.9"/>
<path d="M662.46 120.8C662.0 122.6 661.0 128.3 659.4 131.6C657.9 134.9 655.0 137.6 653.0 140.8C651.0 143.9 649.8 147.5 647.4 150.5C644.9 153.5 641.6 156.3 638.4 158.7C635.1 161.2 631.3 162.8 627.9 165.0C624.5 167.2 621.2 169.7 617.8 172.0C614.4 174.2 610.7 176.0 607.5 178.5C604.3 181.0 601.9 184.5 598.7 187.0C595.5 189.6 591.9 191.5 588.5 193.7C585.0 195.8 581.6 198.2 578.0 200.0C574.4 201.8 570.2 202.6 566.7 204.6C563.1 206.6 559.7 209.0 556.7 211.7C553.7 214.5 550.0 219.3 548.6 220.9"/>
<path d="M666.89 207.1C667.9 206.2 670.7 203.2 672.7 201.4C674.8 199.7 677.2 198.2 679.3 196.6C681.5 194.9 683.4 192.9 685.7 191.5C688.0 190.1 690.6 189.2 693.2 188.2C695.7 187.3 698.4 186.7 700.9 185.8C703.5 184.8 706.2 184.1 708.5 182.6C710.7 181.2 712.7 179.7 714.5 177.1C716.2 174.4 718.2 170.4 719.1 166.8C720.1 163.2 720.0 159.3 720.1 155.6C720.1 151.8 719.0 148.0 719.3 144.3C719.6 140.6 720.7 136.9 721.8 133.3C722.9 129.7 725.1 126.5 726.1 122.8C727.0 119.2 727.2 113.5 727.5 111.6"/>
<path d="M614.02 -4.29C613.6 -2.5 612.2 2.7 611.7 6.2C611.3 9.8 611.1 13.4 611.2 17.0C611.4 20.5 611.8 24.2 612.7 27.6C613.7 31.0 615.8 34.1 616.9 37.5C618.0 40.9 618.7 44.5 619.4 48.0C620.1 51.5 620.8 55.1 620.8 58.6C620.9 62.2 619.3 66.2 619.8 69.3C620.3 72.5 623.0 74.6 623.9 77.5C624.7 80.4 624.2 83.7 624.8 86.6C625.4 89.6 626.4 92.5 627.5 95.4C628.6 98.2 630.0 101.0 631.4 103.7C632.7 106.4 634.4 109.0 635.7 111.8C637.1 114.5 638.9 118.7 639.5 120.1"/>
<path d="M614.61 48.4C615.2 49.9 616.9 54.5 618.3 57.5C619.7 60.4 621.7 63.1 623.1 66.0C624.5 69.0 625.3 72.0 626.6 75.2C627.9 78.3 629.4 81.6 631.0 84.7C632.5 87.9 634.5 90.8 635.9 94.0C637.3 97.3 638.1 100.7 639.3 104.0C640.6 107.3 642.7 110.3 643.4 113.7C644.2 117.1 643.5 120.8 644.0 124.2C644.5 127.7 646.1 131.0 646.3 134.5C646.4 138.0 645.5 141.5 645.0 145.0C644.5 148.4 643.4 151.9 643.2 155.3C643.1 158.8 643.7 162.4 644.3 165.8C644.8 169.3 646.1 174.4 646.5 176.1"/>
<path d="M595.56 29.9C595.7 31.7 596.1 37.2 596.2 40.9C596.2 44.6 595.7 48.3 596.0 52.0C596.3 55.6 597.6 59.2 597.8 62.8C597.9 66.5 597.4 70.2 597.0 73.9C596.6 77.5 596.1 81.2 595.5 84.8C595.0 88.4 594.4 92.1 593.6 95.7C592.8 99.2 591.6 102.7 590.7 106.2C589.9 109.7 589.1 113.3 588.7 116.9C588.3 120.5 587.7 124.3 588.2 127.8C588.6 131.4 590.8 134.7 591.4 138.2C592.0 141.8 591.4 145.5 591.7 149.2C592.0 152.8 592.2 156.5 593.1 160.0C593.9 163.5 595.4 166.9 596.6 170.3C597.9 173.7 599.0 177.2 600.4 180.5C601.8 183.9 603.1 187.4 605.0 190.5C606.9 193.5 610.6 197.6 611.8 199.0"/>
<path d="M658.43 50.5C659.5 51.6 662.8 54.8 664.8 57.1C666.8 59.4 668.3 62.1 670.4 64.3C672.5 66.5 675.1 68.3 677.4 70.3C679.6 72.4 682.1 74.3 683.9 76.7C685.7 79.2 686.7 82.2 687.9 85.0C689.1 87.8 690.0 90.7 691.2 93.5C692.5 96.3 694.2 98.9 695.4 101.7C696.6 104.5 697.2 107.7 698.5 110.3C699.8 112.9 701.4 115.0 703.0 117.3C704.6 119.5 706.1 121.9 708.1 123.8C710.1 125.7 712.7 126.9 714.8 128.6C717.0 130.4 718.8 132.5 721.0 134.1C723.2 135.8 726.0 136.8 728.0 138.7C730.0 140.5 731.8 142.8 733.1 145.1C734.5 147.5 734.8 150.5 736.2 152.9C737.6 155.2 739.6 157.3 741.6 159.2C743.6 161.0 746.1 162.3 748.2 164.1C750.3 165.9 753.2 168.9 754.2 169.9"/>
<path d="M651.2 192.62C652.6 191.4 656.5 187.4 659.6 185.5C662.6 183.6 666.5 183.0 669.7 181.3C673.0 179.6 676.3 177.7 679.0 175.3C681.7 172.9 683.5 169.6 686.0 166.9C688.5 164.2 691.3 161.8 694.0 159.3C696.6 156.7 699.6 154.7 702.0 151.7C704.4 148.7 706.9 145.0 708.4 141.3C709.9 137.5 709.6 133.2 710.8 129.3C712.1 125.4 714.0 121.8 715.6 118.0C717.3 114.3 718.9 110.6 720.9 107.0C722.8 103.4 726.3 98.3 727.3 96.6"/>
<path d="M652.33 95.93C653.3 97.7 656.8 103.0 658.2 106.8C659.6 110.7 660.2 114.9 660.5 119.0C660.9 123.1 660.7 127.3 660.3 131.4C659.9 135.5 659.2 139.6 658.2 143.6C657.2 147.6 655.4 151.4 654.6 155.4C653.7 159.4 653.7 163.6 653.0 167.7C652.2 171.7 651.2 176.5 650.1 179.7C648.9 182.9 647.3 184.5 646.1 186.9C644.9 189.4 644.0 192.0 642.9 194.5C641.7 197.0 640.7 199.6 639.3 202.0C638.0 204.4 636.3 206.6 634.9 208.9C633.4 211.3 632.2 213.7 630.7 216.0C629.2 218.4 626.8 221.7 626.0 222.8"/>
<path d="M558.24 123.97C559.7 122.5 564.0 117.8 567.1 115.0C570.3 112.2 573.5 109.3 577.1 107.3C580.8 105.4 585.2 104.8 589.1 103.2C593.0 101.7 596.7 99.6 600.5 97.9C604.3 96.2 608.7 93.6 612.0 92.8C615.4 92.1 617.6 93.6 620.4 93.4C623.1 93.1 625.8 91.6 628.5 91.4C631.2 91.2 634.1 92.0 636.8 92.0C639.6 92.1 642.4 92.1 645.2 91.8C648.0 91.5 652.1 90.7 653.5 90.4"/>
<path d="M619.98 137.52C621.4 138.1 625.9 139.2 628.5 140.8C631.1 142.3 633.2 144.5 635.5 146.6C637.7 148.6 639.4 151.3 641.8 153.0C644.3 154.8 647.6 155.2 650.0 156.9C652.5 158.6 654.6 161.0 656.6 163.2C658.6 165.4 660.1 168.2 662.3 170.3C664.4 172.4 667.1 173.9 669.5 175.7C671.9 177.6 674.0 179.9 676.6 181.4C679.3 182.9 682.5 184.0 685.5 184.8C688.6 185.5 692.0 185.1 695.0 186.0C698.0 186.9 700.7 188.9 703.6 190.1C706.5 191.3 709.7 192.0 712.6 193.3C715.5 194.6 718.1 196.3 720.9 197.9C723.6 199.5 726.3 201.3 729.1 202.8C731.8 204.4 734.7 205.8 737.6 207.1C740.4 208.4 745.0 210.0 746.4 210.6"/>
<path d="M573.68 20.06C573.0 21.8 571.0 27.0 569.8 30.5C568.7 34.0 567.5 37.6 566.8 41.2C566.0 44.8 565.2 48.5 565.2 52.2C565.1 55.9 566.0 59.6 566.3 63.3C566.6 67.0 566.4 70.8 567.0 74.4C567.6 78.1 568.7 82.2 569.8 85.2C571.0 88.2 572.6 90.0 573.8 92.6C574.9 95.1 575.5 97.9 576.6 100.5C577.8 103.0 579.6 105.3 580.6 107.9C581.5 110.5 581.4 113.5 582.3 116.1C583.2 118.7 585.3 122.4 585.9 123.7"/>
<path d="M504.29 107.04C505.8 105.8 510.5 102.2 513.6 99.8C516.8 97.5 519.8 94.9 523.2 92.9C526.5 90.9 530.3 89.5 533.8 87.8C537.4 86.1 541.1 84.6 544.5 82.8C547.9 80.9 551.3 79.1 554.2 76.7C557.2 74.2 560.0 71.4 562.1 68.2C564.2 65.1 565.7 61.3 566.6 57.7C567.6 54.0 567.4 50.0 567.8 46.2C568.1 42.4 568.5 38.5 568.5 34.7C568.4 30.9 567.1 27.0 567.4 23.3C567.7 19.5 570.0 15.9 570.4 12.1C570.9 8.4 570.0 4.5 570.1 0.6C570.2 -3.2 570.8 -7.0 570.8 -10.9C570.8 -14.7 570.1 -20.4 569.9 -22.3"/>
<path d="M489.51 134.02C491.4 134.2 497.1 135.2 500.7 134.8C504.4 134.4 507.9 132.2 511.5 131.7C515.2 131.3 519.0 131.8 522.8 132.2C526.5 132.6 530.1 133.6 533.8 134.1C537.5 134.7 541.3 135.1 545.0 135.4C548.7 135.7 552.5 135.4 556.2 136.0C559.9 136.5 563.3 138.9 567.1 138.9C570.8 138.8 574.7 136.1 578.7 135.6C582.6 135.1 586.7 136.4 590.7 135.9C594.6 135.4 598.6 134.1 602.3 132.7C606.0 131.3 609.4 129.1 613.1 127.4C616.7 125.6 620.3 123.8 624.0 122.4C627.8 121.0 631.7 120.0 635.6 119.1C639.5 118.2 645.5 117.4 647.5 117.0"/>
<path d="M525.64 81.39C525.6 83.4 525.5 89.6 525.5 93.7C525.4 97.8 524.8 102.0 525.4 106.0C526.0 110.0 527.6 114.0 529.2 117.7C530.8 121.5 533.8 125.4 535.1 128.5C536.4 131.7 537.0 134.0 537.2 136.8C537.4 139.6 536.7 142.5 536.4 145.3C536.2 148.1 535.8 150.9 535.6 153.8C535.4 156.6 535.4 159.4 535.0 162.3C534.6 165.1 533.7 167.8 533.4 170.6C533.2 173.4 533.4 176.3 533.5 179.1C533.6 182.0 533.9 186.2 534.0 187.6"/>
<path d="M604.17 131.67C604.7 133.1 606.6 137.2 607.5 140.1C608.5 143.0 608.8 146.1 609.8 148.9C610.7 151.8 612.2 154.5 613.2 157.4C614.1 160.2 614.5 163.3 615.6 166.2C616.6 169.0 617.8 172.0 619.3 174.4C620.9 176.8 622.9 178.7 625.0 180.6C627.0 182.5 629.4 184.0 631.4 185.8C633.5 187.6 635.2 190.0 637.4 191.6C639.6 193.2 642.1 194.6 644.7 195.6C647.3 196.5 650.1 196.7 652.8 197.4C655.5 198.1 659.5 199.2 660.9 199.5"/>
<path d="M514.59 183.86C516.4 183.2 522.1 181.5 525.6 179.8C529.1 178.1 532.5 175.9 535.6 173.6C538.7 171.2 541.4 168.3 544.3 165.6C547.2 163.0 550.1 160.0 552.8 157.5C555.5 155.0 557.7 152.6 560.3 150.4C563.0 148.3 566.3 146.8 568.7 144.4C571.0 142.0 572.8 138.9 574.5 135.9C576.1 132.8 576.7 129.3 578.5 126.4C580.3 123.5 582.9 121.1 585.2 118.5C587.6 116.0 590.4 113.9 592.5 111.2C594.6 108.5 596.6 105.6 598.1 102.5C599.6 99.5 600.1 95.9 601.6 92.8C603.2 89.8 605.3 87.0 607.5 84.4C609.7 81.7 613.5 78.2 614.7 77.0"/>
<path d="M676.06 65.09C677.6 66.5 682.0 71.1 685.3 73.7C688.6 76.2 692.2 78.3 695.8 80.5C699.4 82.8 703.5 84.2 706.7 86.9C709.8 89.6 712.3 93.1 714.7 96.6C717.0 100.1 718.2 104.5 720.8 107.7C723.4 111.0 727.4 113.1 730.3 116.1C733.3 119.1 736.4 122.2 738.7 125.7C740.9 129.3 741.8 133.6 743.8 137.4C745.8 141.1 748.4 144.5 750.5 148.2C752.6 151.8 754.5 155.7 756.3 159.5C758.1 163.3 759.4 167.4 761.3 171.2C763.1 175.0 765.8 178.4 767.2 182.4C768.6 186.4 768.2 190.9 769.6 194.9C771.0 198.8 774.5 204.3 775.5 206.2"/>
<path d="M574.82 167.77C576.4 166.9 581.0 164.1 584.3 162.7C587.5 161.3 591.0 160.2 594.4 159.3C597.9 158.4 601.4 157.7 604.9 157.2C608.4 156.7 612.1 157.0 615.6 156.4C619.1 155.8 622.9 153.9 625.9 153.7C629.0 153.5 631.3 154.6 633.9 155.2C636.6 155.7 639.2 156.7 641.8 157.0C644.5 157.2 647.2 156.7 649.9 156.6C652.7 156.4 655.4 156.3 658.1 156.1C660.7 155.8 663.4 155.1 666.1 155.1C668.8 155.0 671.6 155.1 674.2 155.7C676.8 156.3 680.5 158.1 681.8 158.6"/>
<path d="M459.47 106.19C461.5 106.7 467.7 107.4 471.4 109.0C475.1 110.6 478.3 113.3 481.6 115.7C484.9 118.1 487.7 121.3 491.2 123.3C494.7 125.3 499.0 125.9 502.5 127.8C506.1 129.8 508.8 133.3 512.3 135.2C515.9 137.1 520.3 137.4 523.8 139.4C527.3 141.5 529.9 145.0 533.1 147.4C536.3 149.7 539.4 151.9 542.8 153.7C546.2 155.5 550.0 156.3 553.5 158.0C557.0 159.6 560.6 161.3 563.5 163.7C566.5 166.1 568.8 169.3 571.2 172.3C573.5 175.4 575.3 178.9 577.7 181.9C580.0 184.9 582.8 187.7 585.5 190.4C588.3 193.1 591.7 195.1 594.2 198.0C596.7 200.9 599.4 206.1 600.5 207.7"/>
<path d="M679.95 -34.67C679.6 -32.7 678.5 -26.6 677.8 -22.6C677.0 -18.6 676.1 -14.6 675.4 -10.6C674.6 -6.6 673.3 -2.6 673.0 1.4C672.7 5.5 673.0 9.6 673.5 13.7C673.9 17.7 674.4 21.9 675.6 25.7C676.9 29.6 679.4 33.7 680.8 36.9C682.1 40.1 682.5 42.4 683.8 44.9C685.1 47.4 686.9 49.7 688.6 52.0C690.3 54.3 692.0 56.7 694.2 58.5C696.3 60.3 698.9 61.8 701.6 62.8C704.2 63.8 708.6 64.2 710.0 64.5"/>
<path d="M626.85 138.55C628.4 139.4 633.5 141.6 636.4 143.8C639.2 146.0 641.8 148.9 643.9 151.8C646.0 154.7 646.8 158.3 649.1 161.3C651.3 164.4 654.2 167.8 657.3 170.3C660.3 172.9 664.4 174.3 667.6 176.8C670.7 179.3 673.9 182.0 676.3 185.3C678.6 188.5 679.4 192.9 681.6 196.2C683.8 199.6 688.3 203.8 689.6 205.4"/>
<path d="M600.93 114.89C602.4 115.8 606.6 118.6 609.7 120.1C612.7 121.5 616.3 122.0 619.2 123.6C622.1 125.3 624.8 127.5 627.1 130.0C629.3 132.5 630.5 135.9 632.8 138.4C635.1 140.8 638.0 142.9 640.6 144.8C643.2 146.7 645.8 148.2 648.4 149.9C651.0 151.5 653.4 153.5 656.2 154.8C659.0 156.0 662.3 156.0 665.1 157.3C667.8 158.6 670.4 160.5 672.8 162.4C675.2 164.3 677.4 166.5 679.4 168.8C681.4 171.1 682.7 174.1 684.8 176.4C686.9 178.6 689.4 180.4 692.0 182.0C694.7 183.6 699.0 185.3 700.4 186.0"/>
<path d="M508.83 89.11C509.4 87.6 511.2 83.2 512.1 80.1C513.1 77.1 513.3 73.8 514.4 70.8C515.6 67.9 517.7 65.3 519.2 62.5C520.8 59.7 521.9 56.7 523.6 54.0C525.3 51.3 527.0 48.5 529.2 46.3C531.5 44.0 534.4 42.7 537.1 40.8C539.8 38.8 542.5 36.4 545.5 34.5C548.5 32.7 551.6 31.0 554.9 29.9C558.2 28.9 561.9 29.2 565.3 28.3C568.7 27.5 572.0 26.2 575.3 25.0C578.6 23.8 583.5 21.9 585.1 21.3"/>
<path d="M594.99 63.62C593.8 65.2 589.8 69.8 587.6 73.2C585.4 76.6 583.6 80.2 581.9 83.9C580.1 87.5 579.1 91.5 577.2 95.0C575.3 98.5 573.0 101.8 570.4 104.7C567.8 107.6 564.3 109.7 561.4 112.4C558.6 115.1 556.4 118.5 553.3 121.0C550.3 123.5 546.7 125.2 543.3 127.2C539.9 129.2 536.3 130.9 533.0 133.0C529.7 135.2 525.1 138.9 523.5 140.1"/>
<path d="M751.33 123.03C750.8 124.3 749.5 128.1 748.4 130.5C747.3 132.9 746.1 135.4 744.5 137.5C743.0 139.7 740.7 141.3 739.2 143.5C737.7 145.7 736.8 148.3 735.7 150.7C734.6 153.2 733.7 155.7 732.6 158.2C731.6 160.6 730.7 162.4 729.5 165.5C728.2 168.7 727.2 173.6 725.2 177.2C723.1 180.7 719.9 183.5 717.3 186.7C714.6 189.8 711.3 192.6 709.1 196.0C706.8 199.4 706.0 203.8 703.7 207.2C701.5 210.6 698.0 213.2 695.6 216.6C693.3 219.9 690.9 223.5 689.5 227.4C688.2 231.2 687.9 235.5 687.4 239.6C686.9 243.7 686.3 247.9 686.7 252.0C687.0 256.0 689.0 260.0 689.4 264.1C689.8 268.1 689.3 274.4 689.3 276.4"/>
<path d="M578.35 111.1C580.1 110.0 585.1 106.5 588.7 104.6C592.3 102.6 596.1 101.2 599.8 99.4C603.4 97.6 606.8 95.2 610.6 93.6C614.3 92.1 618.3 91.1 622.3 90.1C626.2 89.2 630.3 88.4 634.3 87.8C638.3 87.3 642.4 87.0 646.5 86.8C650.6 86.6 654.8 87.5 658.7 86.6C662.6 85.7 666.5 83.6 669.9 81.3C673.4 79.1 676.2 75.9 679.4 73.2C682.5 70.5 685.7 67.8 688.8 65.1C691.9 62.4 695.6 60.1 698.2 57.0C700.8 53.8 702.5 49.9 704.4 46.2C706.4 42.6 707.8 38.6 710.0 35.1C712.2 31.7 715.6 28.9 717.8 25.4C719.9 22.0 721.2 17.9 723.1 14.2C725.0 10.6 728.1 5.2 729.1 3.4"/>
<path d="M706.55 51.12C706.0 52.4 704.1 56.0 703.5 58.6C702.9 61.2 702.7 64.1 703.0 66.7C703.3 69.4 704.5 71.9 705.1 74.5C705.7 77.1 706.5 79.8 706.8 82.4C707.1 85.1 707.2 87.9 707.0 90.5C706.8 93.2 706.4 96.0 705.6 98.5C704.7 101.0 702.9 103.2 701.8 105.7C700.8 108.2 699.6 110.5 699.3 113.4C699.0 116.3 699.5 119.8 699.8 123.0C700.1 126.2 700.6 129.4 701.2 132.6C701.7 135.7 702.0 139.0 703.1 142.0C704.3 145.0 706.1 147.8 708.0 150.4C709.9 152.9 713.4 156.3 714.5 157.4"/>
<path d="M534.16 36.59C535.7 37.6 540.2 40.7 543.2 42.7C546.2 44.8 548.9 47.3 552.1 49.1C555.2 50.9 558.6 52.3 562.0 53.6C565.4 55.0 569.1 55.7 572.5 57.0C575.9 58.2 579.0 60.2 582.5 61.3C586.0 62.4 589.6 62.9 593.2 63.6C596.8 64.2 600.4 64.9 604.0 65.3C607.6 65.8 611.3 66.7 614.9 66.4C618.5 66.1 622.0 64.5 625.6 63.7C629.3 62.9 632.9 61.8 636.5 61.6C640.2 61.4 643.9 62.1 647.6 62.5C651.3 62.8 655.0 63.9 658.6 63.9C662.3 63.8 665.9 62.3 669.6 61.9C673.2 61.5 677.0 61.7 680.6 61.4C684.3 61.0 688.0 60.0 691.6 59.8C695.3 59.6 699.1 59.8 702.7 60.1C706.4 60.5 711.9 61.6 713.7 61.9"/>
<path d="M671.48 0.68C671.9 2.7 672.8 8.6 673.8 12.5C674.8 16.4 676.3 20.1 677.4 24.0C678.5 27.9 678.9 32.1 680.4 35.7C681.8 39.3 684.1 42.3 686.0 45.7C687.8 49.0 689.8 52.3 691.4 55.8C693.1 59.2 694.7 62.7 695.9 66.4C697.1 70.0 698.4 73.7 698.7 77.5C699.0 81.2 697.6 85.1 697.9 88.9C698.1 92.7 699.0 96.5 700.2 100.2C701.3 103.8 703.4 107.1 704.7 110.7C706.0 114.3 706.3 118.3 708.0 121.7C709.6 125.1 712.4 128.0 714.6 131.1C716.9 134.1 720.5 138.6 721.7 140.1"/>
<path d="M712.85 50.02C710.9 50.6 705.1 52.2 701.4 53.8C697.8 55.4 694.5 57.8 691.0 59.7C687.4 61.6 683.1 62.9 680.1 64.9C677.1 66.9 675.6 69.9 672.9 71.6C670.2 73.4 667.0 74.3 663.9 75.5C660.8 76.6 657.8 78.0 654.6 78.6C651.4 79.2 648.0 79.4 644.7 79.1C641.5 78.8 638.4 77.6 635.1 77.0C631.9 76.3 628.6 76.1 625.4 75.4C622.2 74.7 617.5 73.2 615.9 72.8"/>
<path d="M478.94 71.99C481.0 71.6 487.1 69.7 491.2 69.4C495.4 69.1 499.6 69.9 503.8 70.3C507.9 70.7 512.1 71.5 516.3 71.8C520.4 72.2 524.7 72.9 528.8 72.4C532.9 71.9 536.8 70.0 540.9 68.8C544.9 67.6 549.1 66.9 552.9 65.3C556.8 63.7 560.4 61.5 563.9 59.3C567.5 57.1 570.9 54.8 574.0 52.1C577.1 49.4 579.8 46.2 582.5 43.1C585.3 40.0 587.7 36.7 590.4 33.5C593.0 30.3 595.7 27.2 598.5 24.1C601.2 21.0 603.6 17.5 606.7 14.9C609.9 12.4 615.7 9.7 617.4 8.7"/>
<path d="M550.73 179.94C552.1 179.4 556.4 178.3 559.0 176.9C561.5 175.4 563.5 173.2 565.8 171.4C568.1 169.6 569.9 167.1 572.7 166.0C575.5 164.8 579.2 164.6 582.5 164.5C585.8 164.5 589.1 165.7 592.4 165.6C595.6 165.4 599.0 164.8 602.1 163.7C605.2 162.6 607.8 160.3 610.9 159.1C614.0 158.0 618.9 157.3 620.5 156.9"/>
<path d="M703.29 36.4C704.5 37.1 708.0 39.3 710.5 40.4C713.1 41.5 715.9 41.8 718.5 42.8C721.0 43.8 723.0 44.7 725.9 46.4C728.8 48.1 732.9 50.4 735.9 52.9C739.0 55.5 741.4 58.8 744.1 61.7C746.8 64.6 749.5 67.6 752.3 70.5C755.0 73.3 758.3 75.7 760.8 78.8C763.3 81.9 764.9 85.7 767.2 89.0C769.5 92.2 772.5 95.1 774.5 98.5C776.5 101.9 777.9 105.7 779.4 109.4C780.9 113.1 781.8 117.1 783.7 120.6C785.6 124.0 789.7 128.5 790.9 130.1"/>
<path d="M617.67 94.08C619.5 94.2 625.1 94.1 628.7 94.9C632.2 95.7 635.6 97.3 638.9 99.0C642.1 100.7 645.7 102.7 648.2 105.0C650.6 107.3 652.0 110.1 653.5 112.8C655.1 115.6 656.4 118.5 657.4 121.5C658.3 124.5 658.4 127.8 659.2 130.9C659.9 133.9 661.5 136.9 661.9 140.0C662.3 143.1 661.8 146.3 661.6 149.5C661.5 152.6 661.1 155.8 661.2 159.0C661.3 162.1 661.4 165.4 662.3 168.4C663.1 171.4 664.5 174.4 666.3 177.0C668.1 179.6 671.1 181.3 673.0 183.8C674.8 186.3 676.6 190.9 677.3 192.3"/>
<path d="M751.77 11.12C751.4 12.5 749.9 16.6 749.3 19.4C748.6 22.2 748.0 25.1 747.9 28.0C747.7 30.8 748.5 33.8 748.3 36.6C748.0 39.5 747.2 42.3 746.2 45.0C745.2 47.7 743.8 50.3 742.2 52.7C740.6 55.1 738.4 57.1 736.6 59.3C734.8 61.6 732.6 63.6 731.3 66.2C730.0 68.7 730.4 71.9 728.7 74.4C726.9 76.9 723.4 78.7 720.9 81.0C718.3 83.2 715.5 85.4 713.6 88.2C711.7 90.9 710.7 94.3 709.4 97.4C708.1 100.5 707.1 103.8 705.7 106.9C704.4 110.1 702.6 113.0 701.3 116.1C700.1 119.3 698.6 122.5 698.0 125.8C697.5 129.1 698.1 134.3 698.1 136.0"/>
<path d="M627.46 106.78C628.8 105.7 633.0 102.7 635.5 100.4C638.1 98.1 640.2 95.3 642.9 93.2C645.6 91.1 648.8 89.6 651.6 87.7C654.4 85.7 656.7 82.9 659.7 81.3C662.7 79.7 666.0 79.6 669.5 78.1C672.9 76.6 676.4 73.7 680.2 72.5C684.0 71.3 688.2 70.9 692.2 70.9C696.2 71.0 700.2 72.7 704.2 72.7C708.2 72.7 712.3 71.8 716.2 70.9C720.2 70.0 724.2 69.1 727.8 67.4C731.4 65.7 734.5 62.9 737.9 60.7C741.3 58.5 745.0 56.7 748.1 54.1C751.2 51.6 753.7 48.3 756.3 45.2C759.0 42.2 762.8 37.5 764.1 36.0"/>
<path d="M626.68 98.73C628.3 99.0 633.0 99.8 636.2 100.2C639.4 100.5 642.7 101.1 645.8 100.9C649.0 100.8 652.2 99.6 655.3 99.2C658.5 98.8 661.8 98.3 665.0 98.7C668.1 99.0 671.1 100.6 674.3 101.3C677.4 102.0 680.6 102.4 683.8 103.1C686.9 103.8 690.0 104.1 693.1 105.4C696.3 106.7 699.4 109.1 702.6 110.7C705.8 112.4 709.0 114.1 712.4 115.2C715.8 116.3 719.5 116.6 723.1 117.2C726.6 117.8 730.4 117.7 733.8 118.7C737.2 119.8 740.7 121.4 743.5 123.5C746.4 125.6 748.4 128.8 751.0 131.3C753.6 133.8 756.3 136.3 759.2 138.4C762.2 140.5 765.3 142.4 768.6 143.9C771.8 145.3 775.4 146.5 778.9 147.2C782.4 147.9 787.9 147.9 789.7 148.0"/>
<path d="M725.41 9.84C725.2 11.6 725.3 17.2 724.4 20.6C723.6 24.1 721.8 27.4 720.3 30.7C718.8 34.0 716.6 37.0 715.5 40.4C714.4 43.8 715.0 47.7 713.9 51.1C712.7 54.5 710.4 57.7 708.5 60.9C706.5 64.1 704.7 67.5 702.2 70.1C699.6 72.8 696.4 74.9 693.2 76.8C690.0 78.8 686.3 79.8 683.1 81.7C680.0 83.7 677.5 86.7 674.3 88.6C671.1 90.5 667.6 91.9 664.1 93.2C660.6 94.5 657.0 95.6 653.4 96.5C649.8 97.4 646.1 98.4 642.4 98.5C638.7 98.6 633.1 97.4 631.3 97.2"/>
<path d="M708.24 13.34C708.7 15.0 710.3 19.8 711.3 23.0C712.3 26.3 713.3 29.5 714.3 32.7C715.4 35.9 716.1 39.3 717.5 42.3C718.9 45.4 721.1 48.2 722.5 51.2C723.8 54.2 724.5 57.3 725.6 60.3C726.7 63.3 727.6 66.4 729.0 69.3C730.4 72.1 732.1 75.0 734.1 77.5C736.1 79.9 738.8 81.9 741.1 84.1C743.4 86.3 745.5 88.8 748.0 90.8C750.4 92.8 753.7 94.0 756.0 96.2C758.3 98.3 760.3 101.0 761.9 103.8C763.5 106.5 764.0 109.9 765.6 112.6C767.3 115.3 770.7 118.8 771.8 120.0"/>
<path d="M566.1 -23.52C565.0 -22.1 561.6 -18.1 559.7 -15.1C557.9 -12.2 556.6 -8.9 555.0 -5.8C553.4 -2.6 552.0 0.6 550.2 3.6C548.3 6.5 545.5 8.9 543.9 12.0C542.4 15.1 541.5 18.6 540.9 22.1C540.3 25.5 540.5 29.1 540.4 32.6C540.2 36.1 539.8 39.6 540.2 43.1C540.6 46.5 542.0 50.2 542.8 53.2C543.6 56.3 544.2 58.8 544.8 61.6C545.5 64.4 546.0 67.2 546.6 70.0C547.2 72.8 547.6 75.6 548.3 78.4C548.9 81.2 549.7 83.9 550.5 86.7C551.2 89.5 551.5 92.4 552.6 95.0C553.8 97.6 555.7 99.9 557.3 102.2C558.9 104.6 561.6 108.0 562.4 109.1"/>
<path d="M599.32 135.91C601.2 135.6 607.0 135.2 610.5 134.0C614.1 132.8 617.5 130.9 620.6 128.7C623.8 126.6 626.1 123.3 629.2 121.3C632.4 119.2 636.2 118.4 639.5 116.4C642.9 114.4 646.3 111.9 649.3 109.3C652.3 106.6 654.5 102.9 657.7 100.5C660.8 98.1 664.6 96.2 668.3 94.7C672.0 93.2 676.4 93.1 680.0 91.5C683.6 89.8 686.5 86.6 690.0 84.6C693.5 82.6 697.7 81.8 701.0 79.5C704.3 77.3 707.0 74.1 709.7 71.2C712.5 68.2 714.8 64.8 717.6 61.9C720.4 59.1 723.5 56.3 726.6 53.9C729.8 51.4 735.1 48.3 736.8 47.2"/>
<path d="M716.98 30.21C716.5 31.7 714.5 36.0 714.1 39.0C713.6 42.0 714.5 45.2 714.3 48.2C714.0 51.3 713.2 54.3 712.4 57.3C711.7 60.3 711.2 63.4 709.8 66.1C708.5 68.9 705.9 70.9 704.4 73.6C702.9 76.3 702.4 79.4 701.1 82.2C699.7 85.0 699.0 88.2 696.5 90.3C694.0 92.3 689.1 92.4 685.9 94.4C682.8 96.3 680.2 99.3 677.4 101.9C674.7 104.5 672.0 107.2 669.3 109.8C666.6 112.4 664.1 115.3 661.1 117.6C658.2 120.0 654.5 121.4 651.6 123.9C648.8 126.3 646.6 129.5 644.1 132.4C641.6 135.3 638.1 139.7 636.9 141.1"/>
<path d="M662.05 149.41C661.7 147.9 660.8 143.4 660.0 140.4C659.3 137.4 658.2 134.5 657.7 131.5C657.2 128.5 657.1 125.4 657.3 122.3C657.5 119.3 657.9 116.1 658.9 113.3C659.9 110.4 661.9 107.9 663.5 105.3C665.2 102.7 666.6 99.9 669.0 97.9C671.4 95.8 674.7 94.5 677.8 93.1C680.8 91.8 684.1 90.9 687.2 89.9C690.4 88.8 693.5 87.5 696.7 86.6C699.9 85.8 703.3 85.7 706.4 84.5C709.5 83.4 712.2 81.2 715.3 79.8C718.3 78.5 723.1 77.1 724.7 76.5"/>
<path d="M526.44 159.49C528.5 159.5 534.6 159.0 538.5 159.5C542.5 160.0 546.3 162.0 550.3 162.5C554.2 163.0 558.4 162.1 562.4 162.7C566.3 163.2 570.1 165.4 574.1 165.8C578.0 166.2 582.5 165.4 586.2 165.2C589.8 165.0 592.7 165.2 595.9 164.7C599.2 164.2 602.2 162.5 605.4 162.2C608.7 161.9 612.0 162.9 615.2 162.8C618.5 162.6 621.8 162.1 624.9 161.2C628.0 160.3 630.8 158.1 633.9 157.3C637.0 156.4 640.4 156.2 643.7 156.0C646.9 155.8 650.2 155.8 653.5 156.1C656.7 156.4 659.9 157.4 663.1 158.0C666.3 158.6 669.7 158.6 672.8 159.6C675.9 160.5 680.1 163.2 681.6 163.9"/>
<path d="M606.34 128.22C606.9 130.0 608.6 135.3 609.6 138.9C610.5 142.5 610.7 146.4 612.0 149.8C613.3 153.3 615.2 156.7 617.4 159.6C619.6 162.6 622.8 164.8 625.3 167.5C627.9 170.2 630.0 173.3 632.6 176.0C635.2 178.6 637.9 181.5 641.0 183.4C644.1 185.3 648.2 186.1 651.5 187.3C654.7 188.6 657.7 189.5 660.5 191.0C663.4 192.6 665.7 195.0 668.6 196.6C671.4 198.2 674.3 199.8 677.4 200.7C680.5 201.6 683.9 202.2 687.1 202.1C690.3 202.1 693.5 200.7 696.7 200.4C700.0 200.1 703.3 199.7 706.5 200.1C709.7 200.5 712.8 201.8 715.9 202.9C718.9 204.1 721.8 205.6 724.7 207.1C727.7 208.5 730.6 209.9 733.4 211.6C736.1 213.4 739.9 216.5 741.2 217.4"/>
<path d="M559.02 -20.1C560.2 -18.5 563.4 -13.6 565.8 -10.5C568.1 -7.4 570.5 -4.2 573.2 -1.4C575.9 1.4 579.5 3.4 582.0 6.4C584.4 9.4 585.8 13.2 587.8 16.5C589.9 19.9 592.5 22.9 594.3 26.3C596.1 29.8 597.2 33.6 598.9 37.1C600.6 40.6 602.6 44.0 604.6 47.4C606.6 50.8 609.2 53.8 610.6 57.5C612.1 61.1 612.2 65.6 613.4 69.5C614.6 73.5 616.1 77.3 617.7 81.1C619.4 84.9 621.9 88.3 623.4 92.1C624.9 95.9 625.5 100.1 626.8 104.0C628.0 108.0 630.1 111.7 630.9 115.7C631.6 119.7 630.7 124.0 631.3 128.1C631.8 132.2 632.4 136.4 633.9 140.2C635.4 144.0 638.3 147.2 640.4 150.7C642.5 154.3 644.9 157.8 646.4 161.6C647.9 165.4 649.0 171.5 649.5 173.5"/>
<path d="M692.29 205.5C693.8 204.1 698.7 200.1 701.2 196.8C703.7 193.6 705.4 189.6 707.5 186.0C709.6 182.5 711.5 178.5 713.9 175.4C716.3 172.3 719.1 169.9 722.0 167.5C724.9 165.1 728.4 163.4 731.4 161.1C734.3 158.8 737.1 156.2 739.8 153.6C742.5 151.0 744.8 147.9 747.7 145.5C750.6 143.2 753.9 141.3 757.2 139.4C760.4 137.4 764.0 136.0 767.1 133.9C770.2 131.9 774.5 128.1 776.0 127.0"/>
<path d="M514.03 144.44C515.7 144.8 520.8 146.1 524.2 146.7C527.6 147.2 531.1 147.5 534.5 147.9C538.0 148.2 541.4 148.8 544.9 148.8C548.4 148.9 551.9 147.8 555.3 148.2C558.7 148.6 561.9 150.8 565.3 151.2C568.7 151.6 572.3 151.3 575.7 150.6C579.0 150.0 582.3 148.4 585.5 147.1C588.7 145.9 592.1 143.9 594.9 142.9C597.8 141.8 600.2 141.6 602.7 140.9C605.3 140.1 608.0 139.6 610.4 138.4C612.7 137.1 614.7 135.2 616.8 133.5C618.9 131.9 621.1 130.3 623.1 128.5C625.2 126.8 627.0 124.8 629.2 123.3C631.4 121.8 633.9 120.6 636.2 119.4C638.6 118.2 641.2 117.3 643.4 115.8C645.6 114.3 647.3 112.1 649.5 110.5C651.6 108.9 655.1 106.8 656.2 106.0"/>
<path d="M612.59 41.35C611.2 42.9 606.9 47.2 604.5 50.4C602.1 53.7 600.2 57.4 598.2 60.9C596.2 64.4 594.1 68.0 592.3 71.6C590.4 75.2 589.3 79.3 587.0 82.6C584.7 85.9 580.9 88.1 578.5 91.3C576.1 94.6 574.7 99.1 572.7 102.1C570.7 105.1 568.2 106.6 566.6 109.3C564.9 112.0 564.0 115.2 563.0 118.2C562.0 121.2 561.1 124.2 560.6 127.4C560.1 130.5 560.0 133.7 559.8 136.8C559.7 140.0 559.5 143.2 559.8 146.3C560.2 149.5 561.2 152.6 562.2 155.6C563.2 158.6 564.4 161.5 565.8 164.3C567.2 167.2 569.7 171.3 570.5 172.6"/>
<path d="M497.84 168.95C499.8 169.7 505.8 172.4 509.9 173.5C514.0 174.5 518.4 174.4 522.6 175.1C526.9 175.9 531.3 177.8 535.2 177.9C539.1 178.1 542.6 176.9 546.3 176.2C550.0 175.6 553.6 174.5 557.3 173.8C561.0 173.1 564.8 173.0 568.4 172.0C572.0 171.1 575.6 169.9 579.0 168.2C582.3 166.5 585.0 163.5 588.3 161.9C591.7 160.3 597.3 159.2 599.1 158.6"/>
<path d="M502.72 133.81C504.1 134.6 508.2 137.1 511.0 138.4C513.9 139.6 517.0 140.9 520.0 141.4C523.1 141.8 526.4 141.2 529.5 141.1C532.7 141.0 535.9 140.9 539.0 140.8C542.2 140.7 545.4 141.1 548.5 140.5C551.6 139.8 554.4 138.1 557.3 137.0C560.3 135.9 563.5 135.0 566.3 134.0C569.2 132.9 571.6 131.7 574.3 130.7C577.0 129.7 579.7 128.6 582.5 127.9C585.3 127.2 588.3 127.4 591.0 126.4C593.7 125.4 595.9 123.4 598.5 122.1C601.1 120.9 604.0 120.2 606.5 118.9C609.0 117.5 612.5 114.9 613.7 114.1"/>
</g>
<g fill="none" stroke="#46cf57" stroke-linecap="round" filter="url(#b06)">
<path d="M557.76 36.88C558.0 39.7 558.5 47.9 559.5 53.6C560.5 59.3 562.4 66.5 563.9 71.1C565.4 75.8 566.5 77.6 568.3 81.7C570.1 85.8 572.5 91.1 574.5 95.8C576.4 100.4 578.0 104.5 579.7 109.8C581.5 115.1 582.9 120.9 585.0 127.4C587.0 133.8 589.4 141.4 592.0 148.5C594.7 155.5 597.9 163.4 600.8 169.6C603.7 175.7 608.1 182.7 609.6 185.4" stroke-width="1.36" opacity="0.98"/>
<path d="M561.8 36.88C562.3 41.1 563.4 54.6 564.8 62.4C566.2 70.1 568.7 77.6 570.1 83.5C571.4 89.3 572.1 92.2 572.7 97.5C573.3 102.8 573.1 108.9 573.6 115.1C574.0 121.2 574.3 127.1 575.3 134.4C576.4 141.7 578.4 150.5 579.7 159.0C581.0 167.5 582.7 181.0 583.2 185.4" stroke-width="0.81" opacity="0.75"/>
<path d="M604.33 52.7C602.3 54.9 596.1 62.2 592.0 65.9C587.9 69.5 583.7 72.2 579.7 74.7C575.8 77.2 572.7 78.5 568.3 80.8C563.9 83.2 558.5 85.1 553.4 88.7C548.2 92.4 541.8 99.0 537.5 102.8C533.3 106.6 529.5 110.1 527.9 111.6" stroke-width="0.95" opacity="0.79"/>
<path d="M583.24 36.88C584.1 39.4 586.9 47.3 588.5 51.8C590.1 56.4 591.7 59.7 592.9 64.1C594.1 68.5 594.2 73.8 595.5 78.2C596.9 82.6 598.5 86.4 600.8 90.5C603.2 94.6 607.3 99.0 609.6 102.8C611.9 106.6 612.8 109.2 614.9 113.3C616.9 117.4 620.7 125.0 621.9 127.4" stroke-width="1.13" opacity="0.9"/>
<path d="M601.69 36.88C600.8 39.1 598.0 45.8 596.4 50.1C594.8 54.3 593.2 58.8 592.0 62.4C590.9 65.9 591.4 66.8 589.4 71.1C587.3 75.5 582.8 82.3 579.7 88.7C576.6 95.2 573.9 103.4 570.9 109.8C568.0 116.3 565.4 121.5 562.1 127.4C558.9 133.2 555.7 139.7 551.6 145.0C547.5 150.2 541.5 155.5 537.5 159.0C533.6 162.5 529.5 164.9 527.9 166.1" stroke-width="1.02" opacity="0.77"/>
<path d="M609.6 36.88C609.9 39.7 610.2 48.4 611.4 53.6C612.5 58.7 614.3 62.9 616.6 67.6C619.0 72.3 621.6 77.0 625.4 81.7C629.2 86.4 634.8 91.7 639.5 95.8C644.2 99.9 648.9 102.5 653.5 106.3C658.2 110.1 665.3 116.6 667.6 118.6" stroke-width="0.95" opacity="0.66"/>
<path d="M568.3 81.69C570.2 82.9 575.5 87.0 579.7 88.7C584.0 90.5 588.8 91.1 593.8 92.2C598.8 93.4 604.3 95.8 609.6 95.8C614.9 95.8 620.4 93.9 625.4 92.2C630.4 90.6 634.8 87.3 639.5 86.1C644.2 84.9 651.2 85.4 653.5 85.2" stroke-width="1.4" opacity="0.91"/>
<path d="M527.88 102.78C530.7 103.4 538.9 105.1 544.6 106.3C550.3 107.5 555.4 108.8 562.1 109.8C568.9 110.8 577.1 112.2 585.0 112.4C592.9 112.7 601.7 111.9 609.6 111.6C617.5 111.3 628.6 110.8 632.4 110.7" stroke-width="0.76" opacity="0.54"/>
<path d="M527.88 65.88C529.5 64.7 534.5 60.9 537.5 58.8C540.6 56.8 543.0 55.6 546.3 53.6C549.7 51.5 553.9 49.3 557.8 46.5C561.6 43.8 567.3 38.5 569.2 36.9" stroke-width="0.91" opacity="0.51"/>
<path d="M639.85 36.88C639.0 38.5 636.3 43.2 634.6 46.5C632.8 49.9 629.3 53.6 629.3 57.1C629.3 60.6 632.8 64.1 634.6 67.6C636.3 71.1 638.4 75.4 639.8 78.2C641.3 81.0 641.3 81.7 643.4 84.3C645.4 87.0 648.9 91.8 652.1 94.0C655.4 96.2 660.9 96.9 662.7 97.5" stroke-width="1.43" opacity="0.87"/>
<path d="M658.3 36.88C659.3 39.1 662.5 45.8 664.5 50.1C666.4 54.3 669.3 58.3 669.7 62.4C670.2 66.5 667.8 70.3 667.1 74.7C666.4 79.1 666.2 85.1 665.3 88.7C664.5 92.4 664.6 94.7 661.8 96.6C659.0 98.5 653.2 100.0 648.6 100.1C644.1 100.3 636.9 98.0 634.6 97.5" stroke-width="0.76" opacity="0.75"/>
<path d="M700.48 36.88C698.3 39.1 691.0 46.1 687.3 50.1C683.6 54.0 680.6 56.5 678.5 60.6C676.5 64.7 675.3 70.6 675.0 74.7C674.7 78.8 675.6 82.0 676.8 85.2C677.9 88.4 679.4 90.5 682.0 94.0C684.7 97.5 689.6 102.2 692.6 106.3C695.5 110.4 698.1 113.9 699.6 118.6C701.1 123.3 701.1 131.8 701.4 134.4" stroke-width="0.71" opacity="0.74"/>
<path d="M725.08 44.79C722.3 46.5 713.5 51.8 708.4 55.3C703.3 58.8 698.4 62.4 694.3 65.9C690.2 69.4 686.7 72.6 683.8 76.4C680.9 80.2 680.0 85.2 676.8 88.7C673.5 92.2 669.1 95.8 664.5 97.5C659.8 99.3 654.2 99.9 648.6 99.3C643.1 98.7 636.2 95.8 631.1 94.0C625.9 92.2 620.1 89.6 617.9 88.7" stroke-width="1.25" opacity="0.95"/>
<path d="M617.88 86.97C620.1 87.0 626.8 86.4 631.1 87.0C635.3 87.6 639.3 88.7 643.4 90.5C647.5 92.2 651.3 96.9 655.7 97.5C660.1 98.1 665.0 95.8 669.7 94.0C674.4 92.2 678.8 88.7 683.8 87.0C688.8 85.2 694.3 85.2 699.6 83.5C704.9 81.7 711.2 78.2 715.4 76.4C719.7 74.7 723.5 73.5 725.1 72.9" stroke-width="0.98" opacity="0.62"/>
<path d="M617.88 71.15C619.2 72.9 623.0 78.2 625.8 81.7C628.6 85.2 631.4 88.4 634.6 92.2C637.8 96.0 641.6 100.7 645.1 104.5C648.6 108.3 652.1 110.7 655.7 115.1C659.2 119.5 663.0 125.3 666.2 130.9C669.4 136.5 672.9 142.0 675.0 148.5C677.0 154.9 678.1 163.4 678.5 169.6C679.0 175.7 677.8 182.7 677.6 185.4" stroke-width="0.97" opacity="0.68"/>
<path d="M617.88 94C620.7 95.5 628.9 100.7 634.6 102.8C640.3 104.8 645.4 105.7 652.1 106.3C658.9 106.9 667.7 106.9 675.0 106.3C682.3 105.7 689.9 104.2 696.1 102.8C702.2 101.3 707.1 98.7 711.9 97.5C716.7 96.3 722.9 96.0 725.1 95.8" stroke-width="1.41" opacity="0.88"/>
<path d="M527.88 105.12C531.2 106.4 541.8 110.8 548.1 113.0C554.4 115.2 559.8 117.6 565.7 118.3C571.5 119.0 578.0 118.3 583.2 117.4C588.5 116.5 592.9 113.9 597.3 113.0C601.7 112.2 603.7 112.4 609.6 112.2C615.5 111.9 628.6 111.4 632.4 111.3" stroke-width="0.88" opacity="0.84"/>
<path d="M565.66 118.3C566.8 120.4 569.5 128.0 572.7 130.6C575.9 133.2 581.8 135.0 585.0 134.1C588.2 133.2 591.4 128.0 592.0 125.3C592.6 122.7 590.6 120.9 588.5 118.3C586.5 115.7 581.2 111.0 579.7 109.5" stroke-width="0.91" opacity="0.68"/>
<path d="M527.88 150.82C530.7 150.1 538.9 147.6 544.6 146.4C550.3 145.3 556.3 144.2 562.1 143.8C568.0 143.3 573.9 144.5 579.7 143.8C585.6 143.1 591.4 141.0 597.3 139.4C603.2 137.8 607.8 136.0 614.9 134.1C621.9 132.2 631.9 130.0 639.5 128.0C647.1 125.9 657.1 122.8 660.6 121.8" stroke-width="1.17" opacity="0.9"/>
<path d="M527.88 132.36C530.1 133.8 535.9 138.5 541.1 141.1C546.2 143.8 552.2 145.3 558.6 148.2C565.1 151.1 573.3 156.1 579.7 158.7C586.2 161.4 590.9 162.5 597.3 164.0C603.7 165.5 611.4 166.9 618.4 167.5C625.4 168.1 632.4 168.1 639.5 167.5C646.5 166.9 657.1 164.6 660.6 164.0" stroke-width="0.75" opacity="0.64"/>
<path d="M549.85 105.12C550.7 108.2 553.4 117.6 555.1 123.6C556.9 129.6 558.6 135.3 560.4 141.1C562.1 147.0 563.0 151.4 565.7 158.7C568.3 166.0 574.5 180.7 576.2 185.1" stroke-width="0.89" opacity="0.56"/>
<path d="M560.39 149.94C563.6 149.9 573.6 149.4 579.7 149.9C585.9 150.5 591.4 151.4 597.3 153.5C603.2 155.5 609.0 158.4 614.9 162.2C620.7 166.0 627.8 172.5 632.4 176.3C637.1 180.1 641.2 183.6 643.0 185.1" stroke-width="1.11" opacity="0.94"/>
<path d="M639.48 136.76C636.0 138.4 624.5 142.8 618.4 146.4C612.2 150.1 606.7 154.3 602.6 158.7C598.5 163.1 596.1 168.4 593.8 172.8C591.4 177.2 589.4 183.0 588.5 185.1" stroke-width="0.89" opacity="0.64"/>
<path d="M527.88 167.51C530.7 168.4 538.9 170.7 544.6 172.8C550.3 174.8 556.3 177.8 562.1 179.8C568.0 181.9 576.8 184.2 579.7 185.1" stroke-width="0.74" opacity="0.53"/>
<path d="M639.48 146.42C636.5 147.3 627.8 150.5 621.9 151.7C616.0 152.9 610.5 153.7 604.3 153.5C598.2 153.2 591.1 151.1 585.0 149.9C578.8 148.8 573.6 147.9 567.4 146.4C561.3 145.0 554.7 144.4 548.1 141.1C541.5 137.9 531.2 129.4 527.9 127.1" stroke-width="1.2" opacity="0.98"/>
<path d="M527.88 158.72C531.2 158.4 540.9 158.1 548.1 157.0C555.3 155.8 563.3 153.5 570.9 151.7C578.6 149.9 586.5 148.2 593.8 146.4C601.1 144.7 607.3 143.2 614.9 141.1C622.5 139.1 635.4 135.3 639.5 134.1" stroke-width="0.74" opacity="0.54"/>
<path d="M537.54 185.09C540.2 181.6 547.5 169.9 553.4 164.0C559.2 158.1 566.0 153.7 572.7 149.9C579.4 146.1 587.3 144.7 593.8 141.1C600.2 137.6 606.1 132.9 611.4 128.8C616.6 124.7 623.1 118.6 625.4 116.5" stroke-width="0.73" opacity="0.52"/>
<path d="M617.88 149.94C620.7 151.4 628.9 156.4 634.6 158.7C640.3 161.1 645.7 161.1 652.1 164.0C658.6 166.9 667.4 172.8 673.2 176.3C679.1 179.8 685.0 183.6 687.3 185.1" stroke-width="1.29" opacity="0.93"/>
<path d="M638.09 106.88C639.8 111.1 645.4 125.2 648.6 132.4C651.9 139.5 653.9 144.7 657.4 149.9C660.9 155.2 664.7 160.2 669.7 164.0C674.7 167.8 681.4 169.9 687.3 172.8C693.2 175.7 700.2 179.5 704.9 181.6C709.6 183.6 713.7 184.5 715.4 185.1" stroke-width="0.99" opacity="0.79"/>
<path d="M617.88 164C620.7 162.5 628.9 159.0 634.6 155.2C640.3 151.4 646.9 145.5 652.1 141.1C657.4 136.8 661.8 132.9 666.2 128.8C670.6 124.7 675.0 120.2 678.5 116.5C682.0 112.9 685.8 108.5 687.3 106.9" stroke-width="0.79" opacity="0.66"/>
<path d="M724.21 132.36C722.2 135.3 715.7 144.7 711.9 149.9C708.1 155.2 704.9 159.6 701.4 164.0C697.8 168.4 693.7 172.8 690.8 176.3C687.9 179.8 685.0 183.6 683.8 185.1" stroke-width="1.38" opacity="0.92"/>
<path d="M660.94 128.85C662.4 131.8 667.4 140.6 669.7 146.4C672.1 152.3 673.8 157.6 675.0 164.0C676.2 170.4 676.5 181.6 676.8 185.1" stroke-width="0.89" opacity="0.51"/>
<path d="M690.81 149.94C692.6 152.3 697.3 159.6 701.4 164.0C705.5 168.4 711.5 172.9 715.4 176.3C719.4 179.7 723.5 182.9 725.1 184.2" stroke-width="0.71" opacity="0.62"/>
<path d="M617.88 134.12C621.2 134.4 630.9 136.2 638.1 135.9C645.3 135.6 653.3 132.7 660.9 132.4C668.6 132.1 677.3 132.7 683.8 134.1C690.2 135.6 694.3 140.3 699.6 141.1C704.9 142.0 711.2 140.9 715.4 139.4C719.7 137.9 723.5 133.5 725.1 132.4" stroke-width="1.16" opacity="0.92"/>
<path d="M617.88 141.15C621.0 142.0 630.3 143.5 636.3 146.4C642.3 149.4 649.5 154.3 653.9 158.7C658.3 163.1 660.9 168.4 662.7 172.8C664.5 177.2 664.2 183.0 664.5 185.1" stroke-width="0.79" opacity="0.7"/>
<path d="M639.85 185.09C641.9 182.2 647.5 173.1 652.1 167.5C656.8 161.9 662.1 156.7 668.0 151.7C673.8 146.7 681.1 141.4 687.3 137.6C693.4 133.8 698.6 130.6 704.9 128.8C711.2 127.1 721.7 127.4 725.1 127.1" stroke-width="0.77" opacity="0.56"/>
<path d="M725.08 151.69C722.3 152.9 713.5 155.5 708.4 158.7C703.3 161.9 697.8 166.6 694.3 171.0C690.8 175.4 688.5 182.7 687.3 185.1" stroke-width="1.41" opacity="0.98"/>
</g>
<g filter="url(#b2)"><ellipse cx="626.5" cy="113" rx="5" ry="6.5" fill="#58d0c0" opacity="0.95"/><ellipse cx="630" cy="108" rx="2.5" ry="3" fill="#7ad8e8" opacity="0.9"/><ellipse cx="718" cy="112" rx="3" ry="5" fill="#3aa0b8" opacity="0.8"/></g>
</g>
<rect x="610.3" y="102.5" width="25.4" height="24.6" fill="none" stroke="#ee2a24" stroke-width="1.3" stroke-dasharray="3.2 2"/>
<rect x="698.3" y="102.5" width="25.2" height="24.6" fill="none" stroke="#ee2a24" stroke-width="1.3" stroke-dasharray="3.2 2"/>
<rect x="675.9" y="177.6" width="44.8" height="1.7" fill="#f2f2f2"/>
<text x="533" y="52.5" font-size="13.6" font-weight="normal" fill="#79c143" text-anchor="start" textLength="20.3" lengthAdjust="spacingAndGlyphs">TUJ</text>
<text x="532.6" y="70.3" font-size="13.6" font-weight="normal" fill="#4353b3" text-anchor="start" textLength="28.2" lengthAdjust="spacingAndGlyphs" opacity="0.9">DAPI</text>
</g>
<g>
<rect x="27.5" y="32.8" width="42.5" height="189.6" fill="#e9e9e9"/>
<polyline points="11,31.39 12.15,32.03 13.22,31.95 14.56,30.83 16.01,30.44 17.41,30.4 18.5,31.21 20.23,30.76 21.44,31.78 23.28,31.97 24.64,32.95 25.6,32.05 26.3,31.8 26.5,222" fill="none" stroke="#e81e25" stroke-width="1.3" stroke-linejoin="round" stroke-linecap="round" />
<polyline points="30.6,90 31.3,72 32,63 33.7,55.3 36.4,52 39.2,48.7 41.9,42.1 44.7,39.9 46.3,41 51.3,59.5 58.4,42.3 59.7,42.7 61.2,47.6 63.4,44.9 67.8,43.4 70,45.4 71.2,44.39 72.34,43.71 73.62,45.53 74.8,45.4 76.37,44.75 77.86,43.66 78.93,43.74 80.53,44.41 81.82,45.07 83.23,44.44 84.94,45.41 86.16,45.34 87.64,46.19 89.28,44.74 91.15,43.81 92.53,45.39 93.68,45.09 94.73,45.51 96.41,45.37 98.18,44.57 99.8,45.14 101.32,44.92 103.07,46.26 104.5,45.86 105.57,45.84 107.14,46.68 108.87,44.88 110.22,45.45 111.26,45.02 112.42,43.9 113.49,45.45 114.61,44.4 115.97,45.9 117.05,45.12 118.55,46.15 120.27,46.4 121.53,45.17 122.86,46.17 124.71,44.34 125.88,44.02 127.09,44.66 128.62,44.21 129.64,44.53 130.98,45.05 132.82,45.57 134.28,45.51 135.89,43.86 137.68,45.47 139.46,46 140.82,45.01 141.92,45.39 142.99,43.86 144.19,43.68 145.5,43.31 146.51,43.48 147.62,44.15 148.65,45.83 150.2,44.23 151.44,44.33 152.77,43.7 154.52,46.04 155.94,45.27 157.03,43.93 158.35,44 160.08,43.72 161.12,45.92 162.59,44.25 164.08,43.4 165.55,45.91 167.32,45.84 168.56,44.87 169.72,45.75 171.2,46.03 172.5,44.51 174.22,46.26 175.98,46.27 177.71,46.08 178.92,45.37 180.24,43.75 181.28,43.98 182.52,45.25 183,44.95" fill="none" stroke="#e81e25" stroke-width="1.3" stroke-linejoin="round" stroke-linecap="round" />
<text x="185.1" y="48.3" font-size="7.9" font-weight="bold" fill="#000" textLength="11.2" lengthAdjust="spacingAndGlyphs" >E21</text>
<polyline points="11,58.01 12.87,58.35 14.21,56.76 15.42,56.23 16.61,57.05 18.41,57.8 19.84,57.59 21.55,56.22 23.14,57.71 24.84,57.79 25.6,56.78 26.3,57 26.5,222" fill="none" stroke="#e81e25" stroke-width="1.3" stroke-linejoin="round" stroke-linecap="round" />
<polyline points="30.2,118 31.3,96 32.6,84 33.7,81 35.9,76.6 37.5,79.4 44.7,64.7 46.3,74 48,75.7 50.2,80 51.2,80.6 56.2,69.6 60,68.5 61.2,69.6 63.4,67.4 68.3,71.8 70.5,71.2 71.7,72.64 73,72.92 74.86,71.84 76.23,73.11 77.87,71.23 79,70.62 80.8,72.33 81.94,72.91 83.81,72.59 85.13,72.18 86.26,70.5 88.12,71.85 89.59,73.07 90.99,73.26 92.72,71.4 93.95,71.08 95.18,71.83 96.42,71.58 97.55,72.92 98.87,72.02 100.39,73.04 101.77,73.38 103.23,72.37 104.7,70.57 106.09,70.51 107.11,72.28 108.28,71.87 109.92,71.98 111.22,71.91 112.72,72.66 113.83,72.23 115.06,71.28 116.75,71.67 118.25,72.51 120.06,71.85 121.61,71.83 123.07,72.37 124.48,72.07 125.91,73.16 127.53,73.3 129.36,71.55 130.87,73.01 132.61,71.11 133.73,71.43 134.81,70.94 135.89,72.03 137.59,73.02 138.74,72.79 140.32,71.06 142.11,72.93 143.31,73.45 144.68,72.26 146.55,72.9 147.71,71.93 149.17,71.37 150.36,71.15 152,70.21 153.5,71.15 154.53,71.12 156.08,71.63 157.16,73.16 158.86,73.57 159.96,71.65 161.01,72.56 162.26,70.96 163.65,72.74 165.37,71.38 166.52,72.89 168.03,72.71 169.12,70.79 170.74,71.28 171.81,72.92 173.38,73.01 174.47,73.2 175.54,73.27 176.95,71.77 178.45,73.03 179.7,71.09 181.17,70.83 182.28,70.53 183,71.54" fill="none" stroke="#e81e25" stroke-width="1.3" stroke-linejoin="round" stroke-linecap="round" />
<text x="185.1" y="75.1" font-size="7.9" font-weight="bold" fill="#000" textLength="11.2" lengthAdjust="spacingAndGlyphs" >E26</text>
<polyline points="11,81.17 12.28,82.07 13.55,81.74 14.72,81.29 15.75,80.93 16.78,81.94 18.27,80.99 19.7,82.42 20.81,82.58 22.2,81.88 23.94,81.44 25.39,81.98 25.6,81.49 26.3,81.6 26.5,222" fill="none" stroke="#e81e25" stroke-width="1.3" stroke-linejoin="round" stroke-linecap="round" />
<polyline points="30.5,139 31.5,120 34.2,103 38.6,99 43,96.4 48,83.2 49,85.4 51.8,106.3 54.6,112.4 57.3,104 61.2,92.6 62.8,93.7 66.7,90.4 70,93 72.7,96.4 73.8,93.7 75,95.96 76.63,95.68 78,94.76 79.06,93.86 80.14,95.36 81.37,94.13 82.46,95.73 84.23,95.71 85.49,94.47 86.76,94.72 87.92,94.76 89.16,96.27 91.02,95.52 92.25,96.51 93.53,95.04 94.55,94.67 95.98,94.91 97.17,94.99 98.19,94.31 99.28,94.5 100.33,93.47 101.61,93.76 103.14,94.71 104.8,95.37 106.44,96.21 107.79,94.86 109.67,93.94 111.31,95.1 112.36,96 114.16,95.67 115.81,96.11 116.95,95.4 118.4,96.09 120.11,96.27 121.64,96.52 123.25,96.02 124.46,93.95 125.59,94.28 126.7,95.76 128.2,95.6 129.76,95.7 131.2,93.77 132.91,95.35 134.36,95.21 135.95,93.8 137.61,93.92 138.69,94 140.34,93.84 141.99,96.03 143.44,94.97 144.87,95.52 146.55,95.5 148.13,93.92 149.27,93.96 150.93,94.12 152.44,93.32 153.51,93.83 155.11,95.21 156.71,94.46 158.18,94.73 159.6,93.81 161.39,93.77 163.25,95.9 164.28,95.15 166.01,96.4 167.42,94.75 168.62,96.22 169.82,95.6 170.95,95.25 172.8,94.01 174.53,94.73 176.31,95.51 177.53,96.31 178.97,94.01 179.98,94.68 181.39,94.33 182.53,94.35 183,95.3" fill="none" stroke="#e81e25" stroke-width="1.3" stroke-linejoin="round" stroke-linecap="round" />
<text x="185.1" y="98.3" font-size="7.9" font-weight="bold" fill="#000" textLength="11.2" lengthAdjust="spacingAndGlyphs" >E22</text>
<polyline points="11,102.95 12.67,104.54 13.79,105.21 15.42,105.36 16.69,104.18 18.05,105.27 19.57,104.13 20.96,103.59 22.02,103.03 23.76,103.29 25.59,103.28 25.6,104.11 26.3,104.1 26.5,222" fill="none" stroke="#e81e25" stroke-width="1.3" stroke-linejoin="round" stroke-linecap="round" />
<polyline points="27.7,120 27.7,191 28.2,160 29.6,158.7 30.4,140 31.5,134 33.7,123.1 38.6,120.9 43,117.6 45.75,110.5 48,129.2 49,125.3 52.4,131.9 56.2,121.5 59.5,118.7 70,117.6 72.7,115.4 74.5,117.6 75.7,116.4 77.04,118.35 78.82,118.52 80.39,118.87 82.22,117.91 83.86,116.18 85.51,116.82 87.18,117.58 88.45,116.07 90.27,115.85 91.7,116.41 92.97,117.73 94.83,116.73 96.42,116.55 97.92,116.77 99.08,116.16 100.28,118.14 101.72,116.74 103.53,118.57 104.93,116.64 106.12,115.91 107.43,115.7 108.65,116.12 110.16,118.07 111.83,117.28 113.2,117.36 114.55,116.85 115.62,116.52 117.47,115.98 118.93,117.28 120.69,116.47 121.94,116.32 123.31,116.85 125.15,118.18 126.92,116.18 127.97,117.57 129.76,117.3 131.29,115.85 132.64,118.1 134.38,118.57 136.24,116.95 137.35,116.19 138.82,117.5 140.65,118 142.23,118.28 143.64,117.74 144.69,118.25 145.91,118.8 147.49,117.18 148.61,116.54 150.18,117.65 151.29,116.16 152.76,117.2 154.12,116.47 155.65,115.63 156.93,116.69 158.78,117.53 160.56,117.3 161.78,116.57 163.63,117.67 164.92,116.03 166.37,117.42 167.75,116.63 169.34,118.33 170.55,116.26 171.86,116.76 173.47,116.26 175.18,117.68 176.63,116.56 178.49,116.53 180.22,116.29 181.43,117.75 182.7,118.75 183,117.03" fill="none" stroke="#e81e25" stroke-width="1.3" stroke-linejoin="round" stroke-linecap="round" />
<text x="185.1" y="120.6" font-size="7.9" font-weight="bold" fill="#000" textLength="11.2" lengthAdjust="spacingAndGlyphs" >E19</text>
<polyline points="11,125.96 12.38,126.79 14.22,125.84 15.58,125.71 17.44,125.51 18.5,125.26 19.86,127.11 21.64,127.29 23.52,127.8 24.82,126.24 25.6,126.77 26.3,126.6 26.5,222" fill="none" stroke="#e81e25" stroke-width="1.3" stroke-linejoin="round" stroke-linecap="round" />
<polyline points="29.2,222 29.4,200 31.5,181.8 33.7,156.5 36.4,147.2 38.6,147.7 45.2,140.7 48,135.2 50.7,143.3 52.9,157.6 56.2,151 60.6,137.4 63.9,134.7 66.1,138 70,145.1 73.3,142.9 76,139.3 77.2,138.94 78.79,139.54 80.13,139.58 81.3,138.64 82.55,139.37 84.4,138.93 86.25,139.04 87.58,140.85 89.31,140.27 90.37,140.21 91.71,141.49 92.89,140.26 94.69,138.93 96.06,140.79 97.74,139.12 98.78,138.68 100.6,139.11 102.27,141.1 103.58,139.88 105.42,140.51 106.67,140.99 107.96,139.86 108.98,140.91 110.79,140.87 112.62,139.09 113.84,139.87 115.69,141.49 117.04,139.93 118.43,140.17 120.25,139.34 121.97,140.7 123.7,141.21 125.24,140.07 126.53,139.83 128.23,138.94 129.41,140.62 130.64,139.14 131.69,140.1 132.99,141.63 134.77,142.11 136.02,139.64 137.12,140.1 138.75,140.09 139.97,139.99 141.52,140.71 143.19,141.43 144.78,139.54 146.53,139.47 148.03,139.68 149.69,139.24 150.92,139.24 152.07,141.1 153.59,140.04 154.95,141.65 156.4,139.93 158.12,140.63 160,139.25 161.43,140.91 163.17,141.68 164.22,140.12 165.34,139.34 167.2,140.25 169.03,139.92 170.8,140.04 172.04,141.03 173.88,139.37 175.41,140.37 176.61,139.94 177.75,139.33 178.99,140.3 180.57,139.44 181.6,139.54 183,140.03" fill="none" stroke="#e81e25" stroke-width="1.3" stroke-linejoin="round" stroke-linecap="round" />
<text x="185.1" y="143.6" font-size="7.9" font-weight="bold" fill="#000" textLength="11.2" lengthAdjust="spacingAndGlyphs" >E25</text>
<polyline points="11,156.57 12.19,157.55 13.68,156.16 14.79,156.51 16.28,157.17 17.37,156.28 18.99,156.58 20.26,156.43 22.1,156.4 23.61,156.49 24.99,157.68 25.6,156.91 26.3,157 26.5,222" fill="none" stroke="#e81e25" stroke-width="1.3" stroke-linejoin="round" stroke-linecap="round" />
<polyline points="29.3,222 29.5,205 30.35,190 32.5,180.7 35.3,175.75 38.6,173 42.4,171.9 47.4,164.2 50.7,159.8 51.6,160.9 53.4,178.5 56.2,196.5 57.8,190 60,174.1 62.8,168.6 67.2,166.4 70,167 73.8,169.7 76,171.4 77.2,170.12 78.85,169.88 79.87,171.83 81.25,172.18 82.62,172.46 84.04,170.46 85.06,170.99 86.64,172.18 87.73,171.71 89.07,171.23 90.21,170.44 91.68,172.07 92.79,171.29 94.5,172.44 95.69,170.35 97.52,172.18 98.96,170.06 100.78,170.39 102.58,171.17 104.31,170.06 106.01,169.91 107.38,171.68 109.12,170.28 110.32,170.49 111.79,170.51 112.91,170.12 114.55,171.89 115.6,171.45 117.28,169.79 119.02,169.53 120.56,170.7 122.12,170.35 123.5,171.04 124.89,171.47 126.29,170.96 127.33,171.33 128.77,170.33 130.45,171.61 131.86,170.25 133.29,169.64 134.41,170.39 135.51,170.65 136.97,169.56 138.53,169.36 140.19,171.31 141.65,169.8 143.1,170.29 144.94,169.73 146.7,172.06 148.36,172.23 149.54,172.77 150.98,172.85 152.79,170.59 154.5,172.12 155.57,170.9 157.24,169.98 159.04,170.04 160.76,169.68 162.21,171.82 163.41,170.56 164.86,170.34 165.91,169.88 167.07,171.93 168.67,172.43 169.83,172.25 170.95,171.47 172.52,170.73 174.29,171.08 175.81,172.13 176.92,172.77 178.48,171.22 180.19,170.39 182.07,171.04 183,171.23" fill="none" stroke="#e81e25" stroke-width="1.3" stroke-linejoin="round" stroke-linecap="round" />
<text x="185.1" y="174.3" font-size="7.9" font-weight="bold" fill="#000" textLength="11.2" lengthAdjust="spacingAndGlyphs" >E20</text>
<polygon points="20.5,22 32,22 26.3,32.2" fill="#111"/>
<path d="M92.3 190.6V210.2H141.2" fill="none" stroke="#000" stroke-width="1.5"/>
<text transform="translate(88.5 199.9) rotate(-90)" x="-11.6" font-size="7.3" font-weight="normal" fill="#000" textLength="23.2" lengthAdjust="spacingAndGlyphs" >200 µV</text>
<text x="99" y="219.7" font-size="9.2" font-weight="normal" fill="#000" text-anchor="start" >5 ms</text>
</g>
<g>
<rect x="220.9" y="34" width="20.8" height="77" fill="#e9e9e9"/>
<rect x="199.8" y="32.8" width="119.7" height="79.9" fill="none" stroke="#111" stroke-width="1.6" stroke-dasharray="2.3 2.1"/>
<polyline points="209,46 209,110" fill="none" stroke="#e81e25" stroke-width="0.95" stroke-linejoin="round" stroke-linecap="round" />
<polyline points="208.1,46 208.1,110" fill="none" stroke="#111" stroke-width="0.95" stroke-linejoin="round" stroke-linecap="round" />
<polyline points="212,110 212.2,90 213.4,76 217.1,70.2 222.3,69.2 226.5,97.4 231.1,92.8 239,72 244.2,72 252.6,75.5 256.8,75.7 262,74 267.2,75 275.5,75 282.8,71.3 287,72 293.3,75.5 305.8,76.3" fill="none" stroke="#e81e25" stroke-width="1.2" stroke-linejoin="round" stroke-linecap="round" />
<polyline points="213,110 213.2,90 213.9,77 217.1,69.9 222.3,68.8 226.5,67.8 234.9,70.9 240.1,67.8 244.7,69.4 248.4,68.8 253.6,67.1 258.8,68.4 266.2,69.9 270.3,68.8 275.5,68.2 279.7,69.4 284.9,67.4 292.2,66.3 297.4,70.3 301.6,67.8 305.8,69.9 310.4,66.7" fill="none" stroke="#111" stroke-width="1.2" stroke-linejoin="round" stroke-linecap="round" />
<polygon points="201.5,35 216,35 208.7,47" fill="#111"/>
<text x="288.3" y="44.9" font-size="13.1" font-weight="normal" fill="#111" text-anchor="start" textLength="28.4" lengthAdjust="spacingAndGlyphs">+TTX</text>
<text x="288" y="60.7" font-size="13.1" font-weight="normal" fill="#e81e25" text-anchor="start" textLength="27.4" lengthAdjust="spacingAndGlyphs">- TTX</text>
</g>
<g>
<path d="M33.3 307.7V435.6H224.1" fill="none" stroke="#000" stroke-width="1.5"/>
<line x1="29.7" y1="435.6" x2="33.3" y2="435.6" stroke="#000" stroke-width="1.4"/>
<text x="28.3" y="438.26" font-size="9.9" font-weight="bold" fill="#000" text-anchor="end" >0</text>
<line x1="29.7" y1="403.8" x2="33.3" y2="403.8" stroke="#000" stroke-width="1.4"/>
<text x="28.3" y="406.46" font-size="9.9" font-weight="bold" fill="#000" text-anchor="end" >10</text>
<line x1="29.7" y1="372" x2="33.3" y2="372" stroke="#000" stroke-width="1.4"/>
<text x="28.3" y="374.66" font-size="9.9" font-weight="bold" fill="#000" text-anchor="end" >20</text>
<line x1="29.7" y1="340.2" x2="33.3" y2="340.2" stroke="#000" stroke-width="1.4"/>
<text x="28.3" y="342.86" font-size="9.9" font-weight="bold" fill="#000" text-anchor="end" >30</text>
<line x1="29.7" y1="308.4" x2="33.3" y2="308.4" stroke="#000" stroke-width="1.4"/>
<text x="28.3" y="311.06" font-size="9.9" font-weight="bold" fill="#000" text-anchor="end" >40</text>
<line x1="64.8" y1="435.6" x2="64.8" y2="438.9" stroke="#000" stroke-width="1.3"/>
<text x="52.75" y="448.2" font-size="9.6" font-weight="bold" fill="#000" textLength="24.1" lengthAdjust="spacingAndGlyphs" >6 DIV</text>
<line x1="128.5" y1="435.6" x2="128.5" y2="438.9" stroke="#000" stroke-width="1.3"/>
<text x="113.75" y="448.2" font-size="9.6" font-weight="bold" fill="#000" textLength="29.5" lengthAdjust="spacingAndGlyphs" >12 DIV</text>
<line x1="191.6" y1="435.6" x2="191.6" y2="438.9" stroke="#000" stroke-width="1.3"/>
<text x="176.55" y="448.2" font-size="9.6" font-weight="bold" fill="#000" textLength="30.1" lengthAdjust="spacingAndGlyphs" >18 DIV</text>
<text transform="translate(9.8 375.6) rotate(-90)" x="-70.15" font-size="11.2" font-weight="bold" fill="#000" textLength="140.3" lengthAdjust="spacingAndGlyphs" >No responding electrodes</text>
<circle cx="65" cy="375.18" r="2.4" fill="#000"/>
<circle cx="65" cy="397.44" r="2.4" fill="#000"/>
<circle cx="61.2" cy="403.8" r="2.4" fill="#000"/>
<circle cx="68.7" cy="406.98" r="2.4" fill="#000"/>
<circle cx="61" cy="435.6" r="2.4" fill="#000"/>
<circle cx="68.9" cy="435.6" r="2.4" fill="#000"/>
<line x1="45" y1="409.21" x2="85.4" y2="409.21" stroke="#000" stroke-width="2"/>
<rect x="118.4" y="331.34" width="5" height="5" fill="#000"/>
<rect x="126" y="337.7" width="5" height="5" fill="#000"/>
<rect x="133.7" y="337.7" width="5" height="5" fill="#000"/>
<rect x="122.2" y="347.24" width="5" height="5" fill="#000"/>
<rect x="129.8" y="353.6" width="5" height="5" fill="#000"/>
<rect x="126" y="433.1" width="5" height="5" fill="#000"/>
<line x1="107.4" y1="359.28" x2="149.4" y2="359.28" stroke="#000" stroke-width="2"/>
<polygon points="191.8,330.76 188.85,336.07 194.75,336.07" fill="#000"/>
<polygon points="191.8,359.38 188.85,364.69 194.75,364.69" fill="#000"/>
<polygon points="191.8,375.28 188.85,380.59 194.75,380.59" fill="#000"/>
<line x1="170.9" y1="358.01" x2="212.8" y2="358.01" stroke="#000" stroke-width="2"/>
<path d="M65.1 308.8V305.9H191.8V308.8" fill="none" stroke="#444" stroke-width="0.95"/>
<path d="M65.1 324.6V321.8H129.3V324.6" fill="none" stroke="#444" stroke-width="0.95"/>
<path d="M129 295.9L129 304.1M132.55 297.95L125.45 302.05M132.55 302.05L125.45 297.95" stroke="#111" stroke-width="1.05" fill="none"/>
<path d="M97.8 312.8L97.8 321M101.35 314.85L94.25 318.95M101.35 318.95L94.25 314.85" stroke="#111" stroke-width="1.05" fill="none"/>
</g>
<g>
<rect x="277.1" y="387.81" width="29.8" height="47.49" fill="#000"/>
<rect x="319.9" y="347.84" width="30" height="87.46" fill="#a3a3a5"/>
<path d="M284.2 357.69H299.6M291.9 357.69V388.96" stroke="#000" stroke-width="1.4" fill="none"/>
<path d="M327.2 307.01H342.6M334.8 307.01V348.42" stroke="#000" stroke-width="1.4" fill="none"/>
<path d="M270.3 289.8V435.3H350" fill="none" stroke="#000" stroke-width="1.5"/>
<line x1="265.3" y1="435.3" x2="270.3" y2="435.3" stroke="#000" stroke-width="1.4"/>
<text x="264.4" y="438.67" font-size="10.2" font-weight="bold" fill="#000" text-anchor="end" >0</text>
<line x1="265.3" y1="406.34" x2="270.3" y2="406.34" stroke="#000" stroke-width="1.4"/>
<text x="264.4" y="409.71" font-size="10.2" font-weight="bold" fill="#000" text-anchor="end" >1</text>
<line x1="265.3" y1="377.38" x2="270.3" y2="377.38" stroke="#000" stroke-width="1.4"/>
<text x="264.4" y="380.75" font-size="10.2" font-weight="bold" fill="#000" text-anchor="end" >2</text>
<line x1="265.3" y1="348.42" x2="270.3" y2="348.42" stroke="#000" stroke-width="1.4"/>
<text x="264.4" y="351.79" font-size="10.2" font-weight="bold" fill="#000" text-anchor="end" >3</text>
<line x1="265.3" y1="319.46" x2="270.3" y2="319.46" stroke="#000" stroke-width="1.4"/>
<text x="264.4" y="322.83" font-size="10.2" font-weight="bold" fill="#000" text-anchor="end" >4</text>
<line x1="265.3" y1="290.5" x2="270.3" y2="290.5" stroke="#000" stroke-width="1.4"/>
<text x="264.4" y="293.87" font-size="10.2" font-weight="bold" fill="#000" text-anchor="end" >5</text>
<text x="278.9" y="448.2" font-size="9.8" font-weight="bold" fill="#000" textLength="26.6" lengthAdjust="spacingAndGlyphs" >50 µA</text>
<text x="319" y="448.2" font-size="9.8" font-weight="bold" fill="#000" textLength="32" lengthAdjust="spacingAndGlyphs" >100 µA</text>
<text transform="translate(239.3 364.8) rotate(-90)" x="-67.75" font-size="11.2" font-weight="bold" fill="#000" textLength="135.5" lengthAdjust="spacingAndGlyphs" >% electrodes responding</text>
<text transform="translate(251.8 364.8) rotate(-90)" x="-55.25" font-size="11.2" font-weight="bold" fill="#000" textLength="110.5" lengthAdjust="spacingAndGlyphs" >with 2 SUP per MEA</text>
</g>
<g>
<rect x="383.5" y="328" width="18.3" height="100" fill="#dcdddf"/>
<rect x="406.8" y="328" width="17.7" height="100" fill="#dcdddf"/>
<rect x="361.6" y="315.0" width="136.9" height="121.7" fill="none" stroke="#111" stroke-width="1.6" stroke-dasharray="2.6 2.4"/>
<polyline points="368.6,335.8 370.5,337.4 372.5,339.2 374.5,338 376.5,339.9 378.4,337.4 379.8,336.7 380.2,336.9 380,379" fill="none" stroke="#111" stroke-width="1.2" stroke-linejoin="round" stroke-linecap="round" />
<polyline points="383.2,382 383.8,368 384.4,358.5 385.7,350.6 387,355.9 389,354.5 391,353.6 392.9,367.7 395.3,373.2 397.6,365.1 400.9,350.6 404.1,345.6 406.8,346 408.8,349.3 412,361.1 414,370.3 416,360.5 418.6,355.9 423.9,350.8 427.2,353.9 428.5,354.46 430.26,355.83 431.93,354.99 433.72,353.77 435.43,354.74 437.43,353.42 438.93,353.02 440.94,354.71 442.17,356.08 444.35,355.51 446.17,353.84 447.37,354.46 448.62,353.63 450.06,352.9 451.72,353.91 453.77,354.45 455.61,354.55 457.48,354.46 458.95,356.05 461.16,356.06 463.07,354.48 464.5,353.93 465.76,355.2 467.36,355.82 468.94,356.34 470.99,353.62 472.4,355.54 474.07,356.32 475.66,353.84 477.49,355.21 478.96,353.54 480.49,355.68 482.45,353.78 483.89,353.16 485.14,355.06 486.52,354.92 488.16,353.77 490.1,353.24 490.7,354.25" fill="none" stroke="#111" stroke-width="1.2" stroke-linejoin="round" stroke-linecap="round" />
<polyline points="368.6,381.24 369.92,380.89 371.98,381.85 373.39,382.31 374.71,381.46 376.65,381.7 377.87,382.47 379.19,381.24 379.4,381.3 380.2,381.1 380.3,423" fill="none" stroke="#e81e25" stroke-width="1.2" stroke-linejoin="round" stroke-linecap="round" />
<polyline points="383.1,423 383.6,405 384.4,394 386.4,382.8 387.9,388.7 389.3,383.4 391,378.2 392.3,388.7 393.6,392 395.3,399.3 398.2,396.6 400.9,384.8 404.1,381.1 406.8,384.8 410.1,386.1 415.4,386.7 416.8,385.89 417.99,385.22 419.67,385.4 421.37,385.78 422.92,387.36 424.51,386.88 426.46,385.75 427.73,387.23 429.63,386.02 430.93,386.89 432.96,385.79 434.99,387.17 436.69,386.44 437.91,385.26 439.95,385.4 441.75,385.49 443.66,386.37 445.06,385.58 446.87,385.08 448.21,386.15 450.15,386.61 451.54,387.51 452.85,385.52 454.23,386 455.41,385.47 456.89,386.3 458.13,386.03 460.11,387.49 461.86,387.2 463.54,385.74 464.69,385 466.69,386.48 468.73,385.23 470.46,386 472.28,385.83 474.36,385.17 476.01,386.62 477.99,387.06 479.79,387.33 481.78,386.31 483.56,387.37 485.52,386.49 487.4,387.33 489.07,386.99 490.55,386.78 490.7,386.09" fill="none" stroke="#e81e25" stroke-width="1.2" stroke-linejoin="round" stroke-linecap="round" />
<polygon points="376.6,324.4 383.8,324.4 380.2,330" fill="#111"/>
<text x="465.8" y="366.6" font-size="6.1" font-weight="bold" fill="#111" text-anchor="start" >100 µA</text>
<text x="465.8" y="396" font-size="6.1" font-weight="bold" fill="#e81e25" text-anchor="start" >50 µA</text>
<path d="M440.6 399V416.3H482.8" fill="none" stroke="#111" stroke-width="1.3"/>
<text transform="translate(437.2 408) rotate(-90)" x="-11.1" font-size="6.9" font-weight="normal" fill="#000" textLength="22.2" lengthAdjust="spacingAndGlyphs" >100 µV</text>
<text x="456.75" y="428.5" font-size="7" font-weight="normal" fill="#000" textLength="14.5" lengthAdjust="spacingAndGlyphs" >5 ms</text>
</g>
<g>
<path d="M562.5 303.5V438H707.6" fill="none" stroke="#000" stroke-width="1.5"/>
<line x1="559.3" y1="438" x2="562.5" y2="438" stroke="#000" stroke-width="1.4"/>
<text x="558.6" y="443.5" font-size="10.7" font-weight="bold" fill="#000" text-anchor="end" >0</text>
<line x1="559.3" y1="411.24" x2="562.5" y2="411.24" stroke="#000" stroke-width="1.4"/>
<text x="558.6" y="416.74" font-size="10.7" font-weight="bold" fill="#000" text-anchor="end" >20</text>
<line x1="559.3" y1="384.48" x2="562.5" y2="384.48" stroke="#000" stroke-width="1.4"/>
<text x="558.6" y="389.98" font-size="10.7" font-weight="bold" fill="#000" text-anchor="end" >40</text>
<line x1="559.3" y1="357.72" x2="562.5" y2="357.72" stroke="#000" stroke-width="1.4"/>
<text x="558.6" y="363.22" font-size="10.7" font-weight="bold" fill="#000" text-anchor="end" >60</text>
<line x1="559.3" y1="330.96" x2="562.5" y2="330.96" stroke="#000" stroke-width="1.4"/>
<text x="558.6" y="336.46" font-size="10.7" font-weight="bold" fill="#000" text-anchor="end" >80</text>
<line x1="559.3" y1="304.2" x2="562.5" y2="304.2" stroke="#000" stroke-width="1.4"/>
<text x="558.6" y="309.7" font-size="10.7" font-weight="bold" fill="#000" text-anchor="end" >100</text>
<line x1="601.8" y1="438" x2="601.8" y2="441.8" stroke="#000" stroke-width="1.3"/>
<text x="588.6" y="452.8" font-size="10.4" font-weight="bold" fill="#000" textLength="26.4" lengthAdjust="spacingAndGlyphs" >basal</text>
<line x1="680.3" y1="438" x2="680.3" y2="441.8" stroke="#000" stroke-width="1.3"/>
<text x="665" y="452.8" font-size="10.4" font-weight="bold" fill="#000" textLength="30.6" lengthAdjust="spacingAndGlyphs" >CNQX</text>
<text transform="translate(522.1 368.2) rotate(-90)" x="-59.75" font-size="11.2" font-weight="bold" fill="#000" textLength="119.5" lengthAdjust="spacingAndGlyphs" >Total no SUP detected</text>
<text transform="translate(536.4 368.2) rotate(-90)" x="-23" font-size="11.2" font-weight="bold" fill="#000" textLength="46" lengthAdjust="spacingAndGlyphs" >per MEA</text>
<ellipse cx="601.7" cy="325.8" rx="2.2" ry="2.8" fill="#000"/>
<ellipse cx="601.7" cy="364.9" rx="2.2" ry="2.8" fill="#000"/>
<ellipse cx="601.7" cy="379.1" rx="2.2" ry="2.8" fill="#000"/>
<ellipse cx="592.5" cy="403.6" rx="2.2" ry="2.8" fill="#000"/>
<ellipse cx="598.5" cy="409.3" rx="2.2" ry="2.8" fill="#000"/>
<ellipse cx="604.9" cy="410.3" rx="2.2" ry="2.8" fill="#000"/>
<ellipse cx="610.9" cy="407.7" rx="2.2" ry="2.8" fill="#000"/>
<ellipse cx="601.7" cy="420.9" rx="2.2" ry="2.8" fill="#000"/>
<line x1="575.8" y1="389.3" x2="627.6" y2="389.3" stroke="#000" stroke-width="1.8"/>
<path d="M588.5 379.1H614.4M588.5 401.5H614.4M601.7 379.1V401.5" stroke="#000" stroke-width="1.5" fill="none"/>
<rect x="678.3" y="320.1" width="4" height="5.4" fill="#000"/>
<rect x="678.3" y="373.5" width="4" height="5.4" fill="#000"/>
<rect x="678.3" y="383.3" width="4" height="5.4" fill="#000"/>
<rect x="675.3" y="391.6" width="4" height="5.4" fill="#000"/>
<rect x="681.2" y="394" width="4" height="5.4" fill="#000"/>
<rect x="672.3" y="400.5" width="4" height="5.4" fill="#000"/>
<rect x="678.6" y="406.3" width="4" height="5.4" fill="#000"/>
<rect x="684.4" y="406.3" width="4" height="5.4" fill="#000"/>
<line x1="654.2" y1="387.1" x2="706.4" y2="387.1" stroke="#000" stroke-width="1.8"/>
<path d="M667.3 377.2H693.1M667.3 396.7H693.1M680.3 377.2V396.7" stroke="#000" stroke-width="1.5" fill="none"/>
</g>
<g>
<text transform="translate(1.5 18.7) scale(1.11 1)" font-size="22.1" font-weight="bold" fill="#000">e</text>
<text transform="translate(194.3 18.8) scale(1.11 1)" font-size="22.1" font-weight="bold" fill="#000">e’</text>
<text transform="translate(325.6 18.5) scale(1.11 1.06)" font-size="22.1" font-weight="bold" fill="#000">f</text>
<text transform="translate(19.8 272.1) scale(1.11 1)" font-size="22.1" font-weight="bold" fill="#000">g</text>
<text transform="translate(258.6 267.3) scale(1.11 1)" font-size="22.1" font-weight="bold" fill="#000">h</text>
<text transform="translate(361.2 305.6) scale(1.11 1)" font-size="22.1" font-weight="bold" fill="#000">h’</text>
<text transform="translate(513.1 272.3) scale(1 1)" font-size="22.1" font-weight="bold" fill="#000">i</text>
</g>
</svg></body></html>
